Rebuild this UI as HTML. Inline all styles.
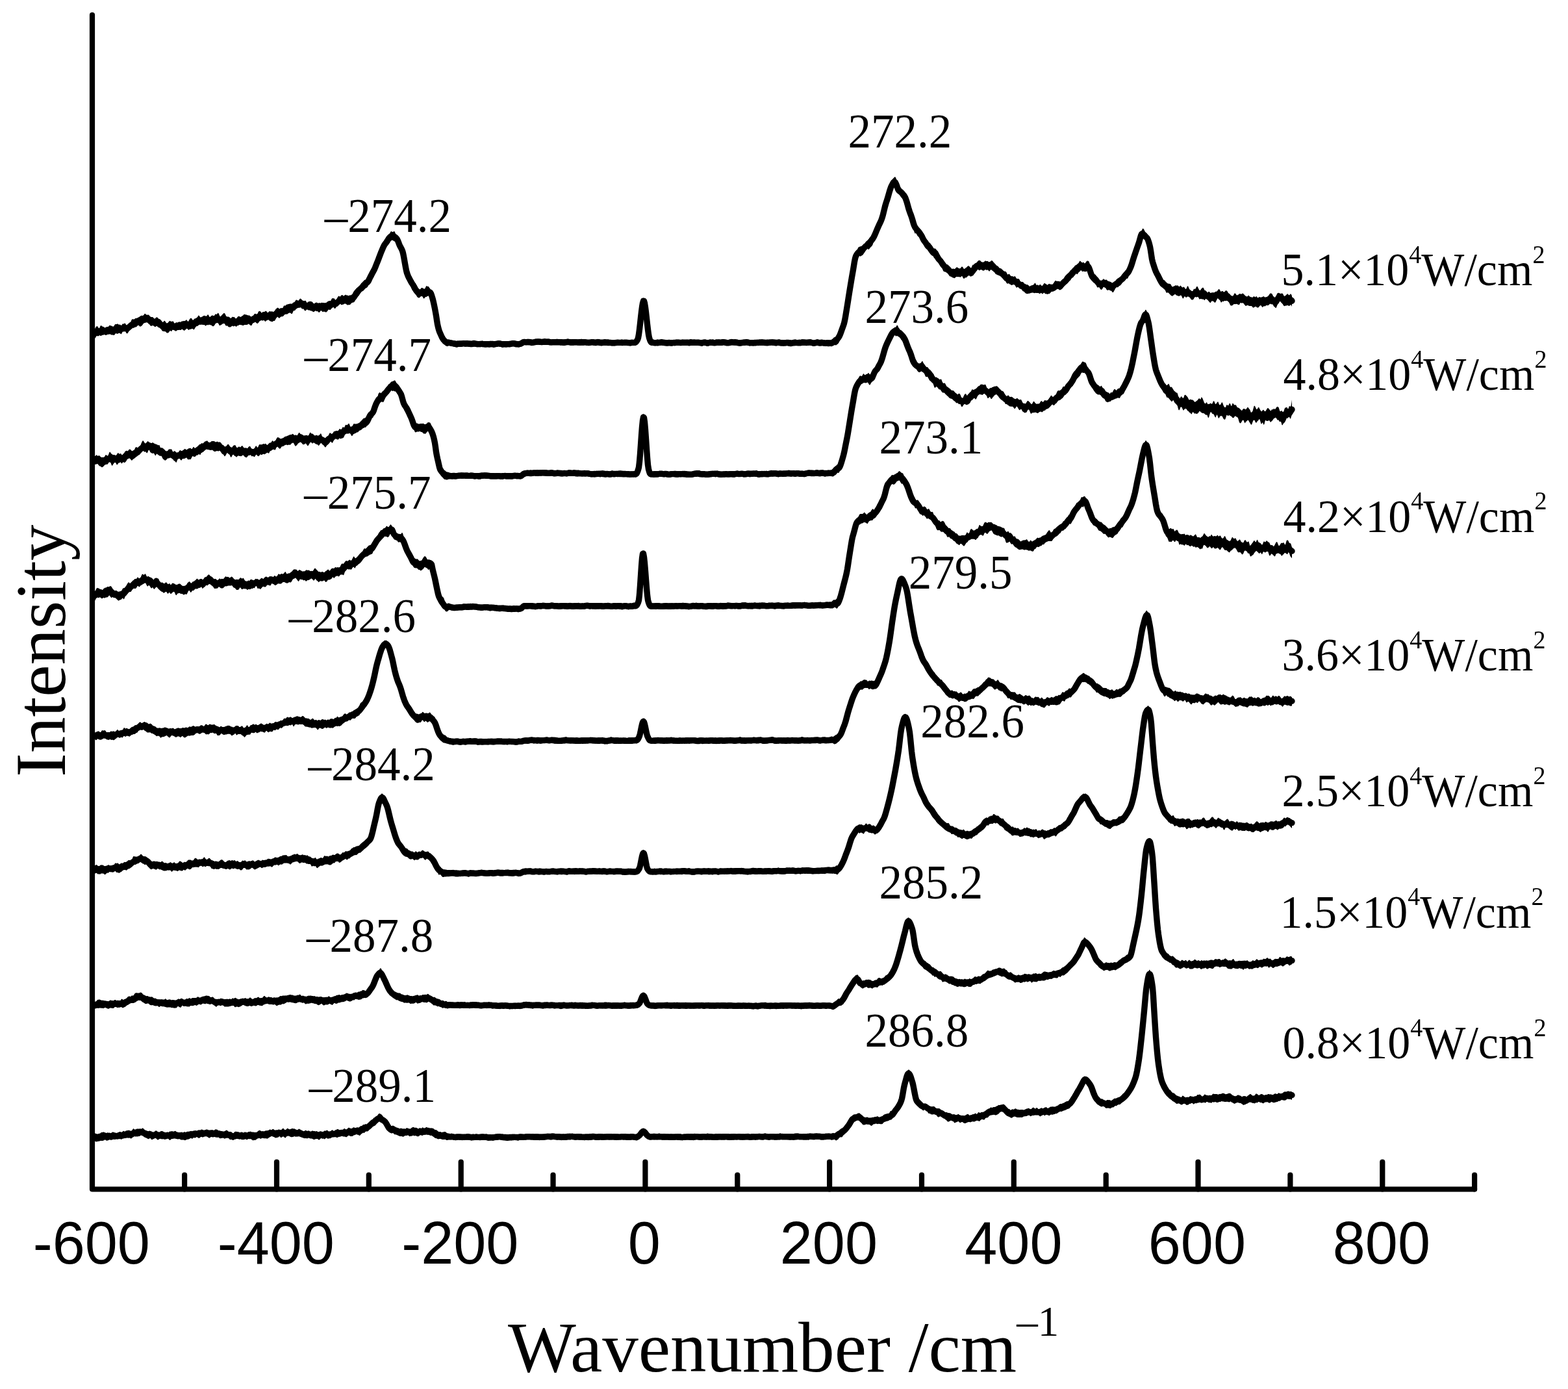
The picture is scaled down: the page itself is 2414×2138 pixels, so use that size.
<!DOCTYPE html>
<html><head><meta charset="utf-8"><title>Raman spectra</title>
<style>html,body{margin:0;padding:0;background:#fff;overflow:hidden;width:2414px;height:2138px;}svg{display:block;}</style>
</head><body>
<svg width="2414" height="2138" viewBox="0 0 2414 2138">
<rect width="2414" height="2138" fill="#fff"/>
<g fill="none" stroke="#000" stroke-linejoin="round" stroke-linecap="round">
<path stroke-width="9.4" d="M145.5,511.3l1,-0.1 1,-0.2 1,-0.2 1,-0.3 1,-0.3 1,0 1,0.1 1,0.3 1,0.3 1,0.2 1,0 1,-0.3 1,-0.5 1,-0.4 1,-0.3 1,-0.1 1,0.1 1,0.3 1,0.1 1,-0.2 1,-0.6 1,-0.8 1,-0.7 1,-0.4 1,0.1 1,0.4 1,0.8 1,0.7 1,0.2 1,-0.6 1,-1.1 1,-1.2 1,-0.8 1,-0.3 1,0.1 1,0 1,0 1,0 1,0.1 1,0.2 1,0.1 1,-0.1 1,-0.3 1,-0.4 1,-0.1 1,0 1,0.1 1,-0 1,-0.2 1,-0.2 1,-0.2 1,-0.4 1,-0.6 1,-0.8 1,-0.9 1,-0.9 1,-0.8 1,-0.5 1,-0.4 1,-0.2 1,-0.4 1,-0.5 1,-0.7 1,-0.6 1,-0.5 1,-0.4 1,-0.6 1,-0.7 1,-0.7 1,-0.6 1,-0.3 1,-0.2 1,-0.1 1,-0 1,-0.1 1,-0.3 1,-0.3 1,-0.5 1,-0.4 1,-0.3 1,-0.2 1,0.1 1,0.4 1,0.6 1,0.7 1,0.8 1,0.9 1,0.7 1,0.6 1,0.4 1,0.3 1,0.4 1,0.2 1,0.1 1,-0 1,0.1 1,0.2 1,0.4 1,0.5 1,0.6 1,0.6 1,0.6 1,0.4 1,0.3 1,0.2 1,0.4 1,0.7 1,0.8 1,0.7 1,0.6 1,0.3 1,-0 1,-0 1,-0 1,-0 1,-0.2 1,-0.4 1,-0.6 1,-0.4 1,-0.1 1,0.2 1,0.3 1,0.2 1,-0 1,-0.3 1,-0.5 1,-0.6 1,-0.7 1,-0.3 1,0.2 1,0.4 1,0.3 1,-0 1,-0.2 1,-0.2 1,0.1 1,0.2 1,0.1 1,-0.3 1,-0.6 1,-0.6 1,-0.3 1,0.1 1,0.4 1,0.1 1,-0.4 1,-0.6 1,-0.5 1,-0.3 1,0.1 1,-0 1,-0 1,-0.2 1,-0.3 1,-0.6 1,-0.9 1,-0.9 1,-0.9 1,-0.8 1,-0.5 1,-0.1 1,-0 1,-0.1 1,-0.2 1,-0.4 1,-0.3 1,-0.1 1,0.1 1,0.2 1,0.3 1,0.3 1,0.2 1,-0.1 1,-0.2 1,-0.3 1,-0.1 1,0.1 1,0.1 1,-0.1 1,-0.2 1,-0.4 1,-0.4 1,-0.2 1,-0 1,0.2 1,0.2 1,0.1 1,-0.2 1,-0.2 1,-0.2 1,-0 1,0.2 1,0.2 1,0.3 1,0.2 1,-0.2 1,-0.5 1,-0.6 1,-0.5 1,0.1 1,0.6 1,0.9 1,0.9 1,0.7 1,0.6 1,0.5 1,0.3 1,0.1 1,-0.1 1,-0.3 1,-0.4 1,-0.5 1,-0.3 1,-0 1,0.3 1,0.4 1,0.5 1,0.4 1,-0 1,-0.2 1,-0.3 1,-0.2 1,0.1 1,-0.1 1,-0.1 1,-0.3 1,-0.4 1,-0.4 1,-0.2 1,-0 1,0.2 1,0.1 1,-0.1 1,-0.6 1,-0.7 1,-0.5 1,-0.1 1,0.3 1,0.4 1,0.5 1,0.2 1,-0.1 1,-0.4 1,-0.9 1,-1 1,-0.8 1,-0.4 1,-0 1,0.1 1,-0.1 1,-0.3 1,-0.5 1,-0.6 1,-0.4 1,-0.2 1,0.1 1,0.2 1,-0.1 1,-0.3 1,-0.7 1,-0.5 1,-0.2 1,-0 1,0.1 1,-0 1,0.1 1,0.3 1,0.3 1,0.3 1,0.1 1,-0 1,-0.3 1,-0.4 1,-0.5 1,-0.4 1,-0.3 1,-0.3 1,-0.5 1,-0.9 1,-1 1,-0.6 1,-0.1 1,0.4 1,0.3 1,-0.1 1,-0.7 1,-1 1,-1 1,-0.7 1,-0.4 1,-0.3 1,-0.3 1,-0.5 1,-0.5 1,-0.5 1,-0.2 1,-0.2 1,-0.2 1,-0.2 1,-0.3 1,-0.3 1,-0.3 1,-0.5 1,-0.5 1,-0.5 1,-0.7 1,-0.7 1,-0.9 1,-1.1 1,-1.1 1,-0.7 1,-0.2 1,0.1 1,0.3 1,0.2 1,-0.1 1,-0.2 1,-0.1 1,0.2 1,0.2 1,0.3 1,0.3 1,0.2 1,0.4 1,0.6 1,0.4 1,0.3 1,0.1 1,-0 1,-0.1 1,-0 1,-0.1 1,-0 1,-0 1,0.2 1,0.5 1,0.6 1,0.5 1,0.1 1,-0 1,-0 1,0.3 1,0.3 1,0.3 1,-0.2 1,-0.5 1,-0.7 1,-0.5 1,-0.1 1,0.5 1,0.6 1,0.6 1,0.3 1,-0 1,-0.3 1,-0.5 1,-0.5 1,-0.5 1,-0.5 1,-0.3 1,-0.2 1,-0.3 1,-0.5 1,-0.7 1,-0.9 1,-0.9 1,-0.8 1,-0.4 1,0.1 1,0.3 1,0.1 1,-0.3 1,-0.6 1,-0.9 1,-0.9 1,-0.8 1,-0.8 1,-0.5 1,-0.1 1,0.1 1,0.1 1,-0.2 1,-0.5 1,-0.4 1,-0.2 1,0.2 1,0.5 1,0.5 1,0.5 1,0.1 1,-0.1 1,-0.2 1,-0.3 1,-0.3 1,-0.4 1,-0.7 1,-0.9 1,-1 1,-1.1 1,-1.3 1,-1.6 1,-1.9 1,-1.8 1,-1.4 1,-1.1 1,-0.9 1,-1.1 1,-1 1,-0.9 1,-0.7 1,-0.6 1,-1 1,-1.2 1,-1.4 1,-1.4 1,-1.3 1,-1 1,-0.7 1,-0.4 1,-0.5 1,-1 1,-1.7 1,-2.2 1,-2.2 1,-2.1 1,-1.9 1,-1.9 1,-1.8 1,-1.8 1,-1.8 1,-2 1,-2.3 1,-2.5 1,-2.6 1,-2.5 1,-2.5 1,-2.5 1,-2.6 1,-2.7 1,-2.6 1,-2.6 1,-2.4 1,-2.4 1,-2.4 1,-2.1 1,-2 1,-1.6 1,-1.3 1,-1.2 1,-1.3 1,-1.7 1,-1.8 1,-1.6 1,-1.2 1,-1 1,-0.8 1,-0.5 1,-0.3 1,0.1 1,0.2 1,0.4 1,0.5 1,0.7 1,0.8 1,1.1 1,1.4 1,2.1 1,2.5 1,2.6 1,2.4 1,1.9 1,1.9 1,1.9 1,2.3 1,3.5 1,4.9 1,5.6 1,5.7 1,5.6 1,5 1,3.8 1,2.8 1,2.4 1,2.1 1,1.9 1,1.9 1,1.8 1,1.8 1,1.6 1,1.5 1,1.6 1,1.7 1,1.9 1,1.9 1,1.7 1,1.4 1,1.1 1,0.9 1,0.8 1,0.5 1,-0.2 1,-0.5 1,-0.6 1,-0.2 1,0.2 1,0.4 1,0.1 1,-0.2 1,-0.3 1,-0.3 1,-0.1 1,-0.1 1,-0.1 1,-0.1 1,0.1 1,0.2 1,0.5 1,1.7 1,2.7 1,3.2 1,3.5 1,4.2 1,4.6 1,5 1,5.3 1,5.6 1,6.6 1,6.3 1,4.5 1,3.8 1,3.1 1,2.3 1,2.2 1,2.2 1,2.1 1,1.9 1,1.4 1,1.2 1,1.1 1,0.9 1,0.8 1,0.6 1,0.2 1,0.1 1,-0 1,0.1 1,0.2 1,0.3 1,0.2 1,0.2 1,0.1 1,0.2 1,0.2 1,0.2 1,0.1 1,0.1 1,0.1 1,-0 1,-0.1 1,0.1 1,-0 1,-0 1,-0.1 1,-0.1 1,-0.1 1,-0.1 1,-0.1 1,-0 1,-0 1,0.1 1,-0 1,-0 1,-0 1,-0 1,-0 1,0.1 1,0.1 1,0.2 1,0.1 1,0.1 1,-0.1 1,-0.1 1,-0.2 1,-0.2 1,-0.1 1,0.1 1,0.1 1,0.2 1,0.2 1,0.1 1,-0 1,-0 1,-0 1,-0.1 1,-0.1 1,-0 1,0.1 1,0.1 1,-0 1,-0 1,-0 1,-0 1,-0 1,-0 1,-0 1,0.1 1,0.1 1,-0.1 1,-0.1 1,-0.1 1,-0 1,-0 1,-0 1,0.1 1,0.1 1,-0 1,-0.1 1,-0.1 1,-0.2 1,-0.2 1,-0.2 1,-0 1,-0 1,0.2 1,0.2 1,0.2 1,0.2 1,-0 1,-0 1,-0.1 1,-0 1,-0 1,-0 1,-0 1,-0 1,-0 1,-0 1,-0 1,-0.1 1,-0.1 1,-0.2 1,-0.2 1,-0.2 1,-0.1 1,-0 1,0.2 1,0.2 1,0.3 1,0.3 1,0.1 1,-0 1,-0 1,-0.1 1,-0.2 1,-0.2 1,-0.2 1,-0.4 1,-0.6 1,-0.7 1,-0.6 1,-0.3 1,-0 1,0.1 1,0.1 1,-0 1,-0.1 1,-0 1,-0.1 1,-0 1,0.1 1,0.1 1,0.2 1,0.2 1,-0 1,-0 1,-0.1 1,-0.1 1,-0.2 1,-0.2 1,-0.2 1,-0.2 1,-0 1,-0.1 1,0.1 1,0.1 1,0.1 1,0.1 1,0.1 1,-0 1,-0.1 1,-0 1,-0.1 1,-0.1 1,-0 1,-0 1,0.1 1,-0 1,-0 1,0.1 1,0.1 1,0.2 1,0.1 1,0.1 1,-0 1,-0 1,-0.1 1,-0.1 1,-0.1 1,0.1 1,0.1 1,-0 1,-0 1,-0 1,-0 1,-0.1 1,-0 1,-0 1,-0 1,0.1 1,0.1 1,0.1 1,-0 1,-0 1,-0 1,-0.2 1,-0.1 1,-0.1 1,-0.1 1,-0 1,-0 1,0.1 1,0.1 1,0.2 1,0.1 1,0.1 1,-0 1,-0.1 1,-0.1 1,-0.1 1,-0 1,-0 1,0.1 1,-0 1,0.1 1,0.1 1,-0 1,-0 1,-0.1 1,-0 1,0.1 1,-0 1,-0 1,-0.1 1,-0.1 1,-0 1,-0 1,0.1 1,0.2 1,0.1 1,0.1 1,0.1 1,-0.1 1,-0.2 1,-0.2 1,-0.1 1,-0.1 1,0.1 1,0.2 1,0.1 1,0.1 1,-0 1,-0.1 1,-0.2 1,-0.2 1,-0.1 1,-0 1,0.1 1,0.2 1,0.2 1,0.1 1,0.1 1,-0.1 1,-0.1 1,-0.1 1,-0.1 1,0.1 1,-0 1,-0 1,0.1 1,-0 1,0.1 1,0.1 1,-0 1,0.1 1,-0 1,0.2 1,0.1 1,0.1 1,-0 1,-0.1 1,-0.1 1,-0.1 1,-0.1 1,-0.1 1,-0.1 1,-0 1,0.1 1,-0 1,-0 1,-0 1,-0 1,-0 1,-0 1,-0 1,-0 1,-0.1 1,-0.1 1,-0 1,0.1 1,0.1 1,0.1 1,0.1 1,-0 1,-0 1,-0 1,-0.1 1,-0.1 1,-0 1,-0 1,-0 1,-0 1,-0 1,-0.4 1,-1 1,-1.4 1,-1.7 1,-2.7 1,-5.5 1,-7.6 1,-8.9 1,-9.2 1,-8.8 1,-7.7 1,-5.9 1,-3.3 1,0.1 1,3.5 1,6.1 1,7.9 1,8.9 1,9.1 1,8.5 1,7.4 1,5.3 1,3 1,2.4 1,1.5 1,0.1 1,-0 1,0.2 1,0.2 1,0.3 1,-0 1,-0.1 1,-0.1 1,-0.1 1,-0 1,-0 1,-0.1 1,-0.1 1,-0.2 1,-0.1 1,-0 1,0.1 1,0.2 1,0.1 1,0.1 1,-0 1,0.1 1,0.1 1,-0 1,-0 1,-0 1,-0 1,-0 1,-0 1,0.1 1,-0.1 1,-0 1,-0.1 1,-0 1,-0.1 1,-0 1,-0 1,-0.1 1,-0.2 1,-0.1 1,-0 1,0.1 1,0.1 1,0.1 1,0.1 1,-0 1,-0.1 1,-0 1,-0.1 1,-0 1,-0 1,-0 1,-0 1,-0.1 1,-0 1,0.1 1,-0 1,0.1 1,-0 1,-0.1 1,-0 1,-0 1,0.1 1,-0 1,-0 1,-0.1 1,-0 1,-0.1 1,-0 1,-0 1,-0 1,0.1 1,0.1 1,0.1 1,0.1 1,0.1 1,0.1 1,-0.1 1,-0.1 1,-0.2 1,-0.2 1,-0.1 1,0.1 1,0.2 1,0.2 1,0.2 1,-0 1,-0.1 1,-0.2 1,-0.1 1,-0.1 1,-0 1,0.1 1,-0 1,0.1 1,0.1 1,0.1 1,-0 1,-0.1 1,-0.2 1,-0.2 1,-0.1 1,-0 1,0.1 1,0.1 1,0.1 1,-0 1,-0.1 1,-0.1 1,-0.2 1,-0.2 1,-0 1,0.2 1,0.2 1,0.3 1,0.1 1,0.1 1,0.1 1,-0.1 1,-0.1 1,-0.2 1,-0.3 1,-0.2 1,-0 1,-0 1,-0 1,-0 1,-0 1,-0.1 1,0.1 1,0.1 1,0.2 1,0.3 1,0.3 1,0.2 1,-0 1,-0 1,-0.2 1,-0.2 1,-0.1 1,-0.1 1,-0.1 1,-0 1,-0.1 1,-0.2 1,-0.1 1,-0.1 1,0.1 1,0.2 1,0.3 1,0.2 1,0.2 1,0.1 1,-0 1,-0.1 1,-0 1,-0 1,0.1 1,-0 1,-0.1 1,-0.1 1,-0.2 1,-0.1 1,-0 1,-0 1,-0.1 1,-0.1 1,-0 1,-0.1 1,-0 1,0.1 1,-0 1,0.1 1,0.1 1,0.1 1,0.1 1,-0 1,-0 1,-0 1,-0.1 1,-0.1 1,-0.1 1,-0.1 1,-0.1 1,-0 1,-0.1 1,0.1 1,0.1 1,0.2 1,0.1 1,-0 1,-0 1,-0 1,-0.1 1,-0.1 1,-0 1,0.1 1,0.2 1,0.1 1,-0 1,-0 1,0.1 1,-0 1,0.1 1,-0 1,-0.1 1,-0.1 1,-0.2 1,-0 1,-0.1 1,0.1 1,0.1 1,0.2 1,0.2 1,0.1 1,0.1 1,-0.2 1,-0.2 1,-0.2 1,-0.1 1,-0 1,-0 1,0.1 1,-0 1,-0 1,0.1 1,0.1 1,-0 1,-0 1,-0.1 1,-0.2 1,-0.1 1,-0.1 1,-0 1,-0 1,-0 1,-0 1,0.1 1,0.1 1,-0.1 1,-0.1 1,-0.2 1,-0.1 1,-0.1 1,0.1 1,0.2 1,0.3 1,0.2 1,0.2 1,0.1 1,-0 1,-0.1 1,-0.2 1,-0.3 1,-0.2 1,-0.1 1,0.1 1,0.3 1,0.2 1,0.1 1,-0 1,-0.1 1,-0.1 1,-0 1,0.1 1,0.1 1,0.1 1,-0 1,-0 1,-0 1,-0.1 1,0.1 1,-0 1,-0 1,0.1 1,-0 1,-0.1 1,-0.1 1,-0.2 1,-0.6 1,-0.9 1,-0.8 1,-0.8 1,-0.7 1,-0.5 1,-0.8 1,-1 1,-1.3 1,-1.5 1,-1.8 1,-2.3 1,-2.6 1,-2.8 1,-2.9 1,-2.7 1,-2.8 1,-3.1 1,-4.3 1,-5.3 1,-6 1,-6.1 1,-6.3 1,-6.3 1,-6.4 1,-6.3 1,-6.2 1,-6.1 1,-6 1,-5.9 1,-5.6 1,-5.7 1,-6.2 1,-6.2 1,-5 1,-3.3 1,-1.9 1,-1.6 1,-1.3 1,-1.1 1,-0.6 1,-0.6 1,-0.8 1,-0.8 1,-1 1,-0.8 1,-0.8 1,-0.8 1,-1 1,-1.1 1,-1 1,-0.6 1,-0.5 1,-0.6 1,-1 1,-1.3 1,-1.4 1,-1.4 1,-1.2 1,-1 1,-1.2 1,-1.4 1,-1.6 1,-1.9 1,-2 1,-2.3 1,-2.4 1,-2.5 1,-2.3 1,-2.3 1,-2.3 1,-2.2 1,-2 1,-2.1 1,-2.3 1,-2.6 1,-3.1 1,-3.6 1,-4 1,-4.2 1,-4.1 1,-3.5 1,-3.2 1,-3 1,-3.2 1,-3.4 1,-3.6 1,-3.5 1,-3.2 1,-2.8 1,-2.2 1,-1.9 1,-2 1,-1.6 1,-0.9 1,-0 1,1.1 1,2 1,2.5 1,2.9 1,2.7 1,1.8 1,1.1 1,0.7 1,0.5 1,0.9 1,1 1,1.2 1,1.1 1,1.2 1,1.4 1,1.8 1,2.5 1,2.8 1,3.3 1,3.6 1,3.7 1,3.4 1,3 1,2.6 1,2.6 1,2.9 1,3.2 1,3.5 1,3.4 1,2.8 1,2.2 1,1.6 1,1.3 1,1.2 1,1.1 1,1.1 1,1.1 1,1.4 1,1.4 1,1.4 1,1.6 1,1.8 1,2.1 1,2.1 1,1.7 1,1.4 1,1.2 1,1.4 1,1.7 1,1.7 1,1.3 1,1 1,0.8 1,1.1 1,1.4 1,1.5 1,1.4 1,1.4 1,1.2 1,0.9 1,0.5 1,0.5 1,0.8 1,1.3 1,1.7 1,1.8 1,1.6 1,1.3 1,1.1 1,1 1,1.3 1,1.5 1,1.6 1,1.6 1,1.3 1,1 1,0.9 1,0.9 1,0.9 1,0.6 1,0.6 1,0.8 1,1 1,1.2 1,1.2 1,1.1 1,0.9 1,0.6 1,0.5 1,0.3 1,-0 1,-0.3 1,-0.4 1,-0.3 1,-0.1 1,0.1 1,0.3 1,0.3 1,0.1 1,-0.3 1,-0.6 1,-0.8 1,-0.5 1,0.2 1,0.6 1,0.7 1,0.5 1,-0.1 1,-0.5 1,-0.7 1,-0.6 1,-0.4 1,-0 1,0.3 1,0.4 1,0.3 1,-0.2 1,-0.5 1,-0.9 1,-1 1,-0.9 1,-1.1 1,-1.3 1,-1.5 1,-1.3 1,-1.1 1,-0.5 1,-0.1 1,0.2 1,0.2 1,-0 1,-0 1,-0 1,-0.2 1,-0.3 1,-0.4 1,-0.2 1,-0 1,0.2 1,-0 1,-0.2 1,-0.1 1,-0 1,0.3 1,-0 1,-0.3 1,-0.5 1,-0.3 1,0.2 1,0.8 1,1.2 1,1.4 1,1.4 1,1.2 1,1 1,0.8 1,0.5 1,0.4 1,0.4 1,0.7 1,0.9 1,1 1,0.8 1,0.7 1,0.6 1,0.7 1,0.9 1,1.1 1,1.1 1,1 1,0.9 1,0.5 1,0.3 1,0.5 1,0.8 1,0.9 1,1 1,0.8 1,0.7 1,0.3 1,0.2 1,-0 1,0.1 1,0.1 1,0.3 1,0.5 1,0.7 1,0.9 1,0.8 1,0.5 1,0.3 1,0.4 1,0.6 1,1 1,1 1,0.6 1,0.2 1,0.1 1,0.3 1,0.8 1,1.2 1,0.9 1,0.6 1,0.3 1,0.4 1,0.5 1,0.4 1,0.2 1,-0.3 1,-0.5 1,-0.7 1,-0.6 1,-0.5 1,-0.2 1,-0.1 1,0.2 1,0.4 1,0.4 1,0.4 1,0.2 1,0 1,-0.1 1,-0.1 1,-0.1 1,0 1,-0.1 1,-0.1 1,-0.3 1,-0.2 1,-0.2 1,-0.2 1,-0.1 1,-0.2 1,0.1 1,0.1 1,0.2 1,0.1 1,-0.1 1,0 1,-0.2 1,-0.1 1,-0.1 1,0 1,-0.2 1,-0.4 1,-0.9 1,-0.9 1,-0.7 1,-0.4 1,-0.1 1,-0.1 1,-0.2 1,-0.2 1,-0.2 1,-0.1 1,-0.4 1,-0.8 1,-1 1,-1.1 1,-1 1,-0.9 1,-0.9 1,-0.9 1,-1.2 1,-1.4 1,-1.4 1,-1.3 1,-1.2 1,-0.9 1,-0.8 1,-0.9 1,-0.9 1,-1 1,-1 1,-1.2 1,-1.4 1,-1.2 1,-1 1,-0.4 1,-0.1 1,-0.2 1,-0.6 1,-1.3 1,-1.8 1,-1.6 1,-0.8 1,0.2 1,0.9 1,0.9 1,0.6 1,0.1 1,-0.1 1,-0.2 1,-0.3 1,-0.4 1,-0.3 1,-0.1 1,0.6 1,1.8 1,2.6 1,2.9 1,3.1 1,2.7 1,2.1 1,1.3 1,0.9 1,0.6 1,0.6 1,0.8 1,1.2 1,1.5 1,1.4 1,1.2 1,0.8 1,0.7 1,0.6 1,0.4 1,0.1 1,-0.4 1,-0.5 1,-0.3 1,-0 1,0.4 1,0.5 1,0.6 1,0.6 1,0.4 1,0.3 1,0.1 1,-0.1 1,-0 1,0.1 1,0.2 1,0.4 1,0.2 1,-0 1,-0.4 1,-0.7 1,-0.8 1,-0.9 1,-0.7 1,-0.4 1,-0.3 1,-0.4 1,-0.9 1,-1.3 1,-1.4 1,-1 1,-0.7 1,-0.7 1,-0.9 1,-1.2 1,-1.4 1,-1.4 1,-1.3 1,-1 1,-0.9 1,-0.8 1,-1.2 1,-1.5 1,-2 1,-2.1 1,-2.2 1,-2.6 1,-3 1,-3.2 1,-3.3 1,-3.2 1,-3.1 1,-2.8 1,-3 1,-2.9 1,-2.9 1,-2.8 1,-2.8 1,-2.8 1,-3.6 1,-3.8 1,-3.4 1,-2.3 1,-0.7 1,0.5 1,0.8 1,1.1 1,1.1 1,1.1 1,0.8 1,0.8 1,1.4 1,2.2 1,3 1,3.5 1,3.9 1,5.7 1,6.9 1,6.4 1,4.3 1,3.2 1,3.2 1,3.1 1,2.8 1,2.6 1,2.1 1,1.9 1,1.8 1,1.9 1,2.1 1,2 1,1.9 1,1.8 1,1.7 1,1.5 1,1 1,0.7 1,0.7 1,0.7 1,0.9 1,1 1,0.9 1,0.7 1,0.5 1,0.4 1,0.5 1,0.6 1,0.7 1,0.7 1,0.6 1,0.3 1,-0.1 1,-0.6 1,-0.7 1,-0.6 1,-0 1,0.6 1,0.8 1,0.7 1,0.4 1,0.1 1,-0 1,0.1 1,0.3 1,0.5 1,0.5 1,0.3 1,0.3 1,0.2 1,-0 1,-0.3 1,-0.5 1,-0.4 1,0.1 1,0.7 1,1.1 1,1.1 1,0.8 1,0.4 1,-0 1,-0.2 1,-0.4 1,-0.3 1,-0.2 1,-0.1 1,-0.1 1,-0.2 1,-0.2 1,-0.1 1,0.2 1,0.3 1,0.3 1,0.2 1,0.1 1,-0.3 1,-0.4 1,-0.4 1,-0.1 1,0.3 1,0.7 1,0.9 1,0.8 1,0.7 1,0.7 1,0.6 1,0.5 1,0.3 1,-0.2 1,-0.4 1,-0.7 1,-0.5 1,-0.3 1,-0 1,-0 1,-0 1,-0.1 1,-0.2 1,-0.3 1,-0.4 1,-0.3 1,-0 1,0.4 1,0.9 1,1.1 1,1.2 1,0.9 1,0.5 1,0.1 1,-0.2 1,-0.5 1,-0.7 1,-0.8 1,-0.8 1,-0.4 1,0.3 1,0.9 1,1.3 1,1.4 1,0.9 1,0.4 1,0.1 1,-0.1 1,-0.1 1,-0 1,-0 1,0.1 1,0.1 1,-0 1,-0.1 1,-0.4 1,-0.4 1,-0.3 1,0.1 1,0.2 1,0.4 1,0.4 1,0.5 1,0.3 1,0.2 1,0.2 1,0.2 1,0.5 1,0.6 1,0.6 1,0.5 1,0.1 1,-0.2 1,-0.5 1,-0.3 1,-0 1,0.3 1,0.4 1,0.3 1,0.1 1,-0.1 1,-0.1 1,-0 1,0.4 1,0.6 1,0.6 1,0.2 1,-0.3 1,-0.5 1,-0.6 1,-0.3 1,-0.2 1,-0.3 1,-0.4 1,-0.4 1,-0.2 1,-0.1 1,-0.2 1,-0.2 1,-0.1 1,-0.1 1,-0 1,-0.2 1,-0.2 1,-0.3 1,-0.3 1,-0.3 1,-0.3 1,-0.1 1,0.3 1,0.7 1,1.1 1,1.2 1,0.8 1,0.2 1,-0.6 1,-1.2 1,-1.6 1,-1.7 1,-1.4 1,-0.9 1,-0.3 1,0.4 1,0.8 1,1.2 1,1.4 1,1.4 1,1.1 1,0.8 1,0.2 1,-0.3 1,-0.6 1,-0.6 1,-0.5 1,-0.4 1,-0.4 1,-0.3 1,-0 1,0.6 1,0.9 0.5,0.7"/>
<path stroke="none" fill="#000" d="M145.5,507.5l1,-2.3 1,-1.7 1,-1.1 1,-0.5 1,0.8 1,1.8 1,1.1 1,-1.3 1,-2.5 1,-0.8 1,0.6 1,0.8 1,0.3 1,0.4 1,0.9 1,0.5 1,-0.4 1,-0.7 1,-0.4 1,-0.1 1,-0 1,-1 1,-1.1 1,0.1 1,0.3 1,0.4 1,0.3 1,0.6 1,0.3 1,-1.1 1,-1.6 1,-1 1,-0.1 1,-0.1 1,-0.4 1,0.1 1,0.9 1,0.3 1,-0.2 1,0.5 1,1 1,-0.9 1,-1.6 1,-0.2 1,-0 1,-0.6 1,-0.3 1,1.2 1,2.5 1,0.2 1,-1.4 1,-1.4 1,-0.6 1,-0.6 1,-0.8 1,-1.7 1,-2.3 1,-1.3 1,-0.1 1,0.3 1,-0.1 1,-0.6 1,-0.9 1,-0.3 1,0.3 1,-0.6 1,-0.5 1,-0.5 1,-0.6 1,-0.8 1,-0.6 1,-0.5 1,0 1,0.1 1,-0.3 1,-0.9 1,-1.6 1,-0.4 1,1 1,0.7 1,0.3 1,-0.1 1,-0.1 1,0.6 1,1.3 1,1.1 1,0.6 1,0 1,-0.2 1,0.4 1,1.1 1,1 1,0 1,-1 1,-0.9 1,-0.2 1,0.4 1,1.2 1,0.9 1,0.2 1,0.6 1,1 1,1 1,1.3 1,1.1 1,-0.5 1,-1.4 1,-0.4 1,1.1 1,1.8 1,0.9 1,-0.3 1,-0.3 1,-1.3 1,-1.2 1,-0.6 1,0.8 1,0.1 1,0.2 1,-0.5 1,-0.1 1,1.8 1,1.3 1,0.2 1,-0.9 1,-0.6 1,0.6 1,0.3 1,-1 1,-0.8 1,0.4 1,0.2 1,-0.3 1,-0.7 1,-0.6 1,0.3 1,-0.6 1,0 1,0.4 1,-0.9 1,-1.2 1,0.2 1,1.6 1,0.9 1,-0.8 1,-2 1,-1.6 1,-0.7 1,-0.1 1,1 1,1.7 1,0.4 1,-1.2 1,-1.2 1,-0.2 1,-0.3 1,-0.7 1,-0.6 1,-1.4 1,-1.6 1,0.1 1,1.5 1,1.4 1,0.1 1,-0.9 1,-0.5 1,-0.6 1,-0.8 1,-0.2 1,0.3 1,0.4 1,0.4 1,-0.7 1,-1.6 1,-0.3 1,1.6 1,2 1,0.3 1,-1.3 1,-0.9 1,-0.4 1,0.1 1,0.5 1,0.1 1,-1.2 1,-1.6 1,0.1 1,0.6 1,-1.2 1,-1.3 1,0.6 1,2.2 1,2.3 1,0.5 1,-1 1,-1.1 1,-1.2 1,-1 1,-0.8 1,-0.1 1,1.1 1,2.1 1,1.9 1,0.5 1,0 1,-0.1 1,0.3 1,0.8 1,0.8 1,0.5 1,-1 1,-1.3 1,0.3 1,0.2 1,-0.4 1,1.2 1,1.7 1,-0.1 1,-1 1,-1.3 1,-1.1 1,-0.4 1,0.4 1,0.5 1,0.3 1,-0.7 1,-0.8 1,-0.4 1,-0.8 1,-1.2 1,-0.2 1,0.4 1,0.1 1,0.1 1,0.5 1,0.4 1,0.2 1,-0.1 1,0.3 1,1.1 1,0.6 1,-0.1 1,-0.1 1,-0.7 1,-1.6 1,-1.4 1,-0.7 1,0.3 1,0.4 1,0 1,-0.8 1,-2.1 1,-1.7 1,-0.2 1,0.4 1,1 1,1.4 1,-0.3 1,-1.1 1,-0.1 1,0.1 1,-0.4 1,-0.7 1,-0.4 1,1 1,1.4 1,0.2 1,-0.9 1,-1.1 1,-0.2 1,0.5 1,0 1,-0.2 1,0.3 1,0.5 1,-0.4 1,-1 1,-1.3 1,-1.6 1,-0.9 1,-0.6 1,-0.7 1,0.3 1,1.2 1,0.4 1,-1 1,-0.5 1,0.5 1,0.6 1,-1.2 1,-2.3 1,-1.3 1,0.3 1,-0.2 1,-1.1 1,-0.6 1,-0.1 1,-0.3 1,-0.2 1,-0.3 1,-0.2 1,-0.1 1,0.1 1,0.1 1,-1.2 1,-1 1,0.4 1,-0.4 1,-2 1,-1.8 1,-0.3 1,0.6 1,0.6 1,0.1 1,-1.1 1,-1.6 1,-0.5 1,0.4 1,1.4 1,1 1,0.4 1,0.3 1,0.2 1,-0.5 1,0 1,1.5 1,1.8 1,-0.4 1,-1.2 1,-0.2 1,-0.2 1,-0.3 1,0.2 1,0.3 1,0.2 1,1.2 1,1.5 1,0.5 1,-0.7 1,-0.8 1,-0.3 1,-0.3 1,0.5 1,0.8 1,-0.3 1,-0.4 1,0.3 1,0 1,-0.5 1,-0.1 1,0.3 1,-0.1 1,-0.1 1,0.3 1,0.1 1,-0.2 1,-0.3 1,-0.9 1,-0.9 1,-0.4 1,-0.3 1,-0.2 1,0.2 1,-0.9 1,-2.2 1,-1.1 1,0.2 1,-0.1 1,0 1,1.5 1,1.4 1,-0.4 1,-1.7 1,-1.9 1,-1.6 1,-1 1,0.5 1,0.7 1,-1.1 1,-1.2 1,-0.3 1,0.2 1,1.1 1,0.1 1,-1 1,-0.7 1,0 1,0.6 1,0.1 1,0.2 1,0.6 1,-0.4 1,-0.6 1,0.3 1,-0.3 1,-0.8 1,-0.6 1,-0.6 1,-1.3 1,-0.9 1,-1.4 1,-2.6 1,-2 1,-0.8 1,-0.4 1,-0.5 1,-1.2 1,-1.6 1,-1.1 1,-1.6 1,-1.4 1,0.4 1,0 1,-2 1,-2.5 1,-0.7 1,0 1,-1.3 1,-1.6 1,-1.2 1,-1.2 1,-2.1 1,-2.1 1,-1.5 1,-2.2 1,-1.9 1,-0.6 1,-0.9 1,-1.4 1,-1.7 1,-2.2 1,-2.2 1,-2.2 1,-2.2 1,-2.8 1,-2.6 1,-2.5 1,-3 1,-2.8 1,-2.3 1,-2.5 1,-3.4 1,-3.2 1,-2.2 1,-2.2 1,-2.7 1,-1.9 1,-0.8 1,0.6 1,0.5 1,-2.1 1,-3.3 1,-2.4 1,-0.9 1,-1.3 1,-1.9 1,-0.5 1,0.7 1,0.4 1,-0.4 1,-0.8 1,0.3 1,2.4 1,2.5 1,1.1 1,0.9 1,1.9 1,2.9 1,2.9 1,1.9 1,1 1,1.5 1,1.3 1,1 1,3 1,5.9 1,6.2 1,5.7 1,6.1 1,5.6 1,4 1,2.6 1,2.3 1,1.8 1,1.5 1,2.3 1,1.8 1,1.7 1,2.6 1,2.2 1,1.3 1,1.9 1,3.2 1,2.5 1,1.5 1,-0.3 1,-0.2 1,0.6 1,0.9 1,0.7 1,0.5 1,-0.7 1,-1.4 1,-0.2 1,0.2 1,0.5 1,0.6 1,0.3 1,-1 1,-2.1 1,-1.5 1,0.4 1,0.5 1,-0.2 1,1.1 1,1.5 1,1.3 1,2.2 1,3.5 1,3.6 1,3.2 1,3.4 1,4.4 1,4 1,4.7 1,5.4 1,5.7 1,5.5 1,4.5 1,4.3 1,3.7 1,2.8 1,2.4 1,2.9 1,3.1 1,2.1 1,1.2 1,0.8 1,0.6 1,1 1,1.2 1,0.9 1,0.7 1,0 1,-0.1 1,0.2 1,0.4 1,0.3 1,0.1 1,0.1 1,0.3 1,0.2 1,0.1 1,0.1 1,0.3 1,0.3 1,0.3 1,-0.1 1,-0.4 1,-0.1 1,-0.1 1,-0.1 1,0.1 1,0 1,0.1 1,-0.1 1,-0.2 1,-0.2 1,0 1,0.2 1,0.1 1,-0.2 1,-0.1 1,0.1 1,0.1 1,0.2 1,0.1 1,-0.1 1,0.1 1,0.2 1,-0.1 1,-0.3 1,-0.4 1,-0.1 1,0.1 1,0.4 1,0.6 1,0.6 1,0.3 1,0 1,-0.2 1,-0.3 1,-0.1 1,0 1,-0.1 1,-0.4 1,-0.2 1,0.3 1,0.4 1,0.2 1,0 1,-0.1 1,-0.1 1,0.1 1,0.1 1,-0.1 1,0 1,-0.3 1,-0.2 1,0.1 1,0.2 1,0.2 1,0.1 1,0 1,0.1 1,0.2 1,0 1,-0.1 1,-0.3 1,-0.4 1,-0.4 1,-0.3 1,0.1 1,0.1 1,-0 1,0.1 1,0.4 1,0.4 1,0.1 1,-0.1 1,-0.1 1,-0.1 1,-0.1 1,0.1 1,-0 1,-0.1 1,-0 1,0.2 1,0.1 1,-0.1 1,-0.2 1,-0.4 1,-0.1 1,0.1 1,-0 1,-0.3 1,0.1 1,0.2 1,0.2 1,-0 1,0.1 1,0.1 1,0.1 1,-0.1 1,-0.1 1,-0.2 1,-0.6 1,-0.8 1,-0.6 1,-0.4 1,-0.3 1,0.1 1,0.1 1,-0.1 1,-0.1 1,-0.2 1,-0 1,0.1 1,0.3 1,0.2 1,-0 1,0.3 1,0.3 1,0.1 1,-0.3 1,-0.4 1,-0.5 1,-0.4 1,-0 1,-0.1 1,-0 1,0.1 1,-0 1,-0.1 1,-0 1,0.2 1,0.2 1,0.1 1,-0.1 1,-0.1 1,-0.2 1,-0.3 1,-0.2 1,0.2 1,0.3 1,0.3 1,-0.1 1,-0.2 1,0.1 1,-0 1,0.2 1,0.5 1,0.2 1,-0.1 1,-0.3 1,-0.2 1,-0 1,0.1 1,0.1 1,-0.1 1,-0.2 1,-0.1 1,0.1 1,0.1 1,0.1 1,-0.1 1,-0 1,0.3 1,0.4 1,-0 1,-0.1 1,-0.1 1,-0 1,-0.1 1,-0.1 1,-0.2 1,-0.2 1,-0.2 1,-0.1 1,0.2 1,0.4 1,0.2 1,0.2 1,-0.2 1,-0.2 1,0 1,0 1,-0.1 1,0.1 1,0.1 1,0.1 1,-0 1,-0 1,0.1 1,-0.2 1,-0.3 1,-0 1,-0 1,-0.1 1,-0.1 1,0.2 1,0.2 1,-0.1 1,-0.1 1,0.1 1,0.3 1,0.2 1,0.3 1,0.1 1,-0.1 1,-0.1 1,0.1 1,-0.1 1,-0.3 1,-0.3 1,-0.1 1,-0 1,0.1 1,0.2 1,0.3 1,0.1 1,-0.1 1,-0.3 1,-0.3 1,-0.2 1,0.1 1,0.4 1,0.6 1,0.4 1,-0.1 1,-0.2 1,-0 1,-0.2 1,-0.2 1,-0.3 1,-0.2 1,0.1 1,0.2 1,0.1 1,-0 1,0.1 1,0.2 1,0.2 1,0.2 1,0.3 1,0.1 1,0.1 1,-0 1,-0.1 1,-0.2 1,-0 1,-0 1,-0.1 1,-0.2 1,-0.2 1,-0 1,0.1 1,0.3 1,0.1 1,-0.5 1,-0.3 1,-0 1,0.2 1,0.2 1,0.2 1,-0 1,-0.2 1,-0.1 1,-0 1,0.3 1,0.1 1,-0.1 1,-0.1 1,-0.1 1,-0 1,-0.1 1,-0.1 1,-0 1,0.2 1,0.1 1,-0.1 1,-0.4 1,-0.7 1,-0.9 1,-1.3 1,-2 1,-2.7 1,-5.2 1,-7.5 1,-8.9 1,-9.1 1,-8.5 1,-7.5 1,-6 1,-3.6 1,-0 1,3.6 1,6.2 1,7.9 1,9 1,9.2 1,8.5 1,7.3 1,5.3 1,2.9 1,2.1 1,1.3 1,0 1,0.1 1,0.3 1,0.3 1,0.3 1,0.1 1,0 1,-0.2 1,-0.5 1,0 1,0.3 1,0.3 1,0.1 1,-0.3 1,-0.5 1,-0.2 1,0.2 1,0.2 1,0.2 1,0 1,0.2 1,0.1 1,0.1 1,0.1 1,-0.1 1,-0.1 1,-0.2 1,0 1,0.2 1,0.2 1,0 1,0.2 1,0.2 1,-0 1,-0.2 1,-0.2 1,-0.1 1,-0.3 1,-0.1 1,0.1 1,-0 1,-0 1,0.2 1,0.1 1,-0 1,-0 1,-0.4 1,-0.1 1,0.2 1,0.3 1,-0 1,-0.1 1,0.1 1,-0.1 1,-0.2 1,0.1 1,0.1 1,-0.1 1,-0.3 1,-0.3 1,-0.2 1,0.1 1,0.2 1,0.1 1,-0.1 1,-0 1,0.2 1,0.3 1,-0 1,-0 1,0.1 1,-0.2 1,-0.1 1,0.1 1,0.2 1,0.3 1,0.4 1,-0 1,-0.2 1,-0.4 1,-0.4 1,-0.3 1,-0 1,0.3 1,0.2 1,0.2 1,0.1 1,-0.1 1,-0.2 1,-0.3 1,-0.1 1,0.2 1,0.1 1,-0.3 1,-0.2 1,0.3 1,0.6 1,-0.1 1,-0.4 1,-0.1 1,-0 1,-0 1,-0.1 1,-0.2 1,0.1 1,0.1 1,0.2 1,-0.3 1,-0.4 1,-0.1 1,0.2 1,0.3 1,-0 1,0.1 1,0.2 1,0.1 1,0.1 1,-0 1,-0 1,-0.1 1,-0.3 1,-0.3 1,-0.3 1,-0.1 1,0.2 1,0.2 1,0.2 1,0.3 1,0.1 1,-0.1 1,-0 1,-0 1,0.1 1,0.4 1,0.2 1,-0 1,-0.1 1,-0.1 1,-0.1 1,-0.1 1,-0.1 1,-0.1 1,-0.2 1,-0.1 1,-0.1 1,-0.2 1,0.1 1,0.2 1,0.2 1,0.1 1,0.3 1,0.3 1,0.1 1,-0.1 1,-0 1,0.1 1,-0.2 1,-0.3 1,-0.2 1,-0.1 1,0.1 1,0.1 1,-0.1 1,-0 1,0.1 1,-0.1 1,-0.2 1,-0.1 1,-0 1,-0.2 1,-0 1,0.2 1,0.2 1,-0 1,-0 1,-0 1,-0 1,-0.2 1,0.1 1,0.2 1,-0 1,-0.1 1,-0.2 1,0.1 1,-0 1,-0.2 1,-0.1 1,0.1 1,0.1 1,0.1 1,0.1 1,0.1 1,0.2 1,0.1 1,-0.2 1,-0.4 1,-0.3 1,0.2 1,0.4 1,0.3 1,0.3 1,0.1 1,-0.1 1,0.1 1,-0 1,-0.2 1,-0.1 1,-0.1 1,-0.1 1,-0 1,0.2 1,0.1 1,-0 1,-0 1,0.2 1,0.2 1,-0.2 1,-0.3 1,-0.4 1,-0.1 1,-0.2 1,-0 1,0.1 1,0.3 1,-0 1,-0 1,-0.2 1,-0.1 1,0.1 1,-0 1,-0.2 1,-0.3 1,-0 1,0.1 1,0.1 1,0.2 1,0.2 1,-0.1 1,-0 1,0.1 1,-0 1,-0 1,-0.2 1,-0.2 1,-0.1 1,-0 1,0.4 1,0.8 1,0.6 1,-0 1,-0.2 1,-0.5 1,-0.2 1,-0.3 1,-0.6 1,-0.1 1,0.4 1,0.3 1,-0 1,-0.1 1,-0.1 1,-0.1 1,-0 1,0.1 1,0.2 1,0.5 1,0.5 1,-0 1,-0.1 1,0.1 1,-0.1 1,-0.4 1,-0.1 1,0.3 1,0.2 1,-0.1 1,-0.3 1,-0.5 1,-0.4 1,-0.9 1,-1.8 1,-0.8 1,0.8 1,0.1 1,-1.6 1,-1.5 1,-0.4 1,-0.4 1,-2 1,-3.7 1,-3.8 1,-2.8 1,-2.3 1,-2.3 1,-2.5 1,-1.9 1,-1.6 1,-3.7 1,-6.6 1,-7.5 1,-6.3 1,-5.6 1,-6.1 1,-6.8 1,-7.4 1,-6.6 1,-5 1,-5.5 1,-6.4 1,-6.1 1,-6.1 1,-6.9 1,-5.8 1,-4.5 1,-3 1,-1.1 1,-1.2 1,-2.3 1,-1.9 1,-0.7 1,-0.3 1,-0.4 1,-0 1,-0.3 1,-0.2 1,-0.2 1,-0.9 1,-1.6 1,-1.8 1,-1.6 1,-1.3 1,-0.7 1,-0.5 1,-0.2 1,-1.5 1,-2.3 1,-1.1 1,-0.3 1,-1 1,-1.1 1,-0.4 1,-1.5 1,-2.7 1,-3.3 1,-3.4 1,-2.6 1,-1.7 1,-2.1 1,-2.4 1,-2.3 1,-2.6 1,-2.5 1,-1.5 1,-1.4 1,-2.3 1,-2.6 1,-3.3 1,-3.8 1,-5 1,-5 1,-3.3 1,-2.9 1,-2.9 1,-3.2 1,-4.4 1,-4.8 1,-3 1,-2.8 1,-2.5 1,-1.7 1,-1.9 1,-1.7 1,-1 1,-1 1,-1 1,0.2 1,2 1,3.5 1,3.9 1,2.7 1,1.4 1,0.8 1,1.1 1,0.9 1,0.9 1,1.7 1,1.6 1,1.2 1,0.5 1,0.7 1,1.7 1,2.6 1,3.3 1,3.6 1,3.3 1,3.3 1,3.2 1,2.3 1,2.2 1,2.5 1,2.8 1,4.1 1,3.9 1,3.8 1,3.4 1,2 1,0.9 1,0.8 1,1.9 1,2.2 1,1.6 1,0.8 1,0.9 1,0.7 1,1.3 1,2.4 1,1.6 1,1.5 1,1.8 1,1.6 1,2.1 1,1.8 1,0.6 1,0.3 1,1.8 1,2.4 1,1.6 1,-0.1 1,-0.3 1,1.4 1,1.7 1,0.8 1,1.7 1,2.4 1,1.1 1,-0.2 1,-0 1,0.6 1,1.3 1,1.3 1,0.7 1,1.5 1,2.1 1,2.4 1,1.7 1,1.7 1,2.2 1,2 1,1.8 1,1.6 1,0.8 1,-0.1 1,0.5 1,1.6 1,1.3 1,-0.1 1,0.2 1,1.2 1,1.2 1,1.2 1,2.1 1,1.5 1,0.1 1,-1 1,-0.6 1,0.7 1,0.2 1,-0.5 1,-1.1 1,-1 1,-0.3 1,0.7 1,0.8 1,0.3 1,0.4 1,-0.3 1,-1.4 1,-1.1 1,-0.2 1,1.2 1,1.8 1,0.7 1,-0.6 1,-0.9 1,-0.6 1,-0.9 1,-1.1 1,-0.7 1,-0 1,0.9 1,1.1 1,1.3 1,-0.3 1,-2.9 1,-1.9 1,0.3 1,-0.2 1,-0.9 1,-1.1 1,-0.6 1,-0.6 1,-1.4 1,-1.2 1,-0.8 1,-0.3 1,0.1 1,0.8 1,1.1 1,0.6 1,0.4 1,0.4 1,-0.3 1,-1.2 1,-1 1,-0 1,0.5 1,-0.1 1,-0.2 1,0.7 1,2 1,0.8 1,-1.7 1,-2.1 1,-0.4 1,0.2 1,0.8 1,1.6 1,1.6 1,0.8 1,0.6 1,1.2 1,0.8 1,0.5 1,0.7 1,1.2 1,1.6 1,0.7 1,-0.3 1,0.4 1,0.9 1,0.9 1,1.1 1,0.9 1,0.5 1,-0 1,0.3 1,1.2 1,2.2 1,1.2 1,-0.7 1,-0.4 1,0.9 1,1.5 1,1.1 1,0.1 1,-0.3 1,0.7 1,0.4 1,-0.6 1,-0.3 1,1.1 1,1.7 1,1.2 1,-0 1,-0.1 1,0.3 1,1 1,2.1 1,1.6 1,0.1 1,-0.2 1,-0.1 1,0.7 1,1.6 1,1.5 1,1.1 1,0.2 1,-0.9 1,-0.1 1,0.7 1,0.7 1,1.1 1,0.4 1,-0.8 1,-0.6 1,-0.1 1,-0.2 1,-0.6 1,-0.6 1,-1.4 1,-1.2 1,1.5 1,1.9 1,0.1 1,-0.5 1,0.7 1,0.4 1,-1.1 1,-0.6 1,0.9 1,1.2 1,0.3 1,-1 1,-1.7 1,-1.3 1,0 1,0.6 1,0.6 1,0.8 1,0.6 1,-0.6 1,-1.1 1,-0.2 1,0.7 1,-0 1,0.1 1,0.3 1,-0.3 1,-1.1 1,-1.4 1,-1.7 1,-1.4 1,0.1 1,0.6 1,0.1 1,-0.1 1,0.1 1,0.2 1,0.2 1,0.2 1,-0.5 1,-1.6 1,-1.2 1,-0.2 1,-0.7 1,-1.5 1,-2 1,-1.4 1,-0.6 1,-0.9 1,-0.8 1,-0 1,-1.2 1,-2.4 1,-1.8 1,-0.7 1,-0.3 1,-0.4 1,-0.6 1,-1.4 1,-2.1 1,-1.8 1,-0.7 1,-0.6 1,-0.6 1,-0.8 1,-0.5 1,-1.1 1,-2.1 1,-1.3 1,0.3 1,1.2 1,1 1,0.3 1,-0.7 1,-0 1,1.5 1,0.1 1,-1.2 1,-1.5 1,-1 1,-0 1,0.2 1,0.8 1,2.6 1,3.1 1,3.6 1,3.6 1,2.4 1,1.5 1,1.1 1,1 1,0.7 1,0.6 1,1.1 1,1.7 1,1.9 1,1.4 1,0.9 1,1.4 1,0.5 1,-0.3 1,0.4 1,-0.2 1,-1.2 1,-1 1,-0.1 1,1.1 1,0.5 1,-0.5 1,0.1 1,1.1 1,0.8 1,0.3 1,0.3 1,0.5 1,0.3 1,0.5 1,0.9 1,0.8 1,0.3 1,-0.8 1,-1.6 1,-1 1,-1 1,-1.3 1,-1.2 1,-0.7 1,-0.4 1,-0.1 1,-0.5 1,-0.8 1,-1 1,-1.4 1,-1 1,-1 1,-1.7 1,-1.7 1,-1.3 1,-1.4 1,-0.8 1,0.3 1,0.8 1,-0.9 1,-1.8 1,-3.6 1,-3.9 1,-2.9 1,-2.2 1,-2.1 1,-2.7 1,-3.7 1,-3.7 1,-3.2 1,-2.9 1,-3 1,-3.1 1,-2.3 1,-1.9 1,-2.4 1,-2.7 1,-3.3 1,-3.7 1,-2.9 1,-2.3 1,-2.4 1,-1.5 1,0.6 1,1.5 1,2.4 1,1.7 1,0.6 1,0.7 1,1.5 1,1.9 1,3 1,3.5 1,3.7 1,5.7 1,7.9 1,6.9 1,3.1 1,1.8 1,3.6 1,4.6 1,3.5 1,2.2 1,1.9 1,2.7 1,2.4 1,1.2 1,0.8 1,1.8 1,1.9 1,0.9 1,0.9 1,1.8 1,2 1,0.9 1,0.1 1,0.8 1,1.4 1,0.9 1,0.8 1,1.1 1,0.3 1,0.2 1,-0 1,0.3 1,0.6 1,2 1,1.6 1,0.1 1,-0.7 1,-0.3 1,-0.4 1,-0.7 1,-0 1,0.4 1,-0.4 1,0.3 1,1 1,0.8 1,-1.1 1,-0.9 1,1 1,1.6 1,0.6 1,-0.6 1,-0.4 1,1 1,1.7 1,1 1,-1.1 1,-2.7 1,-1.5 1,1.2 1,2.5 1,2 1,0.7 1,0.7 1,1 1,0.5 1,-0.9 1,-2.1 1,-1 1,0.5 1,-0.6 1,-2.1 1,-1.6 1,0.3 1,1.9 1,1.9 1,1.7 1,0.7 1,-1.3 1,-1.4 1,-1 1,-0.9 1,-0 1,1.7 1,2.3 1,0.6 1,0.2 1,1.2 1,1.7 1,-0 1,-1.5 1,-0.1 1,1.3 1,0.8 1,0.3 1,-0.2 1,-0.5 1,0.9 1,1.1 1,-0.9 1,-2.2 1,-0.7 1,-0 1,-0.2 1,-1.2 1,-1.6 1,-0.6 1,0.4 1,1.8 1,1.6 1,-0.3 1,-0.7 1,0.2 1,1.1 1,0.4 1,-0.7 1,-1.2 1,-0.6 1,0.3 1,0.9 1,1.8 1,2.3 1,1.7 1,0.4 1,-0 1,0.4 1,0.6 1,0.4 1,-0.6 1,-1.8 1,-2 1,-0.1 1,0.8 1,1.7 1,0.5 1,-0.4 1,-0.4 1,-0.9 1,-0.8 1,0.3 1,0.5 1,-0.2 1,-0.8 1,-0.2 1,1.1 1,1 1,1 1,0.8 1,0.6 1,0.6 1,-0.4 1,-1.3 1,-0.1 1,1.1 1,0.8 1,0.6 1,-0 1,0.4 1,-0 1,-1 1,-0.8 1,0.9 1,0.8 1,-1.1 1,-0.5 1,1.5 1,1 1,-0.5 1,-0.9 1,0.1 1,0.5 1,-0.1 1,-0.2 1,-0.4 1,-0.6 1,-0.4 1,0.9 1,1.6 1,0.2 1,-1 1,-0.6 1,-0.9 1,-0.8 1,-1.2 1,-1.5 1,-1.1 1,-0.1 1,0.3 1,0.8 1,1.8 1,2.3 1,1.8 1,0.3 1,-0.8 1,-1.8 1,-2.6 1,-2.1 1,-0.6 1,-0.1 1,0.1 1,0.8 1,0.3 1,-0.3 1,-0.1 1,0.2 1,1.3 1,2.4 1,0.6 1,-0.8 1,-0.5 1,-1.1 1,-1.2 1,-0.2 1,1.3 1,0.8 1,-0.6 1,-1.3 1,-0.1 1,1.8 0.5,1.6 0,16.5 -0.5,-1.5 -1,-1.6 -1,0.3 -1,1 -1,0.4 -1,-0.3 -1,-0.5 -1,-0.1 -1,0.4 -1,0.2 -1,0.2 -1,0.4 -1,-0.4 -1,-1.3 -1,-2.3 -1,-1.5 -1,-0.8 -1,-1.1 -1,-0.8 -1,1.1 -1,2.8 -1,0.9 -1,1.8 -1,2.4 -1,2.2 -1,-0.4 -1,-1.2 -1,-0.6 -1,-1.6 -1,-1.9 -1,-0 -1,-0.2 -1,-0 -1,-0.7 -1,0.6 -1,1.1 -1,0.7 -1,0.2 -1,-0.4 -1,0.1 -1,0.8 -1,0.8 -1,-0.3 -1,-0 -1,1.4 -1,0.5 -1,-1.3 -1,-1.5 -1,-0.3 -1,0.7 -1,1.4 -1,1.2 -1,0.2 -1,-0.1 -1,-0.7 -1,-1 -1,0.2 -1,0.6 -1,0.7 -1,0.6 -1,-0.7 -1,-1.6 -1,-0.6 -1,0.1 -1,0.1 -1,-0.2 -1,-0.4 -1,-0.3 -1,-0.4 -1,0.2 -1,1 -1,-0.2 -1,-1.2 -1,-1 -1,-1.5 -1,-1.3 -1,0.7 -1,0.2 -1,-0.7 -1,0.2 -1,1.9 -1,1.4 -1,-0.4 -1,-0.5 -1,-0.3 -1,-0.6 -1,0.2 -1,0.4 -1,-0.3 -1,0.2 -1,0.7 -1,1 -1,0.6 -1,0.1 -1,-0.3 -1,-1.8 -1,-2.3 -1,-1.4 -1,-0.8 -1,-0.9 -1,-0.4 -1,0.5 -1,-0 -1,-0.5 -1,0.7 -1,0.8 -1,-0.6 -1,0.6 -1,1.4 -1,-0.3 -1,-2.5 -1,-3.4 -1,-1.8 -1,0.4 -1,1.6 -1,1.4 -1,2 -1,1.9 -1,1 -1,-0.6 -1,-1.2 -1,-0.3 -1,-0.5 -1,-0 -1,1.8 -1,1.2 -1,-0.8 -1,-1.1 -1,-1.2 -1,-1.1 -1,-1 -1,-1.4 -1,-0.1 -1,1.5 -1,1.1 -1,-0.7 -1,-1 -1,0.1 -1,0.1 -1,-0.6 -1,-0.1 -1,0.5 -1,-0 -1,-1.7 -1,-1.7 -1,-0.1 -1,0.6 -1,-0 -1,-0.5 -1,0.2 -1,1.5 -1,1.6 -1,1 -1,0.2 -1,-0.2 -1,-0.9 -1,-1.4 -1,-1.7 -1,-1.7 -1,-0.2 -1,1.1 -1,0.6 -1,0.6 -1,-0.1 -1,-1.1 -1,-0.3 -1,1.8 -1,1.6 -1,-0.9 -1,-2.3 -1,-1.8 -1,-0.2 -1,0.8 -1,0.4 -1,0.1 -1,-0.4 -1,-0.4 -1,-0.2 -1,-0.8 -1,-1 -1,0.1 -1,0.8 -1,0.6 -1,0.9 -1,0.4 -1,-0.6 -1,-0.7 -1,-0.9 -1,-1.1 -1,-1.2 -1,-0.8 -1,-0.2 -1,0.5 -1,-0.4 -1,-2.2 -1,-2.6 -1,-0.9 -1,-0.6 -1,-1.4 -1,-1.2 -1,-0.9 -1,-0.6 -1,-1.5 -1,-1.6 -1,-1 -1,-1.6 -1,-2.8 -1,-3.1 -1,-2.2 -1,-1.4 -1,-1.2 -1,-2.2 -1,-3.2 -1,-3.9 -1,-4.4 -1,-5 -1,-6.8 -1,-7.1 -1,-5.5 -1,-3.6 -1,-3.1 -1,-2.8 -1,-2.7 -1,-1.9 -1,-0.6 -1,-0.8 -1,-1.4 -1,-1.3 -1,-0.5 -1,-0.2 -1,-0 -1,1.4 -1,2.8 -1,2.5 -1,2.4 -1,2.9 -1,3.7 -1,3.3 -1,2.4 -1,3 -1,3.3 -1,4.4 -1,2.3 -1,3 -1,3.3 -1,3.8 -1,3.7 -1,2.2 -1,1.8 -1,2.1 -1,2.3 -1,2.4 -1,2.4 -1,0.9 -1,-0.4 -1,0.2 -1,1.7 -1,1.4 -1,0.5 -1,0.5 -1,1.2 -1,1.5 -1,1.2 -1,1.3 -1,1.3 -1,0.4 -1,0.9 -1,1.5 -1,0.3 -1,-0.9 -1,0.1 -1,1.5 -1,2.3 -1,1.8 -1,1.8 -1,1.3 -1,-0.6 -1,-1.5 -1,-0.7 -1,-0 -1,-0.6 -1,-0.8 -1,0.3 -1,0.3 -1,-0 -1,-1 -1,-1.9 -1,-1.5 -1,-0.7 -1,-0.3 -1,0.9 -1,1.8 -1,1.4 -1,0.5 -1,-0.5 -1,-1.2 -1,-1.6 -1,-0.5 -1,0.5 -1,-0.1 -1,-1.5 -1,-2.5 -1,-2.4 -1,-0.6 -1,0.2 -1,-0.8 -1,-1.1 -1,-0.8 -1,-1.5 -1,-2.6 -1,-3.1 -1,-3 -1,-3.5 -1,-3.2 -1,-0.5 -1,1.3 -1,1 -1,0.1 -1,0.2 -1,-0.3 -1,-0.4 -1,0.2 -1,0.2 -1,-0.5 -1,-1.3 -1,-0.5 -1,0.9 -1,1.2 -1,1.7 -1,1.7 -1,1.2 -1,-0.6 -1,-1.3 -1,0.8 -1,2 -1,1.8 -1,1.4 -1,0.8 -1,0.5 -1,1.1 -1,1.8 -1,1.3 -1,0.7 -1,1 -1,1.2 -1,1.3 -1,0.6 -1,0.7 -1,0.8 -1,0.9 -1,0.9 -1,1.4 -1,1.5 -1,1.3 -1,0.9 -1,0.7 -1,0.4 -1,0.2 -1,-0.4 -1,-1 -1,-0.6 -1,0.3 -1,0.5 -1,0.5 -1,0.9 -1,0.8 -1,0.7 -1,0.6 -1,0.1 -1,0 -1,0.4 -1,1.1 -1,1.3 -1,0.7 -1,0 -1,0.1 -1,0.6 -1,-0.4 -1,-0.4 -1,0.2 -1,-0.8 -1,-1 -1,0.5 -1,1.2 -1,0.2 -1,-1.2 -1,-0.5 -1,1 -1,0.5 -1,-0.7 -1,-0.6 -1,-0.1 -1,0.1 -1,-0.1 -1,-0.1 -1,0.3 -1,0.1 -1,-0.3 -1,-0.5 -1,0 -1,-0.1 -1,-0.5 -1,0.5 -1,1.2 -1,0.3 -1,-0.1 -1,0.5 -1,0 -1,-0.1 -1,-0.3 -1,-0.8 -1,-1.1 -1,-1.1 -1,-0.3 -1,-0.5 -1,-1.6 -1,-1.4 -1,-0.9 -1,-0.2 -1,0 -1,-0.9 -1,-1.2 -1,-0.1 -1,1 -1,-0.1 -1,-1.8 -1,-2.2 -1,-0.9 -1,0.2 -1,0.2 -1,0.6 -1,0.4 -1,-0.6 -1,-0.8 -1,-0.3 -1,-0.8 -1,-0.6 -1,0.7 -1,-0.1 -1,-1.2 -1,-1.8 -1,-1 -1,-0.4 -1,-1.2 -1,-1.7 -1,-1.9 -1,-1.2 -1,-0.6 -1,-1.4 -1,-0.5 -1,0.4 -1,-0.3 -1,-0.3 -1,-0.3 -1,-0.6 -1,-0.3 -1,-0.8 -1,-1.8 -1,-1.9 -1,-1 -1,0 -1,-0.5 -1,-0.8 -1,-0.5 -1,0.9 -1,1.6 -1,0 -1,-1.6 -1,-0.7 -1,0.5 -1,0 -1,-0.7 -1,0 -1,1 -1,0.7 -1,-0.1 -1,-0.3 -1,-0.8 -1,-0.6 -1,0.4 -1,0.8 -1,0.2 -1,-0.9 -1,-0.8 -1,0.5 -1,1.4 -1,1.6 -1,1.7 -1,1.3 -1,1.2 -1,1.5 -1,0.8 -1,0.1 -1,0.6 -1,0.4 -1,-0.4 -1,-0.9 -1,-0.4 -1,0.7 -1,0.8 -1,1 -1,0.9 -1,-0.2 -1,0.3 -1,1.4 -1,-0.1 -1,-1.3 -1,-2.3 -1,-0.3 -1,1.1 -1,0.7 -1,-0.3 -1,-0.3 -1,0.2 -1,0 -1,-0.2 -1,0 -1,0.5 -1,1 -1,0.7 -1,-0.2 -1,-0.6 -1,-0.3 -1,-0.4 -1,-0.9 -1,-0.3 -1,-0.2 -1,-1 -1,-1.3 -1,-1.7 -1,-1 -1,-0.5 -1,-0.9 -1,-0.5 -1,-0.1 -1,-0.5 -1,-0.5 -1,-1.9 -1,-2.8 -1,-1.6 -1,-1.1 -1,-1.2 -1,-1.5 -1,-1.7 -1,-1.9 -1,-2 -1,-2 -1,-1.7 -1,-0.8 -1,0.2 -1,0.2 -1,-1.3 -1,-2.7 -1,-2.3 -1,-0.9 -1,-0.5 -1,-0.4 -1,-0.4 -1,-0.8 -1,-1.8 -1,-2.4 -1,-2.1 -1,-0.9 -1,0 -1,-0.8 -1,-2.2 -1,-2.2 -1,-1.1 -1,-0.8 -1,-1.9 -1,-3.3 -1,-2.3 -1,-0.9 -1,-0.1 -1,-0.9 -1,-0.8 -1,-0.8 -1,-1.9 -1,-1.9 -1,-0.1 -1,0.5 -1,-2.8 -1,-4.8 -1,-4 -1,-3.3 -1,-3.2 -1,-3.4 -1,-3.3 -1,-2.9 -1,-2.2 -1,-2.3 -1,-3.3 -1,-4.4 -1,-3.6 -1,-2.6 -1,-2.9 -1,-2.9 -1,-1.1 -1,0 -1,-0.4 -1,-1.2 -1,-1.3 -1,-1.2 -1,-1.4 -1,-1.6 -1,-1.4 -1,-0.4 -1,-1.2 -1,-3.4 -1,-3.8 -1,-2.1 -1,-0.4 -1,0.9 -1,1.1 -1,0.6 -1,0.9 -1,1.4 -1,1.5 -1,1.8 -1,3.4 -1,4.1 -1,4 -1,3.9 -1,4.2 -1,3.8 -1,2.8 -1,2.9 -1,3.8 -1,3.9 -1,3.8 -1,4.2 -1,3.6 -1,2.9 -1,1.8 -1,1.2 -1,2 -1,2.5 -1,2.4 -1,2.7 -1,2.1 -1,2 -1,2.3 -1,2.2 -1,2.8 -1,3.4 -1,3 -1,1.8 -1,1.1 -1,0.9 -1,1.1 -1,1.4 -1,1.1 -1,-0.3 -1,-1.1 -1,0.1 -1,1.7 -1,1.8 -1,1.6 -1,1.4 -1,1.5 -1,1.5 -1,0.8 -1,0.4 -1,0.7 -1,0.5 -1,-0.7 -1,-0.9 -1,0.1 -1,2.6 -1,3.7 -1,2.2 -1,1 -1,2.1 -1,4 -1,5.8 -1,5.6 -1,5.2 -1,6.7 -1,6.1 -1,5.8 -1,6.8 -1,6.4 -1,6.1 -1,6.1 -1,6 -1,5.9 -1,7 -1,7.8 -1,5.1 -1,2.5 -1,3 -1,3 -1,2.2 -1,3.1 -1,4.2 -1,3.4 -1,2.5 -1,2.1 -1,1.6 -1,1 -1,0.5 -1,0.9 -1,0.3 -1,-0.5 -1,-0.3 -1,0.3 -1,0.6 -1,1.1 -1,0.6 -1,0 -1,-0.2 -1,0 -1,0.1 -1,0.1 -1,-0.1 -1,-0.2 -1,-0.2 -1,0.2 -1,0 -1,-0.2 -1,-0.1 -1,-0.3 -1,-0.2 -1,-0.1 -1,0.2 -1,0.2 -1,-0.1 -1,0 -1,0.1 -1,-0.3 -1,-0.2 -1,-0.3 -1,0.2 -1,0.4 -1,0.2 -1,0.2 -1,0.2 -1,-0.1 -1,-0.5 -1,-0.4 -1,-0.4 -1,-0.1 -1,0.1 -1,-0 -1,-0 -1,0.1 -1,0.2 -1,0.2 -1,-0.1 -1,-0.2 -1,-0.2 -1,0.1 -1,-0 -1,-0.1 -1,0.2 -1,0.1 -1,0.1 -1,0.1 -1,-0 -1,-0 -1,0.1 -1,-0.1 -1,-0.1 -1,-0 -1,0.2 -1,0.1 -1,-0 -1,-0 -1,0.1 -1,0.5 -1,0.4 -1,0.1 -1,-0.1 -1,-0.2 -1,-0.1 -1,-0.3 -1,-0.4 -1,-0.1 -1,0.2 -1,-0 -1,0.1 -1,0.2 -1,0.2 -1,-0.1 -1,-0.1 -1,-0 -1,-0 -1,-0.3 -1,-0.3 -1,-0.3 -1,-0.2 -1,0.1 -1,0.5 -1,0.4 -1,-0 -1,-0.3 -1,-0.3 -1,-0 -1,-0 -1,-0.1 -1,-0.2 -1,-0.4 -1,-0 -1,0.4 -1,0.4 -1,0.1 -1,0.1 -1,-0 -1,0.1 -1,-0.1 -1,-0.2 -1,-0.2 -1,-0.1 -1,-0 -1,-0 -1,-0 -1,0.1 -1,0.1 -1,-0 -1,-0 -1,0.2 -1,0.1 -1,-0.1 -1,-0.1 -1,-0 -1,0.1 -1,-0.1 -1,0.1 -1,0.2 -1,0.1 -1,-0.2 -1,-0.2 -1,-0.1 -1,0.2 -1,0.3 -1,-0.1 -1,-0.2 -1,-0.4 -1,-0.3 -1,-0 -1,0.1 -1,-0.1 -1,-0.1 -1,0.2 -1,0.3 -1,0.1 -1,0.2 -1,0.1 -1,0.2 -1,-0 -1,-0 -1,-0.1 -1,-0.2 -1,-0.2 -1,-0.2 -1,-0 -1,0.1 -1,-0 -1,-0.1 -1,-0.3 -1,-0 -1,-0.1 -1,-0.1 -1,0.1 -1,0.3 -1,0.4 -1,0.1 -1,-0.2 -1,-0 -1,0.2 -1,0.1 -1,-0.3 -1,-0.5 -1,-0.2 -1,-0 -1,0.1 -1,0.3 -1,0.3 -1,-0 -1,-0.3 -1,-0.1 -1,0.2 -1,-0 -1,-0.1 -1,-0.2 -1,-0.2 -1,0.3 -1,0.2 -1,0.1 -1,0.2 -1,-0 -1,-0.1 -1,-0 -1,-0.1 -1,-0.2 -1,0.1 -1,0.2 -1,0.4 -1,0.5 -1,0.1 -1,-0.2 -1,-0.2 -1,-0.3 -1,-0.4 -1,-0.4 -1,0.2 -1,0.5 -1,0.6 -1,0.3 -1,-0.2 -1,-0.6 -1,-0.4 -1,-0.3 -1,-0 -1,0.3 -1,0.1 -1,-0.2 -1,-0.1 -1,0.1 -1,0.1 -1,-0.1 -1,-0.1 -1,0.1 -1,0.1 -1,0.1 -1,-0 -1,0.3 -1,0.4 -1,-0 -1,-0.3 -1,-0.5 -1,-0.1 -1,0.2 -1,-0.1 -1,-0.1 -1,-0.1 -1,0.1 -1,-0.1 -1,-0.1 -1,-0 -1,0.1 -1,-0 -1,0.2 -1,0.2 -1,-0 -1,-0 -1,-0.2 -1,-0.1 -1,0.1 -1,0.4 -1,0.1 -1,-0.2 -1,-0 -1,0.3 -1,0.2 -1,0.1 -1,-0.1 -1,-0.3 -1,-0.2 -1,-0 -1,0.3 -1,-0 -1,-0 -1,0.1 -1,-0.2 -1,-0.1 -1,-0.1 -1,-0.1 -1,-0.3 -1,-0.3 -1,-0.1 -1,0.1 -1,0.1 -1,0.2 -1,0.3 -1,0.3 -1,0.2 -1,-0.2 -1,-0.2 -1,0.1 -1,-0.1 -1,-0.2 -1,-0.2 -1,-0.2 -1,0 -1,0.3 -1,0.1 -1,-1.5 -1,-2.7 -1,-3.2 -1,-5.1 -1,-6.9 -1,-8.4 -1,-9.3 -1,-9.3 -1,-7.9 -1,-5.9 -1,-3.5 -1,-0.1 -1,3.2 -1,5.9 -1,7.8 -1,8.7 -1,9.1 -1,8.8 -1,7.4 -1,5.4 -1,2.7 -1,1.9 -1,1.5 -1,0.7 -1,0.2 -1,0 -1,0.4 -1,0.2 -1,0 -1,0.1 -1,0.3 -1,0.2 -1,-0.1 -1,-0.3 -1,-0.2 -1,-0.1 -1,-0.1 -1,0 -1,0.1 -1,-0.1 -1,-0.1 -1,0.1 -1,0.3 -1,0.2 -1,0 -1,-0.3 -1,-0.2 -1,0 -1,-0.2 -1,0 -1,0.2 -1,-0.1 -1,0.1 -1,0.1 -1,0.2 -1,0.2 -1,-0 -1,-0.1 -1,0 -1,0 -1,0 -1,-0.1 -1,-0.1 -1,0 -1,0.2 -1,0.1 -1,-0.1 -1,-0.2 -1,0 -1,0 -1,-0.1 -1,-0.2 -1,0.2 -1,0.1 -1,0.2 -1,0.3 -1,0 -1,-0.2 -1,-0.1 -1,-0.2 -1,-0.3 -1,-0.3 -1,0.1 -1,0.4 -1,0.4 -1,0 -1,-0.3 -1,-0.5 -1,-0.4 -1,0 -1,0.2 -1,-0 -1,0.1 -1,0.3 -1,0.2 -1,0.1 -1,0.1 -1,-0 -1,-0.1 -1,-0.4 -1,-0.3 -1,-0.1 -1,-0 -1,0.2 -1,-0 -1,-0 -1,-0 -1,0.1 -1,0.2 -1,-0 -1,-0.1 -1,-0 -1,-0.1 -1,-0.2 -1,-0 -1,-0 -1,-0.1 -1,0.1 -1,0.1 -1,0.1 -1,-0 -1,-0.1 -1,0.1 -1,0.2 -1,-0.1 -1,-0.3 -1,-0.2 -1,-0.3 -1,-0.2 -1,0.2 -1,0.5 -1,0.3 -1,0.3 -1,0.1 -1,0.1 -1,-0.2 -1,-0.3 -1,-0.1 -1,0.2 -1,-0.1 -1,-0.5 -1,-0.2 -1,-0 -1,0.1 -1,0.1 -1,-0.1 -1,-0.2 -1,-0.2 -1,0.1 -1,-0.1 -1,0.1 -1,0.4 -1,0.3 -1,-0.1 -1,-0.1 -1,0.1 -1,-0.2 -1,-0.3 -1,-0 -1,-0 -1,-0.2 -1,0 -1,-0.1 -1,-0.1 -1,0.1 -1,0.3 -1,0.2 -1,0.1 -1,-0.1 -1,0 -1,0 -1,0 -1,-0.2 -1,-0.2 -1,0.1 -1,0 -1,0 -1,0.1 -1,0.1 -1,0.2 -1,0.3 -1,0.4 -1,0.2 -1,0.2 -1,-0.2 -1,-0.5 -1,-0.3 -1,0 -1,0 -1,0.1 -1,-0.2 -1,-0.2 -1,0.1 -1,0.1 -1,-0.2 -1,-0.2 -1,0.5 -1,0.9 -1,0.9 -1,0.5 -1,0.2 -1,0.5 -1,0.3 -1,0 -1,-0.1 -1,-0.4 -1,-0.4 -1,-0.2 -1,-0.2 -1,-0.1 -1,0 -1,0.1 -1,0.1 -1,0.1 -1,0.4 -1,0.4 -1,0.1 -1,0.1 -1,-0.2 -1,0 -1,0.1 -1,0.1 -1,0.3 -1,0 -1,-0.2 -1,-0.1 -1,0.2 -1,0.2 -1,0.1 -1,-0.3 -1,-0.5 -1,-0.3 -1,-0.4 -1,-0.2 -1,0 -1,0.4 -1,0.2 -1,0.2 -1,0.1 -1,0.1 -1,0.4 -1,0.4 -1,-0.1 -1,-0.4 -1,-0.2 -1,-0.1 -1,0.1 -1,0.2 -1,0.2 -1,-0.1 -1,-0.4 -1,0 -1,0.4 -1,0.2 -1,-0 -1,-0.1 -1,-0.1 -1,-0.3 -1,-0 -1,-0.3 -1,-0.1 -1,0.2 -1,0.1 -1,-0 -1,-0.1 -1,0.1 -1,-0 -1,-0 -1,-0 -1,-0.3 -1,-0.3 -1,-0.1 -1,-0.1 -1,-0 -1,0.1 -1,0.2 -1,0.1 -1,0.2 -1,0.1 -1,-0.1 -1,-0.2 -1,-0.4 -1,-0.2 -1,0.1 -1,0.2 -1,0.1 -1,-0.2 -1,-0.3 -1,-0 -1,0.2 -1,0.3 -1,0.2 -1,0.2 -1,0.1 -1,-0 -1,-0.1 -1,0.1 -1,0.3 -1,0.3 -1,-0 -1,-0.2 -1,-0.4 -1,-0.4 -1,-0.2 -1,-0.3 -1,-0.4 -1,-0.3 -1,-0.1 -1,-0.2 -1,-0.3 -1,-0.2 -1,0.6 -1,0.8 -1,-0.1 -1,-0.3 -1,-0.2 -1,-0.9 -1,-1.3 -1,-0.9 -1,-0.2 -1,-0.9 -1,-2.7 -1,-3.1 -1,-2.6 -1,-1.8 -1,-1.8 -1,-3.2 -1,-4 -1,-4.7 -1,-6.5 -1,-6.3 -1,-5.8 -1,-5.5 -1,-4.2 -1,-3.1 -1,-3.4 -1,-3.3 -1,-3.8 -1,-3.3 -1,-2.2 -1,-1.7 -1,-0.5 -1,0.6 -1,0.3 -1,0.5 -1,0.7 -1,0.2 -1,0.4 -1,1.4 -1,0.9 -1,-1.4 -1,-2 -1,-0.5 -1,0.1 -1,0.5 -1,1.1 -1,0.8 -1,-0 -1,-0.3 -1,-0.8 -1,-1.6 -1,-1.6 -1,-1.3 -1,-2 -1,-2.4 -1,-1.2 -1,0.3 -1,-1.3 -1,-2.4 -1,-3.4 -1,-3.1 -1,-1.4 -1,-1.1 -1,-2.5 -1,-2.2 -1,-2 -1,-3.8 -1,-5.1 -1,-5.2 -1,-5.4 -1,-6 -1,-6.6 -1,-4.8 -1,-1.8 -1,-0.6 -1,-1.1 -1,-1.4 -1,-1.8 -1,-3.2 -1,-3.1 -1,-1.9 -1,-1.5 -1,-1.6 -1,-1.4 -1,-0.3 -1,-0.3 -1,-0.8 -1,-0.6 -1,-0 -1,0.4 -1,0.7 -1,-0.2 -1,-0.6 -1,0.7 -1,2.7 -1,3.1 -1,1.8 -1,1.4 -1,2.1 -1,2.2 -1,1.1 -1,0.9 -1,2.2 -1,3.6 -1,3.8 -1,2.8 -1,2.6 -1,2.8 -1,2.7 -1,1.5 -1,1.5 -1,2.7 -1,2.9 -1,2.6 -1,2.6 -1,3.2 -1,2.5 -1,1.9 -1,1.1 -1,0.9 -1,1.1 -1,1.2 -1,1.2 -1,1.5 -1,3 -1,2.8 -1,1.3 -1,0.9 -1,0.6 -1,-0 -1,-0.5 -1,0.4 -1,1.9 -1,1.8 -1,0.6 -1,0.7 -1,1.6 -1,1.6 -1,1.8 -1,1.5 -1,1 -1,1.1 -1,0.3 -1,0.6 -1,2.1 -1,2.8 -1,1.9 -1,0.6 -1,-0.1 -1,0.2 -1,0.5 -1,1.2 -1,1.4 -1,0.7 -1,-0.1 -1,0.1 -1,0.3 -1,-0.2 -1,-0.8 -1,-0.9 -1,-0.3 -1,0.2 -1,0.5 -1,0.6 -1,0.1 -1,0.2 -1,0.5 -1,-1.2 -1,-1.6 -1,0.3 -1,1.8 -1,2.2 -1,0.7 -1,0.1 -1,1.3 -1,1.3 -1,0.7 -1,-0.6 -1,-1.4 -1,-0.8 -1,0.4 -1,1.7 -1,1.6 -1,1 -1,-0.1 -1,-0.5 -1,0.4 -1,1.4 -1,1.4 -1,0.8 -1,0.1 -1,-0.2 -1,-0.5 -1,-0.4 -1,0.5 -1,0.1 -1,-1 -1,-0.9 -1,0.3 -1,1.5 -1,1.2 -1,-0.3 -1,-1.4 -1,-0.3 -1,0.1 -1,-0.5 -1,-0.4 -1,0.6 -1,1.1 -1,0.3 -1,-0.5 -1,-1.1 -1,-0.3 -1,-0 -1,-0.5 -1,-0.5 -1,-0 -1,0.2 -1,-0.8 -1,-0.5 -1,0.9 -1,1.1 -1,0.1 -1,-1.1 -1,-1.6 -1,-0.4 -1,0.4 -1,-0.7 -1,-1.6 -1,-0.4 -1,0.5 -1,0.1 -1,0.2 -1,0.1 -1,0.7 -1,0.7 -1,0.7 -1,1.4 -1,0.8 -1,-0.3 -1,1.1 -1,2.6 -1,1.6 -1,-0.1 -1,-1.1 -1,-0.5 -1,0.1 -1,0.3 -1,0.6 -1,1 -1,0.2 -1,-0.1 -1,0.1 -1,0.4 -1,1 -1,1.1 -1,0.7 -1,0.3 -1,-0 -1,0.3 -1,0.8 -1,1.2 -1,0.3 -1,-1.1 -1,-1.2 -1,0.5 -1,1.5 -1,1.6 -1,1.8 -1,1.1 -1,-0.1 -1,0.4 -1,0.9 -1,-0 -1,-0.4 -1,-0.2 -1,-0.3 -1,-1.1 -1,-0.9 -1,0.3 -1,0.2 -1,0.4 -1,1 -1,0.8 -1,-0.7 -1,-1.3 -1,-0 -1,0.7 -1,-0.4 -1,-0.4 -1,0.6 -1,0.3 -1,0.6 -1,1.5 -1,1.4 -1,0.7 -1,-0.3 -1,-0.7 -1,-1.1 -1,-0.3 -1,0.9 -1,0.4 -1,0.2 -1,1.7 -1,1.9 -1,0.5 -1,-0.5 -1,-0.8 -1,-1 -1,-0.3 -1,0.7 -1,0.6 -1,-0 -1,0.2 -1,-0 -1,-0 -1,0.4 -1,0.5 -1,0.1 -1,-0.7 -1,-0.2 -1,0.1 -1,-0.6 -1,0.4 -1,0.7 -1,0.1 -1,0.3 -1,1 -1,0.8 -1,-0.9 -1,-0.7 -1,0.6 -1,0.6 -1,-0.5 -1,-0.5 -1,0.7 -1,1 -1,0.3 -1,-0.1 -1,-0.1 -1,-0.4 -1,-1.2 -1,-0.6 -1,0.6 -1,-0.5 -1,-1.8 -1,-1.5 -1,-0 -1,0.2 -1,0.4 -1,0.8 -1,0.5 -1,0.7 -1,0.7 -1,-0.9 -1,-1.8 -1,-1.3 -1,-0.2 -1,0.1 -1,0.2 -1,1.2 -1,1.7 -1,1.3 -1,0.7 -1,-0 -1,-0.8 -1,-0.8 -1,-0.5 -1,0.1 -1,-0.5 -1,-0.1 -1,0.8 -1,-0.2 -1,-0.2 -1,0.9 -1,0.8 -1,-1 -1,-0.8 -1,-0 -1,0.2 -1,-0.4 -1,-0.2 -1,0.3 -1,-0.1 -1,-0 -1,0.3 -1,0.7 -1,0.9 -1,0.3 -1,0.1 -1,0.8 -1,1.6 -1,1.7 -1,1.3 -1,-0.4 -1,-1.1 -1,-0 -1,0.6 -1,0.2 -1,-0 -1,0.4 -1,0.7 -1,-0.4 -1,-1.4 -1,-0.4 -1,0.8 -1,1.1 -1,1 -1,0.3 -1,-0.6 -1,-0.9 -1,-0.6 -1,0.3 -1,1 -1,-0 -1,-0.3 -1,0.1 -1,-0 -1,0.1 -1,0.6 -1,0.8 -1,0.4 -1,-0.5 -1,-0.7 -1,-0.5 -1,-0.5 -1,-0 -1,1.8 -1,0.8 -1,-1.1 -1,0.2 -1,1.5 -1,1.1 -1,0.4 -1,0.4 -1,-0.5 -1,-1.3 -1,-0.7 -1,-0 -1,-0.2 -1,-0.1 -1,-0.2 -1,-0.8 -1,-1.6 -1,-1.1 -1,-0.8 -1,-1 -1,-0.4 -1,-0.1 -1,-1.2 -1,-1.1 -1,0.6 -1,0.9 -1,-0 -1,-0.7 -1,-0.8 -1,-0.5 -1,0.1 -1,0.3 -1,0.5 -1,-0.7 -1,-1.6 -1,-0.8 -1,-0.6 -1,-1.3 -1,-0.6 -1,-0.1 -1,0.1 -1,0.2 -1,0.3 -1,0.3 -1,1.2 -1,1.5 -1,1.4 -1,0.6 -1,0.6 -1,0.2 -1,-0.9 -1,-1 -1,-0.3 -1,1 -1,1.2 -1,0.7 -1,0.2 -1,-0.1 -1,1 -1,0.6 -1,-0.9 -1,-0.4 -1,1.3 -1,2 -1,0.9 -1,0.9 -1,0.9 -1,1.8 -1,1.3 -1,0.5 -1,-0.6 -1,-1.8 -1,-0.9 -1,0.5 -1,-0 -1,-0.3 -1,0.8 -1,1.8 -1,1.5 -1,-0.6 -1,-1.1 -1,0.1 -1,0.1 -1,0.6 -1,0.5 -1,-0.6 -1,-0.3 -1,0.7 -1,1.4 -1,0.9 -1,-0.3 -1,-0.2 -1,-0.2 -1,-0 -1,-0.3 -1,-0.8 -1,0.2 -1,0.2 -1,-0.3 -1,0.4 -1,0.6 -1,0.4 -1,0.1 -1,-0.6 -1,-0.3 -1,0.6 -1,-0.1 -1,-0.1 -1,0.9 -1,0.9 -1,-0.5 -1,-0.6 -1,0.6 -1,0.6 -1,0.1 -1,-0.5 -1,0.3 -1,1.7 -1,1.5 -1,0.4z"/>
<path stroke-width="9.4" d="M145.5,707.7l1,0.1 1,0.3 1,0.5 1,0.4 1,0.2 1,-0.2 1,-0.4 1,-0.1 1,0.2 1,0.6 1,0.6 1,0.3 1,-0.1 1,-0.6 1,-0.8 1,-0.7 1,-0.3 1,0 1,0 1,-0.1 1,-0.5 1,-0.6 1,-0.3 1,0.1 1,0.5 1,0.6 1,0.3 1,-0.1 1,-0.2 1,-0.3 1,-0.1 1,0 1,-0.1 1,-0.2 1,-0.3 1,-0.4 1,-0.3 1,-0.1 1,-0.1 1,0.1 1,0.3 1,0.3 1,0.1 1,-0.3 1,-0.9 1,-1.3 1,-1.3 1,-1 1,-0.6 1,-0.4 1,-0.3 1,-0.2 1,-0.2 1,-0.1 1,-0.1 1,0 1,0 1,0 1,-0.2 1,-0.5 1,-0.7 1,-0.8 1,-0.6 1,-0.4 1,-0.3 1,-0.4 1,-0.5 1,-0.9 1,-1 1,-1.1 1,-1 1,-0.8 1,-0.8 1,-0.6 1,-0.4 1,-0.2 1,-0.1 1,-0.2 1,-0.3 1,-0.4 1,-0.4 1,-0.4 1,-0.2 1,0.2 1,0.5 1,0.8 1,0.7 1,0.5 1,0.4 1,0.2 1,-0 1,-0.1 1,0.1 1,0.5 1,0.9 1,0.9 1,0.9 1,0.9 1,0.9 1,0.9 1,0.7 1,0.3 1,0.3 1,0.2 1,0.5 1,0.5 1,0.5 1,0.4 1,0.3 1,0.1 1,0.1 1,0.1 1,0 1,0 1,-0.2 1,-0.1 1,0 1,0.2 1,0.4 1,0.6 1,0.8 1,0.8 1,0.7 1,0.3 1,-0.2 1,-0.7 1,-0.8 1,-0.4 1,0 1,0.2 1,0 1,-0.3 1,-0.7 1,-0.6 1,-0.5 1,-0.4 1,-0.1 1,0 1,-0.2 1,-0.2 1,-0.2 1,-0.3 1,-0.1 1,-0.1 1,-0.1 1,0 1,0.1 1,0.1 1,0 1,-0.2 1,-0.5 1,-0.3 1,-0.3 1,-0.2 1,-0.3 1,-0.6 1,-0.9 1,-1 1,-0.7 1,-0.2 1,0.3 1,0.2 1,-0.3 1,-0.7 1,-1 1,-0.8 1,-0.8 1,-0.7 1,-0.8 1,-0.8 1,-0.6 1,-0.2 1,0.2 1,0.4 1,0.5 1,0.2 1,-0.1 1,-0.4 1,-0.5 1,-0.5 1,-0.3 1,-0.3 1,-0.1 1,0.1 1,0.1 1,0.1 1,0 1,0.1 1,0.3 1,0.6 1,0.7 1,0.5 1,0.5 1,0.5 1,0.5 1,0.7 1,0.7 1,0.8 1,0.8 1,0.4 1,0.1 1,-0.3 1,-0.6 1,-0.5 1,-0 1,0.5 1,1 1,1.1 1,1 1,0.5 1,0.1 1,-0.3 1,-0.6 1,-0.6 1,-0.3 1,0.2 1,0.6 1,0.7 1,0.3 1,0.2 1,0.2 1,0.1 1,-0.1 1,-0.4 1,-0.4 1,-0.4 1,-0.2 1,0.2 1,0.4 1,0.3 1,0.2 1,0.1 1,0.1 1,-0.1 1,-0.1 1,-0.4 1,-0.4 1,-0.2 1,-0.1 1,0.2 1,0.3 1,0.4 1,0.4 1,0.2 1,-0.1 1,-0.4 1,-0.5 1,-0.5 1,-0.3 1,0.1 1,0.1 1,-0.1 1,-0.3 1,-0.3 1,-0.3 1,-0.1 1,-0.1 1,-0.4 1,-0.7 1,-0.8 1,-0.7 1,-0.3 1,-0 1,-0 1,-0 1,-0 1,-0 1,-0.2 1,-0.2 1,-0.6 1,-0.8 1,-0.8 1,-0.7 1,-0.4 1,-0.4 1,-0.4 1,-0.6 1,-0.9 1,-0.8 1,-0.6 1,-0.2 1,0.1 1,0.2 1,-0 1,-0.2 1,-0.3 1,-0.2 1,-0 1,-0.1 1,-0.7 1,-1.3 1,-1.3 1,-0.9 1,-0.4 1,-0.1 1,-0.3 1,-0.7 1,-0.8 1,-0.6 1,-0.3 1,0.2 1,0.4 1,0.4 1,0.3 1,-0 1,-0.1 1,0.2 1,0.6 1,0.8 1,0.5 1,0.1 1,-0.4 1,-0.6 1,-0.8 1,-0.8 1,-0.5 1,-0.2 1,0.1 1,0.1 1,-0 1,-0 1,-0 1,-0.1 1,-0.1 1,0.1 1,0.2 1,0.4 1,0.4 1,0.2 1,-0.1 1,-0.2 1,-0.4 1,-0.4 1,-0.4 1,-0.2 1,-0 1,0.3 1,0.4 1,0.3 1,-0 1,-0.2 1,0.1 1,0.5 1,0.5 1,0.4 1,-0 1,-0.1 1,-0.2 1,-0 1,0.1 1,0.5 1,0.9 1,1.3 1,1.2 1,0.6 1,-0.2 1,-0.8 1,-1.3 1,-1.3 1,-1.3 1,-0.9 1,-0.5 1,-0.2 1,-0.4 1,-0.5 1,-0.7 1,-0.8 1,-0.7 1,-0.5 1,-0.4 1,-0.5 1,-0.3 1,-0.3 1,-0.3 1,-0.5 1,-0.7 1,-0.7 1,-0.7 1,-0.5 1,-0.5 1,-0.5 1,-0.3 1,-0.2 1,-0.3 1,-0.5 1,-0.6 1,-0.5 1,-0.4 1,-0.2 1,-0.2 1,-0.2 1,0.1 1,0.2 1,0.1 1,-0.2 1,-0.3 1,-0.4 1,-0.4 1,-0.3 1,-0.5 1,-0.4 1,-0.4 1,-0.4 1,-0.2 1,-0.3 1,-0.2 1,-0.2 1,-0.4 1,-0.7 1,-1.1 1,-1.4 1,-1.4 1,-1.1 1,-0.9 1,-0.5 1,-0.1 1,-0 1,-0.2 1,-0.6 1,-1.3 1,-1.9 1,-2.3 1,-2.3 1,-2 1,-1.5 1,-1 1,-0.8 1,-0.9 1,-1.6 1,-2.4 1,-3 1,-3 1,-2.6 1,-2.2 1,-1.9 1,-1.8 1,-1.7 1,-1.3 1,-0.8 1,-0.5 1,-0.3 1,-0.6 1,-1.1 1,-1.4 1,-1.5 1,-1.3 1,-1 1,-0.9 1,-1 1,-1.2 1,-1.4 1,-1.3 1,-1.3 1,-1 1,-1 1,-0.8 1,-0.9 1,-0.8 1,-0.6 1,-0.2 1,-0 1,0.2 1,0.6 1,0.9 1,1.3 1,1.5 1,1.4 1,1.5 1,1.5 1,1.6 1,1.6 1,1.9 1,3.1 1,3.6 1,3.7 1,3.1 1,2.1 1,1.7 1,1.5 1,1.5 1,1.6 1,1.9 1,2.2 1,2.2 1,2.1 1,2.2 1,2.2 1,2.2 1,2.7 1,3 1,2.9 1,2.5 1,1.7 1,0.9 1,0.7 1,0.5 1,0.5 1,0.2 1,-0.1 1,-0.5 1,-0.6 1,-0.4 1,-0.1 1,0.4 1,0.8 1,0.7 1,0.2 1,-0.5 1,-0.7 1,-0.8 1,-0.5 1,-0.5 1,-0.3 1,0.1 1,0.9 1,1.3 1,1.6 1,1.7 1,1.9 1,2.3 1,2.9 1,3.4 1,4.1 1,4.9 1,6.6 1,7.3 1,5.5 1,4.7 1,4.2 1,4.6 1,4.3 1,3.2 1,1.8 1,1.4 1,1.2 1,1.3 1,1.3 1,1.2 1,0.8 1,0.2 1,-0.1 1,-0.2 1,0.1 1,0.3 1,0.3 1,0.3 1,0.3 1,0.1 1,0.1 1,-0 1,-0.1 1,-0.1 1,-0 1,-0 1,0.1 1,0.1 1,-0 1,-0.1 1,-0.1 1,-0.2 1,-0.1 1,-0.1 1,-0 1,-0.1 1,-0 1,-0.1 1,0.1 1,-0 1,0.1 1,-0 1,0.1 1,-0 1,-0 1,0.1 1,0.1 1,-0 1,-0 1,-0 1,-0.1 1,-0 1,-0 1,-0 1,0.1 1,0.2 1,0.1 1,-0 1,-0 1,-0.1 1,-0 1,0.1 1,0.1 1,-0.1 1,-0.1 1,-0.2 1,-0.1 1,-0.1 1,-0 1,-0.1 1,-0.1 1,-0 1,-0 1,-0 1,-0 1,-0 1,0.1 1,-0 1,0.2 1,0.2 1,0.1 1,-0 1,0.1 1,-0 1,-0 1,-0 1,0.1 1,0.1 1,-0 1,-0.1 1,-0 1,-0.1 1,-0 1,-0 1,0.1 1,0.1 1,-0 1,-0 1,-0 1,-0.1 1,-0 1,-0.2 1,-0 1,-0.1 1,0.1 1,0.1 1,-0 1,-0 1,-0 1,-0 1,-0 1,0.1 1,0.1 1,-0 1,-0.1 1,-0.2 1,-0.1 1,-0.2 1,-0 1,-0 1,0.1 1,0.1 1,-0 1,0.1 1,-0 1,-0 1,0.1 1,-0 1,-0.3 1,-0.7 1,-0.9 1,-0.9 1,-0.7 1,-0.3 1,-0.2 1,-0.2 1,-0.1 1,-0.1 1,-0 1,0.1 1,-0 1,-0.1 1,-0 1,-0 1,-0 1,-0.1 1,-0.2 1,-0.1 1,-0 1,-0 1,0.1 1,-0 1,-0 1,-0 1,-0 1,0.1 1,-0 1,-0 1,-0 1,-0.2 1,-0.1 1,-0.1 1,-0 1,-0 1,0.1 1,0.1 1,0.1 1,0.1 1,0.1 1,0.1 1,0.1 1,-0.1 1,-0.1 1,-0.2 1,-0 1,-0 1,0.2 1,0.2 1,0.2 1,0.1 1,-0 1,-0.1 1,-0.1 1,-0.1 1,-0 1,-0 1,-0 1,0.1 1,0.1 1,0.1 1,-0 1,0.1 1,-0.1 1,-0.1 1,-0.1 1,-0 1,0.1 1,-0 1,-0 1,-0.1 1,-0.1 1,-0.1 1,-0 1,-0 1,-0 1,-0 1,-0 1,-0 1,-0.1 1,-0 1,-0 1,0.2 1,0.2 1,0.1 1,-0 1,-0 1,-0.1 1,-0 1,0.1 1,0.1 1,0.1 1,-0 1,-0 1,-0.1 1,-0.1 1,-0 1,-0 1,0.1 1,-0 1,-0 1,0.1 1,-0 1,0.2 1,0.2 1,0.2 1,0.2 1,0.1 1,0.1 1,-0 1,-0.1 1,-0.1 1,-0.1 1,-0 1,-0.1 1,-0 1,-0.1 1,-0 1,-0.1 1,-0 1,-0.1 1,-0 1,-0.1 1,-0 1,-0.1 1,0.1 1,0.1 1,0.2 1,0.1 1,0.1 1,-0 1,-0 1,-0 1,0.1 1,0.2 1,0.1 1,-0 1,-0.2 1,-0.2 1,-0.2 1,-0 1,-0 1,-0 1,-0 1,-0 1,-0 1,-0 1,0.1 1,-0 1,-0.1 1,-0 1,-0.1 1,-0 1,0.1 1,-0 1,0.1 1,-0 1,-0 1,-0 1,-0 1,0.1 1,-0 1,-0 1,0.1 1,0.1 1,0.2 1,-0 1,-0 1,-0 1,-0.1 1,-0 1,-0 1,0.1 1,-0.1 1,-0 1,-0 1,-0.3 1,-1.4 1,-2.3 1,-2.8 1,-3.8 1,-8.4 1,-12 1,-14 1,-14.4 1,-13.1 1,-10 1,-5.4 1,0.9 1,7.1 1,11.4 1,14.1 1,14.9 1,14 1,11.2 1,6.6 1,3.6 1,2.8 1,1.2 1,-0 1,0.1 1,-0 1,-0 1,-0 1,0.1 1,-0 1,-0 1,-0 1,-0.1 1,-0.1 1,-0.1 1,-0.2 1,-0.2 1,-0.1 1,-0 1,0.1 1,0.2 1,0.1 1,-0 1,-0 1,-0.1 1,-0.1 1,0.1 1,0.1 1,0.3 1,0.2 1,0.1 1,-0.1 1,-0.1 1,-0.2 1,-0.1 1,-0.1 1,-0 1,-0 1,-0 1,0.1 1,0.1 1,0.1 1,0.1 1,-0 1,-0 1,-0.1 1,-0.1 1,-0 1,-0 1,-0.1 1,-0.1 1,-0 1,-0.1 1,0.1 1,0.1 1,0.1 1,0.1 1,0.1 1,0.1 1,0.1 1,-0 1,-0 1,-0 1,-0 1,-0 1,-0 1,-0.1 1,-0.2 1,-0.2 1,-0.3 1,-0.2 1,-0.1 1,-0.2 1,-0.1 1,-0 1,0.1 1,0.2 1,0.3 1,0.3 1,0.2 1,-0 1,-0.1 1,-0.1 1,-0.1 1,0.1 1,0.1 1,0.3 1,0.2 1,0.1 1,-0 1,-0.1 1,-0.2 1,-0.2 1,-0.2 1,-0.1 1,-0.1 1,-0 1,-0.1 1,-0 1,-0 1,-0 1,-0.1 1,-0 1,-0 1,-0 1,-0 1,0.2 1,0.2 1,0.3 1,0.2 1,-0 1,-0 1,-0.1 1,-0 1,-0.1 1,-0 1,-0.1 1,-0 1,-0.1 1,-0 1,0.1 1,-0 1,0.1 1,-0 1,-0.1 1,-0.1 1,-0.1 1,-0 1,0.1 1,-0 1,-0 1,-0 1,-0.1 1,-0.2 1,-0.2 1,-0 1,-0 1,0.2 1,0.1 1,-0 1,-0.1 1,-0.1 1,-0.1 1,-0 1,0.1 1,0.2 1,0.2 1,0.1 1,-0.1 1,-0.1 1,-0.3 1,-0.2 1,-0.1 1,-0 1,0.1 1,0.1 1,-0 1,-0 1,-0.1 1,-0.1 1,-0 1,-0.1 1,0.1 1,-0 1,0.1 1,0.1 1,0.1 1,0.2 1,0.1 1,-0 1,-0 1,-0 1,-0 1,-0 1,-0 1,-0.1 1,-0 1,-0.1 1,0.1 1,-0 1,0.1 1,0.1 1,0.1 1,-0.1 1,-0.2 1,-0.3 1,-0.2 1,-0.1 1,-0.1 1,0.1 1,-0.1 1,-0.1 1,-0.1 1,-0 1,0.1 1,0.1 1,0.1 1,0.2 1,0.2 1,-0 1,-0 1,-0.2 1,-0.1 1,-0 1,-0 1,-0 1,-0 1,-0.1 1,-0 1,-0 1,-0 1,-0 1,-0.1 1,-0.1 1,-0.1 1,-0 1,0.1 1,0.1 1,0.1 1,-0 1,-0.1 1,-0 1,-0 1,0.1 1,-0 1,-0 1,-0.1 1,-0.2 1,-0.1 1,0.1 1,0.1 1,0.3 1,0.1 1,0.1 1,-0.1 1,-0 1,0.1 1,0.1 1,0.1 1,-0.1 1,-0.1 1,-0.3 1,-0.3 1,-0.2 1,-0.2 1,-0.2 1,-0.1 1,-0 1,0.1 1,0.3 1,0.2 1,-0 1,-0 1,-0.1 1,-0 1,-0.1 1,-0 1,-0.1 1,-0 1,-0 1,0.1 1,0.1 1,0.1 1,-0.1 1,-0.1 1,-0.2 1,-0 1,-0 1,0.1 1,0.1 1,-0 1,-0 1,0.1 1,-0 1,0.1 1,-0.1 1,-0.1 1,-0.1 1,-0 1,-0 1,-0 1,-0.1 1,-0.3 1,-0.5 1,-0.7 1,-1 1,-1.1 1,-1.2 1,-1 1,-0.8 1,-0.3 1,-0.3 1,-0.6 1,-1.2 1,-2 1,-2.8 1,-3.1 1,-3.3 1,-3.5 1,-3.6 1,-4 1,-4.8 1,-5.2 1,-5 1,-4.9 1,-5.1 1,-5.7 1,-6.2 1,-6.3 1,-6.3 1,-6.2 1,-6.2 1,-6 1,-5.8 1,-5.6 1,-6 1,-5.8 1,-4.9 1,-3.4 1,-2.3 1,-2 1,-1.9 1,-1.6 1,-1.5 1,-1.3 1,-0.9 1,-0.6 1,-0.4 1,-0.3 1,-0.2 1,-0.2 1,-0.5 1,-0.6 1,-0.7 1,-0.6 1,-0.3 1,-0.1 1,0.1 1,0.4 1,0.5 1,0.5 1,0.2 1,-0.3 1,-1.1 1,-2 1,-2.4 1,-2.5 1,-2.1 1,-1.7 1,-1.1 1,-1 1,-1.1 1,-1.7 1,-2 1,-1.9 1,-1.8 1,-1.9 1,-2.3 1,-2.7 1,-3.1 1,-3.5 1,-3.6 1,-3.5 1,-3.3 1,-2.9 1,-2.5 1,-2.2 1,-2.2 1,-2.1 1,-2 1,-2 1,-2 1,-2 1,-1.9 1,-1.6 1,-1.3 1,-1 1,-0.8 1,-0.4 1,-0 1,0.2 1,0.4 1,0.5 1,0.4 1,0.4 1,0.5 1,0.8 1,0.9 1,1 1,1 1,1.1 1,1.3 1,1.5 1,1.6 1,1.9 1,2.4 1,2.7 1,2.8 1,2.7 1,2.6 1,2.3 1,2.1 1,2.5 1,2.7 1,3.1 1,3.2 1,2.9 1,2.2 1,1.6 1,1.3 1,1.1 1,1 1,0.9 1,0.6 1,0.4 1,0.3 1,0.2 1,-0 1,-0.2 1,-0.2 1,0.2 1,0.8 1,1.3 1,1.4 1,1.1 1,0.7 1,0.7 1,0.6 1,0.6 1,0.8 1,0.9 1,1.2 1,1.5 1,1.6 1,1.7 1,1.6 1,1.5 1,1.4 1,1 1,0.8 1,0.2 1,-0 1,0.1 1,0.5 1,1.3 1,1.6 1,1.6 1,1.3 1,0.9 1,0.6 1,0.7 1,0.7 1,0.9 1,0.9 1,0.9 1,0.9 1,0.8 1,0.7 1,0.7 1,0.7 1,0.8 1,0.9 1,1.2 1,1.4 1,1.5 1,1 1,0.6 1,0.2 1,0.3 1,0.3 1,0.6 1,0.7 1,0.9 1,0.8 1,0.8 1,0.6 1,0.4 1,0.3 1,0.4 1,0.6 1,0.7 1,0.6 1,0.4 1,-0.1 1,-0.3 1,-0.5 1,-0.4 1,-0.4 1,-0.2 1,-0.2 1,-0.5 1,-0.8 1,-1.2 1,-1.4 1,-1.3 1,-1.1 1,-0.9 1,-0.7 1,-0.7 1,-0.7 1,-0.5 1,-0.3 1,-0.3 1,-0.3 1,-0.7 1,-0.9 1,-1.2 1,-1.3 1,-1.1 1,-0.5 1,-0 1,0.4 1,0.3 1,0.3 1,0.1 1,-0 1,0.1 1,0.1 1,0.6 1,0.9 1,1.1 1,1 1,0.8 1,0.5 1,0.3 1,0.2 1,-0.2 1,-0.3 1,-0.7 1,-0.9 1,-1.1 1,-1.1 1,-0.8 1,-0.4 1,-0 1,0.5 1,0.8 1,0.8 1,0.9 1,1.1 1,1.1 1,1.3 1,1.4 1,1.4 1,1.1 1,0.8 1,0.6 1,0.8 1,1 1,0.8 1,0.5 1,0.3 1,0.2 1,0.4 1,0.6 1,0.8 1,0.5 1,0.3 1,-0.2 1,-0.3 1,-0.1 1,0.3 1,0.4 1,0.5 1,0.4 1,0.3 1,0.4 1,0.6 1,0.6 1,0.5 1,0.4 1,0.5 1,0.7 1,0.8 1,0.8 1,0.8 1,0.5 1,0.2 1,-0 1,-0 1,-0.1 1,-0.2 1,-0.4 1,-0.3 1,-0.3 1,0.2 1,0.5 1,0.7 1,0.6 1,0.2 1,-0.1 1,-0.3 1,-0.2 1,-0 1,0.2 1,0.2 1,0.4 1,0.2 1,0.2 1,-0.1 1,-0.4 1,-0.6 1,-0.5 1,-0.4 1,-0.1 1,-0 1,-0 1,-0.1 1,-0.1 1,-0.2 1,-0.3 1,-0.5 1,-0.6 1,-0.8 1,-0.9 1,-1.1 1,-1.2 1,-1 1,-0.7 1,-0.4 1,-0.1 1,-0.1 1,-0.3 1,-0.6 1,-1.1 1,-1.3 1,-1.3 1,-0.9 1,-0.5 1,-0.5 1,-0.8 1,-1.2 1,-1.4 1,-1.2 1,-1 1,-0.9 1,-0.8 1,-0.7 1,-0.7 1,-0.4 1,-0.5 1,-0.8 1,-1.3 1,-1.7 1,-1.8 1,-1.6 1,-1.3 1,-1 1,-1 1,-1.2 1,-1.4 1,-1.5 1,-1.7 1,-1.9 1,-2.2 1,-2.2 1,-1.9 1,-1.5 1,-1.2 1,-1 1,-1.1 1,-1.2 1,-1.4 1,-1.6 1,-1.4 1,-1.1 1,-0.6 1,-0.2 1,0.2 1,0.4 1,0.8 1,1 1,1.2 1,1.4 1,1.3 1,1 1,1.2 1,1.9 1,2.6 1,3.2 1,3.2 1,2.8 1,2 1,1.4 1,1.5 1,1.5 1,1.3 1,0.8 1,0.7 1,0.7 1,0.8 1,1 1,0.9 1,0.8 1,0.7 1,0.6 1,0.7 1,0.8 1,1.1 1,1.5 1,1.5 1,1.1 1,0.6 1,0.1 1,-0 1,0.2 1,0.6 1,0.7 1,0.6 1,0.3 1,-0 1,-0.2 1,-0.3 1,-0.4 1,-0.5 1,-0.7 1,-0.9 1,-0.8 1,-0.7 1,-0.5 1,-0.3 1,-0.2 1,-0.2 1,-0.4 1,-0.6 1,-0.7 1,-1 1,-1.3 1,-1.7 1,-1.8 1,-1.7 1,-1.8 1,-1.9 1,-2 1,-2 1,-2 1,-2 1,-2.2 1,-2.4 1,-2.6 1,-3.2 1,-3.5 1,-3.9 1,-4.3 1,-4.6 1,-5 1,-5 1,-5 1,-5.3 1,-5.7 1,-5.7 1,-5.3 1,-5 1,-4.7 1,-4.3 1,-3.9 1,-3.4 1,-2.6 1,-1.7 1,-1.3 1,-1.6 1,-2.4 1,-2.9 1,-2.5 1,-1.3 1,0.8 1,2.5 1,3.5 1,3.8 1,4.4 1,6.2 1,7.2 1,7.4 1,6.9 1,7.2 1,7.1 1,6.5 1,6.1 1,6 1,5.4 1,4.3 1,3.1 1,2.7 1,2.4 1,2.4 1,2.5 1,2.5 1,2.4 1,2.1 1,1.9 1,1.7 1,1.5 1,1.4 1,1.2 1,1 1,1.1 1,1 1,0.8 1,0.7 1,0.7 1,1 1,1.3 1,1.2 1,1.1 1,0.9 1,0.9 1,0.9 1,0.7 1,0.6 1,0.6 1,0.8 1,1 1,1.1 1,1.5 1,1.6 1,1.8 1,1.4 1,0.9 1,0.3 1,-0.1 1,-0 1,0.2 1,-0.1 1,-0.5 1,-0.6 1,-0.1 1,0.8 1,1.1 1,0.8 1,0.2 1,-0.3 1,-0.2 1,0.2 1,0.7 1,0.9 1,0.7 1,0.2 1,-0 1,-0 1,0.1 1,0.3 1,0.4 1,0.4 1,0.1 1,-0.1 1,-0.3 1,-0.5 1,-0.5 1,-0.4 1,-0.4 1,-0.2 1,-0.2 1,0.1 1,0.3 1,0.6 1,0.9 1,0.9 1,0.6 1,0.2 1,-0.4 1,-0.5 1,-0.5 1,-0.1 1,0.3 1,0.5 1,0.6 1,0.8 1,0.5 1,0.2 1,-0.1 1,-0 1,0.4 1,0.6 1,0.6 1,0.3 1,-0.1 1,-0.1 1,0.1 1,0.3 1,0.4 1,0.2 1,0.2 1,0.3 1,0.3 1,0.1 1,-0.1 1,-0.3 1,-0.5 1,-0.4 1,-0.1 1,0.1 1,0.3 1,-0 1,-0.1 1,-0 1,0.1 1,0.5 1,0.7 1,0.6 1,0.5 1,-0 1,-0.6 1,-0.9 1,-0.9 1,-0.3 1,0.6 1,1.4 1,1.8 1,1.8 1,1.2 1,0.5 1,-0.2 1,-0.5 1,-0.3 1,0.1 1,0.2 1,0.3 1,0.1 1,-0.1 1,-0.1 1,-0.2 1,-0 1,-0 1,0.3 1,0.5 1,0.6 1,0.5 1,0.1 1,-0.2 1,-0.6 1,-0.8 1,-1 1,-0.7 1,-0.1 1,0.3 1,0.5 1,0.4 1,0.1 1,-0.1 1,-0.1 1,0.2 1,0.4 1,0.5 1,0.4 1,0.3 1,0.2 1,0.1 1,-0 1,-0.2 1,-0.3 1,-0.3 1,-0.3 1,-0.1 1,0.1 1,0.2 1,-0 1,-0.1 1,-0.2 1,-0.3 1,-0.2 1,-0.1 1,-0.1 1,-0.2 1,-0.4 1,-0.4 1,-0.4 1,-0.3 1,0.2 1,0.7 1,1.1 1,1.2 1,0.8 1,0.2 1,-0.1 1,-0.3 1,-0.3 1,-0.5 1,-0.6 1,-0.6 1,-0.4 1,-0.2 1,-0 1,-0 1,-0 1,-0.2 1,-0.6 1,-1.1 1,-1.5 1,-1.7 1,-1.4 0.5,-0.7"/>
<path stroke="none" fill="#000" d="M145.5,702.0l1,0.1 1,-1 1,-0.9 1,0.5 1,1.3 1,-0.4 1,-0.6 1,0.7 1,1.1 1,1 1,0.1 1,-0.2 1,0.3 1,0.6 1,-0.3 1,-2.2 1,-1.8 1,-0 1,0.8 1,0.7 1,-0.9 1,-2.5 1,-2.5 1,-0.3 1,1.6 1,1.4 1,0.5 1,0.8 1,0.4 1,-0.3 1,0.2 1,0.6 1,0.2 1,-1 1,-1.6 1,-1.3 1,0.4 1,1.2 1,-0.2 1,-0.6 1,0.7 1,1.7 1,0.4 1,-0.8 1,-1.2 1,-1.9 1,-1.8 1,-0.7 1,-0.6 1,0.1 1,0.6 1,-0.9 1,-1.6 1,-0.5 1,0.3 1,0.9 1,1.1 1,0.7 1,-0.2 1,-0.4 1,-0.6 1,-2.2 1,-2.3 1,-0.5 1,0.1 1,0.8 1,0.5 1,-0.9 1,-1 1,-0.9 1,-1.9 1,-2.5 1,-2.2 1,-1.6 1,-0.4 1,1.6 1,1.8 1,0.8 1,-0.1 1,-1.1 1,-1.2 1,-0.9 1,0.6 1,1.1 1,0.3 1,0.3 1,0.6 1,-0.1 1,-0.6 1,-0 1,0.7 1,0.7 1,0.4 1,0.4 1,0.4 1,0.2 1,0.6 1,0.9 1,-0.6 1,0.2 1,2.8 1,1.6 1,-0.3 1,-0.1 1,0.5 1,0.9 1,0.8 1,0.9 1,1.3 1,1 1,0 1,-0.3 1,-0.7 1,-1.5 1,-0.9 1,0.2 1,0.2 1,-0.4 1,0.9 1,2.2 1,1.5 1,-0.9 1,-0.9 1,0.5 1,1 1,1.1 1,0.3 1,-0 1,-0.5 1,-1.7 1,-1.3 1,-0.3 1,0.3 1,0.8 1,-0.1 1,-1 1,-0.6 1,-0.8 1,-0.9 1,0.4 1,1 1,-0 1,-0.8 1,-0.6 1,-0.5 1,-0.3 1,-0.2 1,-0 1,1.1 1,0.4 1,-1.6 1,-1.8 1,0.2 1,1.4 1,0.9 1,-0.3 1,-1.3 1,-1.2 1,-0.8 1,-1 1,-1.2 1,-0.7 1,-0.1 1,-0.9 1,-0.8 1,0.5 1,-0.2 1,-1 1,-1 1,-0.9 1,-0.3 1,-0.3 1,-0.6 1,0.5 1,1.5 1,0.5 1,0.1 1,-0 1,-1 1,-0.6 1,-0.2 1,-0.1 1,0.1 1,-0 1,0.3 1,0.8 1,0.3 1,-0.6 1,-0.3 1,0.7 1,0.4 1,-0.4 1,0.2 1,0.6 1,0.9 1,1.6 1,1.2 1,0.3 1,0.6 1,1.5 1,0.5 1,-0.5 1,-0.8 1,-1.2 1,-1.3 1,-0.2 1,1 1,1.6 1,1.4 1,0.5 1,0.6 1,-0.2 1,-1.8 1,-1.1 1,-0.1 1,-0.7 1,0.6 1,2 1,1.4 1,0.2 1,-0.5 1,-1.1 1,-0.1 1,1 1,-0.3 1,-1.2 1,-0.9 1,0.5 1,1.5 1,1.3 1,0.3 1,-0 1,-0.4 1,0.3 1,0.7 1,-0.7 1,-1.4 1,-0.8 1,-0.5 1,0.8 1,1.8 1,1.9 1,0.3 1,0 1,-0.4 1,-1 1,-1.5 1,-2 1,-0.4 1,1.5 1,1.1 1,-1.2 1,-2.5 1,-1.1 1,0.2 1,-0.1 1,0.1 1,-0 1,-0.8 1,-0.4 1,0.3 1,-0 1,-0.6 1,0.4 1,1.2 1,0.5 1,-0.7 1,-1.1 1,-1 1,-0.7 1,0 1,-0.4 1,-1.7 1,-1.2 1,1.1 1,0.5 1,-0.8 1,-0.5 1,-0.9 1,-1.9 1,-1.9 1,-0.6 1,0.4 1,0.1 1,0.9 1,0.8 1,-0.1 1,-0.2 1,-0.2 1,-0.5 1,-0.4 1,-0.6 1,-1.2 1,-0.4 1,0 1,-0.3 1,-0.4 1,-0.4 1,-0.4 1,-0.7 1,-0.6 1,0.2 1,-0.1 1,-0.6 1,-0.7 1,0.6 1,1.3 1,0.4 1,-0.4 1,-0.1 1,0.5 1,0.3 1,-1.5 1,-1.9 1,-1.2 1,0.9 1,1.3 1,0.3 1,0.3 1,0.4 1,0.9 1,1 1,0.3 1,-0.2 1,-0.7 1,-0.5 1,0.4 1,0.3 1,0 1,-0.8 1,-2.4 1,-1.7 1,0.7 1,1.2 1,0.2 1,0.2 1,0.7 1,1.4 1,0.6 1,0 1,-0.5 1,-0.6 1,0.8 1,0.5 1,-0.5 1,-0.4 1,-1 1,-1.5 1,0.5 1,2.9 1,1.7 1,1.8 1,0.9 1,-0.4 1,-0.5 1,-0.5 1,-1 1,-1 1,-0.5 1,-0.6 1,-2 1,-2.2 1,-0.2 1,1.1 1,0.8 1,0 1,-1.4 1,-2 1,-0.8 1,-0.1 1,-0.2 1,-0.7 1,0 1,0.7 1,-0.1 1,-1.5 1,-1.8 1,-0.1 1,1.2 1,0.2 1,-1.9 1,-2.2 1,-0.1 1,0.9 1,-0.9 1,-2.5 1,-1.1 1,0.6 1,0 1,-1 1,-1.3 1,0.1 1,2.5 1,2.2 1,0 1,-0.4 1,-0.6 1,-1.9 1,-1.6 1,0 1,0.2 1,-0.1 1,0.1 1,-0.3 1,-0.3 1,-0.3 1,-0.7 1,-0.2 1,0.1 1,-0.7 1,-1.5 1,-2.1 1,-1.6 1,-0.8 1,-0.3 1,-0.2 1,-0.7 1,-1.1 1,-1.2 1,-0.8 1,-1 1,-1.8 1,-1.6 1,-0.6 1,-1.2 1,-1.6 1,-1.6 1,-1.3 1,-1.3 1,-1.8 1,-2.8 1,-2.7 1,-1.4 1,-1.3 1,-2.8 1,-4.5 1,-4.2 1,-1.6 1,-0.7 1,0.6 1,0.6 1,0.3 1,-0.9 1,-1.5 1,-0.6 1,-0.1 1,-2 1,-2.2 1,-1.2 1,-0.7 1,-1.7 1,-2.2 1,-1.1 1,-0.6 1,-1 1,-1.1 1,-1 1,-0.3 1,-0.2 1,-0.5 1,-0.7 1,-0.7 1,0.7 1,1.8 1,2.1 1,1.8 1,0.9 1,0.9 1,2 1,2.6 1,1.8 1,1.5 1,2.7 1,3.2 1,4.3 1,4.2 1,2.1 1,0.9 1,1.1 1,1.1 1,0.5 1,1.7 1,3.4 1,3.7 1,2.8 1,1.9 1,0.6 1,1.5 1,2.6 1,2.4 1,1.7 1,2.6 1,3.1 1,1.8 1,0.3 1,0 1,0.1 1,0.6 1,0.3 1,-0.1 1,-0.1 1,-0.3 1,-0.1 1,0.2 1,-0.2 1,-0.2 1,0.5 1,0.9 1,0 1,-0.1 1,-0.6 1,-1 1,-1.2 1,-0.3 1,0.3 1,0.1 1,0.8 1,1.9 1,2.6 1,3.9 1,4.2 1,3.9 1,4.5 1,5 1,6.4 1,6.9 1,4.6 1,4.1 1,4.1 1,4.1 1,4 1,3.2 1,2.6 1,2.4 1,1.1 1,0.4 1,0.6 1,1.6 1,1.1 1,0.3 1,0.8 1,1 1,0.7 1,0.2 1,0.3 1,0.2 1,0.1 1,0.2 1,0.4 1,-0.1 1,-0.4 1,-0.1 1,0.2 1,0.1 1,0 1,0 1,0 1,0.1 1,-0.1 1,-0.3 1,-0.2 1,0 1,0 1,0 1,-0.3 1,0.1 1,0.4 1,0.1 1,-0.2 1,-0.1 1,-0.1 1,0 1,0 1,-0.1 1,0.2 1,0.3 1,0.2 1,-0.3 1,-0.3 1,0 1,0.1 1,0.1 1,0.2 1,0 1,0 1,0 1,0 1,0 1,0.2 1,0.3 1,0.2 1,0.2 1,0 1,-0.5 1,-0.7 1,-0.3 1,0.2 1,0.2 1,-0.1 1,-0.3 1,-0.1 1,0.1 1,0.3 1,0.1 1,0 1,0.1 1,0.3 1,-0.1 1,-0.1 1,0.2 1,0.2 1,-0.2 1,0 1,0.1 1,0.1 1,-0.1 1,-0.1 1,0.4 1,0 1,-0.1 1,0 1,-0.1 1,-0.1 1,0 1,0.2 1,0.1 1,0.2 1,-0.1 1,-0.4 1,-0.2 1,0.1 1,0.2 1,0.2 1,0 1,-0.1 1,-0.1 1,-0.2 1,0.2 1,0.1 1,-0.2 1,-0.1 1,0.1 1,0.1 1,-0.1 1,-0.4 1,0 1,0.1 1,0 1,0 1,0.1 1,-0.2 1,-0.1 1,0.1 1,0 1,0 1,0.5 1,-0.1 1,-0.9 1,-1.3 1,-1 1,-0.6 1,-0.1 1,-0.1 1,-0.1 1,-0.1 1,-0.3 1,-0.1 1,0.1 1,0.3 1,-0.1 1,-0.5 1,0 1,0.6 1,0.2 1,-0.2 1,-0.3 1,-0.3 1,0.1 1,0.1 1,-0.2 1,-0.3 1,0 1,0.1 1,0.2 1,-0.2 1,-0.2 1,0.1 1,0.3 1,0 1,-0.2 1,-0.1 1,0 1,0.1 1,-0.1 1,-0.1 1,0.1 1,0.4 1,0.3 1,0.1 1,-0.2 1,-0.1 1,-0.4 1,-0.4 1,0 1,0.4 1,0.4 1,0.1 1,-0.1 1,0.1 1,0.1 1,-0.2 1,-0.3 1,-0.1 1,0.2 1,0.2 1,0.1 1,0 1,0 1,0 1,0.1 1,0.3 1,0.1 1,0 1,0.2 1,0 1,-0.2 1,-0.2 1,-0.2 1,-0.4 1,-0.3 1,0 1,0.1 1,0.2 1,0.2 1,0.5 1,0 1,-0.8 1,-0.5 1,0.3 1,0.3 1,0.1 1,0 1,0 1,0 1,-0.2 1,0.1 1,0.4 1,0.3 1,0.1 1,0.2 1,0.2 1,-0.3 1,-0.4 1,-0.3 1,0.1 1,0.4 1,0.2 1,-0.4 1,-0.1 1,0.2 1,0.4 1,0.3 1,0.3 1,0.4 1,0.1 1,-0.1 1,-0.4 1,-0.1 1,-0.2 1,0 1,0.1 1,0 1,-0.2 1,0 1,0.2 1,0 1,0 1,0 1,-0.1 1,-0.1 1,-0.1 1,-0.2 1,0.1 1,0.2 1,0.3 1,0.1 1,-0.1 1,-0.2 1,-0.1 1,0 1,0.3 1,0.4 1,0.1 1,-0.4 1,-0.3 1,-0.3 1,-0.2 1,0.2 1,0.4 1,0.3 1,0.2 1,-0.1 1,-0.3 1,-0.2 1,0.1 1,-0.1 1,-0.4 1,0 1,0.2 1,0 1,0 1,0.1 1,0.1 1,0.1 1,0.1 1,0 1,-0.1 1,0 1,0.2 1,0.4 1,0.2 1,-0.1 1,0 1,0.2 1,-0.1 1,-0.1 1,0 1,0 1,-0.2 1,-0.2 1,-0.1 1,0 1,-0.1 1,-0.3 1,-1.1 1,-1.9 1,-2.7 1,-4.1 1,-8.8 1,-12.3 1,-14.1 1,-14.2 1,-12.8 1,-10 1,-5.5 1,0.9 1,7.2 1,11.4 1,14 1,14.8 1,13.9 1,11.2 1,6.9 1,3.9 1,3 1,1.1 1,-0.1 1,0.2 1,0.1 1,-0.1 1,-0.3 1,-0.3 1,-0.1 1,0.1 1,0 1,0.3 1,0.3 1,-0.2 1,-0.1 1,0.1 1,-0.2 1,-0.1 1,-0.2 1,-0.1 1,0.2 1,0.3 1,0.1 1,-0.1 1,0.1 1,0.2 1,0.2 1,0.1 1,-0.1 1,0.1 1,0 1,0 1,0 1,-0.3 1,-0.1 1,0 1,-0.3 1,-0.4 1,-0.1 1,0.1 1,0 1,0.1 1,0.2 1,-0.1 1,-0.1 1,0.1 1,0.3 1,0.3 1,0 1,-0.1 1,-0.2 1,-0.2 1,-0.1 1,-0.2 1,0 1,0.2 1,0.1 1,0.1 1,0.3 1,0.3 1,0 1,0.1 1,0 1,0 1,0 1,0 1,-0.3 1,-0.4 1,-0.2 1,-0.2 1,0 1,-0.1 1,-0.2 1,-0.3 1,-0.2 1,0 1,-0.1 1,0.4 1,0.4 1,0.2 1,0.1 1,0.1 1,0.2 1,0.2 1,0.2 1,0.1 1,-0.1 1,-0.1 1,0 1,0.1 1,0 1,-0.1 1,-0.1 1,-0.1 1,-0.2 1,-0.2 1,-0.2 1,0 1,0 1,0.1 1,-0.1 1,0.1 1,0 1,-0.1 1,-0.1 1,0.1 1,0.3 1,0.3 1,0.2 1,0 1,0.1 1,0 1,0.1 1,-0.1 1,-0.3 1,0 1,-0.1 1,-0.1 1,0.1 1,0.3 1,0.1 1,-0.3 1,-0.3 1,0.1 1,0.3 1,0.1 1,-0.1 1,0 1,0 1,-0.1 1,0.1 1,0 1,-0.3 1,-0.2 1,-0.2 1,-0.2 1,0.1 1,0.2 1,0.1 1,-0.1 1,0 1,0.1 1,0.2 1,-0.1 1,0 1,0.1 1,0.1 1,0 1,0 1,-0.2 1,-0.4 1,-0.3 1,0.2 1,0.1 1,0.1 1,0.1 1,0 1,-0.1 1,0 1,0 1,-0.1 1,0 1,-0.2 1,-0.2 1,-0.2 1,0.2 1,0.6 1,0.3 1,0 1,0.1 1,0.2 1,-0.3 1,-0.4 1,0 1,0.1 1,0 1,0 1,0.1 1,-0.1 1,-0.3 1,0.1 1,0.5 1,0.1 1,-0.2 1,-0.3 1,-0.3 1,-0.5 1,-0.2 1,0.1 1,0.3 1,0.1 1,-0.1 1,0 1,-0.1 1,0 1,0.3 1,0.3 1,0 1,0 1,-0.2 1,-0.3 1,0.1 1,0.2 1,0.2 1,0.1 1,0 1,0 1,0 1,-0.1 1,-0.1 1,-0.1 1,-0.2 1,-0.2 1,-0.3 1,-0.2 1,0.1 1,0.4 1,0.2 1,0 1,0 1,-0.1 1,-0.2 1,0 1,0.3 1,0.4 1,0.1 1,-0.4 1,-0.2 1,0.3 1,0.3 1,0 1,0 1,0.1 1,-0.1 1,-0.1 1,0.1 1,0.1 1,0.1 1,0 1,-0.1 1,-0.2 1,-0.3 1,-0.4 1,-0.2 1,0 1,0 1,0.1 1,0.1 1,-0.2 1,-0.3 1,-0.1 1,0.2 1,0.3 1,0.1 1,-0.1 1,-0.3 1,-0.4 1,-0.1 1,0.1 1,0.3 1,0.3 1,-0.1 1,-0.2 1,0 1,-0.1 1,-0.2 1,0 1,0.4 1,0.3 1,0.2 1,0.2 1,0.1 1,-0.1 1,-0.4 1,-0.3 1,0 1,0.4 1,0.1 1,-0.4 1,-0.3 1,-0.2 1,-0.6 1,-1.2 1,-0.9 1,-0.9 1,-1.2 1,-1 1,-1 1,-1.1 1,-0.2 1,0.2 1,-0.9 1,-1.1 1,-2.6 1,-4.3 1,-3.8 1,-1.9 1,-1.1 1,-2.7 1,-4.1 1,-4.9 1,-5.8 1,-5.6 1,-5.7 1,-5.7 1,-5.9 1,-5.7 1,-5.1 1,-5.6 1,-7.1 1,-6.6 1,-6.6 1,-6.9 1,-6 1,-5.6 1,-4.3 1,-4.4 1,-4.6 1,-3.3 1,-2.3 1,-1.5 1,-1.4 1,-1.9 1,-1.6 1,-0.5 1,0.5 1,0.3 1,-0.7 1,-2.2 1,-1.2 1,1.4 1,1 1,-0.4 1,-0.8 1,-0.3 1,-0.4 1,-1.1 1,-0.2 1,1.7 1,0.8 1,-0.8 1,-0.4 1,0.4 1,-1.2 1,-3 1,-3.3 1,-2.3 1,-1.4 1,-1.3 1,-0.9 1,-1.2 1,-1.5 1,-2.2 1,-1.7 1,-1 1,-2 1,-2.2 1,-2.3 1,-4.2 1,-6 1,-5.4 1,-3 1,-1.6 1,-2.2 1,-2.1 1,-2 1,-2.5 1,-2.8 1,-1.4 1,-0.7 1,-1.5 1,-2.1 1,-2.1 1,-1.6 1,-0.7 1,-1.1 1,-0.9 1,-0.6 1,-0.1 1,-0.8 1,-1.8 1,-0.6 1,1.8 1,2.1 1,1.2 1,1.8 1,1.6 1,-0.3 1,0.3 1,2.5 1,1.9 1,1.4 1,1.8 1,1.7 1,2 1,3.1 1,2.9 1,2.6 1,2.1 1,1.7 1,2.2 1,2.3 1,1.8 1,2.8 1,3.6 1,3 1,2 1,0.9 1,0.8 1,0.8 1,1.3 1,2.4 1,2.1 1,0.4 1,0.4 1,0 1,-0.4 1,-0.3 1,-1.4 1,-1.6 1,0.5 1,2.2 1,1.5 1,1.2 1,1.9 1,1.4 1,0.5 1,0.1 1,0.5 1,1.4 1,2.4 1,2.9 1,1.2 1,-0.4 1,0.4 1,0.6 1,0.6 1,1.6 1,2.4 1,1.8 1,0.3 1,-0.2 1,0.4 1,1.3 1,1.7 1,1.1 1,0 1,-1.1 1,-0.7 1,1.3 1,2.6 1,2 1,0.9 1,-0.4 1,-0.1 1,1.4 1,2.1 1,1.7 1,0.6 1,0.6 1,1 1,0.7 1,0.6 1,1.1 1,1.2 1,0.5 1,-0.1 1,0 1,0.9 1,1.2 1,1.1 1,0.8 1,0.7 1,1 1,0.5 1,-1 1,-0.6 1,0.6 1,1.3 1,2.6 1,3.5 1,0.4 1,-1.5 1,-2.4 1,-2.1 1,-1.4 1,-0.6 1,0.8 1,1.9 1,1 1,-0.7 1,-2.2 1,-2.1 1,-1.2 1,-0.5 1,-1.7 1,-2 1,0.1 1,0.8 1,-0.4 1,-0.6 1,-0.4 1,-0.3 1,0 1,-1.1 1,-2.1 1,-1 1,-0.3 1,-0.7 1,-1.2 1,-0.6 1,0.3 1,-0.1 1,0.3 1,0.6 1,-0.4 1,-0.7 1,1 1,2.2 1,2.7 1,1.9 1,0.4 1,-0.8 1,-1.2 1,-0.6 1,0.2 1,-0.3 1,-1.1 1,-0.2 1,-0.3 1,-0.6 1,0 1,0 1,-0.5 1,-0.1 1,0.6 1,1 1,1 1,1.2 1,1.3 1,1.9 1,0.9 1,-0.4 1,0.1 1,0.7 1,1.3 1,1.9 1,1.6 1,1.7 1,1 1,-0.3 1,-1.1 1,0 1,1.2 1,0.9 1,0.3 1,-0.2 1,0 1,0.5 1,0.6 1,1 1,1 1,0.5 1,0.1 1,-0.8 1,-1 1,0.5 1,0.9 1,0.8 1,0.5 1,-0.2 1,-0.4 1,0.9 1,2.1 1,2.5 1,0.9 1,-0.5 1,0.3 1,0.5 1,-0.7 1,-1.7 1,-1.6 1,-0.7 1,0.7 1,0.9 1,0.8 1,1.6 1,1.5 1,-0.1 1,-1.5 1,-2.1 1,-0.9 1,0.7 1,1.5 1,1.2 1,0.7 1,-0.1 1,-0.2 1,0 1,0 1,-0.8 1,-1.7 1,-1.6 1,-0.4 1,1 1,0.9 1,-0.7 1,-1.5 1,-0.7 1,0.2 1,0.4 1,-0.2 1,-0.2 1,-0.6 1,-1.5 1,-1.5 1,-1.3 1,-1.9 1,-1 1,1 1,1.4 1,0.2 1,-0.4 1,-1.5 1,-1.2 1,-0.6 1,-2 1,-2.5 1,-1.2 1,-0.5 1,0.1 1,0.4 1,-0.4 1,-0.9 1,-1.1 1,-2.1 1,-1.9 1,-0.4 1,0.5 1,0.3 1,-0.7 1,-1.5 1,-2.2 1,-2.1 1,-1.7 1,-0.8 1,-0.5 1,-1.9 1,-2.4 1,-0.7 1,0.9 1,-1 1,-1.6 1,-2.7 1,-2.5 1,-3 1,-2.7 1,-1.5 1,-0.3 1,1.1 1,0.4 1,-2.2 1,-2.6 1,-2.1 1,-2 1,-1.6 1,-1.2 1,-0.1 1,0.8 1,0.2 1,0.3 1,0.7 1,2 1,2.9 1,2.8 1,1.2 1,0.7 1,1.3 1,2.6 1,4 1,3 1,0.9 1,1.8 1,2.6 1,2.1 1,2 1,1.3 1,1.4 1,1.5 1,0.4 1,-0.1 1,0.6 1,1.3 1,0.5 1,-0.8 1,-0.8 1,1.3 1,1.9 1,0.7 1,0.5 1,1.2 1,1.7 1,1.6 1,0.6 1,0.3 1,0.5 1,0.3 1,1.4 1,0.7 1,-1.4 1,-1.1 1,0.4 1,-0.2 1,-1.8 1,-2 1,-1.1 1,-0.2 1,1.2 1,0.8 1,-1 1,-1.1 1,-0.7 1,0 1,-0.3 1,-1.1 1,-2 1,-1.5 1,-0.4 1,-0.8 1,-1.1 1,-1.8 1,-2.1 1,-2.4 1,-2.1 1,-1.2 1,-1.2 1,-1.6 1,-2.7 1,-4 1,-4.2 1,-2.9 1,-3.7 1,-4.9 1,-5.3 1,-5.2 1,-4.7 1,-4.6 1,-5.1 1,-5.9 1,-5.3 1,-4.8 1,-5.2 1,-4.5 1,-3.8 1,-4.4 1,-4 1,-1.9 1,-0.7 1,-0.4 1,-1.3 1,-2.7 1,-3.7 1,-3.8 1,-2 1,0.3 1,2.5 1,3.4 1,3.5 1,4.8 1,6.1 1,7.3 1,7.9 1,7.2 1,7.5 1,7.7 1,6.3 1,5.2 1,5.2 1,4.9 1,4.5 1,3.6 1,2.4 1,1.7 1,2.5 1,3.6 1,2.9 1,2.3 1,2.1 1,1.8 1,2.1 1,2.5 1,1.2 1,0.2 1,0.1 1,1.1 1,1.5 1,0.4 1,-0.8 1,-1.4 1,-0.1 1,2.5 1,2.5 1,-0.1 1,-0.2 1,1 1,1.8 1,1.4 1,1.7 1,0.8 1,0.7 1,1.3 1,0.3 1,0.3 1,2.9 1,4.7 1,2.5 1,-1.5 1,-2.2 1,-1 1,0.2 1,1.8 1,0.9 1,-1.7 1,-3.1 1,-0.6 1,0.4 1,1.1 1,1.1 1,1.3 1,1.9 1,2 1,0 1,-0.9 1,0.5 1,0.3 1,-0.2 1,0.5 1,0.9 1,1.3 1,0.9 1,-0.4 1,-1 1,-0.5 1,-0.8 1,-1 1,-1.7 1,-0.5 1,1.8 1,-0.4 1,-2.8 1,0.3 1,1.6 1,2.6 1,2.5 1,3 1,1 1,-2 1,-1.4 1,1.2 1,2.4 1,0.7 1,-0.6 1,-1.2 1,-1 1,0.5 1,1 1,-1.1 1,-2.6 1,-1.4 1,1.1 1,2.6 1,1.5 1,-0.9 1,-1.5 1,-1.3 1,0 1,2.9 1,2 1,-0.4 1,-0.8 1,-2.2 1,-0.9 1,2 1,2.8 1,1.8 1,1.3 1,0.4 1,-1.9 1,-2.5 1,0.2 1,1.3 1,-1.1 1,-2.1 1,-0.5 1,1.8 1,2.7 1,-1.3 1,-3.2 1,0.1 1,1.7 1,0.9 1,-0.2 1,0 1,1.1 1,2.3 1,1.1 1,-0.1 1,0.5 1,0.9 1,0.8 1,1.2 1,0.9 1,-0.6 1,-1.6 1,-0.8 1,0.2 1,0.3 1,0.8 1,-0.4 1,-1.6 1,-1.4 1,0.2 1,1.5 1,1.1 1,1.2 1,3.2 1,2.3 1,-0.6 1,-3 1,-3.9 1,-3.6 1,-0.9 1,1.5 1,2.3 1,2 1,-0.5 1,-1.8 1,-1.2 1,0.9 1,2.1 1,1.9 1,1.5 1,0.1 1,-1.2 1,-1.3 1,0.3 1,1.4 1,0.9 1,-0.5 1,-1.7 1,-1.7 1,-1.4 1,0.2 1,1.1 1,1.1 1,1.4 1,0.6 1,-1.4 1,-1 1,0.4 1,-0.8 1,-0.5 1,0.9 1,-0.6 1,-1.5 1,-1.4 1,-0.4 1,0.2 1,0.6 1,3.1 1,3 1,0.2 1,-0.9 1,0 1,1.5 1,0.9 1,-1.9 1,-3.2 1,-2 1,-0.1 1,-0.5 1,0 1,2.3 1,-0.2 1,-3.3 1,-1.1 1,1.6 1,-1.9 1,-5.3 0.5,-3.9 0,22.1 -0.5,2 -1,3.4 -1,2.2 -1,-2 -1,-2.1 -1,1.8 -1,1.3 -1,-0.7 -1,1.2 -1,2.7 -1,1.8 -1,1.7 -1,0.6 -1,1.4 -1,2 -1,-0.6 -1,-3.7 -1,-1.9 -1,1.2 -1,-1.1 -1,-2.1 -1,0 -1,0 -1,-1.9 -1,-1.3 -1,-0.5 -1,0.9 -1,0.3 -1,1 -1,1.7 -1,1.2 -1,0.8 -1,1.2 -1,-0.2 -1,-2.1 -1,-0.5 -1,0.8 -1,0.1 -1,0.1 -1,-0.3 -1,-1.2 -1,2.1 -1,4.2 -1,1.1 -1,-2.3 -1,-1.3 -1,1.9 -1,0.2 -1,-3.5 -1,-3.1 -1,-0.7 -1,1.7 -1,0.9 -1,1 -1,1.7 -1,0.4 -1,-1.5 -1,-2.4 -1,-0.5 -1,0.8 -1,2.4 -1,2.8 -1,1.6 -1,-0.9 -1,-1.8 -1,-1.6 -1,-1.7 -1,-1.4 -1,0.5 -1,1.3 -1,0.2 -1,1.6 -1,1.2 -1,-2 -1,-2.4 -1,-0.6 -1,1.1 -1,1.8 -1,1.6 -1,0.7 -1,-0.5 -1,-2.4 -1,-3.6 -1,-2.7 -1,-0.2 -1,-0.6 -1,-0.8 -1,-0.6 -1,1.3 -1,1.6 -1,0.2 -1,-0.3 -1,-1.2 -1,-1.1 -1,-0.5 -1,-0.4 -1,-0.9 -1,0.6 -1,1.1 -1,-1.6 -1,-0.3 -1,3.3 -1,3.1 -1,0.9 -1,-0.5 -1,-1 -1,-2.1 -1,-1.9 -1,-0.2 -1,0 -1,0.3 -1,1.7 -1,1.7 -1,-1 -1,-3.1 -1,-1.8 -1,2.2 -1,2.4 -1,-0.9 -1,-2.2 -1,-1.8 -1,-0.8 -1,0 -1,-1.3 -1,-1.6 -1,0.6 -1,2.6 -1,3.7 -1,2.5 -1,-1.6 -1,-2.8 -1,-0.5 -1,0.2 -1,-0.8 -1,-1 -1,-0.7 -1,-0.4 -1,0.1 -1,-0.6 -1,-0.3 -1,-0.9 -1,-1.1 -1,0 -1,1.5 -1,1.5 -1,0.4 -1,0.8 -1,-0.5 -1,-0.5 -1,0.5 -1,-0.6 -1,-1.3 -1,-0.9 -1,1.6 -1,2.1 -1,-0.9 -1,-1.3 -1,-0.3 -1,-1.3 -1,-1.2 -1,-0.2 -1,-1.6 -1,-1.5 -1,-0.3 -1,0.1 -1,0.6 -1,1.6 -1,0.1 -1,-2.3 -1,-2.3 -1,-1.4 -1,1 -1,3.1 -1,1.8 -1,-0.4 -1,-3.3 -1,-4.1 -1,-1.9 -1,-0.1 -1,-0.6 -1,-0.9 -1,-1.9 -1,-2.1 -1,0.5 -1,1.5 -1,-0.1 -1,-1.2 -1,-1.1 -1,-1.2 -1,-1.2 -1,-1.1 -1,-0.4 -1,0.1 -1,-1.8 -1,-2.8 -1,-1.4 -1,-0.5 -1,-0.9 -1,-1.6 -1,-1.8 -1,-2.6 -1,-3.3 -1,-2.3 -1,-0.6 -1,-1.7 -1,-3.4 -1,-3.6 -1,-2.5 -1,-2 -1,-3.1 -1,-4.3 -1,-4.3 -1,-4.2 -1,-5.3 -1,-6.4 -1,-9.6 -1,-10 -1,-7.1 -1,-5.8 -1,-6.8 -1,-7.2 -1,-4.3 -1,-2.7 -1,-3.2 -1,-3.2 -1,-0.7 -1,2.9 -1,3.4 -1,1.9 -1,0.8 -1,0.7 -1,1.5 -1,2.2 -1,2.6 -1,4.3 -1,4.8 -1,4.1 -1,4.3 -1,4.7 -1,5.3 -1,5.5 -1,5.8 -1,4.9 -1,4.5 -1,6.3 -1,7.2 -1,4.7 -1,2.8 -1,2 -1,2.9 -1,3 -1,3.8 -1,3.3 -1,1.6 -1,1 -1,1.9 -1,2.5 -1,3.3 -1,3.5 -1,1.7 -1,-0.1 -1,-0.3 -1,0.9 -1,2.3 -1,2.4 -1,1.2 -1,-0.2 -1,-0.5 -1,0.1 -1,0.7 -1,0.5 -1,-0.1 -1,0.2 -1,0.2 -1,-0.1 -1,0.9 -1,0.5 -1,0.5 -1,1.2 -1,1.1 -1,0.3 -1,0 -1,0.4 -1,0.5 -1,-0.2 -1,-0.5 -1,-0.6 -1,-1.6 -1,-2.1 -1,-2.6 -1,-1.3 -1,-0.4 -1,-1 -1,-0.6 -1,-0.1 -1,-0.4 -1,-0.5 -1,0.2 -1,0.1 -1,-0.5 -1,-0.9 -1,-0.5 -1,-1.1 -1,-1.4 -1,-1.2 -1,-1.6 -1,-2 -1,-2.2 -1,-2.3 -1,-3 -1,-3.1 -1,-2.8 -1,-2.8 -1,-2 -1,-1.1 -1,-1.7 -1,-2.6 -1,-1.5 -1,-0.1 -1,0.4 -1,0.4 -1,-0.1 -1,-0.5 -1,0 -1,1.1 -1,2.1 -1,1.8 -1,1 -1,1.2 -1,1.1 -1,0.8 -1,1.2 -1,0.7 -1,0.8 -1,2 -1,1.9 -1,2.3 -1,2.5 -1,1.2 -1,0.7 -1,1.2 -1,0.8 -1,0.4 -1,1.7 -1,2.8 -1,1.7 -1,0.9 -1,1.5 -1,1 -1,0.3 -1,0.8 -1,1.6 -1,1.6 -1,0.9 -1,0.7 -1,0.9 -1,0.8 -1,0.6 -1,0.2 -1,0.2 -1,1 -1,1.7 -1,1.5 -1,0.5 -1,0.9 -1,1.2 -1,0.9 -1,-0.4 -1,-1.5 -1,-1 -1,0.8 -1,2.2 -1,1.7 -1,1 -1,1.1 -1,1 -1,0.3 -1,-0.3 -1,0.6 -1,1.6 -1,0.7 -1,0.1 -1,0.5 -1,0.9 -1,1 -1,-0.2 -1,-0.7 -1,0.2 -1,0.2 -1,0.6 -1,1.2 -1,0.4 -1,-0.4 -1,-0.4 -1,-0.5 -1,-0.1 -1,0.2 -1,0.4 -1,-0.1 -1,0.1 -1,0.8 -1,0.8 -1,-0.9 -1,-2.6 -1,-2.7 -1,-0.8 -1,0.7 -1,1.8 -1,2 -1,0.7 -1,0.1 -1,0.2 -1,-0.6 -1,-0.7 -1,-0.6 -1,-1.6 -1,-2.2 -1,-0.1 -1,1.4 -1,0.3 -1,-1 -1,-1.7 -1,-1.9 -1,-1.5 -1,0.7 -1,2.2 -1,1 -1,-0.1 -1,-1.4 -1,-1.7 -1,-0.1 -1,0.2 -1,-0.4 -1,0.2 -1,-0.3 -1,-0.8 -1,-0.7 -1,-0.6 -1,-0.8 -1,-0.6 -1,0.1 -1,-0.6 -1,-2.7 -1,-3.3 -1,-1.3 -1,0.4 -1,1 -1,-0.4 -1,-1.1 -1,-1.5 -1,-1.9 -1,-1.2 -1,-0.5 -1,-0.5 -1,-1.3 -1,-0.3 -1,0.8 -1,0.6 -1,0.8 -1,1.3 -1,1.2 -1,1.4 -1,1.2 -1,-0.5 -1,-2 -1,-1 -1,1 -1,1.4 -1,0 -1,-2.3 -1,-3.2 -1,-1.9 -1,-0.3 -1,0.6 -1,0.3 -1,0.7 -1,1 -1,-0.3 -1,-0.4 -1,0 -1,-0.2 -1,-0.2 -1,0.5 -1,1.4 -1,2 -1,2.3 -1,1.6 -1,-0.2 -1,-1.4 -1,0 -1,0.7 -1,1.1 -1,1 -1,0.4 -1,1.5 -1,2.1 -1,1.2 -1,0.7 -1,0.7 -1,0.3 -1,0.5 -1,0 -1,-0.7 -1,-0.5 -1,-0.1 -1,1 -1,1.7 -1,1.4 -1,0.1 -1,-1.8 -1,-2.3 -1,-0.1 -1,0.3 -1,-0.8 -1,-1.3 -1,0 -1,0.3 -1,-0.9 -1,-1.4 -1,-0.8 -1,-0.7 -1,-0.6 -1,-1.3 -1,-1.6 -1,-0.4 -1,0.5 -1,-0.3 -1,-1.3 -1,-1 -1,-0.7 -1,-0.5 -1,-0.9 -1,-1 -1,-0.9 -1,-1.4 -1,-0.9 -1,0 -1,0 -1,-0.7 -1,-1.1 -1,-1.7 -1,-1.3 -1,-0.1 -1,-0.2 -1,-1.3 -1,-1.5 -1,-1.1 -1,-0.4 -1,1 -1,0.9 -1,-0.7 -1,-3 -1,-2.8 -1,-1.5 -1,-1.5 -1,-1 -1,-0.2 -1,-0.3 -1,-1.4 -1,-2.1 -1,-2 -1,-0.7 -1,0.6 -1,0 -1,-1.5 -1,-2.5 -1,-2.1 -1,-1.1 -1,-0.4 -1,-0.6 -1,-0.6 -1,0.4 -1,0.8 -1,0.3 -1,0 -1,-0.9 -1,-1.1 -1,-1.4 -1,-2 -1,-2.1 -1,-1.1 -1,0 -1,0.3 -1,-0.5 -1,-2.7 -1,-4.9 -1,-4.4 -1,-2.3 -1,-1.5 -1,-1.7 -1,-2.2 -1,-3.5 -1,-2.8 -1,-1.7 -1,-1.1 -1,-1 -1,-1.8 -1,-2.7 -1,-2.8 -1,-2 -1,-1.1 -1,-1.1 -1,-1.6 -1,-1.2 -1,-1.2 -1,-0.7 -1,-0.3 -1,-1 -1,0.1 -1,0.7 -1,-0.9 -1,-0.8 -1,0.6 -1,1 -1,1.3 -1,2.1 -1,1.7 -1,1.1 -1,2.5 -1,2.6 -1,1.7 -1,2.5 -1,2.4 -1,1.1 -1,1 -1,1.7 -1,2.6 -1,3.2 -1,3.4 -1,4.3 -1,5.2 -1,3.7 -1,2.1 -1,2.2 -1,2.1 -1,1.1 -1,0.6 -1,1.4 -1,2 -1,1.6 -1,2 -1,2.7 -1,1.6 -1,1.5 -1,2 -1,1.6 -1,1.1 -1,1.6 -1,1.7 -1,1.9 -1,0.1 -1,-1.3 -1,-2 -1,-0.7 -1,0.3 -1,0.6 -1,0 -1,-0.3 -1,0.1 -1,-0.1 -1,0.5 -1,1.1 -1,0.3 -1,0.4 -1,1 -1,1.2 -1,1.3 -1,2 -1,1.7 -1,1.3 -1,1.6 -1,2.2 -1,3.8 -1,4.6 -1,5.3 -1,6.1 -1,6.4 -1,6.6 -1,7.3 -1,7.3 -1,6.3 -1,5.8 -1,6.7 -1,6 -1,5 -1,4.3 -1,4.6 -1,4.6 -1,4.9 -1,5.6 -1,4.3 -1,3.3 -1,2.9 -1,2.5 -1,2.8 -1,2.7 -1,2.6 -1,1.6 -1,0.2 -1,-0.3 -1,1 -1,1.5 -1,1 -1,0.4 -1,0.5 -1,1 -1,0.4 -1,0 -1,-0.2 -1,-0.3 -1,0 -1,0.1 -1,-0.2 -1,-0.3 -1,-0.2 -1,0.2 -1,0.3 -1,0.6 -1,0.4 -1,-0.1 -1,-0.3 -1,-0.4 -1,-0.3 -1,0 -1,0.4 -1,0.1 -1,0.1 -1,-0.1 -1,-0.1 -1,-0.2 -1,-0.3 -1,0 -1,-0.2 -1,0 -1,0.2 -1,0.2 -1,0.2 -1,0 -1,0 -1,0 -1,-0.1 -1,-0.3 -1,-0.1 -1,-0.2 -1,-0.2 -1,0.2 -1,0.3 -1,0.3 -1,0.8 -1,0.6 -1,0 -1,-0.2 -1,-0.2 -1,0 -1,0.1 -1,0 -1,0 -1,0 -1,-0.2 -1,-0.4 -1,-0.4 -1,0 -1,0.2 -1,0.5 -1,0.2 -1,-0.1 -1,-0.2 -1,-0.3 -1,-0.2 -1,0.2 -1,0.3 -1,-0.1 -1,-0.1 -1,-0.1 -1,-0.1 -1,-0.2 -1,-0.1 -1,0.2 -1,0.2 -1,0.4 -1,0.1 -1,-0.1 -1,0.2 -1,0.1 -1,-0.1 -1,-0.2 -1,-0.1 -1,-0.1 -1,0.2 -1,0.5 -1,0.3 -1,-0.1 -1,-0.3 -1,-0.2 -1,-0.3 -1,-0.3 -1,-0.1 -1,0.2 -1,0.2 -1,0.1 -1,-0.2 -1,-0.3 -1,0.2 -1,0.4 -1,0.2 -1,0.1 -1,0.1 -1,0.1 -1,-0.2 -1,-0.2 -1,0.1 -1,0 -1,-0.1 -1,-0.1 -1,-0.1 -1,-0.3 -1,0.1 -1,0.2 -1,0.6 -1,0.5 -1,0.1 -1,-0.2 -1,-0.2 -1,-0.2 -1,-0.5 -1,-0.4 -1,-0.1 -1,0.2 -1,0.1 -1,0.1 -1,0.2 -1,0.2 -1,0 -1,0.2 -1,0.1 -1,-0.1 -1,-0.2 -1,-0.3 -1,-0.3 -1,0.1 -1,0.5 -1,0.1 -1,0.1 -1,0.1 -1,-0.1 -1,-0.3 -1,0 -1,0.1 -1,0 -1,0 -1,-0.1 -1,-0.1 -1,-0.3 -1,-0.1 -1,0 -1,0.1 -1,0.4 -1,0.5 -1,0.2 -1,0.1 -1,-0.1 -1,-0.2 -1,-0.3 -1,-0.1 -1,0.2 -1,0 -1,-0.2 -1,0.2 -1,0.3 -1,-0.1 -1,-0.2 -1,0 -1,0.2 -1,0.2 -1,-0.1 -1,-0.1 -1,0 -1,0.4 -1,0 -1,-0.3 -1,-0.1 -1,0.2 -1,-0.1 -1,-0.2 -1,-0.2 -1,-0.1 -1,0.2 -1,0.2 -1,-0.2 -1,-0.2 -1,0 -1,0 -1,0 -1,0.1 -1,0.1 -1,0.1 -1,0.2 -1,0.1 -1,0.1 -1,-0.1 -1,-0.1 -1,-0.1 -1,0 -1,0 -1,-0.2 -1,0 -1,0.2 -1,0 -1,-0.1 -1,-0.2 -1,-0.2 -1,0 -1,-0.3 -1,-0.2 -1,0.1 -1,0.1 -1,0.3 -1,0.1 -1,-0.2 -1,0.1 -1,0 -1,0.2 -1,0.2 -1,0.2 -1,0.1 -1,0 -1,0.1 -1,-0.1 -1,0 -1,0.1 -1,0.2 -1,0.1 -1,-0.2 -1,-0.3 -1,-0.3 -1,-0.1 -1,0.1 -1,0 -1,-0.1 -1,-0.1 -1,0.1 -1,0.1 -1,-0.2 -1,0 -1,0.3 -1,0.1 -1,0.1 -1,-0.1 -1,-0.1 -1,0 -1,-0.3 -1,-0.4 -1,0.1 -1,0.2 -1,0.1 -1,0.2 -1,0.5 -1,0.2 -1,0 -1,0 -1,-0.2 -1,-0.2 -1,-0.1 -1,-0.3 -1,-0.2 -1,0.2 -1,0.2 -1,0 -1,-0.3 -1,-0.4 -1,-0.3 -1,-0.1 -1,0.2 -1,0.3 -1,0.2 -1,0.3 -1,0.3 -1,-0.1 -1,-0.3 -1,0.1 -1,0.2 -1,0.2 -1,0.1 -1,0.1 -1,-0.3 -1,-0.2 -1,0.1 -1,-0.1 -1,-1.6 -1,-3 -1,-3.6 -1,-6.6 -1,-11.1 -1,-13.8 -1,-14.7 -1,-14 -1,-11.3 -1,-6.9 -1,-1.1 -1,5.2 -1,10 -1,13 -1,14.5 -1,14.2 -1,12.2 -1,8.4 -1,3.8 -1,2.7 -1,2.3 -1,1.4 -1,0.3 -1,-0.2 -1,-0.2 -1,0 -1,0.2 -1,0.1 -1,0 -1,-0.1 -1,0.1 -1,0.2 -1,-0.2 -1,-0.2 -1,0.1 -1,0 -1,-0.2 -1,-0.1 -1,0 -1,0.1 -1,0.1 -1,-0.2 -1,0 -1,0 -1,0 -1,0 -1,0 -1,0 -1,-0.1 -1,-0.1 -1,0 -1,-0.1 -1,0.1 -1,0.3 -1,0.2 -1,0 -1,-0.1 -1,-0.2 -1,-0.1 -1,0.2 -1,0.3 -1,0 -1,-0.1 -1,-0.1 -1,-0.2 -1,-0.1 -1,0.1 -1,0.3 -1,0.2 -1,0 -1,-0.2 -1,-0.1 -1,-0.1 -1,-0.1 -1,-0.2 -1,0.1 -1,0.3 -1,0 -1,-0.3 -1,-0.1 -1,-0.1 -1,-0.1 -1,0 -1,0.3 -1,0.4 -1,0 -1,-0.3 -1,-0.2 -1,0.1 -1,0.1 -1,0 -1,-0.1 -1,-0.2 -1,-0.2 -1,-0.2 -1,-0.3 -1,0 -1,-0.1 -1,0.2 -1,0.2 -1,-0.1 -1,-0.1 -1,-0.1 -1,0.1 -1,0.2 -1,0 -1,-0.4 -1,-0.3 -1,-0.1 -1,0.2 -1,0.3 -1,0.1 -1,-0.1 -1,-0.1 -1,0.1 -1,-0.2 -1,-0.3 -1,-0.1 -1,0.1 -1,0.2 -1,0.1 -1,-0.1 -1,-0.2 -1,0 -1,0.3 -1,0.1 -1,0 -1,0.1 -1,0.2 -1,0.1 -1,-0.4 -1,-0.4 -1,0 -1,0.2 -1,0.3 -1,0 -1,0.1 -1,-0.1 -1,-0.4 -1,0 -1,0.3 -1,-0.1 -1,-0.3 -1,-0.2 -1,0 -1,0.2 -1,0.2 -1,0.2 -1,0.1 -1,-0.3 -1,-0.5 -1,-0.2 -1,0.2 -1,0.1 -1,0 -1,0.2 -1,0.2 -1,0.1 -1,-0.1 -1,-0.3 -1,0 -1,0.1 -1,-0.1 -1,-0.2 -1,-0.2 -1,0 -1,0.1 -1,0.1 -1,-0.1 -1,-0.1 -1,0.1 -1,0.3 -1,0.3 -1,0 -1,-0.2 -1,0 -1,0 -1,-0.2 -1,-0.3 -1,0.2 -1,0.4 -1,0.3 -1,0.1 -1,0.1 -1,0 -1,-0.1 -1,-0.2 -1,-0.1 -1,-0.2 -1,-0.1 -1,0.2 -1,0.5 -1,0.4 -1,0.2 -1,0.3 -1,0.6 -1,0.8 -1,0.9 -1,0.7 -1,0.3 -1,-0.1 -1,-0.1 -1,0 -1,0 -1,-0.1 -1,0 -1,0 -1,-0.1 -1,-0.3 -1,-0.1 -1,0.3 -1,0.4 -1,0.2 -1,0.1 -1,0.1 -1,-0.2 -1,0 -1,0 -1,-0.1 -1,-0.1 -1,0.1 -1,0.1 -1,-0.2 -1,-0.3 -1,-0.2 -1,0.2 -1,0.6 -1,0.3 -1,-0.2 -1,0 -1,0.1 -1,-0.3 -1,-0.3 -1,-0.2 -1,-0.1 -1,0.3 -1,0.3 -1,-0.1 -1,-0.1 -1,0 -1,0.1 -1,0.1 -1,0 -1,-0.1 -1,0 -1,0 -1,-0.1 -1,-0.3 -1,-0.2 -1,0 -1,0 -1,0.2 -1,0 -1,-0.2 -1,-0.3 -1,0 -1,0.1 -1,0 -1,0.1 -1,0.3 -1,0.3 -1,0.3 -1,0.1 -1,0 -1,-0.1 -1,-0.5 -1,-0.5 -1,0 -1,0.4 -1,0.4 -1,0 -1,-0.3 -1,-0.3 -1,-0.2 -1,0 -1,0.1 -1,-0.1 -1,-0.2 -1,0 -1,0.3 -1,0.2 -1,-0.1 -1,-0.2 -1,0 -1,-0.3 -1,-0.1 -1,0.2 -1,0.2 -1,0 -1,0 -1,0.1 -1,0 -1,-0.2 -1,-0.2 -1,0 -1,0.1 -1,0.2 -1,0.3 -1,0.4 -1,0.2 -1,0.1 -1,-0.1 -1,-0.1 -1,0.1 -1,0.2 -1,-0.2 -1,-0.3 -1,-0.1 -1,0.2 -1,0.2 -1,0.2 -1,0.3 -1,0.4 -1,0 -1,-0.3 -1,-0.2 -1,-0.1 -1,-0.6 -1,-1 -1,-1.7 -1,-2 -1,-1.5 -1,-1 -1,-0.6 -1,-2.2 -1,-4.5 -1,-5.1 -1,-4 -1,-4.1 -1,-5.2 -1,-7.1 -1,-7 -1,-4.8 -1,-3.6 -1,-4.2 -1,-4.9 -1,-3.4 -1,-2.1 -1,-2.3 -1,-2.7 -1,-1 -1,1.3 -1,1.5 -1,0.7 -1,1.2 -1,1.4 -1,0.4 -1,-0.2 -1,-0.2 -1,-0.3 -1,-1.3 -1,-0.8 -1,0.1 -1,-0.5 -1,-0.7 -1,0.1 -1,0.2 -1,-0.2 -1,0.2 -1,0.5 -1,0.5 -1,0.2 -1,-1 -1,-2.6 -1,-3.6 -1,-4 -1,-3.2 -1,-3 -1,-1.6 -1,-0.4 -1,-0.4 -1,-2 -1,-3.6 -1,-3.7 -1,-2.3 -1,-0.9 -1,0.1 -1,0.3 -1,-1.7 -1,-3.2 -1,-3.5 -1,-4.3 -1,-4.1 -1,-2.5 -1,-1.6 -1,-2.6 -1,-2.7 -1,-1.2 -1,0.2 -1,-0.4 -1,-2 -1,-1.4 -1,0 -1,-0.1 -1,-0.7 -1,-0.1 -1,0.4 -1,-0.3 -1,-1 -1,-0.2 -1,1.4 -1,2 -1,1.4 -1,1 -1,1.6 -1,1.5 -1,0.9 -1,1.5 -1,2.5 -1,2.3 -1,2 -1,0.6 -1,-0.7 -1,0 -1,0.2 -1,0.9 -1,1 -1,1.1 -1,1.7 -1,2.9 -1,2.5 -1,1.4 -1,1 -1,2 -1,3.2 -1,3.1 -1,2.8 -1,1.3 -1,-1 -1,-1 -1,2.2 -1,3.4 -1,3 -1,2.8 -1,1.6 -1,0.6 -1,0.6 -1,1.7 -1,0.6 -1,-0.3 -1,0.6 -1,0.6 -1,-0.3 -1,-0.1 -1,1.7 -1,1.6 -1,0.3 -1,0.3 -1,1.1 -1,1.5 -1,0.4 -1,-0.2 -1,1 -1,0.5 -1,0.3 -1,0.6 -1,0.3 -1,0.9 -1,1.9 -1,0.5 -1,-1.7 -1,-1.9 -1,-0.8 -1,0.2 -1,0.3 -1,0.4 -1,-0.3 -1,-0.9 -1,0.1 -1,1.6 -1,2 -1,2.1 -1,1.6 -1,0.5 -1,0 -1,0.4 -1,0.5 -1,-0.5 -1,-0.3 -1,1.2 -1,0.9 -1,-0.1 -1,-0.4 -1,-0.6 -1,-0.3 -1,0.7 -1,1.2 -1,1.4 -1,2 -1,1.3 -1,-1 -1,-1.2 -1,-0.3 -1,0.1 -1,1 -1,1.6 -1,2 -1,1 -1,1.6 -1,1.5 -1,0.3 -1,-1.2 -1,-1.7 -1,-0.8 -1,-1.2 -1,-1.6 -1,-0.2 -1,0.7 -1,1.2 -1,1.6 -1,0.8 -1,-0.8 -1,-1.4 -1,-0.2 -1,0.1 -1,-0.7 -1,-0.8 -1,-0.8 -1,0 -1,0.9 -1,0.2 -1,-1.3 -1,-0.8 -1,0.7 -1,1.5 -1,1.8 -1,1.4 -1,0.3 -1,-1.3 -1,-1.6 -1,-0.8 -1,0.5 -1,1.1 -1,0.2 -1,-0.1 -1,-0.9 -1,-1.4 -1,-0.9 -1,-0.5 -1,-0.6 -1,-0.2 -1,1.2 -1,2.2 -1,1.6 -1,0.9 -1,1.1 -1,-0.2 -1,-1.4 -1,-2.4 -1,-1.1 -1,0.1 -1,0.3 -1,1 -1,1.2 -1,0.5 -1,0 -1,-0.1 -1,0.3 -1,0.4 -1,-0.6 -1,-0.3 -1,0.6 -1,0 -1,-0.1 -1,1.1 -1,1.1 -1,0.2 -1,0.2 -1,1.8 -1,1.2 -1,0.2 -1,-0.8 -1,-1 -1,-1.7 -1,-0.8 -1,1.8 -1,3 -1,1.5 -1,-0.3 -1,-0.7 -1,0.2 -1,-0.1 -1,0.3 -1,1 -1,0.6 -1,0.8 -1,2.6 -1,0.9 -1,-1.1 -1,-0.1 -1,0.5 -1,0.5 -1,0.9 -1,0.5 -1,0 -1,-0.5 -1,0.2 -1,1.1 -1,0.3 -1,-0.9 -1,0 -1,1.5 -1,1.1 -1,0.2 -1,-0.4 -1,-1.5 -1,-0.5 -1,1 -1,1.6 -1,1 -1,-0.6 -1,-0.7 -1,0.1 -1,0.2 -1,-1.3 -1,-0.9 -1,0.5 -1,0.3 -1,0.1 -1,0.9 -1,1.6 -1,0.6 -1,-0.2 -1,-0.4 -1,-0.7 -1,-1.5 -1,-0.7 -1,0.1 -1,0.7 -1,0.8 -1,-0.1 -1,-0.1 -1,-0.2 -1,-0.4 -1,0 -1,0.7 -1,1.3 -1,0 -1,-1.2 -1,-0.5 -1,-0.6 -1,-1.4 -1,-0.4 -1,1.8 -1,2.1 -1,0.6 -1,-1.4 -1,-2.7 -1,-2.4 -1,-1.7 -1,-0.1 -1,1.6 -1,1.8 -1,1.7 -1,1.5 -1,0 -1,-1.8 -1,-1.2 -1,-0.2 -1,-0.9 -1,-1.5 -1,-1.5 -1,-1.3 -1,-0.1 -1,0.7 -1,0.1 -1,-0.4 -1,0.2 -1,0.3 -1,0.3 -1,0.2 -1,-0.4 -1,-0.8 -1,-0.8 -1,-0.6 -1,0.2 -1,0.2 -1,-0.1 -1,-0.3 -1,-0.3 -1,-0.1 -1,-0.2 -1,-0.3 -1,-0.3 -1,0.7 -1,1.2 -1,0.6 -1,1.3 -1,0.8 -1,-0.5 -1,0.2 -1,2.2 -1,2.2 -1,0 -1,-0.9 -1,0.3 -1,1.1 -1,0.2 -1,0.1 -1,0.9 -1,1.3 -1,0.3 -1,-0.4 -1,-0.5 -1,-0.3 -1,1.5 -1,2 -1,1.4 -1,0.2 -1,-0.1 -1,0.1 -1,0.2 -1,-1.1 -1,-1.6 -1,-0.2 -1,0.8 -1,0.4 -1,0.2 -1,0.3 -1,-0.1 -1,0.7 -1,1.6 -1,0.1 -1,-1.2 -1,-1.2 -1,0 -1,0.3 -1,0.6 -1,2.6 -1,2.4 -1,-0.6 -1,-1.5 -1,-0.3 -1,-0.7 -1,-1.9 -1,-1.3 -1,-0.9 -1,-0.2 -1,-0.1 -1,0.3 -1,0.5 -1,0.1 -1,0 -1,0.5 -1,1.3 -1,1.1 -1,0.4 -1,-0.2 -1,-0.9 -1,-0.7 -1,-1.1 -1,-2 -1,-2.1 -1,-0.5 -1,0.9 -1,-0.6 -1,-1.2 -1,-0.6 -1,-0.8 -1,-0.7 -1,1.3 -1,1.9 -1,-1 -1,-1.9 -1,-1.1 -1,0.4 -1,0.2 -1,-0.5 -1,-0.8 -1,-0.5 -1,-2 -1,-1.9 -1,1 -1,2.5 -1,1.6 -1,-0.5 -1,-1.3 -1,-0.3 -1,0.5 -1,-0.8 -1,-1.2 -1,0.3 -1,0.6 -1,0.6 -1,1.7 -1,2.2 -1,0.8 -1,0.4 -1,0.8 -1,0.7 -1,0.8 -1,0.8 -1,0.8 -1,0.8 -1,0.9 -1,0.5 -1,0.7 -1,1.3 -1,0.3 -1,-1.3 -1,-1.3 -1,-0.7 -1,0 -1,0.7 -1,0.2 -1,1.1 -1,1.9 -1,1.4 -1,1 -1,0.4 -1,-0.6 -1,-0.4 -1,1.1 -1,1.4 -1,-1.2 -1,-1.3 -1,0.9 -1,0.4 -1,0.1 -1,1.5 -1,1.4 -1,-0.6 -1,-1.8 -1,-1.3 -1,0.2 -1,1.1 -1,1.1 -1,1.9 -1,0.9 -1,-1.8 -1,-2.7 -1,-1.7 -1,-0.3 -1,0.9 -1,2.1 -1,1.2 -1,0 -1,0.1 -1,0.4 -1,0.3 -1,1.1 -1,1.2 -1,0.8 -1,0.6 -1,0 -1,-0.9 -1,-0.5 -1,-0.3 -1,-0.7 -1,-1.3 -1,-1.2 -1,-0.3 -1,0.6 -1,0.2 -1,0 -1,0.8z"/>
<path stroke-width="9.4" d="M145.5,916.7l1,-0.5 1,-0.5 1,-0.4 1,-0.6 1,-0.8 1,-0.9 1,-0.8 1,-0.5 1,-0 1,0.4 1,0.5 1,0.3 1,0.1 1,-0 1,-0.2 1,-0.3 1,-0.2 1,-0.2 1,-0.4 1,-0.5 1,-0.6 1,-0.6 1,-0.2 1,0.1 1,0.5 1,0.8 1,0.9 1,0.8 1,0.7 1,0.5 1,0.6 1,0.4 1,0.2 1,-0.1 1,0 1,0.1 1,0.3 1,0.4 1,0.3 1,-0.1 1,-0.4 1,-0.5 1,-0.5 1,-0.5 1,-0.7 1,-0.9 1,-1.1 1,-1.4 1,-1.3 1,-1.3 1,-1 1,-0.7 1,-0.6 1,-0.5 1,-0.8 1,-0.9 1,-0.9 1,-0.8 1,-1 1,-1 1,-1.1 1,-1 1,-0.6 1,-0.2 1,0.1 1,0 1,-0.2 1,-0.5 1,-0.4 1,-0.5 1,-0.4 1,-0.6 1,-0.6 1,-0.5 1,-0.3 1,0 1,0.1 1,0 1,0.1 1,0.1 1,0.1 1,0 1,-0.1 1,0 1,0.3 1,0.8 1,1 1,1 1,0.9 1,0.7 1,0.6 1,0.4 1,0 1,-0.2 1,-0.3 1,-0.2 1,0.2 1,0.7 1,1.1 1,1.3 1,1.3 1,1 1,0.8 1,0.4 1,0.4 1,0.3 1,0.1 1,-0.1 1,-0.4 1,-0.4 1,-0.2 1,0.1 1,0.3 1,0.5 1,0.5 1,0.6 1,0.3 1,0 1,-0.4 1,-0.5 1,-0.4 1,0.1 1,0.2 1,0.2 1,-0.2 1,-0.3 1,-0.2 1,0.2 1,0.6 1,0.9 1,0.8 1,0.4 1,0 1,-0.4 1,-0.5 1,-0.4 1,-0.2 1,-0.1 1,0.1 1,0 1,-0.4 1,-0.7 1,-0.8 1,-0.6 1,-0.2 1,0.1 1,0.3 1,0.2 1,-0.1 1,-0.6 1,-1 1,-0.9 1,-0.7 1,-0.5 1,-0.6 1,-0.8 1,-0.6 1,-0.4 1,-0.2 1,-0.3 1,-0.2 1,-0.2 1,-0.1 1,0.1 1,0.1 1,0 1,-0.2 1,-0.4 1,-0.5 1,-0.6 1,-0.8 1,-0.6 1,-0.5 1,-0.3 1,0.1 1,0.2 1,0.3 1,0.2 1,0.2 1,0.3 1,0.6 1,0.9 1,1 1,0.8 1,0.5 1,0.2 1,0 1,-0.3 1,-0.3 1,-0.2 1,-0.2 1,0 1,0.1 1,0.2 1,0 1,-0.3 1,-0.5 1,-0.7 1,-0.6 1,-0.4 1,-0.2 1,0 1,0.1 1,0.2 1,0.1 1,0 1,-0.1 1,-0.2 1,-0.2 1,-0.1 1,-0.1 1,0.1 1,0.3 1,0.5 1,0.8 1,0.9 1,0.8 1,0.5 1,0.3 1,-0.1 1,-0.2 1,-0.3 1,-0.3 1,-0.1 1,0.1 1,0 1,0.1 1,0.3 1,0.4 1,0.4 1,0.4 1,0.3 1,0.2 1,0 1,0 1,-0.1 1,-0.1 1,-0.1 1,-0.4 1,-0.4 1,-0.3 1,-0.2 1,0 1,0 1,-0.2 1,-0.5 1,-0.6 1,-0.6 1,-0.3 1,0.1 1,0.4 1,0.6 1,0.4 1,0.2 1,0.1 1,-0.1 1,-0.1 1,-0.3 1,-0.3 1,-0.2 1,-0.2 1,-0.3 1,-0.3 1,-0.4 1,-0.5 1,-0.7 1,-0.7 1,-0.5 1,-0.3 1,-0.5 1,-0.5 1,-0.4 1,-0.1 1,0.4 1,0.6 1,0.5 1,0.4 1,0.2 1,0 1,-0.4 1,-0.6 1,-0.8 1,-1 1,-0.9 1,-0.6 1,-0.2 1,0.2 1,0.2 1,0 1,-0.5 1,-0.6 1,-0.5 1,-0.2 1,0.1 1,0.3 1,0.2 1,0 1,-0.3 1,-0.4 1,-0.4 1,-0.3 1,-0.3 1,-0.2 1,-0.2 1,-0.3 1,-0.6 1,-0.7 1,-0.6 1,-0.3 1,0.2 1,0.4 1,0.3 1,0 1,-0.2 1,-0.3 1,-0.1 1,0.2 1,0.3 1,0.3 1,-0.1 1,-0.2 1,-0.1 1,0.1 1,0.3 1,0.3 1,0.1 1,0 1,-0.2 1,-0.2 1,-0.2 1,-0.1 1,-0.2 1,-0.2 1,0 1,0.1 1,0.1 1,0 1,-0.2 1,-0.2 1,-0.1 1,0.3 1,0.5 1,0.8 1,0.6 1,0.2 1,0 1,-0.2 1,0 1,0.3 1,0.3 1,0.1 1,-0.2 1,-0.2 1,-0.3 1,-0.3 1,-0.5 1,-0.5 1,-0.5 1,-0.3 1,-0.1 1,0.1 1,-0.2 1,-0.5 1,-0.9 1,-0.9 1,-0.6 1,-0.3 1,-0.2 1,-0.4 1,-0.6 1,-0.9 1,-0.6 1,-0.2 1,0 1,0 1,-0.1 1,-0.2 1,-0.2 1,-0.3 1,-0.2 1,-0.3 1,-0.4 1,-0.7 1,-1.1 1,-1.2 1,-1.3 1,-1 1,-0.6 1,-0.4 1,-0.1 1,-0.2 1,-0.1 1,0 1,-0.1 1,-0.3 1,-0.7 1,-1 1,-1.1 1,-0.8 1,-0.4 1,-0.1 1,-0.1 1,-0.4 1,-0.5 1,-0.6 1,-0.9 1,-1.2 1,-1.4 1,-1.4 1,-1.1 1,-1.2 1,-1.1 1,-1.1 1,-0.9 1,-0.5 1,-0.4 1,-0.5 1,-0.9 1,-1.1 1,-1.1 1,-1.1 1,-1 1,-0.9 1,-0.5 1,-0.2 1,-0.2 1,-0.7 1,-1.2 1,-1.6 1,-1.7 1,-1.7 1,-1.6 1,-1.7 1,-1.7 1,-1.5 1,-1.3 1,-1.1 1,-1.1 1,-1.1 1,-1.1 1,-1 1,-1 1,-1 1,-1 1,-1.1 1,-1 1,-1.1 1,-1 1,-0.8 1,-0.6 1,-0.2 1,-0.1 1,-0.1 1,-0.2 1,-0.3 1,-0.4 1,-0.1 1,0.3 1,2.1 1,2.8 1,2.1 1,1.1 1,1.1 1,1.2 1,1 1,0.6 1,0 1,-0.4 1,-0.3 1,0.1 1,0.6 1,0.7 1,1 1,1.2 1,1.7 1,2 1,2.4 1,2.7 1,2.8 1,2.7 1,2.4 1,2.1 1,1.8 1,1.8 1,1.8 1,1.8 1,1.9 1,2.1 1,2.1 1,2 1,1.4 1,0.7 1,0.2 1,0 1,0.1 1,0.3 1,0.7 1,0.8 1,0.5 1,0.1 1,-0.4 1,-0.6 1,-0.5 1,-0.2 1,-0.1 1,-0.3 1,-0.7 1,-0.7 1,-0.4 1,0.2 1,0.8 1,0.8 1,0.6 1,0.4 1,0.2 1,0.1 1,-0.3 1,-0.5 1,1.3 1,4.9 1,4.7 1,4 1,3.9 1,4.2 1,4.8 1,4.9 1,5 1,4.6 1,4.3 1,3.5 1,2.4 1,1.9 1,1.9 1,1.8 1,1.5 1,1.3 1,1.4 1,1.5 1,1.5 1,1.1 1,0.5 1,-0.1 1,-0.3 1,-0.3 1,-0.1 1,0.2 1,0.2 1,0.3 1,0.3 1,0.3 1,0.3 1,0.2 1,0.1 1,0 1,0 1,-0.1 1,-0.1 1,-0.1 1,-0.1 1,-0.1 1,-0.1 1,-0.1 1,-0.1 1,0 1,-0.1 1,0 1,-0.1 1,-0.2 1,-0.2 1,0 1,0 1,0 1,0.1 1,0 1,0 1,0 1,-0.1 1,-0.1 1,-0.1 1,-0.1 1,-0.1 1,-0.1 1,0 1,0.1 1,0.1 1,0.1 1,0.1 1,0.2 1,0.2 1,0.2 1,0.2 1,0.1 1,0.1 1,0.1 1,0.1 1,0 1,-0.1 1,-0.1 1,-0.1 1,-0.1 1,0 1,-0.1 1,-0.1 1,0 1,0.1 1,0.2 1,0.2 1,0.2 1,0 1,0 1,0 1,0 1,0 1,0.1 1,0.1 1,0.1 1,0.1 1,0.1 1,0.3 1,0.2 1,0 1,0.1 1,-0.1 1,0 1,-0.1 1,0 1,0 1,0.1 1,0.1 1,0.1 1,0.1 1,0 1,0 1,0.1 1,0.2 1,0.2 1,0.2 1,0 1,0 1,-0.1 1,0 1,0.1 1,0 1,0.1 1,-0.1 1,0 1,-0.1 1,-0.1 1,0 1,-0.1 1,0.1 1,0.1 1,0 1,0 1,-0.1 1,-0.2 1,-0.5 1,-0.9 1,-1 1,-1 1,-0.7 1,-0.2 1,0.1 1,0 1,0.1 1,0.1 1,-0.1 1,0 1,-0.1 1,0 1,0.1 1,0.1 1,0.1 1,0.1 1,0.1 1,0.1 1,0.1 1,0.1 1,0 1,-0.1 1,-0.2 1,-0.2 1,-0.1 1,0 1,0 1,-0.1 1,0 1,-0.1 1,-0.1 1,-0.1 1,-0.1 1,0 1,0.2 1,0.1 1,0.2 1,0 1,0.1 1,0 1,0 1,-0.1 1,-0.1 1,-0.2 1,-0.3 1,-0.1 1,0 1,0.2 1,0.2 1,0.1 1,0.1 1,0 1,0 1,0 1,0.2 1,0.1 1,0.1 1,-0.1 1,-0.1 1,-0.1 1,-0.1 1,-0.1 1,-0.1 1,0 1,0 1,0.1 1,0 1,0.2 1,0.1 1,0.1 1,-0.1 1,-0.1 1,-0.1 1,-0.1 1,0.1 1,0.1 1,0.1 1,0.1 1,-0.1 1,-0.2 1,-0.1 1,0 1,0.1 1,0.1 1,0 1,0.1 1,0 1,0.1 1,0.1 1,0.1 1,-0.1 1,-0.1 1,-0.1 1,0 1,0 1,-0.1 1,-0.1 1,-0.3 1,-0.1 1,-0.1 1,0 1,0.1 1,0.2 1,0 1,0.1 1,-0.1 1,0 1,0 1,0.1 1,0 1,0.1 1,0.2 1,0 1,0 1,-0.1 1,-0.1 1,-0.1 1,0 1,0 1,0 1,-0.1 1,0.1 1,0.1 1,0.1 1,0.1 1,0 1,0 1,-0.1 1,-0.1 1,-0.1 1,0 1,0 1,0 1,0.1 1,0.1 1,0.2 1,0.1 1,0 1,0 1,-0.1 1,-0.2 1,-0.1 1,0 1,0.1 1,0 1,0.1 1,-0.1 1,-0.1 1,0 1,-0.1 1,0.1 1,0.1 1,0.2 1,0.2 1,0 1,-0.1 1,-0.2 1,-0.1 1,-0.1 1,0.1 1,0.1 1,0.2 1,0 1,0 1,0 1,0 1,0 1,0.1 1,-0.1 1,-0.1 1,-0.1 1,-0.1 1,-0.1 1,-0.1 1,0 1,-0.3 1,-1.1 1,-1.7 1,-2.2 1,-3.4 1,-9 1,-13.3 1,-15.2 1,-14.8 1,-12.2 1,-7.2 1,-0.3 1,5.5 1,9.5 1,12 1,13.2 1,12.7 1,11 1,7.8 1,3.7 1,2.8 1,2 1,0.8 1,0 1,0.1 1,0 1,-0.1 1,0 1,0 1,-0.1 1,0 1,-0.1 1,0 1,0 1,0.1 1,0.1 1,0.1 1,0.1 1,0.1 1,0 1,-0.1 1,0 1,0 1,-0.1 1,-0.2 1,-0.2 1,0 1,0.1 1,0.2 1,0.2 1,0.2 1,0 1,-0.1 1,-0.1 1,-0.1 1,-0.1 1,0 1,-0.1 1,0 1,0 1,-0.1 1,0 1,0 1,0.1 1,0 1,0 1,0 1,-0.1 1,-0.1 1,0.1 1,0 1,0 1,0 1,0 1,-0.1 1,0 1,0.1 1,0.1 1,0.1 1,0.1 1,0.2 1,0.1 1,0 1,0 1,-0.2 1,-0.1 1,-0.2 1,0 1,0 1,0 1,-0.1 1,-0.1 1,-0.1 1,0.1 1,0.2 1,0.1 1,0 1,0 1,-0.1 1,-0.1 1,0 1,0 1,0.1 1,0.1 1,0.1 1,0.1 1,0 1,0 1,0 1,-0.2 1,-0.1 1,-0.1 1,-0.1 1,0.1 1,0 1,0.1 1,0.1 1,0 1,-0.1 1,-0.1 1,-0.2 1,0 1,0 1,0.1 1,0.2 1,0.2 1,0.2 1,0 1,-0.1 1,-0.2 1,-0.1 1,-0.1 1,-0.1 1,0 1,0 1,0 1,0.1 1,0 1,0 1,-0.1 1,-0.1 1,-0.2 1,0 1,0 1,0.1 1,0 1,0.1 1,0.1 1,0 1,-0.1 1,0 1,0 1,0 1,-0.1 1,0 1,0 1,0.1 1,0.2 1,0.1 1,0 1,-0.1 1,-0.1 1,-0.3 1,-0.2 1,-0.2 1,-0.1 1,0 1,0.1 1,0.1 1,0.2 1,0.1 1,0.1 1,0.1 1,0 1,-0.1 1,0 1,0 1,0 1,0 1,0 1,-0.1 1,0 1,-0.1 1,0 1,0.1 1,0 1,0.1 1,0 1,0.1 1,0 1,-0.1 1,0 1,-0.1 1,-0.1 1,-0.1 1,-0.1 1,0 1,0.2 1,0.1 1,0.2 1,0.1 1,0 1,0 1,-0.1 1,-0.1 1,-0.1 1,-0.1 1,0 1,0 1,0.1 1,0 1,0.1 1,0 1,0 1,0 1,0 1,-0.1 1,-0.1 1,-0.1 1,0 1,0 1,0.1 1,0.1 1,0.1 1,0 1,0.1 1,0 1,-0.1 1,-0.1 1,-0.1 1,-0.1 1,0 1,0.1 1,0 1,0.1 1,0 1,0 1,0 1,0 1,-0.1 1,-0.2 1,-0.1 1,-0.1 1,-0.1 1,0 1,0 1,-0.1 1,0 1,0 1,0 1,0 1,0.1 1,0.1 1,0.2 1,0 1,0 1,-0.2 1,-0.2 1,-0.2 1,0 1,0.1 1,0.2 1,0.1 1,0.1 1,0.1 1,0.1 1,0.1 1,0 1,-0.1 1,-0.2 1,-0.1 1,-0.1 1,0.1 1,0.1 1,0 1,-0.1 1,-0.1 1,0 1,-0.1 1,0 1,-0.1 1,0 1,0.1 1,0 1,0 1,0.1 1,0 1,0.1 1,0 1,-0.1 1,-0.1 1,-0.1 1,-0.1 1,-0.1 1,-0.1 1,0 1,0.1 1,0.1 1,0.1 1,0.1 1,0 1,-0.1 1,-0.4 1,-0.6 1,-0.6 1,-0.5 1,-0.3 1,0 1,0.2 1,-0.1 1,-0.4 1,-1.2 1,-2.1 1,-2.6 1,-2.9 1,-3.3 1,-3.6 1,-3.8 1,-4 1,-4 1,-3.9 1,-3.8 1,-3.8 1,-4.1 1,-4.4 1,-5.4 1,-6.3 1,-6.8 1,-6.6 1,-6.2 1,-6.3 1,-6.4 1,-5.8 1,-4.8 1,-3.5 1,-3.5 1,-3.8 1,-3.9 1,-3.6 1,-2.9 1,-1.9 1,-1.2 1,-1 1,-0.8 1,-0.8 1,-0.7 1,-0.7 1,-0.7 1,-0.7 1,-0.5 1,-0.3 1,-0.1 1,0.2 1,0.5 1,0.7 1,0.6 1,0 1,-0.7 1,-1.3 1,-1.4 1,-1.2 1,-0.8 1,-0.4 1,-0.1 1,0 1,-0.3 1,-0.6 1,-0.9 1,-1 1,-1.1 1,-1.3 1,-1.5 1,-1.5 1,-1.6 1,-1.6 1,-1.8 1,-2.1 1,-2.1 1,-2.1 1,-2 1,-1.9 1,-2.1 1,-3 1,-3.6 1,-4.1 1,-4 1,-3.5 1,-2.6 1,-1.4 1,-1.2 1,-1.3 1,-1.3 1,-1.3 1,-1.1 1,-0.8 1,-0.7 1,-0.6 1,-0.4 1,-0.4 1,-0.5 1,-0.5 1,-0.6 1,-0.4 1,0 1,0.2 1,0.4 1,0.3 1,0.2 1,0.4 1,0.7 1,0.9 1,1.2 1,1.3 1,1.5 1,1.6 1,1.6 1,1.7 1,2.2 1,2.5 1,2.8 1,2.9 1,3 1,3 1,2.7 1,2.4 1,2.1 1,1.7 1,1.5 1,1 1,0.6 1,0.6 1,0.5 1,0.7 1,0.8 1,1.2 1,1.5 1,1.7 1,1.7 1,1.5 1,1.2 1,0.7 1,0.4 1,0.2 1,0.2 1,0.4 1,0.9 1,1.2 1,1.3 1,1.1 1,0.8 1,0.4 1,0.5 1,0.5 1,0.7 1,0.6 1,0.6 1,0.6 1,0.8 1,1.2 1,1.6 1,1.7 1,1.5 1,1.3 1,1 1,1 1,1.1 1,1.2 1,1.1 1,0.9 1,0.4 1,0.2 1,-0.1 1,0.1 1,0.4 1,0.9 1,1.2 1,1.4 1,1.2 1,1.1 1,0.6 1,0.5 1,0.4 1,0.3 1,0.5 1,0.6 1,1 1,1.2 1,1.2 1,1.2 1,1 1,0.9 1,0.6 1,0.5 1,0.4 1,0.5 1,0.8 1,1 1,0.8 1,0.5 1,-0.1 1,-0.4 1,-0.4 1,-0.1 1,0.1 1,0.2 1,0.1 1,-0.3 1,-0.9 1,-1.3 1,-1.3 1,-0.8 1,-0.5 1,-0.3 1,-0.3 1,-0.7 1,-0.7 1,-0.5 1,-0.4 1,-0.1 1,-0.2 1,-0.3 1,-0.4 1,-0.4 1,-0.3 1,-0.3 1,-0.6 1,-0.9 1,-0.9 1,-0.7 1,-0.6 1,-0.5 1,-0.4 1,-0.4 1,-0.4 1,-0.4 1,-0.5 1,-0.6 1,-0.5 1,-0.4 1,-0.3 1,-0.3 1,-0.1 1,-0.1 1,-0.2 1,-0.3 1,-0.4 1,-0.5 1,-0.4 1,-0.1 1,0.3 1,0.6 1,0.7 1,0.6 1,0.4 1,0.5 1,0.6 1,0.5 1,0.3 1,0.1 1,0.2 1,0.5 1,0.8 1,1 1,0.8 1,0.8 1,0.7 1,0.8 1,1.1 1,1.2 1,1 1,0.6 1,0.2 1,0.1 1,0.2 1,0.8 1,1 1,1.1 1,0.8 1,0.4 1,0.4 1,0.6 1,0.9 1,1 1,0.9 1,0.6 1,0.4 1,0.6 1,0.7 1,0.9 1,0.8 1,0.6 1,0.5 1,0.4 1,0.5 1,0.5 1,0.2 1,0 1,-0.3 1,-0.2 1,-0.1 1,-0.1 1,-0.1 1,0 1,0 1,0 1,-0.2 1,-0.3 1,-0.3 1,-0.3 1,-0.1 1,0 1,-0.1 1,-0.5 1,-0.6 1,-0.6 1,-0.4 1,-0.2 1,-0.1 1,-0.2 1,-0.2 1,-0.3 1,-0.3 1,-0.5 1,-0.6 1,-1 1,-1 1,-1 1,-0.9 1,-0.8 1,-0.4 1,-0.1 1,0.2 1,0.1 1,-0.3 1,-0.7 1,-1 1,-0.8 1,-0.5 1,-0.4 1,-0.2 1,-0.5 1,-0.6 1,-0.6 1,-0.7 1,-0.5 1,-0.7 1,-0.8 1,-1 1,-1.2 1,-1.4 1,-1.4 1,-1.1 1,-0.9 1,-0.8 1,-0.7 1,-0.6 1,-0.5 1,-0.5 1,-0.7 1,-0.8 1,-0.9 1,-1.1 1,-1.4 1,-1.6 1,-1.4 1,-1 1,-0.7 1,-0.8 1,-0.9 1,-1.3 1,-1.6 1,-2.1 1,-2.2 1,-2.1 1,-1.9 1,-1.5 1,-1.3 1,-1.2 1,-1.1 1,-1.3 1,-1.3 1,-1.4 1,-1.2 1,-1.1 1,-0.9 1,-0.9 1,-0.9 1,-0.9 1,-0.7 1,-0.5 1,-0.4 1,0.1 1,1.2 1,2.2 1,2.7 1,2.9 1,2.7 1,2.4 1,2.2 1,2.6 1,2.8 1,2.7 1,2.3 1,1.8 1,1.4 1,0.9 1,1 1,0.9 1,1 1,0.8 1,0.6 1,0.5 1,0.6 1,0.7 1,0.8 1,0.8 1,0.8 1,0.6 1,0.5 1,0.6 1,0.9 1,1 1,1.1 1,1 1,0.7 1,0.6 1,0.7 1,0.7 1,0.6 1,0.6 1,0.4 1,0.3 1,-0 1,-0.2 1,-0.5 1,-0.7 1,-0.9 1,-1 1,-0.9 1,-1 1,-1.1 1,-1.3 1,-1.6 1,-1.6 1,-1.6 1,-1.3 1,-1.2 1,-1.2 1,-1.3 1,-1.4 1,-1.3 1,-1.3 1,-1.2 1,-1.4 1,-1.6 1,-1.9 1,-2.2 1,-2.3 1,-2.3 1,-2.2 1,-2.1 1,-2 1,-2.2 1,-2.5 1,-3 1,-3.2 1,-3.6 1,-3.7 1,-4.1 1,-4.8 1,-5.1 1,-5.1 1,-4.9 1,-4.7 1,-4.4 1,-4.7 1,-5.1 1,-5.2 1,-5.3 1,-5 1,-4.5 1,-4.1 1,-4 1,-3.5 1,-2.3 1,-0.7 1,1.4 1,3.5 1,4.7 1,5.3 1,5.8 1,8 1,9.5 1,9.1 1,7.3 1,6.5 1,6.1 1,6 1,6 1,6.3 1,6.2 1,5.4 1,4.4 1,2.8 1,2 1,1.5 1,1.2 1,1.2 1,1.2 1,1.3 1,1.7 1,1.9 1,2.6 1,3.1 1,3.4 1,3.4 1,2.9 1,2.1 1,1.4 1,0.8 1,1.1 1,1.4 1,1.6 1,1.1 1,0.5 1,-0.2 1,-0.6 1,-0.4 1,0 1,0.2 1,0.2 1,0.1 1,0.4 1,0.8 1,1 1,0.8 1,0.3 1,0 1,0 1,0.2 1,0.5 1,0.5 1,0.2 1,0.2 1,0.3 1,0.4 1,0.5 1,0.5 1,0.6 1,0.4 1,0.4 1,0.1 1,-0.3 1,-0.5 1,-0.3 1,0.1 1,0.6 1,0.6 1,0.1 1,-0.6 1,-0.9 1,-0.7 1,0 1,0.4 1,0.5 1,0.4 1,0.3 1,0 1,0 1,0 1,-0.1 1,-0.5 1,-0.8 1,-0.9 1,-0.6 1,-0.1 1,0.4 1,0.4 1,0.2 1,0.1 1,0.2 1,0.5 1,0.7 1,0.8 1,0.7 1,0.7 1,0.4 1,0.2 1,-0.3 1,-0.5 1,-0.5 1,-0.3 1,-0.1 1,-0.2 1,-0.2 1,-0.1 1,0.2 1,0.3 1,0.3 1,0 1,-0.3 1,-0.4 1,-0.2 1,0.1 1,0.3 1,0.5 1,0.7 1,0.9 1,1 1,0.9 1,0.7 1,0.5 1,0.5 1,0.3 1,-0.2 1,-0.8 1,-1.1 1,-1 1,-0.6 1,-0.3 1,0 1,0.2 1,0.3 1,0.6 1,0.7 1,0.8 1,0.9 1,0.9 1,0.7 1,0.6 1,0.8 1,0.8 1,0.6 1,0.2 1,-0.1 1,-0.4 1,-0.6 1,-0.5 1,-0.2 1,0.3 1,0.7 1,0.7 1,0.7 1,0.7 1,0.6 1,0.3 1,-0.2 1,-0.8 1,-1.3 1,-1.3 1,-1 1,-0.4 1,0.2 1,0.6 1,0.5 1,0.1 1,-0.3 1,-0.2 1,0.4 1,0.9 1,1 1,0.7 1,-0 1,-0.4 1,-0.7 1,-0.8 1,-0.5 1,-0 1,0.6 1,0.8 1,0.5 1,-0.1 1,-0.4 1,-0.3 1,0.2 1,0.3 1,0.4 1,0.5 1,0.7 1,0.7 1,0.5 1,0.5 1,0.3 1,0.3 1,-0.1 1,-0.3 1,-0.6 1,-0.5 1,-0.3 1,-0.3 1,-0.3 1,-0.3 1,-0.3 1,-0.2 1,-0.2 1,-0.1 1,-0.2 1,-0 1,0.1 1,-0.1 1,-0.3 1,-0.5 1,-0.4 1,-0 1,0.5 1,0.8 1,1 1,1 1,0.8 1,0.7 0.5,0.3"/>
<path stroke="none" fill="#000" d="M145.5,910.8l1,-1.2 1,-1.7 1,-1.9 1,-1.2 1,0.4 1,0.2 1,0.2 1,1.2 1,1.1 1,0.9 1,0.5 1,-0.4 1,-1.5 1,-1.5 1,-0.5 1,-0.6 1,-0.3 1,-0.1 1,-0.9 1,-0.5 1,0.3 1,-0.1 1,-0.5 1,-0.4 1,-0.2 1,0.9 1,1.5 1,1.7 1,1.2 1,1 1,0.8 1,-0.1 1,-0.2 1,0.2 1,0.8 1,1.5 1,0.4 1,-1 1,-0.9 1,0 1,-0.2 1,-0.9 1,-2 1,-1.6 1,0.1 1,-0.1 1,-0.7 1,-1.7 1,-1.5 1,-1.8 1,-1.8 1,-1.2 1,-0.3 1,1.2 1,1.4 1,-0.6 1,-1.4 1,-1.2 1,-0.8 1,-0.9 1,-1.7 1,-1.1 1,0 1,0.2 1,-1 1,-1.6 1,-0.2 1,1.4 1,0.6 1,-0.6 1,-1.1 1,-2.4 1,-2.2 1,-0.8 1,0.9 1,0.6 1,-0.9 1,-1.1 1,1.3 1,2.2 1,1.3 1,-0.4 1,-0.5 1,0.9 1,0.9 1,0.4 1,0.4 1,1.6 1,1.9 1,0.6 1,-1 1,-1.5 1,-0.9 1,-0.3 1,-0.2 1,0.2 1,0.5 1,0.3 1,1.1 1,2.5 1,3.3 1,0.8 1,-1.6 1,-0.5 1,0.9 1,0.5 1,0.7 1,-0.2 1,-1.2 1,-0.6 1,0.5 1,1.3 1,1.1 1,-0.3 1,-0.9 1,0.5 1,1.4 1,0.1 1,-1.5 1,-0.9 1,0.1 1,0.4 1,0.5 1,0.7 1,0.5 1,0.1 1,0.1 1,-0.5 1,-0.6 1,-0.3 1,-0.2 1,0.3 1,1.1 1,0.9 1,0.7 1,0.7 1,0.7 1,1.1 1,-0.1 1,-0.9 1,-1.8 1,-1.7 1,-1.8 1,-1 1,-0.9 1,-0.8 1,0.8 1,1.5 1,0.5 1,-1 1,-1.3 1,-0.3 1,-0.1 1,-1 1,-0.8 1,-0.6 1,-1.4 1,-0.8 1,1.2 1,1 1,-0.4 1,-0.8 1,-0.3 1,-0.1 1,-0 1,0.9 1,0.3 1,-1.1 1,-1.5 1,-1.3 1,-0 1,-0.2 1,-1.2 1,-1.1 1,-1.1 1,-0.4 1,0.6 1,1.3 1,0.9 1,0.4 1,0.4 1,1 1,1.3 1,0.7 1,0.3 1,-0.2 1,0 1,1.4 1,0.5 1,-0.2 1,-0.7 1,-1.5 1,0 1,0.9 1,-0.2 1,-0.4 1,0.3 1,0.1 1,-0.6 1,-1.3 1,-1.5 1,-0.5 1,0.5 1,0.4 1,-0.5 1,0.3 1,0.8 1,0.7 1,-0.4 1,-1 1,-0.6 1,0.5 1,1 1,1.3 1,1.2 1,0.9 1,0.2 1,-0.7 1,-0.2 1,0.2 1,0.2 1,0 1,-1.2 1,-1.3 1,-0.3 1,0.5 1,0.9 1,-0.4 1,-0.8 1,1.5 1,1.7 1,1.2 1,0.5 1,0.2 1,0.2 1,-0.7 1,-0.8 1,0.8 1,-0.5 1,-1.3 1,-0.5 1,0.2 1,0.6 1,0.4 1,0.3 1,-0.2 1,-1.4 1,-1 1,0.5 1,0.1 1,-0.2 1,0.6 1,0.7 1,0 1,-0.9 1,-1.1 1,-0.7 1,0 1,1 1,0.2 1,-1.1 1,-1.1 1,-0.6 1,-0.6 1,0.3 1,0.8 1,0.2 1,-0.3 1,-0.9 1,-0.5 1,0.2 1,0 1,0.2 1,1 1,0.2 1,-1.5 1,-1.2 1,0.3 1,1 1,0.3 1,-0.6 1,-1.8 1,-1.8 1,0.1 1,0.8 1,-0.1 1,-1 1,-0.3 1,0.6 1,0 1,-0.5 1,-1 1,-1.6 1,-0.3 1,1.6 1,1.7 1,-0.1 1,-0.7 1,-0.2 1,0 1,-0.7 1,-0.7 1,-0.7 1,-0.9 1,-1.2 1,-1.2 1,-0.6 1,-0.2 1,0.3 1,0 1,0.2 1,1.2 1,1 1,-0.7 1,-1.1 1,0.1 1,0.5 1,0.5 1,0.7 1,0.7 1,0 1,-0.4 1,0 1,0.1 1,-1.2 1,-0.9 1,0.2 1,0.4 1,0 1,-0.2 1,0.6 1,0.9 1,-0.1 1,-0.2 1,0.3 1,-0.1 1,-1.3 1,-1.7 1,-1.3 1,0 1,1.2 1,1.1 1,0.9 1,1.3 1,0.8 1,-0.1 1,0.2 1,0.7 1,-0.1 1,-0.7 1,-0.1 1,0.6 1,0.6 1,-0.2 1,-1.1 1,-0.8 1,-0.5 1,-0.8 1,-0.9 1,-0.3 1,1.4 1,1.3 1,-1.2 1,-2 1,-0.7 1,-0.6 1,-0.2 1,0.5 1,0 1,-1.4 1,-0.8 1,0.9 1,0.4 1,-0.8 1,-0.1 1,0.7 1,-0.1 1,-1.4 1,-2.1 1,-1.7 1,-1.2 1,0 1,0.5 1,-0.8 1,-1.5 1,-1.4 1,-1 1,-0.1 1,0.6 1,-0.3 1,-0.7 1,-0.8 1,-0.3 1,0.8 1,0.5 1,-0.9 1,-2 1,-2.1 1,-1.6 1,0.9 1,1.9 1,0.1 1,-0.8 1,-0.7 1,-0.7 1,0 1,-0.6 1,-2.1 1,-1.7 1,0 1,-0.6 1,-2.2 1,-2.1 1,-1.6 1,-1.6 1,-0.4 1,0.7 1,0.1 1,-1.5 1,-1.5 1,-1 1,-1.2 1,-0.3 1,-0.3 1,-0.4 1,0.1 1,-0.7 1,-2.4 1,-2.3 1,-1.6 1,-1.9 1,-1.6 1,-1.1 1,-1.1 1,-0.5 1,-1.4 1,-2.7 1,-1.8 1,-0.9 1,-1.5 1,-1.2 1,-0.1 1,-0.4 1,-1 1,-1.3 1,-0.3 1,0.1 1,-1 1,-1.9 1,-0.7 1,1.1 1,0.8 1,-0.4 1,-1.2 1,-1.7 1,-0.8 1,1 1,1.4 1,2.3 1,1.3 1,-0.1 1,0.4 1,2.9 1,3.2 1,1.4 1,0 1,-0.1 1,0.7 1,0.2 1,-0.2 1,0.7 1,-0.5 1,-1.8 1,-0.1 1,2.5 1,3.6 1,2.6 1,2 1,2.9 1,3 1,2.6 1,3.1 1,3.2 1,2.1 1,0.1 1,0.5 1,2.4 1,2 1,1.4 1,2 1,2.2 1,0.9 1,0.2 1,0.6 1,0.7 1,-0.1 1,-0.3 1,0.8 1,1.2 1,1.1 1,0.5 1,-0.3 1,-0.3 1,-1 1,-1.9 1,-1.5 1,-1.6 1,-1 1,0.1 1,0.6 1,1.6 1,2 1,0.9 1,-0.2 1,0.1 1,0.3 1,0.4 1,0 1,0.7 1,3.5 1,3.7 1,4.3 1,4.7 1,4.2 1,5.5 1,6.7 1,5.2 1,3.9 1,4.2 1,3.3 1,2.2 1,2 1,1.7 1,0.8 1,0 1,0.2 1,0.6 1,1.9 1,3.1 1,2.9 1,1.7 1,0.5 1,-0.3 1,-0.5 1,-0.3 1,0.1 1,0.7 1,0.8 1,0.4 1,0.1 1,0.1 1,0.1 1,0.1 1,0.1 1,-0.1 1,-0.1 1,-0.2 1,-0 1,-0.1 1,-0 1,0.2 1,-0 1,-0.3 1,-0.3 1,-0 1,-0.1 1,-0.3 1,-0.3 1,-0.1 1,0.1 1,0.1 1,0.1 1,-0 1,-0.2 1,-0.3 1,-0 1,0.1 1,-0.2 1,-0.1 1,0.1 1,0.1 1,-0.2 1,-0.1 1,0.3 1,0.2 1,0.2 1,0.1 1,-0 1,0.2 1,0.4 1,0.3 1,0.2 1,-0 1,-0.1 1,-0 1,-0 1,0.2 1,-0 1,-0.2 1,-0 1,0.1 1,-0 1,-0.2 1,-0.3 1,0.1 1,0.4 1,0.4 1,0.1 1,-0.2 1,-0.1 1,-0 1,0.1 1,0.2 1,-0.1 1,-0.2 1,0.1 1,0.2 1,-0 1,0.2 1,0.3 1,0.4 1,0.3 1,0.1 1,-0 1,-0.1 1,-0.2 1,-0.3 1,-0.1 1,-0.2 1,0.1 1,0.2 1,-0 1,-0 1,0.1 1,0.3 1,0.3 1,0.2 1,-0.1 1,-0.3 1,-0.1 1,0.3 1,0.3 1,-0.1 1,-0.4 1,-0.3 1,0.1 1,0.2 1,-0 1,-0 1,-0 1,-0 1,0.1 1,0.2 1,-0.4 1,-0.2 1,-0.1 1,-0.4 1,-0.6 1,-0.8 1,-0.9 1,-0.9 1,-0.2 1,0.3 1,-0 1,-0 1,-0.1 1,-0.2 1,-0.1 1,0.2 1,0.2 1,-0.1 1,-0.3 1,-0.1 1,0.2 1,0.2 1,0.1 1,0.2 1,0.2 1,0.3 1,-0 1,-0.5 1,-0.6 1,-0.1 1,0.2 1,0.1 1,-0.2 1,-0 1,0.1 1,-0.1 1,-0.2 1,-0.1 1,0.2 1,0.4 1,0.4 1,-0 1,-0.2 1,-0.2 1,-0.1 1,0.1 1,0.1 1,-0.1 1,-0.2 1,-0.3 1,-0.2 1,0.1 1,0.2 1,-0 1,-0 1,0.1 1,0.2 1,0.1 1,0.1 1,-0.1 1,0.1 1,0.1 1,-0.2 1,-0.1 1,-0 1,0.1 1,-0.1 1,-0.1 1,-0.1 1,-0.1 1,-0 1,0.2 1,0.1 1,-0 1,0.2 1,-0 1,-0.1 1,-0.4 1,-0.1 1,0.2 1,0.3 1,0.1 1,0.2 1,0.2 1,-0.1 1,-0.4 1,-0.2 1,0.1 1,0.1 1,-0 1,-0.4 1,-0.1 1,0.3 1,0.3 1,0.2 1,0.1 1,-0.1 1,-0.1 1,0.2 1,0.2 1,-0 1,-0.3 1,-0.4 1,-0.2 1,0.1 1,0.2 1,0.1 1,-0.1 1,-0 1,-0 1,-0.2 1,0.1 1,0.1 1,-0 1,-0.2 1,-0.2 1,0.1 1,0.1 1,-0 1,-0.1 1,0.1 1,0.3 1,0.1 1,-0.2 1,-0 1,0.1 1,0.2 1,0.2 1,0.1 1,-0 1,-0.1 1,-0.2 1,-0.3 1,-0.3 1,-0 1,-0 1,-0.2 1,-0.1 1,0.2 1,0.6 1,0.6 1,0.1 1,-0.1 1,-0.4 1,-0.3 1,-0.1 1,-0 1,-0 1,-0 1,-0 1,-0.1 1,-0 1,-0 1,-0 1,-0.1 1,-0.1 1,-0 1,0.3 1,0.5 1,0.2 1,-0.4 1,-0.4 1,-0.1 1,-0 1,0.1 1,0.1 1,0.2 1,0.5 1,0.1 1,-0.2 1,-0.4 1,-0.2 1,0.2 1,0.2 1,-0.4 1,-0.5 1,-0.2 1,-0 1,-0.1 1,-0 1,-0 1,-0.8 1,-1.8 1,-2.4 1,-3.4 1,-9 1,-13.3 1,-15.2 1,-14.9 1,-12 1,-7 1,-0.2 1,5.4 1,9.5 1,11.9 1,13 1,12.9 1,11.3 1,8 1,3.9 1,2.8 1,2 1,0.6 1,-0.5 1,-0.2 1,0.3 1,0.3 1,0.1 1,-0.3 1,-0.2 1,-0.1 1,0.1 1,0.2 1,-0.2 1,-0.2 1,-0 1,0.2 1,0.5 1,0.3 1,0.2 1,-0.2 1,-0.5 1,-0.3 1,0.1 1,0.4 1,0.1 1,-0.4 1,-0.3 1,0.1 1,0.1 1,-0.1 1,-0.1 1,-0 1,-0 1,0.1 1,-0 1,0.1 1,0.1 1,0.2 1,0.1 1,-0.1 1,-0.2 1,-0 1,0.1 1,-0.2 1,-0.2 1,-0 1,-0.1 1,-0.1 1,-0 1,-0.1 1,-0.1 1,-0.1 1,0.1 1,0.4 1,0.4 1,0.2 1,-0.1 1,-0 1,-0 1,0.1 1,0.2 1,-0 1,-0.1 1,-0 1,-0.3 1,-0.5 1,-0.3 1,-0 1,0.2 1,0.1 1,-0.2 1,-0.3 1,0.2 1,0.3 1,0.2 1,0.1 1,-0 1,-0 1,-0 1,-0 1,-0 1,-0.1 1,0.2 1,0.4 1,0.1 1,-0 1,-0.1 1,-0.1 1,-0.2 1,-0.1 1,-0.1 1,-0.2 1,-0.1 1,-0 1,-0 1,0.1 1,0.1 1,0.1 1,-0 1,-0 1,-0.4 1,-0 1,0.4 1,0.3 1,-0.2 1,0.1 1,-0 1,-0.3 1,-0.4 1,-0.1 1,0.1 1,0.3 1,-0.1 1,-0.2 1,0.2 1,0.2 1,-0 1,-0.2 1,-0.2 1,-0.3 1,-0.1 1,-0.1 1,0.2 1,0.5 1,0.4 1,-0 1,-0.3 1,-0.1 1,-0 1,0.2 1,0.2 1,-0 1,-0.2 1,-0.4 1,-0 1,0.1 1,-0.1 1,-0 1,0.3 1,0.2 1,-0.2 1,-0.4 1,-0.2 1,-0 1,-0 1,-0.1 1,-0.3 1,-0.1 1,0.4 1,0.6 1,0.2 1,-0 1,-0.1 1,-0 1,0.1 1,-0 1,-0.4 1,-0.1 1,0.2 1,-0.1 1,-0.2 1,-0.2 1,0.1 1,0.2 1,0.3 1,-0 1,-0.2 1,-0.1 1,-0.1 1,-0.1 1,0.1 1,0.1 1,-0.3 1,-0.1 1,0.2 1,0.2 1,-0 1,-0.1 1,0.2 1,0.5 1,0.1 1,-0.3 1,-0.3 1,-0.3 1,0.1 1,0.3 1,0.1 1,-0.3 1,-0.2 1,-0 1,0.1 1,0.2 1,0.1 1,-0.2 1,-0.1 1,-0.1 1,-0.1 1,-0.3 1,-0.1 1,0.3 1,0.5 1,0.3 1,0.1 1,-0.1 1,-0.1 1,-0 1,-0 1,-0 1,0.1 1,-0.1 1,-0.2 1,-0.2 1,-0.2 1,-0 1,0.2 1,0.2 1,-0 1,-0.1 1,-0.2 1,-0.4 1,-0.2 1,0.1 1,-0 1,-0 1,-0 1,-0.1 1,-0.1 1,0.3 1,0.4 1,-0.1 1,-0.2 1,-0.3 1,0.1 1,0.2 1,0.3 1,0.1 1,-0.2 1,-0.5 1,-0.2 1,0.1 1,0.3 1,0.3 1,0.1 1,0.1 1,0.3 1,0.1 1,-0.1 1,-0.2 1,-0 1,-0.2 1,-0.1 1,0.1 1,0.1 1,-0.1 1,-0.1 1,-0.1 1,-0 1,-0.2 1,-0.3 1,-0.2 1,-0 1,-0 1,-0.3 1,-0 1,0.5 1,0.6 1,0.3 1,-0.1 1,-0.3 1,-0.4 1,-0.3 1,-0.2 1,-0 1,0.1 1,0.1 1,0.1 1,-0.2 1,-0.3 1,-0.1 1,-0 1,-0.2 1,-0.9 1,-1.2 1,-0.6 1,-0.1 1,0.2 1,-0.5 1,-0.9 1,0.1 1,0.8 1,-0.4 1,-2.6 1,-4.2 1,-4.2 1,-3.5 1,-2.7 1,-3.7 1,-4.3 1,-3.9 1,-3 1,-2.5 1,-2.6 1,-2.8 1,-4.2 1,-5.5 1,-7.2 1,-8.3 1,-8.1 1,-7.1 1,-7.1 1,-6.2 1,-4.4 1,-3.9 1,-4 1,-4 1,-4.1 1,-3.8 1,-2.6 1,-1.7 1,-1.1 1,-1.3 1,-2.3 1,-2.4 1,-1.8 1,-0.5 1,-0 1,-0 1,0.1 1,-0.2 1,-1 1,-1.1 1,0.3 1,1.5 1,1.1 1,0.5 1,0.1 1,-0.8 1,-1 1,-0.6 1,-0.8 1,-1.8 1,-1.6 1,-1.4 1,-1 1,0.5 1,1.5 1,0.4 1,-1.1 1,-2.4 1,-3.1 1,-2.5 1,-1.5 1,-1.5 1,-1.4 1,-1.4 1,-1.1 1,-1.7 1,-2.8 1,-2.1 1,-1.7 1,-1.6 1,-1.9 1,-3.1 1,-4.4 1,-3.5 1,-2.1 1,-2 1,-1.2 1,-1.4 1,-1.3 1,-2.5 1,-3 1,-1.9 1,-0.5 1,0.4 1,0.4 1,0.1 1,-0.5 1,-0.8 1,-1.4 1,-0.9 1,-0.3 1,-0.8 1,-1.3 1,-0.8 1,0.4 1,1 1,1.1 1,0.6 1,0.2 1,0.9 1,2.5 1,3.4 1,2.4 1,1.6 1,1.8 1,1 1,1.1 1,2.7 1,3.5 1,3.2 1,3.1 1,2.9 1,1.8 1,1.4 1,1.1 1,0.7 1,1.2 1,1.7 1,2.3 1,1.7 1,-0.3 1,-0.7 1,0.7 1,1.3 1,1.7 1,2.4 1,2.6 1,1.2 1,0.5 1,1 1,-0.2 1,-1.2 1,0.4 1,0.5 1,0.8 1,2 1,1.3 1,-0.6 1,-0.8 1,0.7 1,1.9 1,1.8 1,0.8 1,-0.1 1,-0.3 1,1.3 1,3.3 1,2.3 1,1 1,1.7 1,2.1 1,1.6 1,0.7 1,-0.3 1,-0.6 1,0.7 1,1.5 1,0.2 1,-0.8 1,-0.3 1,-0.3 1,0.5 1,0.9 1,1.7 1,2.3 1,1.6 1,0.8 1,1.2 1,1 1,1.1 1,0.1 1,-0 1,1 1,2.1 1,1.9 1,-0 1,-0.3 1,0.2 1,0.8 1,1.4 1,0.8 1,-0 1,0.5 1,1.4 1,1.3 1,0.7 1,-0.4 1,0.1 1,0.2 1,-1 1,-0 1,0.6 1,-0.5 1,0.1 1,0.6 1,-0.6 1,-2.3 1,-2.2 1,0.1 1,1.5 1,0.5 1,-2 1,-3.2 1,-1.8 1,-0.4 1,0.5 1,1.2 1,0.8 1,-0.1 1,-0.3 1,-0.6 1,-0.9 1,-0.6 1,-0.2 1,-0.4 1,-2.3 1,-2.9 1,-0.3 1,1.2 1,0.8 1,0.1 1,-0.1 1,-1.1 1,-2.3 1,-1.8 1,-1.2 1,0.1 1,0.4 1,0.8 1,-0.2 1,-1 1,-0 1,0.3 1,-0.2 1,-0 1,0.2 1,0.8 1,1.2 1,1.2 1,-0 1,-0.4 1,1 1,0.5 1,-0.1 1,1.3 1,0.5 1,-0.3 1,0.5 1,0.4 1,0.2 1,0.5 1,0.6 1,0.5 1,0.1 1,0.2 1,1.1 1,2.6 1,2.8 1,0.9 1,-1.2 1,-1.3 1,0.4 1,1.7 1,0.8 1,-0.4 1,0.5 1,1.1 1,1 1,1.8 1,1.4 1,-0.5 1,-0.1 1,1.9 1,1.8 1,0.5 1,-0 1,0.2 1,0.7 1,1 1,1.3 1,0.7 1,-0.4 1,-0.9 1,-0.2 1,-0.3 1,-0.3 1,0.1 1,-0.1 1,-0.5 1,-0.7 1,0.7 1,1.6 1,1.1 1,0.4 1,-1.1 1,-1.4 1,0.5 1,1.5 1,0.8 1,-0.6 1,-1.3 1,-0.7 1,-0.5 1,-0.8 1,-1 1,-1.4 1,-0.3 1,0.6 1,-0.1 1,-0.5 1,-0.2 1,-0.5 1,-1 1,-0.3 1,-0.4 1,-0.3 1,-0.6 1,-0.7 1,-0.4 1,-1 1,-1.8 1,-1.4 1,-1.2 1,-1.3 1,-0.5 1,1.3 1,1.9 1,0.8 1,-0.4 1,-1.5 1,-2.1 1,-1.5 1,-0.6 1,-0.5 1,-0.7 1,-1 1,-0.6 1,-0.5 1,-0.2 1,-0 1,-1.5 1,-1.6 1,-0.5 1,-0.7 1,-1.4 1,-2 1,-0.8 1,0.5 1,-0.8 1,-2.1 1,-2 1,-1.2 1,-0.9 1,-1.5 1,-1.7 1,0.1 1,1 1,-0.1 1,-1.5 1,-2.9 1,-3 1,-2.4 1,-2.4 1,-1.6 1,-1.4 1,-2.1 1,-1.8 1,-0.4 1,-0.3 1,-0.5 1,-1.3 1,-1.4 1,-1.9 1,-2.6 1,-0.8 1,0.5 1,-0.5 1,-1 1,-0 1,0.4 1,1.6 1,2.5 1,2.9 1,3.3 1,2.9 1,1.7 1,1.9 1,3.6 1,4.1 1,2.9 1,0.6 1,1.1 1,1.9 1,1.6 1,1.3 1,0.1 1,-0.1 1,0.7 1,1.2 1,1.3 1,1.6 1,1.2 1,-0 1,-0.6 1,-0.1 1,0.9 1,1.3 1,1.4 1,1.2 1,1 1,0.7 1,0.5 1,0.8 1,1.2 1,2 1,1.3 1,-1.6 1,-1.7 1,0.6 1,0.1 1,-1 1,-0.6 1,-0.1 1,-0.4 1,-0.1 1,-0.8 1,-1.2 1,-0.6 1,-0.7 1,-1.8 1,-1.8 1,-0.5 1,-0.5 1,-2.4 1,-2.6 1,-1 1,-0.4 1,-1.2 1,-1.6 1,-1.1 1,-1.3 1,-1.3 1,-1.2 1,-2.4 1,-2.8 1,-2 1,-1.7 1,-2.2 1,-2.2 1,-1.7 1,-1.8 1,-3.2 1,-4.3 1,-4 1,-3.3 1,-3.8 1,-4.5 1,-3.9 1,-3.6 1,-4.3 1,-5.6 1,-5.9 1,-4.4 1,-4.4 1,-5.8 1,-5.3 1,-5 1,-5.9 1,-4.8 1,-3.2 1,-3.1 1,-3.3 1,-2.3 1,-0.4 1,2 1,4 1,3.7 1,3.4 1,5.9 1,9.8 1,10.4 1,9.2 1,7.4 1,6.3 1,6.2 1,6.5 1,6.2 1,5.7 1,4.7 1,4.3 1,3.5 1,1.8 1,1.7 1,2.5 1,2.9 1,2.3 1,0.6 1,0.6 1,1 1,1.8 1,3.4 1,4.6 1,4.3 1,3.7 1,3.6 1,1.7 1,0.1 1,-0 1,0.4 1,0.2 1,-1.1 1,-0.5 1,1.1 1,1 1,-0.7 1,-0.2 1,2.2 1,1.9 1,-0.9 1,-1.3 1,-0.1 1,-0.1 1,1.6 1,2.5 1,1.4 1,0.3 1,0.7 1,0.3 1,-0.3 1,-0.1 1,0.2 1,-0.5 1,-0.1 1,1.5 1,0.9 1,-1 1,-0 1,0.3 1,-0 1,1 1,0.3 1,-1.1 1,0.1 1,0.7 1,0.5 1,0.6 1,-0.2 1,-0.9 1,-1 1,-1.1 1,1 1,2.6 1,1.2 1,0.2 1,-0.4 1,0.3 1,1 1,-0.7 1,-0.8 1,-0.7 1,-0.8 1,-1.9 1,-2 1,-0.1 1,1.4 1,1.6 1,1 1,0.4 1,0.9 1,0.2 1,-1.3 1,-0 1,0.2 1,-2.3 1,-0.5 1,2 1,0.7 1,-0 1,-0.3 1,-0 1,0.5 1,-0.3 1,-0.9 1,-0.9 1,1.4 1,0.9 1,-1.1 1,-0.5 1,1.3 1,2.1 1,1.2 1,0.3 1,-1.2 1,-2 1,-0.8 1,0.9 1,2.4 1,2 1,0.5 1,0.5 1,1.1 1,0.2 1,0.1 1,-0.7 1,-2.4 1,-2.3 1,-0.7 1,1.2 1,1.1 1,-0.1 1,-0.5 1,0.1 1,2.2 1,2.1 1,0.2 1,-1.1 1,-1 1,-0.7 1,1 1,2.4 1,1 1,0.1 1,0.7 1,-0.6 1,-2.2 1,-1.3 1,-0 1,1.4 1,1.6 1,0.2 1,-0.9 1,-0 1,3.4 1,3.5 1,0.1 1,-1.9 1,-2.5 1,-1 1,-1.5 1,-1.6 1,0.2 1,1.6 1,0.5 1,-2.2 1,-1.7 1,1.6 1,2.3 1,0.7 1,0.4 1,0.5 1,1 1,1.5 1,-0 1,-2.4 1,-2.6 1,-0.1 1,1.1 1,-0.5 1,-1.6 1,-0.2 1,1.3 1,1 1,0.1 1,1.1 1,2.5 1,1 1,-0.2 1,-0.1 1,0.9 1,1.2 1,-0.5 1,-1.8 1,-1.9 1,-2 1,-0.8 1,0.7 1,2.8 1,2.3 1,0.3 1,-1.1 1,-1.9 1,-1.4 1,0.1 1,0.3 1,-0.8 1,-0.1 1,2.1 1,1.4 1,-2.1 1,-3.9 1,-1.4 1,0.1 1,1.1 1,2.6 1,0.8 1,0.1 1,1.6 1,3.1 0.5,2.7 0,15.8 -0.5,-0.4 -1,-1.3 -1,-1.2 -1,-2.8 -1,-3.7 -1,0.1 -1,2.7 -1,0.7 -1,-1 -1,-0.9 -1,-0.5 -1,0.4 -1,1.5 -1,0.6 -1,1.2 -1,1.1 -1,-0.8 -1,-1.6 -1,-0.8 -1,0.1 -1,-0.8 -1,-0.7 -1,-0.7 -1,-0.3 -1,2.2 -1,3.1 -1,1.1 -1,-0.6 -1,-1.1 -1,-1.1 -1,-0.8 -1,-0.7 -1,1.2 -1,1.8 -1,0.2 -1,-2.1 -1,-3.4 -1,-2.3 -1,-0 -1,1.2 -1,1.5 -1,0.3 -1,-0.9 -1,-0.6 -1,1 -1,2.5 -1,0.7 -1,-2 -1,-1.1 -1,1.4 -1,0.3 -1,-0.9 -1,-1 -1,-0.9 -1,-1 -1,0.1 -1,1.4 -1,0.8 -1,1.6 -1,1.8 -1,0.7 -1,0.6 -1,1 -1,0.6 -1,-1.1 -1,-3 -1,-1 -1,0.4 -1,-1.4 -1,-2.5 -1,-2.4 -1,-0.5 -1,1.3 -1,2.1 -1,2.7 -1,1.7 -1,0.5 -1,-0.7 -1,-1.7 -1,-0.9 -1,-0.2 -1,0.3 -1,-0 -1,-0.9 -1,-1.6 -1,-2 -1,-1.4 -1,-1.1 -1,0.1 -1,0.6 -1,0.6 -1,1.1 -1,1.2 -1,0.4 -1,0.7 -1,1.8 -1,0.8 -1,-0.9 -1,-0.8 -1,-0.9 -1,-1 -1,-0.2 -1,0.1 -1,-0.2 -1,-1.1 -1,-1.7 -1,-1.4 -1,-0.3 -1,1.1 -1,2 -1,1.1 -1,-0.5 -1,-0.9 -1,-1.2 -1,-0.8 -1,0.5 -1,0.8 -1,0.2 -1,0.1 -1,-0.6 -1,-1.5 -1,-0.2 -1,1.3 -1,0.6 -1,-0.8 -1,-1.4 -1,-0.9 -1,0.3 -1,1.4 -1,0.6 -1,-0.2 -1,-1.3 -1,-1.3 -1,-0.9 -1,-0.6 -1,-0.4 -1,1.6 -1,3.3 -1,1.4 -1,-0.7 -1,0.7 -1,0.5 -1,-1.1 -1,-1.2 -1,-0.5 -1,-0.6 -1,-0.2 -1,1 -1,-0.4 -1,-1.3 -1,0.3 -1,0.3 -1,-0.6 -1,-1.3 -1,-0.2 -1,1 -1,0.4 -1,-0.4 -1,-0.7 -1,-1.1 -1,-0.1 -1,0.6 -1,-1.2 -1,-0.9 -1,1.5 -1,1.3 -1,-0.8 -1,-0.9 -1,-0.2 -1,0.3 -1,-0.5 -1,-0.8 -1,1 -1,0.2 -1,-3.5 -1,-4.1 -1,-1.5 -1,-0 -1,2.2 -1,1.9 -1,0.8 -1,-0.7 -1,-1.5 -1,-0.3 -1,1.2 -1,1.2 -1,0.1 -1,-0.7 -1,0.5 -1,-0.2 -1,-2.5 -1,-2.8 -1,-1.8 -1,-0.8 -1,-1.7 -1,-4.2 -1,-5.3 -1,-3.8 -1,-2.8 -1,-2.8 -1,-1.9 -1,-0.2 -1,-1.1 -1,-2.1 -1,-1.8 -1,-1.7 -1,-0.9 -1,-1 -1,-3.2 -1,-5.4 -1,-8.3 -1,-7.9 -1,-5.5 -1,-5.3 -1,-5.5 -1,-5.9 -1,-7.1 -1,-9.1 -1,-10 -1,-8.8 -1,-6.5 -1,-6 -1,-4.7 -1,-3.1 -1,-1.4 -1,0.2 -1,2 -1,4.6 -1,5.4 -1,2.7 -1,2.4 -1,5.3 -1,6.6 -1,6.1 -1,6.3 -1,6 -1,4 -1,3.3 -1,3.8 -1,5.1 -1,5.1 -1,4.2 -1,3.7 -1,4.3 -1,4.6 -1,4.5 -1,3.8 -1,2.6 -1,2.5 -1,2.6 -1,1.6 -1,1.1 -1,1.4 -1,2.3 -1,2.3 -1,1.5 -1,1 -1,0.9 -1,2.1 -1,2.5 -1,1.7 -1,1.1 -1,-0.1 -1,-0.2 -1,1.1 -1,2.1 -1,1.9 -1,2.4 -1,2.1 -1,0.9 -1,0.4 -1,0.6 -1,0.8 -1,0.9 -1,1.4 -1,1.3 -1,0.5 -1,-0.5 -1,-0.5 -1,-0.4 -1,-0.4 -1,0.6 -1,0.4 -1,-0.7 -1,-1.1 -1,-1 -1,-1.6 -1,-1.2 -1,-0 -1,0.1 -1,-0.3 -1,-1 -1,-1.4 -1,-0.8 -1,-0.7 -1,-0.7 -1,-0 -1,-0.5 -1,-1.4 -1,-1.9 -1,-1.4 -1,-1.1 -1,-0.6 -1,-0.6 -1,-0.4 -1,-0.3 -1,-1.1 -1,-1.7 -1,-1.5 -1,-2.5 -1,-4.1 -1,-3.8 -1,-2.1 -1,-1.4 -1,-2.1 -1,-3.1 -1,-3.7 -1,-3 -1,-1.8 -1,0.1 -1,2.2 -1,1.7 -1,-0.9 -1,-0.7 -1,1 -1,1 -1,1.2 -1,2 -1,1.4 -1,0.3 -1,0.6 -1,1.7 -1,1.8 -1,0.9 -1,1.1 -1,1.8 -1,2.9 -1,3.6 -1,2.4 -1,1.9 -1,1.6 -1,0.3 -1,-0.7 -1,0.2 -1,0.9 -1,0.8 -1,1.7 -1,2.7 -1,1.7 -1,0.4 -1,0.6 -1,1.1 -1,0.7 -1,-0.2 -1,0.4 -1,1.7 -1,1.8 -1,0.5 -1,-0.2 -1,1 -1,1.8 -1,1.3 -1,0.3 -1,-0.2 -1,0.8 -1,1.7 -1,1.2 -1,0.9 -1,1.5 -1,1.5 -1,0.4 -1,-0 -1,-0.2 -1,-0.2 -1,0.2 -1,-0 -1,0.5 -1,0.7 -1,0.5 -1,0.6 -1,0.9 -1,1.6 -1,0.5 -1,-0.3 -1,0.7 -1,1.3 -1,0.3 -1,0.2 -1,0.7 -1,0.8 -1,0.2 -1,-0.3 -1,-0.1 -1,1.1 -1,1.7 -1,0.5 -1,0.6 -1,1.9 -1,1.3 -1,-0.1 -1,-0.2 -1,-0.6 -1,-0.6 -1,0.1 -1,0.2 -1,0.1 -1,-0.6 -1,-0.6 -1,-0 -1,-0.4 -1,0.2 -1,0.3 -1,-0.1 -1,-0.5 -1,-0.5 -1,0.1 -1,0.1 -1,0.1 -1,0.5 -1,-0 -1,-0.4 -1,-0.6 -1,-0.7 -1,-0.9 -1,-1 -1,-0.3 -1,-0.6 -1,-1 -1,-1.3 -1,-1.7 -1,-0.5 -1,0.4 -1,-0.5 -1,-1.7 -1,-1.8 -1,-0 -1,1.4 -1,0.1 -1,0.4 -1,0.1 -1,-1.5 -1,-3.1 -1,-3.4 -1,-2.3 -1,-0.5 -1,0.4 -1,1 -1,0.5 -1,-0.7 -1,-0.4 -1,-0.6 -1,-0.8 -1,-0.1 -1,0.3 -1,-0.4 -1,-0.7 -1,-0.2 -1,-0.5 -1,-0.4 -1,-0.9 -1,-1.6 -1,-2.1 -1,-1.4 -1,-0 -1,0.6 -1,0.6 -1,1.2 -1,1.6 -1,1.2 -1,0.4 -1,-1 -1,-1 -1,-0.2 -1,1.1 -1,2.4 -1,1.6 -1,-0.2 -1,-1.1 -1,-0.2 -1,-0 -1,-0.6 -1,0.8 -1,2.5 -1,1.9 -1,0.6 -1,1 -1,1.5 -1,0.1 -1,-1 -1,-0.3 -1,-0 -1,-0.1 -1,0.1 -1,-0.2 -1,0.3 -1,1.2 -1,0.4 -1,-0.2 -1,1.2 -1,1.7 -1,0.7 -1,0.8 -1,1.7 -1,1.7 -1,1.4 -1,-0 -1,-1 -1,-0.9 -1,-1.1 -1,-0.8 -1,0.3 -1,1.6 -1,0.6 -1,-1 -1,-0.6 -1,-0.3 -1,-0.7 -1,-1.4 -1,-1.5 -1,-0.7 -1,-0.3 -1,-0.9 -1,-1.5 -1,-0.9 -1,-0.2 -1,-0.1 -1,-0.9 -1,-1.6 -1,-0.4 -1,0.7 -1,-0.3 -1,-1.7 -1,-2.7 -1,-2.7 -1,-1.8 -1,-0.2 -1,1.1 -1,0.1 -1,-0.3 -1,0.4 -1,-0.3 -1,-1.4 -1,-1.1 -1,-0.1 -1,0.4 -1,-0 -1,-0.7 -1,-1.8 -1,-2.8 -1,-2.7 -1,-1.5 -1,-0.6 -1,-1.1 -1,-2 -1,-1.3 -1,-1 -1,-1.5 -1,-1.4 -1,-0.5 -1,-0.1 -1,0.5 -1,0.9 -1,-0.4 -1,-2 -1,-2.3 -1,-1.4 -1,-0.1 -1,1.1 -1,0.5 -1,-1 -1,-1.1 -1,-0.4 -1,-0.2 -1,-1.4 -1,-1.8 -1,-2.5 -1,-2.5 -1,-1.5 -1,0.4 -1,0.7 -1,-1.2 -1,-2.7 -1,-2.9 -1,-1.4 -1,0.6 -1,0.5 -1,-2.1 -1,-3.4 -1,-3.3 -1,-3.9 -1,-4.1 -1,-2.7 -1,-1 -1,-0.8 -1,-1.7 -1,-2.2 -1,-2.5 -1,-3 -1,-1.6 -1,0.9 -1,0.4 -1,-0.4 -1,-1.8 -1,-1.7 -1,-1.2 -1,0.2 -1,0.5 -1,0.3 -1,0.7 -1,1.4 -1,1.3 -1,1.1 -1,0.6 -1,0.1 -1,-0.4 -1,-0.5 -1,0.4 -1,1.6 -1,2 -1,2 -1,1.7 -1,1.4 -1,1.1 -1,1.5 -1,3 -1,4.1 -1,4.5 -1,4.1 -1,3.5 -1,1.7 -1,0.6 -1,1.3 -1,2.3 -1,2.9 -1,2.5 -1,1.5 -1,1.2 -1,1.5 -1,1.3 -1,1.6 -1,1.7 -1,1.1 -1,0.8 -1,0.5 -1,0.7 -1,1.4 -1,0.8 -1,-0.2 -1,0.2 -1,0.4 -1,0.1 -1,1 -1,2 -1,1.5 -1,-0.4 -1,-0.8 -1,-0.4 -1,-0.5 -1,-0.2 -1,0.3 -1,0.8 -1,0.4 -1,0.3 -1,0.1 -1,1.1 -1,0.6 -1,-0 -1,1.2 -1,2.3 -1,1.9 -1,1.4 -1,1.9 -1,2.6 -1,3.2 -1,3.5 -1,3.8 -1,3.9 -1,4.5 -1,5.2 -1,5.5 -1,6.1 -1,6.8 -1,7.4 -1,7.3 -1,7.2 -1,6 -1,4.2 -1,3 -1,3.4 -1,3.8 -1,4.3 -1,4.9 -1,4.3 -1,3.2 -1,3.7 -1,3.5 -1,2.7 -1,2 -1,1.8 -1,1.8 -1,0.9 -1,-0.2 -1,-0.9 -1,-0.9 -1,-0.1 -1,0.7 -1,1 -1,0.3 -1,-0.5 -1,-0.6 -1,-0.1 -1,-0.1 -1,0.3 -1,0.2 -1,0.2 -1,-0.1 -1,-0.1 -1,-0 -1,-0.2 -1,0.1 -1,0.4 -1,0.5 -1,0.1 -1,-0.1 -1,-0.3 -1,-0.4 -1,-0.2 -1,-0.1 -1,0.1 -1,0.2 -1,0.1 -1,-0 -1,0.3 -1,0.1 -1,-0.1 -1,0.1 -1,0.2 -1,-0 -1,-0.1 -1,0.1 -1,-0 -1,-0.1 -1,0.1 -1,0.3 -1,0.2 -1,-0.3 -1,-0.4 -1,-0.3 -1,-0.1 -1,-0.1 -1,-0.2 -1,-0 -1,0.1 -1,0.4 -1,0.2 -1,-0.2 -1,-0.4 -1,0.2 -1,0.2 -1,0.1 -1,0.1 -1,-0.1 -1,0.1 -1,0.2 -1,0.1 -1,-0 -1,-0.1 -1,-0.2 -1,-0.1 -1,0.3 -1,0.5 -1,-0 -1,-0.3 -1,-0.2 -1,0.2 -1,0.1 -1,0.1 -1,0.1 -1,-0 -1,-0 -1,0.2 -1,0.1 -1,-0 -1,-0 -1,-0.2 -1,-0 -1,-0.1 -1,-0.1 -1,-0.3 -1,-0.2 -1,0.1 -1,-0.1 -1,0.1 -1,0.3 -1,0.3 -1,0.4 -1,0.1 -1,-0.4 -1,-0.4 -1,-0.3 -1,-0 -1,0.1 -1,0.2 -1,0.2 -1,0.1 -1,-0 -1,-0.1 -1,-0.1 -1,-0.1 -1,-0 -1,-0.1 -1,0.1 -1,0.1 -1,-0.1 -1,-0.3 -1,-0.2 -1,0.1 -1,0.4 -1,0.5 -1,0.1 -1,-0.1 -1,-0.2 -1,-0.1 -1,0.1 -1,-0.1 -1,-0.2 -1,-0.1 -1,-0 -1,0.2 -1,0.4 -1,0.1 -1,-0 -1,-0 -1,-0.1 -1,-0.1 -1,-0 -1,0.1 -1,-0.1 -1,-0 -1,-0.1 -1,-0.2 -1,-0.1 -1,0.2 -1,-0 -1,0.1 -1,-0.1 -1,-0.1 -1,-0 -1,0.2 -1,0.3 -1,0.1 -1,-0.1 -1,-0.1 -1,-0.2 -1,-0.1 -1,-0 -1,0.2 -1,0.1 -1,-0.2 -1,-0.3 -1,-0.1 -1,-0 -1,0.3 -1,0.1 -1,-0 -1,-0.1 -1,-0.1 -1,-0.1 -1,-0 -1,0.1 -1,0.2 -1,0.4 -1,-0 -1,-0 -1,0.2 -1,-0 -1,0.1 -1,-0.4 -1,-0.1 -1,-0.1 -1,-0.2 -1,-0.1 -1,0.2 -1,0.2 -1,0.2 -1,-0.2 -1,-0.1 -1,-0 -1,-0 -1,0.1 -1,0.3 -1,0.2 -1,-0.1 -1,-0.1 -1,0.1 -1,-0.2 -1,-0.2 -1,-0.1 -1,0.3 -1,0.4 -1,0.2 -1,0.1 -1,-0 -1,-0.1 -1,-0.2 -1,-0 -1,-0.1 -1,-0.3 -1,-0.3 -1,-0.2 -1,0.2 -1,0.3 -1,-0 -1,-0.2 -1,-0 -1,0.1 -1,-0.1 -1,-0.1 -1,-0.1 -1,0.1 -1,-0 -1,-0.2 -1,-0.1 -1,0.2 -1,0.2 -1,0.2 -1,0.2 -1,0.4 -1,0.2 -1,-0.1 -1,-0.4 -1,-0.1 -1,-0 -1,-0 -1,-0.3 -1,-0.2 -1,0.1 -1,0.2 -1,-0 -1,0.1 -1,-0.2 -1,-0.3 -1,-0.2 -1,0.1 -1,0.2 -1,0.2 -1,-0 -1,-0 -1,-0.2 -1,-0 -1,0.2 -1,0.3 -1,-0.1 -1,-0.1 -1,-0 -1,0.1 -1,0.1 -1,-0.1 -1,-0.1 -1,0.2 -1,0.1 -1,-0.1 -1,-0 -1,-0 -1,-0 -1,-0 -1,-0 -1,-0 -1,-0.2 -1,0.1 -1,0.2 -1,0.1 -1,-0.1 -1,-0.1 -1,-0 -1,-0.1 -1,-0.1 -1,-0 -1,0.3 -1,0.1 -1,-0.3 -1,-0.1 -1,-0 -1,-0 -1,0.1 -1,0.1 -1,-0 -1,-0.2 -1,-0.8 -1,-1.9 -1,-2.7 -1,-3.7 -1,-7.9 -1,-11.2 -1,-12.9 -1,-13.1 -1,-11.9 -1,-9.6 -1,-5.6 -1,0.3 -1,7.5 -1,12.3 -1,14.8 -1,14.9 -1,13.1 -1,8.9 -1,3.7 -1,2.3 -1,1.7 -1,0.9 -1,0.1 -1,-0.1 -1,0.2 -1,0.2 -1,0.5 -1,0.3 -1,-0 -1,-0 -1,-0.1 -1,-0 -1,0.4 -1,0.3 -1,-0.3 -1,-0.6 -1,-0.4 -1,-0.3 -1,-0 -1,0.2 -1,0.3 -1,0.4 -1,0.6 -1,0.1 -1,-0.2 -1,-0.3 -1,-0.1 -1,-0.2 -1,-0.2 -1,-0.2 -1,-0 -1,0.4 -1,0.4 -1,-0 -1,-0.4 -1,-0.4 -1,-0.1 -1,0.1 -1,0.4 -1,0.3 -1,-0.2 -1,-0.4 -1,-0.1 -1,-0 -1,0.1 -1,-0.2 -1,-0 -1,0.1 -1,-0.1 -1,0.1 -1,0.3 -1,0.4 -1,0.1 -1,-0 -1,-0.1 -1,-0.3 -1,-0.4 -1,-0.1 -1,0.2 -1,0.1 -1,-0.1 -1,-0 -1,-0 -1,-0 -1,0.1 -1,-0 -1,-0 -1,-0.1 -1,0.1 -1,-0.1 -1,-0.2 -1,0.3 -1,0.3 -1,-0.1 -1,-0.4 -1,-0.2 -1,-0.1 -1,-0.1 -1,-0 -1,0.3 -1,0.6 -1,-0 -1,-0.3 -1,-0.1 -1,0.2 -1,0.1 -1,-0 -1,0.1 -1,-0.1 -1,-0.2 -1,-0.3 -1,-0 -1,0.3 -1,0.1 -1,-0 -1,0.1 -1,0.1 -1,0.1 -1,-0 -1,-0 -1,-0 -1,-0.1 -1,-0.3 -1,-0.2 -1,0.1 -1,0.2 -1,0.2 -1,0.1 -1,-0.1 -1,-0.1 -1,-0.1 -1,-0.1 -1,-0.1 -1,-0.1 -1,-0.1 -1,-0 -1,0.3 -1,0.2 -1,-0 -1,-0.3 -1,-0.2 -1,-0 -1,0.1 -1,0.2 -1,-0.2 -1,-0.1 -1,0.1 -1,-0 -1,-0.1 -1,-0.2 -1,-0.2 -1,-0 -1,0.1 -1,0.1 -1,0.3 -1,-0 -1,-0.1 -1,-0.1 -1,0.2 -1,0.2 -1,-0 -1,-0.2 -1,-0.3 -1,-0.2 -1,-0.3 -1,-0 -1,0.4 -1,0.5 -1,0.2 -1,-0.1 -1,-0.3 -1,-0.2 -1,-0 -1,0.2 -1,0.4 -1,0.5 -1,0.1 -1,-0.2 -1,-0.3 -1,-0.1 -1,-0 -1,-0.2 -1,-0.1 -1,-0.1 -1,-0.2 -1,-0 -1,0.1 -1,0.2 -1,0.1 -1,0.2 -1,-0 -1,-0.1 -1,-0.2 -1,-0.5 -1,-0.2 -1,0.8 -1,1 -1,1.3 -1,0.9 -1,0.5 -1,0.4 -1,0.4 -1,0.3 -1,0.2 -1,-0.3 -1,-0.6 -1,-0.3 -1,0.2 -1,0.5 -1,0.2 -1,-0.1 -1,-0 -1,0.2 -1,0.1 -1,-0 -1,-0.2 -1,-0.2 -1,-0.1 -1,-0.1 -1,-0.1 -1,-0.2 -1,-0.1 -1,-0.1 -1,-0 -1,-0.1 -1,-0.6 -1,-0.2 -1,0.3 -1,0.2 -1,0.2 -1,0.3 -1,0.1 -1,-0.1 -1,-0.1 -1,-0.2 -1,-0.2 -1,-0.3 -1,-0.2 -1,-0.1 -1,-0 -1,0.1 -1,-0.2 -1,-0.3 -1,-0 -1,0.4 -1,0.3 -1,-0 -1,-0.1 -1,-0.4 -1,-0.4 -1,-0.1 -1,-0.2 -1,-0 -1,-0 -1,-0.2 -1,-0 -1,0.1 -1,0.2 -1,0.3 -1,0.2 -1,-0.1 -1,-0.4 -1,-0.3 -1,-0 -1,0.1 -1,-0.1 -1,-0.2 -1,-0.2 -1,-0.1 -1,-0 -1,-0.1 -1,-0.2 -1,-0.1 -1,0.3 -1,0.2 -1,-0.1 -1,-0.1 -1,-0 -1,-0.1 -1,-0.2 -1,-0 -1,0.2 -1,0.3 -1,-0.2 -1,-0.3 -1,0.3 -1,0.5 -1,0.3 -1,-0 -1,0.2 -1,-0 -1,-0.3 -1,0.1 -1,-0 -1,-0.1 -1,-0 -1,0.3 -1,0.3 -1,0.2 -1,-0 -1,-0.2 -1,-0.1 -1,-0 -1,-0 -1,-0 -1,-0.1 -1,-0.3 -1,-0.4 -1,-0.3 -1,0.2 -1,0.7 -1,0.9 -1,0.8 -1,0.3 -1,-0.3 -1,-1 -1,-1.6 -1,-1.6 -1,-1.8 -1,-1.7 -1,-1.1 -1,-0.7 -1,-0.6 -1,-1 -1,-1.4 -1,-2.7 -1,-3.6 -1,-4 -1,-5.3 -1,-6.7 -1,-5.7 -1,-4 -1,-4.2 -1,-4.5 -1,-2.9 -1,-3.4 -1,-5.5 -1,-2.7 -1,0.7 -1,1.3 -1,1.2 -1,0.3 -1,-1.1 -1,-1.3 -1,-0.4 -1,-0.4 -1,-0.8 -1,-0 -1,1.5 -1,1.3 -1,0.7 -1,0.9 -1,0.7 -1,0.5 -1,-1.1 -1,-0.5 -1,-0.1 -1,-0.6 -1,-1.3 -1,-0.7 -1,0.1 -1,-0.2 -1,-0 -1,-0.5 -1,-1.3 -1,-1.7 -1,-2.2 -1,-1.8 -1,-1.5 -1,-2.1 -1,-1.8 -1,-1.2 -1,-1.6 -1,-2.2 -1,-2.4 -1,-3.5 -1,-3.2 -1,-2.3 -1,-2.6 -1,-2.8 -1,-2.1 -1,-1.5 -1,-1.1 -1,-0.2 -1,-0.1 -1,-0.2 -1,0.1 -1,0.3 -1,-0.8 -1,-1.7 -1,-0.8 -1,-1.2 -1,0.2 -1,0.1 -1,-0.5 -1,-1.9 -1,-2.9 -1,-2.5 -1,-1.3 -1,-0.2 -1,1.1 -1,1.9 -1,1.7 -1,0.9 -1,0.1 -1,-0.8 -1,-0.2 -1,-0 -1,-1 -1,0.1 -1,1.3 -1,1.3 -1,0.9 -1,0.8 -1,0.5 -1,0.6 -1,2.1 -1,1.7 -1,0.5 -1,-0 -1,1.4 -1,2.5 -1,2.1 -1,1 -1,1.3 -1,2.4 -1,3.6 -1,2.8 -1,0.9 -1,0.4 -1,0.4 -1,0.2 -1,0.7 -1,0.7 -1,0.9 -1,0.6 -1,-0.1 -1,0.1 -1,0.7 -1,0.3 -1,0.5 -1,1 -1,1.7 -1,1.9 -1,1.3 -1,0.8 -1,0.9 -1,1.1 -1,0.9 -1,0.9 -1,1.4 -1,0.7 -1,0.3 -1,1.8 -1,1.9 -1,-0.8 -1,-1.4 -1,0.3 -1,1.3 -1,1.8 -1,0.9 -1,-0.4 -1,-0.1 -1,0.2 -1,0 -1,-0.6 -1,-0.9 -1,0 -1,1.4 -1,1.9 -1,3.3 -1,2.9 -1,1 -1,-0.9 -1,-0.2 -1,0.2 -1,-0.1 -1,0.7 -1,1.5 -1,0.8 -1,-0.4 -1,-0.6 -1,0.1 -1,0.4 -1,0.5 -1,1.1 -1,1.4 -1,-0.6 -1,-1.2 -1,0.8 -1,1.8 -1,0.7 -1,0.2 -1,0.6 -1,0.4 -1,-0.4 -1,0.6 -1,1.8 -1,0.8 -1,0.6 -1,-1.2 -1,-1.5 -1,0.2 -1,0.6 -1,0.3 -1,0.2 -1,-0.2 -1,-0.2 -1,0.2 -1,1.1 -1,0.6 -1,-1.2 -1,-1 -1,-0.4 -1,-1.6 -1,-1.3 -1,1.2 -1,1.5 -1,0 -1,-1.2 -1,-1.3 -1,-0.5 -1,0.4 -1,0.9 -1,0.6 -1,0.5 -1,0.3 -1,0 -1,0.7 -1,0.9 -1,-0.3 -1,-1.4 -1,-0.1 -1,0.5 -1,-0.7 -1,-0.7 -1,0.2 -1,-0.3 -1,-0.5 -1,0.7 -1,1.9 -1,0.9 -1,-0.9 -1,-1.5 -1,-1.3 -1,-1.2 -1,-1 -1,-0.2 -1,0.8 -1,1 -1,1.6 -1,1.9 -1,1.6 -1,0.9 -1,-0.2 -1,-0.4 -1,0.5 -1,0.8 -1,0.4 -1,-0.1 -1,-0.2 -1,-0.4 -1,-0.7 -1,-0.3 -1,-0.1 -1,0.1 -1,1.2 -1,0.8 -1,0.5 -1,0.3 -1,-0.3 -1,-0.1 -1,-0.2 -1,0.2 -1,1.1 -1,0.7 -1,0.6 -1,0.1 -1,-0.7 -1,-1 -1,-0.2 -1,-0.6 -1,-0.3 -1,1.5 -1,1.7 -1,0.3 -1,-0.5 -1,-0.3 -1,-0.6 -1,-0.1 -1,1.2 -1,1.6 -1,0.7 -1,-0.2 -1,-0.2 -1,-0.4 -1,0.3 -1,1.1 -1,1.1 -1,1.2 -1,0.4 -1,-1 -1,-0.5 -1,0.6 -1,-0.2 -1,-2.2 -1,-1.9 -1,0.1 -1,2.5 -1,1.1 -1,-0.7 -1,0.7 -1,0.9 -1,-0.5 -1,0.4 -1,0.8 -1,0.3 -1,-0.4 -1,-0.2 -1,1.1 -1,0.1 -1,-1.2 -1,-0.5 -1,0.2 -1,-0.1 -1,-0.1 -1,0 -1,0.6 -1,0.4 -1,-1 -1,-1.5 -1,-0.4 -1,1.4 -1,1.7 -1,0.4 -1,0.1 -1,0.2 -1,-0.7 -1,-1.4 -1,-1 -1,-0.2 -1,-0.5 -1,-1.4 -1,-1.5 -1,-0.4 -1,0.4 -1,0.2 -1,-0.1 -1,0 -1,-0.1 -1,0.3 -1,0.6 -1,0.3 -1,-0.3 -1,0.2 -1,0.8 -1,1 -1,0.9 -1,0.3 -1,0 -1,0 -1,-0.5 -1,-0.8 -1,-0.9 -1,0.1 -1,1.3 -1,1 -1,0 -1,0.1 -1,0.3 -1,0 -1,-0.5 -1,-1.9 -1,-2 -1,-1.4 -1,-1 -1,-0.2 -1,0.2 -1,-0.2 -1,0.2 -1,1 -1,0.9 -1,-0.1 -1,-0.3 -1,1 -1,1.3 -1,0.6 -1,0.7 -1,1.1 -1,0.4 -1,-1.8 -1,-0.9 -1,1.2 -1,0.7 -1,-0.3 -1,0.4 -1,0.9 -1,0.3 -1,0 -1,-0.1 -1,0.1 -1,1.1 -1,1.2 -1,0.4 -1,-0.2 -1,0.9 -1,1.6 -1,0.6 -1,-1.5 -1,-1.8 -1,0.2 -1,1.9 -1,2.3 -1,1.7 -1,0.1 -1,-0.6 -1,0.5 -1,0.7 -1,0.1 -1,-0.9 -1,-0.8 -1,0 -1,0.3 -1,-0.7 -1,-0.7 -1,0.3 -1,0.1 -1,0.2 -1,1.5 -1,1.3 -1,-0.5 -1,-2.3 -1,-2.2 -1,-0.5 -1,0.6 -1,0.7 -1,1 -1,0.9 -1,0.1 -1,-1.4 -1,-0.9 -1,1.3 -1,1.1 -1,-1.2 -1,-1.7 -1,-0.4 -1,0.5 -1,0.8 -1,0.7 -1,-0.4 -1,-1.1 -1,-0.3 -1,-0.5 -1,-0.7 -1,-0.9 -1,-1.7 -1,-3.1 -1,-2 -1,-0.2 -1,0.6 -1,1.4 -1,0.6 -1,1.3 -1,1.3 -1,-0.8 -1,-1.9 -1,-0.1 -1,1.2 -1,-0.3 -1,-1.6 -1,-1.6 -1,-1 -1,0.3 -1,1.3 -1,-0.4 -1,-2 -1,-2.2 -1,-1.4 -1,0.8 -1,1.2 -1,0.4 -1,0.6 -1,0.7 -1,0.4 -1,0.5 -1,1.2 -1,1.1 -1,-0.5 -1,-1.2 -1,0.5 -1,1.7 -1,1.5 -1,0.6 -1,-0.2 -1,-0.1 -1,0.3 -1,0.5 -1,1.2 -1,1.8 -1,1.3 -1,0.2 -1,0 -1,0.6 -1,0.2 -1,0.5 -1,1.7 -1,2.1 -1,0.8 -1,1.6 -1,2.7 -1,1.2 -1,-1.3 -1,-0.6 -1,1.2 -1,1.1 -1,0.4 -1,0.2 -1,0.6 -1,0.7 -1,-0.8 -1,-1.1 -1,-0.8 -1,-0.9 -1,-1 -1,-0.2 -1,0.4 -1,-0.6 -1,-0.9 -1,0.6 -1,0.7 -1,-1 -1,-1.5 -1,-1.1 -1,0.5 -1,1.4 -1,0.8 -1,0.3 -1,-0.2 -1,0.4 -1,0.8 -1,-0.1 -1,-0.6 -1,0.3 -1,1 -1,0 -1,-0.9 -1,-0.6 -1,-0.4 -1,0.8 -1,0.2 -1,-0.7 -1,-0.3 -1,0.8 -1,1.8 -1,2.1 -1,1.3z"/>
<path stroke-width="9.4" d="M145.5,1132.1l1,0 1,0.2 1,0 1,-0.1 1,-0.3 1,-0.3 1,-0.1 1,0.1 1,0.2 1,0.1 1,0 1,-0.1 1,-0 1,-0.1 1,0.1 1,0.1 1,0.3 1,0.1 1,0.1 1,0 1,0 1,0 1,-0.1 1,-0.1 1,-0.1 1,-0 1,0.1 1,-0.1 1,-0.1 1,-0.4 1,-0.5 1,-0.4 1,-0.2 1,-0.1 1,-0.1 1,-0 1,-0.1 1,-0.2 1,-0.2 1,-0.2 1,-0.3 1,-0.3 1,-0.3 1,-0.4 1,-0.3 1,-0.4 1,-0.2 1,-0.2 1,0 1,0.2 1,0.2 1,0.1 1,0 1,-0.3 1,-0.4 1,-0.4 1,-0.5 1,-0.6 1,-0.6 1,-0.7 1,-0.8 1,-0.9 1,-0.7 1,-0.5 1,-0.4 1,-0.4 1,-0.4 1,-0.7 1,-0.5 1,-0.5 1,-0.2 1,-0.1 1,0 1,-0.1 1,0.1 1,0.1 1,0.4 1,0.6 1,0.7 1,0.7 1,0.5 1,0.3 1,0.1 1,0.1 1,0.1 1,0.1 1,0.2 1,0.3 1,0.5 1,0.5 1,0.5 1,0.5 1,0.7 1,1 1,0.9 1,0.6 1,0.4 1,0.1 1,-0.1 1,-0.1 1,-0.3 1,-0.2 1,-0.2 1,-0.1 1,0.1 1,0.1 1,0.1 1,-0.1 1,-0.3 1,-0.3 1,-0.1 1,0.2 1,0.2 1,0.2 1,0.1 1,-0.1 1,-0.2 1,-0.3 1,-0.1 1,0 1,0.2 1,0.3 1,0.2 1,0.1 1,0 1,-0.1 1,-0.1 1,-0.1 1,-0.1 1,0.1 1,0.2 1,0.3 1,0.2 1,0 1,-0.1 1,-0.1 1,-0.1 1,-0.1 1,-0.2 1,-0.1 1,-0 1,-0 1,-0.3 1,-0.4 1,-0.3 1,-0.2 1,-0.1 1,-0 1,-0.1 1,-0.2 1,-0.2 1,-0.2 1,-0.2 1,-0.3 1,-0.5 1,-0.5 1,-0.4 1,-0.3 1,-0 1,0.1 1,0.1 1,-0 1,-0 1,-0.1 1,-0.1 1,-0.2 1,-0.1 1,0.1 1,0.3 1,0.2 1,-0.1 1,-0.2 1,-0.2 1,-0 1,-0 1,0.1 1,-0 1,-0.1 1,-0.1 1,-0 1,-0.1 1,-0.2 1,-0.3 1,-0.3 1,0.1 1,0.5 1,0.7 1,0.7 1,0.5 1,0.3 1,0.1 1,-0 1,-0.1 1,-0.3 1,-0.3 1,-0.2 1,-0 1,-0 1,0.2 1,0.2 1,0.1 1,-0 1,-0 1,0.1 1,-0 1,0.1 1,0.2 1,0.2 1,0.3 1,0.3 1,0.2 1,-0.1 1,-0.3 1,-0.5 1,-0.4 1,-0.2 1,-0 1,0.2 1,0.2 1,0.1 1,-0.2 1,-0.2 1,-0.2 1,-0.1 1,-0 1,0.1 1,0.4 1,0.5 1,0.4 1,0.2 1,-0.2 1,-0.5 1,-0.4 1,-0.4 1,-0.1 1,0.1 1,-0 1,-0.1 1,-0.2 1,-0.4 1,-0.4 1,-0.2 1,-0.2 1,-0.1 1,-0.3 1,-0.3 1,-0.3 1,-0.1 1,-0.2 1,-0 1,-0.1 1,-0.1 1,-0.2 1,-0.2 1,-0.1 1,-0 1,0.1 1,0.2 1,0.1 1,-0 1,-0 1,-0.2 1,-0.3 1,-0.4 1,-0.3 1,-0 1,-0 1,-0 1,-0.1 1,-0.1 1,-0.2 1,-0.3 1,-0.4 1,-0.4 1,-0.2 1,-0 1,-0 1,-0 1,-0.2 1,-0.3 1,-0.2 1,-0.3 1,-0.3 1,-0.5 1,-0.6 1,-0.4 1,-0.4 1,-0.4 1,-0.3 1,-0.4 1,-0.5 1,-0.6 1,-0.8 1,-0.6 1,-0.4 1,-0.1 1,0.1 1,0.1 1,-0 1,-0 1,-0.3 1,-0.4 1,-0.4 1,-0.1 1,0.1 1,0.2 1,0 1,-0.2 1,-0.2 1,-0.2 1,-0.1 1,0.1 1,0.1 1,0.1 1,0.1 1,0 1,0 1,-0.1 1,-0.1 1,0.2 1,0.2 1,0.5 1,0.6 1,0.6 1,0.5 1,0.4 1,0.2 1,0.3 1,0.4 1,0.5 1,0.4 1,0.2 1,-0.1 1,-0.2 1,-0.2 1,-0.1 1,-0 1,0.1 1,0.2 1,0.2 1,0.3 1,0.3 1,0.3 1,0.2 1,0 1,-0.2 1,-0.2 1,-0.2 1,-0.3 1,-0.1 1,-0.1 1,-0 1,0.1 1,0 1,0.1 1,0.1 1,0.2 1,0.1 1,0 1,-0.1 1,-0.1 1,-0.3 1,-0.4 1,-0.4 1,-0.3 1,-0.1 1,0 1,-0.1 1,-0.3 1,-0.3 1,-0.3 1,-0.4 1,-0.5 1,-0.6 1,-0.5 1,-0.4 1,-0.3 1,-0.4 1,-0.5 1,-0.6 1,-0.4 1,-0.3 1,-0.3 1,-0.3 1,-0.3 1,-0.3 1,-0.4 1,-0.5 1,-0.6 1,-0.7 1,-0.6 1,-0.6 1,-0.5 1,-0.5 1,-0.5 1,-0.4 1,-0.4 1,-0.4 1,-0.5 1,-0.5 1,-0.7 1,-0.8 1,-0.8 1,-0.7 1,-0.5 1,-0.5 1,-0.6 1,-0.9 1,-1.2 1,-1.3 1,-1.4 1,-1.3 1,-1.3 1,-1.3 1,-1.3 1,-1.4 1,-1.5 1,-1.7 1,-1.7 1,-2 1,-2.2 1,-2.4 1,-2.6 1,-2.9 1,-2.9 1,-3.3 1,-3.4 1,-3.8 1,-4 1,-4.2 1,-4.5 1,-4.8 1,-4.8 1,-4.5 1,-4.1 1,-3.6 1,-3.5 1,-3.5 1,-3.4 1,-3.3 1,-3 1,-2.7 1,-2.2 1,-1.7 1,-1.5 1,-1.2 1,-0.7 1,-0.3 1,0.2 1,0.4 1,1 1,1.3 1,1.9 1,2.5 1,3.3 1,3.6 1,3.8 1,3.6 1,4.2 1,4.8 1,4.9 1,4.7 1,4.2 1,3.7 1,3.5 1,3.1 1,2.9 1,2.5 1,2.3 1,2.4 1,2.7 1,3.1 1,3.5 1,3.5 1,3.4 1,3.1 1,2.7 1,2.5 1,2.2 1,2 1,1.7 1,1.5 1,1.3 1,1.5 1,1.5 1,1.7 1,1.7 1,1.6 1,1.5 1,1.3 1,1.2 1,1 1,0.9 1,0.8 1,0.6 1,0.5 1,0.4 1,0.2 1,-0.1 1,-0.5 1,-0.6 1,-0.7 1,-0.4 1,-0.2 1,0 1,0 1,0.1 1,0 1,-0.2 1,-0.3 1,-0.2 1,0.1 1,0.3 1,0.4 1,0.2 1,0.2 1,0.4 1,0.8 1,1.1 1,1.2 1,1.3 1,1.2 1,1.2 1,1.5 1,2.3 1,2.8 1,3 1,3 1,2.7 1,2.4 1,1.9 1,1.4 1,1.3 1,1.2 1,1.2 1,0.9 1,0.7 1,0.7 1,0.5 1,0.5 1,0.5 1,0.3 1,0.3 1,0.2 1,0.3 1,0.2 1,0.3 1,0.2 1,0.2 1,0.2 1,0.1 1,-0 1,-0.1 1,-0 1,-0 1,-0 1,-0.1 1,-0 1,-0 1,0.2 1,0.2 1,0.1 1,0.1 1,-0 1,-0.1 1,-0.2 1,-0.1 1,-0.1 1,-0 1,-0 1,-0 1,-0 1,-0.1 1,-0.1 1,-0.1 1,-0.1 1,-0.1 1,-0 1,-0 1,0.2 1,-0 1,-0 1,-0 1,-0.1 1,-0.1 1,-0 1,0.1 1,0.2 1,0.3 1,0.2 1,-0 1,-0.1 1,-0.2 1,-0.1 1,-0 1,0.1 1,0.1 1,0.2 1,0.1 1,-0 1,-0.1 1,-0.1 1,-0 1,-0.1 1,-0 1,-0.1 1,-0 1,-0.1 1,0.1 1,-0 1,-0 1,-0 1,-0 1,-0 1,0.1 1,-0 1,-0.1 1,-0.1 1,-0.1 1,-0 1,-0.1 1,-0 1,-0.1 1,-0 1,0.1 1,0.1 1,0.1 1,0.1 1,-0 1,-0 1,-0 1,-0 1,0.1 1,-0.1 1,-0 1,-0.1 1,-0 1,-0.1 1,-0 1,0.1 1,-0 1,0.1 1,-0 1,0.1 1,0.1 1,0.1 1,0.1 1,0.1 1,-0 1,-0.1 1,-0.2 1,-0.2 1,-0.1 1,-0.1 1,0.1 1,-0 1,-0.1 1,-0.2 1,-0.3 1,-0.4 1,-0.2 1,-0.2 1,-0 1,-0 1,0.1 1,-0.1 1,-0.1 1,-0.1 1,-0.2 1,-0.1 1,-0.1 1,-0 1,-0 1,-0 1,-0 1,0.1 1,-0 1,0.1 1,-0 1,-0 1,-0 1,-0 1,-0.1 1,-0 1,0.1 1,0.1 1,-0 1,-0 1,-0 1,-0.1 1,-0 1,-0 1,-0.1 1,-0.1 1,-0.1 1,-0 1,0.1 1,0.1 1,0.1 1,-0 1,-0 1,-0.1 1,-0.1 1,-0.1 1,-0 1,-0 1,0.1 1,0.1 1,0.2 1,0.1 1,0.1 1,0.1 1,0.2 1,0.1 1,0.1 1,-0.1 1,-0.1 1,-0.1 1,-0.1 1,-0.1 1,-0 1,-0 1,-0.1 1,-0.1 1,-0.1 1,-0.1 1,-0 1,0.1 1,0.1 1,0.1 1,0.1 1,-0 1,-0.1 1,-0 1,-0 1,0.1 1,0.1 1,0.1 1,-0 1,-0.1 1,-0.1 1,-0.1 1,0.1 1,0.1 1,0.2 1,-0 1,-0.1 1,-0.1 1,-0.1 1,-0.1 1,-0 1,-0.1 1,-0 1,-0 1,-0 1,0.1 1,-0 1,-0 1,-0.1 1,-0.1 1,-0 1,-0 1,-0.1 1,-0 1,-0.1 1,-0 1,0.1 1,0.1 1,0.1 1,0.2 1,0.1 1,0.1 1,-0 1,-0 1,-0.1 1,-0 1,-0 1,-0.1 1,-0 1,-0.1 1,0.1 1,0.1 1,0.1 1,0.2 1,0.1 1,0.1 1,-0 1,-0 1,-0.1 1,-0.1 1,-0.2 1,-0.1 1,-0.2 1,-0.2 1,-0.2 1,-0 1,0.1 1,0.2 1,0.1 1,0.1 1,-0 1,-0 1,-0.1 1,-0 1,-0 1,0.1 1,0.2 1,0.1 1,-0 1,-0 1,-0.1 1,-0 1,-0 1,-0 1,-0 1,0.1 1,0.1 1,-0 1,0.1 1,-0 1,-0 1,-0.1 1,-0.1 1,-0.1 1,-0.2 1,-0 1,-0.1 1,-0 1,0.1 1,-0 1,-0.1 1,-0.1 1,-0.1 1,-0.1 1,-0.1 1,-0.8 1,-1.5 1,-1.9 1,-2.3 1,-3.8 1,-4.7 1,-5 1,-4.5 1,-3.2 1,-1.4 1,1.2 1,3.2 1,4.4 1,5 1,4.7 1,3.8 1,2.3 1,2 1,1.7 1,1 1,0.3 1,0.1 1,0.1 1,-0 1,-0 1,-0.1 1,-0.1 1,-0 1,-0.1 1,-0 1,-0 1,0.1 1,-0 1,-0 1,-0 1,-0 1,-0.1 1,-0 1,0.1 1,-0 1,-0 1,-0 1,-0 1,-0 1,0.1 1,-0 1,-0 1,-0.1 1,-0.1 1,-0.1 1,-0 1,-0 1,-0 1,0.1 1,0.1 1,0.1 1,-0 1,0.1 1,-0 1,-0 1,-0 1,0.1 1,0.1 1,-0 1,-0.1 1,-0 1,-0.1 1,-0 1,-0 1,-0 1,-0 1,-0 1,-0 1,-0.1 1,-0.1 1,-0.2 1,-0 1,-0 1,0.1 1,0.1 1,0.1 1,-0 1,-0.2 1,-0.1 1,-0.1 1,-0 1,0.1 1,0.1 1,0.1 1,0.2 1,0.1 1,0.2 1,-0 1,-0 1,-0.2 1,-0.1 1,-0.2 1,-0.2 1,-0 1,0.1 1,0.1 1,0.1 1,0.1 1,-0 1,-0 1,-0 1,-0.1 1,0.1 1,-0 1,0.1 1,-0 1,-0.1 1,-0.1 1,-0.1 1,-0.1 1,-0 1,0.1 1,0.1 1,0.1 1,0.2 1,0.1 1,-0 1,-0 1,-0.1 1,-0.2 1,-0.2 1,-0.1 1,-0.2 1,-0 1,-0 1,0.2 1,0.2 1,0.1 1,0.1 1,-0.1 1,-0.1 1,-0.1 1,-0.1 1,-0 1,-0.1 1,-0 1,-0 1,-0 1,-0 1,-0 1,-0 1,0.1 1,0.1 1,0.1 1,0.1 1,0.1 1,-0.1 1,-0.1 1,-0.1 1,-0.1 1,-0.1 1,-0.2 1,-0 1,-0 1,-0 1,0.1 1,0.2 1,0.1 1,0.1 1,0.1 1,0.1 1,-0 1,-0.1 1,-0.1 1,-0.1 1,-0 1,-0.1 1,-0 1,-0 1,-0 1,-0 1,-0.1 1,-0.1 1,-0.1 1,-0 1,-0 1,-0 1,0.1 1,-0 1,-0.1 1,-0.1 1,-0.1 1,-0 1,-0 1,-0 1,-0 1,0.2 1,0.2 1,0.2 1,0.2 1,0.1 1,-0 1,-0.1 1,-0 1,-0.2 1,-0.2 1,-0.1 1,-0.1 1,-0.1 1,-0.1 1,-0.2 1,-0.1 1,-0 1,0.1 1,0.3 1,0.2 1,0.3 1,0.1 1,0.1 1,0.1 1,-0.1 1,-0.1 1,-0.1 1,-0.2 1,-0.1 1,-0 1,0.1 1,0.1 1,0.1 1,-0 1,0.1 1,-0 1,-0 1,-0 1,-0 1,-0 1,-0.1 1,-0 1,0.1 1,-0 1,-0 1,-0.1 1,-0.1 1,-0.1 1,-0 1,-0 1,-0 1,-0 1,-0 1,-0 1,0.1 1,0.1 1,0.1 1,-0.1 1,-0.1 1,-0.2 1,-0.1 1,-0 1,-0 1,0.1 1,-0 1,-0 1,0.1 1,-0 1,0.1 1,-0 1,-0.1 1,0.1 1,-0 1,-0 1,-0 1,-0.1 1,-0.1 1,-0 1,-0 1,-0.1 1,-0 1,-0 1,-0 1,-0 1,-0.1 1,-0.1 1,-0 1,-0 1,0.1 1,0.2 1,-0 1,0.1 1,-0.1 1,-0.1 1,-0.1 1,-0.1 1,-0 1,-0 1,-0 1,0.1 1,-0 1,-0 1,0.1 1,-0 1,-0 1,-0.2 1,-0.1 1,-0.2 1,-0.1 1,-0 1,-0.1 1,-0 1,-0 1,-0 1,-0 1,-0.4 1,-0.7 1,-1.2 1,-1.3 1,-1.3 1,-1.1 1,-1.3 1,-1.6 1,-2.2 1,-2.6 1,-2.8 1,-2.6 1,-2.4 1,-2.7 1,-3 1,-3.5 1,-3.8 1,-3.8 1,-3.7 1,-3.4 1,-3.2 1,-3.2 1,-3.2 1,-3.1 1,-3 1,-2.8 1,-2.4 1,-2.3 1,-2.3 1,-2.1 1,-1.9 1,-1.9 1,-1.7 1,-1.7 1,-1.5 1,-1 1,-0.9 1,-0.5 1,-0.4 1,-0.3 1,-0.4 1,-0.3 1,-0.1 1,0.1 1,0.3 1,0.2 1,0.1 1,-0.1 1,-0.1 1,-0 1,0.2 1,0.3 1,0.3 1,0.1 1,-0 1,-0 1,0.1 1,0.4 1,0.4 1,0.2 1,-0.4 1,-1.1 1,-1.8 1,-2 1,-2.2 1,-2.2 1,-2.2 1,-2.3 1,-2.2 1,-2.3 1,-2.5 1,-2.7 1,-2.9 1,-2.9 1,-3 1,-3 1,-3.4 1,-4 1,-4.5 1,-5 1,-5.3 1,-5.6 1,-5.8 1,-6.6 1,-7.2 1,-7.3 1,-7.1 1,-6.7 1,-6.6 1,-6.4 1,-6 1,-5.4 1,-5 1,-4.6 1,-4.4 1,-4.8 1,-4.9 1,-4.6 1,-3.8 1,-2.7 1,-1.4 1,0.1 1,1.1 1,1.8 1,2.1 1,2.4 1,2.6 1,2.6 1,3.1 1,4.4 1,5.7 1,6.5 1,6.6 1,6.4 1,6.1 1,5.5 1,5.6 1,5.8 1,5.7 1,5.5 1,5.2 1,4.7 1,4 1,3.6 1,3.2 1,2.8 1,2.5 1,2.4 1,2.5 1,2.7 1,2.8 1,2.9 1,2.7 1,2.3 1,2 1,1.7 1,1.4 1,1.4 1,1.5 1,1.8 1,1.9 1,1.9 1,1.8 1,1.6 1,1.5 1,1.5 1,1.5 1,1.4 1,1.4 1,1.2 1,1.1 1,1.1 1,1.1 1,1.2 1,1.2 1,1.2 1,1 1,0.8 1,0.9 1,0.9 1,1 1,0.9 1,0.9 1,1 1,1 1,1.3 1,1.4 1,1.4 1,1.3 1,1.1 1,1.2 1,1.3 1,1.4 1,1.1 1,0.7 1,0.5 1,0.3 1,0.4 1,0.3 1,0.1 1,-0 1,-0 1,0.2 1,0.4 1,0.8 1,0.7 1,0.5 1,0.4 1,0.4 1,0.4 1,0.2 1,0.1 1,-0 1,-0.2 1,-0 1,0.2 1,0.3 1,0.3 1,-0.1 1,-0.5 1,-0.6 1,-0.7 1,-0.5 1,-0.4 1,-0.1 1,-0.1 1,-0 1,-0.2 1,-0.3 1,-0.6 1,-0.7 1,-0.7 1,-0.8 1,-0.6 1,-0.6 1,-0.4 1,-0.5 1,-0.6 1,-0.8 1,-0.7 1,-0.5 1,-0.6 1,-0.8 1,-1.1 1,-1.1 1,-0.9 1,-0.8 1,-0.8 1,-1 1,-1.1 1,-0.9 1,-0.8 1,-0.7 1,-0.4 1,-0.3 1,-0.1 1,-0 1,0.1 1,0.1 1,0.1 1,0.1 1,0.3 1,0.3 1,0.3 1,0.3 1,0.3 1,0.3 1,0.3 1,0.4 1,0.4 1,0.5 1,0.3 1,0.3 1,0.4 1,0.3 1,0.5 1,0.5 1,0.6 1,1 1,1.3 1,1.4 1,1.3 1,1.3 1,1.1 1,1 1,0.9 1,0.8 1,0.8 1,0.6 1,0.6 1,0.4 1,0.5 1,0.6 1,0.7 1,0.7 1,0.5 1,0.5 1,0.6 1,0.4 1,0.4 1,0.2 1,-0 1,-0.1 1,-0 1,0.1 1,0.4 1,0.6 1,0.5 1,0.2 1,-0 1,-0.3 1,-0.3 1,-0.2 1,-0 1,0.3 1,0.5 1,0.5 1,0.6 1,0.5 1,0.4 1,0.3 1,0.3 1,0.2 1,-0 1,-0.2 1,-0.3 1,-0.2 1,-0 1,0.2 1,0.2 1,0.2 1,0.2 1,0.1 1,0.1 1,0.3 1,0.2 1,0.3 1,0.1 1,0.1 1,-0.2 1,-0.2 1,-0.4 1,-0.2 1,-0.3 1,-0.1 1,-0.2 1,-0.2 1,-0.3 1,-0.3 1,-0.2 1,-0.2 1,-0.2 1,-0.1 1,-0.1 1,-0.1 1,-0.2 1,-0.2 1,-0.1 1,-0.1 1,-0.2 1,-0.3 1,-0.5 1,-0.5 1,-0.4 1,-0.4 1,-0.6 1,-0.7 1,-0.7 1,-0.5 1,-0.4 1,-0.2 1,-0.3 1,-0.3 1,-0.6 1,-0.7 1,-0.8 1,-0.9 1,-0.7 1,-0.5 1,-0.5 1,-0.5 1,-0.6 1,-0.8 1,-1 1,-1 1,-1.1 1,-1 1,-1.3 1,-1.7 1,-1.9 1,-1.8 1,-1.7 1,-1.6 1,-1.7 1,-1.7 1,-1.5 1,-1.2 1,-1 1,-0.9 1,-0.6 1,-0.4 1,-0.1 1,0.2 1,0.3 1,0.5 1,0.7 1,0.8 1,0.8 1,0.7 1,0.5 1,0.6 1,0.6 1,0.8 1,1 1,1.3 1,1.5 1,1.3 1,1.2 1,1 1,1 1,0.9 1,0.9 1,0.7 1,0.8 1,0.8 1,0.8 1,0.9 1,0.9 1,0.8 1,0.7 1,0.7 1,0.5 1,0.4 1,0.3 1,0.2 1,0.1 1,0.2 1,0.5 1,0.6 1,0.5 1,0.3 1,-0.1 1,-0.4 1,-0.4 1,-0.4 1,-0 1,0.1 1,0.1 1,-0.1 1,-0.2 1,-0.2 1,-0.1 1,-0 1,-0 1,-0.3 1,-0.5 1,-0.7 1,-0.7 1,-0.6 1,-0.6 1,-0.5 1,-0.5 1,-0.6 1,-0.8 1,-0.7 1,-0.7 1,-0.8 1,-0.9 1,-1.3 1,-1.8 1,-2.1 1,-2.1 1,-2 1,-2.1 1,-2.5 1,-2.9 1,-3.3 1,-3.4 1,-3.4 1,-3.2 1,-3.4 1,-3.9 1,-4.2 1,-4.6 1,-4.7 1,-5 1,-5.1 1,-5.9 1,-6.2 1,-6.1 1,-5.6 1,-5.1 1,-4.4 1,-3.8 1,-3.9 1,-3.6 1,-3.2 1,-2.3 1,-1.2 1,0.6 1,2.8 1,4.4 1,5.2 1,5.2 1,6.3 1,7.6 1,8 1,7.6 1,8.3 1,8.7 1,8.3 1,6.3 1,4.9 1,4.2 1,3.6 1,3.1 1,2.9 1,2.7 1,2.6 1,2.6 1,2.6 1,2.4 1,2.2 1,1.8 1,1.3 1,0.6 1,0.2 1,-0 1,0.2 1,0.5 1,0.8 1,0.7 1,0.5 1,0.4 1,0.6 1,0.7 1,0.7 1,0.6 1,0.4 1,0.4 1,0.5 1,0.6 1,0.5 1,0.4 1,0.2 1,-0 1,-0.2 1,-0.2 1,-0.1 1,-0 1,0.2 1,0.3 1,0.4 1,0.3 1,0.1 1,-0.1 1,-0 1,-0.1 1,-0 1,0.3 1,0.5 1,0.7 1,0.6 1,0.6 1,0.3 1,-0 1,-0 1,0.1 1,0.3 1,0.5 1,0.3 1,0.1 1,-0.4 1,-0.7 1,-0.9 1,-0.7 1,-0.4 1,-0 1,0.1 1,0.2 1,0.4 1,0.5 1,0.7 1,0.7 1,0.4 1,-0.1 1,-0.5 1,-0.8 1,-0.6 1,-0.2 1,0.2 1,0.4 1,0.6 1,0.5 1,0.4 1,0.2 1,0.3 1,0.4 1,0.3 1,0.1 1,-0.1 1,-0.2 1,-0.3 1,-0.3 1,-0.4 1,-0.5 1,-0.4 1,-0.3 1,-0.2 1,-0 1,0.3 1,0.4 1,0.4 1,0.1 1,0.1 1,0.2 1,0.3 1,0.5 1,0.4 1,0.2 1,-0.1 1,-0.1 1,0.2 1,0.4 1,0.4 1,0.3 1,-0 1,-0 1,-0 1,0.2 1,0.2 1,0.3 1,0.2 1,0.1 1,0.1 1,0.2 1,-0 1,-0.1 1,-0.4 1,-0.4 1,-0.2 1,-0.1 1,0.1 1,0.2 1,0.4 1,0.4 1,0.5 1,0.3 1,-0 1,-0.3 1,-0.3 1,-0.2 1,-0.1 1,0.2 1,0.4 1,0.2 1,0.2 1,-0.2 1,-0.3 1,-0.4 1,-0.4 1,-0.1 1,-0 1,0.1 1,0.1 1,-0 1,-0 1,-0 1,0.2 1,0.3 1,0.5 1,0.4 1,0.3 1,-0 1,-0.3 1,-0.4 1,-0.5 1,-0.7 1,-0.6 1,-0.5 1,-0.3 1,-0 1,0.2 1,0.3 1,0.2 1,0.2 1,0.2 1,0.1 1,-0.2 1,-0.4 1,-0.6 1,-0.5 1,-0.3 1,-0.2 1,0.1 1,0.2 1,0.2 1,0.3 1,0.2 1,0.1 1,-0 1,0.1 1,0.1 1,0.3 1,0.3 1,0.3 1,0.1 1,-0.3 1,-0.5 1,-0.4 1,-0.2 1,-0 1,-0 1,-0.1 1,-0.1 1,-0.1 1,0.1 1,0.2 1,0.2 1,0.1 1,0.1 1,0.1 0.5,-0"/>
<path stroke="none" fill="#000" d="M145.5,1127.5l1,0.3 1,-0.5 1,-0.8 1,-0.4 1,-0.3 1,-0.4 1,0.2 1,1.3 1,0.6 1,-1.1 1,-1.6 1,-0.8 1,0.4 1,0.2 1,-0.3 1,-0.4 1,1 1,1.6 1,0.7 1,-0.1 1,-0.1 1,0.1 1,0.2 1,-0.7 1,-1 1,-0 1,0.5 1,-0.3 1,-0.6 1,0.6 1,0.8 1,-0 1,-1 1,-1.4 1,-1.3 1,0.4 1,1.4 1,0.1 1,-0.4 1,-0.1 1,-0.5 1,-0.1 1,0.1 1,-1.3 1,-2.1 1,-0.3 1,1.2 1,0.2 1,-0.7 1,0.2 1,0.6 1,0.3 1,0.3 1,-0.1 1,-1.2 1,-1 1,-0.6 1,-0.5 1,-0 1,-0.2 1,-1 1,-1.2 1,-0.5 1,0.5 1,-0.4 1,-1.1 1,-0.9 1,-0.9 1,-1.2 1,-0.7 1,0.5 1,1 1,0.3 1,-0.5 1,-0.5 1,-0.8 1,-0.2 1,0.5 1,0.4 1,0.4 1,0.3 1,0.6 1,1.1 1,0.3 1,-0.7 1,-0.3 1,0.6 1,0.6 1,1.1 1,1.1 1,0.4 1,0.2 1,0.6 1,0.4 1,1 1,0.8 1,0.2 1,0.2 1,-0.3 1,-0.2 1,0.2 1,0.3 1,0.1 1,-0.2 1,-0.1 1,-0.1 1,-0.4 1,-0.6 1,0 1,0.5 1,0.2 1,0.3 1,0.4 1,0.6 1,0 1,-0.5 1,-0.1 1,0.4 1,-0.1 1,-0.5 1,-0.2 1,0.7 1,1.2 1,0.2 1,-0.9 1,-0.5 1,-0.1 1,-0.7 1,-0.1 1,0.4 1,0.3 1,0.1 1,0.1 1,-0.4 1,-0.5 1,-0.2 1,0.2 1,0.1 1,-0.1 1,-0.5 1,-0.3 1,0.3 1,0.5 1,-0.3 1,-1 1,-0.7 1,0.2 1,0.3 1,0 1,-0.7 1,-0.7 1,-0.1 1,-0.1 1,0.7 1,0.8 1,0 1,-0.5 1,0.4 1,0.3 1,-0.1 1,-0.4 1,-0.8 1,-0.8 1,-0.5 1,-0.1 1,0.3 1,1 1,0.5 1,-0.6 1,-1.4 1,-1.2 1,-0.2 1,0.6 1,0.9 1,0.1 1,-0.6 1,-0.9 1,-0.2 1,0.7 1,0.3 1,0 1,-0.1 1,-0.1 1,-0.2 1,0.2 1,1 1,0.8 1,0.5 1,0.2 1,0.1 1,0.7 1,0.8 1,-0.3 1,-1.1 1,-0.3 1,0.8 1,0.6 1,0.1 1,-0.2 1,-0.2 1,-0.3 1,-0.8 1,-0.3 1,0 1,-0.6 1,-0.1 1,0.4 1,-0 1,0.5 1,0.8 1,0.1 1,0.3 1,0.6 1,0.3 1,-0.4 1,-0.9 1,-0.9 1,-0.6 1,0.2 1,0.2 1,-0.3 1,1 1,1.2 1,0 1,-0.8 1,-0.7 1,-0.5 1,0.8 1,1.8 1,1.4 1,-0.3 1,-1 1,-1.2 1,-1.6 1,-0.8 1,0.8 1,2 1,0.4 1,-1.6 1,-1.4 1,-0.4 1,-0.1 1,-0.8 1,-0.8 1,0.1 1,0.9 1,0.2 1,-0.7 1,-0.2 1,1 1,0.8 1,-0.2 1,-0.9 1,-0.7 1,-0.5 1,-0.7 1,0.1 1,0.6 1,0.6 1,0.6 1,0.5 1,0.2 1,-0.7 1,-1.2 1,-0.5 1,0.5 1,0.4 1,-0.4 1,-1.1 1,-0.6 1,0.5 1,0.8 1,0.5 1,-0.1 1,-0.6 1,-0.5 1,-1.1 1,-0.9 1,-0.2 1,0.3 1,0.3 1,-0.3 1,-0.6 1,-0.2 1,-0.3 1,-0.8 1,-0.5 1,0.5 1,0.4 1,-1.1 1,-1.8 1,-1.1 1,-0 1,0.3 1,-0.6 1,-1.4 1,-0.4 1,0.3 1,0.6 1,-0.2 1,-0.8 1,-0.1 1,0.7 1,1 1,-0 1,-0.6 1,-0.6 1,-0.3 1,-0.1 1,-0.4 1,-0.6 1,-0.2 1,0.3 1,0.3 1,0.2 1,0.3 1,0.3 1,-0.1 1,-0.6 1,-0.9 1,-0.1 1,0.8 1,1 1,1 1,0.7 1,-0.1 1,0.2 1,0.5 1,-0.1 1,0.1 1,1 1,0.7 1,-0.1 1,-0.7 1,-1.1 1,-0.1 1,0.8 1,1.1 1,0.7 1,-0.2 1,-0.4 1,0.6 1,0.5 1,-0.1 1,-0.7 1,-0 1,0.6 1,-0 1,-0.8 1,-0.7 1,-0.2 1,0.2 1,0.5 1,0.2 1,-0.3 1,0.3 1,0.8 1,-0.4 1,-0.9 1,0.1 1,0.4 1,-0.3 1,-1 1,-0.4 1,-0 1,0.1 1,0.4 1,0.3 1,-0.8 1,-1.3 1,-0.1 1,0.1 1,-1.3 1,-0.9 1,0.7 1,1 1,-0.1 1,-0.5 1,-0.1 1,-0.3 1,-0.4 1,-1 1,-1.6 1,-1.2 1,-0.8 1,-0.2 1,0.5 1,1.5 1,0.7 1,-1 1,-2.3 1,-1.1 1,-0 1,-0 1,-0.7 1,-0.6 1,-0.2 1,-0.5 1,-0.9 1,-0.5 1,-0.4 1,-0.5 1,-1 1,-0.5 1,-0.1 1,-1 1,-1.7 1,-2.2 1,-2.6 1,-1.3 1,-0.9 1,-0.3 1,-0.8 1,-2.1 1,-1.5 1,-1.4 1,-1.5 1,-0.7 1,-1 1,-2 1,-2.8 1,-2.3 1,-2.3 1,-2.9 1,-2.8 1,-2.4 1,-2.7 1,-3.3 1,-3.6 1,-4 1,-5.4 1,-6.5 1,-6 1,-4.8 1,-3.6 1,-3.1 1,-3.1 1,-3.3 1,-3.2 1,-3.1 1,-2.6 1,-2.2 1,-2.6 1,-2.1 1,-1.7 1,-1.2 1,-0.2 1,-0.1 1,0.1 1,0.3 1,0.8 1,1.6 1,1.7 1,2.2 1,3.3 1,3.8 1,3.8 1,3.6 1,4.3 1,4.9 1,5.2 1,4.4 1,3.3 1,3 1,3.7 1,3.9 1,2.7 1,2.2 1,2.8 1,2.5 1,1.7 1,2.1 1,4 1,5 1,4.2 1,2.6 1,2 1,2.2 1,2 1,2 1,2.3 1,2.1 1,1.9 1,1.2 1,1.1 1,1.2 1,1.2 1,2 1,2.1 1,1 1,0.3 1,1.2 1,2 1,1.3 1,0.2 1,-0.1 1,0.1 1,0.2 1,0.6 1,-0.1 1,-0.9 1,-0.1 1,-0.4 1,-1.1 1,-1.1 1,0.3 1,1.1 1,0.6 1,0.1 1,-0.3 1,0.1 1,0.5 1,0.2 1,-0.4 1,-1.1 1,-0.5 1,0.6 1,1.6 1,1.5 1,1.1 1,0.9 1,0.6 1,0 1,1.5 1,2.6 1,4 1,3.5 1,2.6 1,2.5 1,2.9 1,2.2 1,0.7 1,1.2 1,2.2 1,1.5 1,0.4 1,0 1,0.5 1,0.5 1,0.2 1,0.9 1,1.1 1,1 1,0.5 1,0.3 1,0.5 1,0.1 1,0 1,0.4 1,0.2 1,-0.1 1,0.2 1,0.3 1,0.1 1,-0.3 1,-0.3 1,-0.2 1,0 1,0.1 1,0.1 1,0.2 1,0.5 1,0.4 1,0 1,-0.3 1,-0.4 1,-0.5 1,0.2 1,0.6 1,0.1 1,-0.4 1,-0.2 1,0 1,-0.1 1,0 1,0.1 1,-0.4 1,-0.5 1,0.1 1,0.5 1,0.4 1,-0.2 1,-0.2 1,-0.1 1,0 1,0 1,0.1 1,0.1 1,0.1 1,0.2 1,0.2 1,0.1 1,0.1 1,0.1 1,0 1,0.1 1,-0.4 1,-0.1 1,0.3 1,0.2 1,0 1,-0.2 1,-0.1 1,0.2 1,0 1,-0.3 1,-0.2 1,0 1,0 1,-0.1 1,-0.1 1,0 1,0.2 1,0.1 1,-0.1 1,-0.1 1,0.2 1,0.1 1,-0.2 1,-0.3 1,0 1,0 1,-0.1 1,0 1,0.2 1,-0.1 1,0 1,0.5 1,0.2 1,-0.1 1,0 1,0.1 1,-0.1 1,-0.2 1,0 1,0.1 1,0 1,0 1,0 1,0 1,-0.1 1,0 1,0.1 1,0 1,-0.3 1,0.1 1,0.2 1,0.3 1,0.3 1,-0.2 1,-0.5 1,-0.4 1,-0.1 1,0.2 1,0.5 1,0.3 1,-0.1 1,-0.4 1,-0.4 1,-0.4 1,-0.4 1,-0.3 1,-0.2 1,-0.2 1,0 1,0.2 1,0.2 1,-0.1 1,-0.3 1,-0.3 1,-0.1 1,-0.1 1,-0.3 1,0.1 1,0.3 1,0.3 1,0 1,0 1,0.1 1,-0.1 1,-0.2 1,0 1,0.1 1,0 1,0.1 1,0 1,0 1,0.2 1,0.1 1,-0.1 1,-0.3 1,0 1,0.1 1,-0.1 1,-0.2 1,-0.3 1,0.1 1,0.3 1,0.3 1,0.2 1,0 1,-0.3 1,-0.3 1,0 1,0.3 1,0.1 1,-0.1 1,-0.2 1,-0.1 1,0.1 1,0.1 1,0.2 1,0.4 1,0.4 1,0.1 1,0 1,0.2 1,-0.1 1,-0.4 1,-0.2 1,-0.4 1,-0.3 1,-0.1 1,-0.1 1,-0.3 1,-0.1 1,0.3 1,0.4 1,0.3 1,0.1 1,0.1 1,-0.1 1,-0.1 1,0 1,0.1 1,0.1 1,-0.2 1,0 1,0.3 1,0.2 1,-0.1 1,-0.2 1,0 1,0.2 1,0.2 1,0.2 1,0.1 1,-0.2 1,-0.4 1,-0.2 1,0.1 1,0.2 1,0.1 1,0 1,-0.2 1,0 1,0.3 1,-0.1 1,-0.4 1,-0.1 1,-0.1 1,0 1,-0.1 1,-0.2 1,0.1 1,0.2 1,0 1,0 1,0.1 1,0.1 1,0.1 1,0.1 1,0 1,-0.1 1,-0.2 1,-0.2 1,0.1 1,0.1 1,0 1,-0.1 1,-0.2 1,-0.1 1,0.2 1,0.4 1,0.2 1,0.1 1,0.2 1,0.3 1,0.1 1,-0.2 1,-0.4 1,-0.4 1,-0.2 1,-0.4 1,-0.4 1,0.1 1,0.6 1,0.5 1,0.4 1,0 1,-0.3 1,-0.4 1,-0.3 1,0.1 1,0.2 1,0.2 1,0.2 1,0.1 1,-0.1 1,-0.1 1,0 1,0.2 1,-0.1 1,-0.3 1,-0.1 1,0.2 1,0.1 1,0.3 1,0.2 1,-0.1 1,-0.2 1,-0.4 1,-0.3 1,0.1 1,0.2 1,0 1,-0.3 1,0 1,0.1 1,0 1,-0.1 1,-0.2 1,-0.1 1,0.2 1,0 1,-0.8 1,-1.8 1,-2.1 1,-2.2 1,-3.4 1,-4.5 1,-5.1 1,-4.8 1,-3.2 1,-1.1 1,1.1 1,3 1,4.3 1,4.8 1,4.7 1,3.8 1,2.4 1,1.9 1,1.6 1,1.3 1,0.6 1,0.4 1,0.3 1,0.1 1,-0.2 1,-0.5 1,0 1,0.1 1,-0.1 1,-0.3 1,-0.3 1,-0.2 1,0.1 1,0.1 1,0.1 1,0.1 1,-0.1 1,0 1,0.1 1,0.4 1,0.2 1,0 1,-0.1 1,-0.2 1,-0.3 1,-0.3 1,0.3 1,0.2 1,0.1 1,0 1,-0.4 1,-0.5 1,-0.1 1,0.3 1,0.3 1,0.1 1,0.2 1,0.3 1,0.2 1,0.1 1,-0.1 1,0.1 1,0 1,-0.2 1,-0.4 1,-0.2 1,0.1 1,0.3 1,0.3 1,-0.2 1,-0.1 1,0 1,0.3 1,0 1,0 1,-0.1 1,-0.2 1,0 1,0.1 1,0 1,-0.4 1,-0.2 1,0 1,0 1,-0.1 1,0 1,0.2 1,0.2 1,-0.1 1,-0.1 1,0.4 1,0.3 1,0.1 1,0 1,-0.2 1,-0.3 1,0.1 1,0.4 1,0.1 1,-0.2 1,-0.3 1,0 1,0.1 1,0.1 1,0 1,0 1,0 1,0 1,-0.1 1,-0.1 1,-0.2 1,-0.1 1,-0.1 1,-0.1 1,-0.1 1,0.1 1,0.2 1,0.2 1,0.1 1,-0.2 1,-0.2 1,0.2 1,0.2 1,0.1 1,0.1 1,-0.3 1,-0.4 1,-0.1 1,0.1 1,0 1,0.2 1,0.4 1,0.1 1,-0.2 1,0 1,0.1 1,-0.2 1,-0.2 1,0 1,0.2 1,-0.1 1,-0.3 1,-0.3 1,0 1,0.1 1,0.1 1,0.3 1,0.2 1,0 1,0.1 1,0 1,0.1 1,0 1,-0.2 1,-0.1 1,-0.2 1,-0.4 1,-0.3 1,-0.1 1,0.2 1,0.4 1,0.3 1,0.1 1,-0.1 1,-0.1 1,0 1,0.1 1,0 1,0 1,0 1,0.1 1,0.1 1,-0.1 1,-0.3 1,-0.1 1,0.1 1,0.1 1,-0.1 1,-0.3 1,-0.1 1,0.1 1,0.2 1,0.1 1,0.2 1,-0.1 1,0.1 1,0.1 1,0 1,-0.5 1,-0.2 1,0 1,0.2 1,0.3 1,0.3 1,0.3 1,-0.2 1,-0.3 1,0 1,0.2 1,0 1,0 1,-0.2 1,-0.1 1,0.1 1,0.1 1,-0.3 1,-0.5 1,-0.5 1,0.1 1,0.5 1,0.5 1,0.4 1,0.1 1,-0.1 1,0 1,0 1,-0.2 1,-0.2 1,-0.2 1,0.1 1,0.3 1,0.2 1,0.1 1,-0.1 1,-0.3 1,-0.3 1,0.2 1,0.3 1,-0.2 1,-0.2 1,-0.1 1,-0.2 1,0.1 1,0.4 1,0.3 1,0 1,-0.3 1,-0.4 1,-0.1 1,0.1 1,0.1 1,0 1,0.1 1,0.1 1,0.1 1,0 1,0.4 1,0.4 1,0 1,-0.3 1,-0.3 1,-0.4 1,-0.6 1,-0.3 1,0.1 1,0.4 1,0.2 1,0.1 1,0.1 1,0.1 1,-0.1 1,-0.2 1,0 1,0.1 1,0.4 1,0.2 1,-0.3 1,-0.5 1,0 1,0.2 1,0.1 1,0 1,-0.2 1,-0.4 1,0 1,0.1 1,0 1,0 1,0.3 1,0.1 1,0.1 1,0.1 1,0 1,-0.2 1,-0.2 1,-0.1 1,0.1 1,-0.1 1,0 1,0.1 1,0.2 1,0.2 1,-0.1 1,-0.1 1,0 1,0 1,-0.1 1,-0.6 1,-0.6 1,-0.1 1,0.3 1,0.2 1,-0.5 1,-0.8 1,-0.8 1,-0.6 1,-0.3 1,-0.5 1,-1 1,-1.1 1,-0.4 1,-0.8 1,-1.5 1,-1.6 1,-2.7 1,-3.8 1,-2.7 1,-1.7 1,-2.7 1,-3.3 1,-3.2 1,-2.8 1,-2.7 1,-3.5 1,-4.4 1,-4.2 1,-3.3 1,-2.5 1,-2.8 1,-3.3 1,-3.6 1,-2.6 1,-1.7 1,-2.1 1,-2.5 1,-2.4 1,-1.6 1,-0.8 1,-1.6 1,-1.9 1,-1.2 1,-1.1 1,-1.6 1,-1.4 1,0 1,0.1 1,-0.5 1,-0.9 1,-0.7 1,-0.3 1,0.1 1,0.2 1,0.1 1,0.6 1,1.3 1,0.3 1,-0.7 1,-0.4 1,0.1 1,0.2 1,-0.3 1,-0.2 1,0.5 1,0.3 1,-0.3 1,-0.1 1,0 1,-0.9 1,-1.7 1,-2.1 1,-2.6 1,-1.9 1,-1 1,-1.4 1,-2.2 1,-2.3 1,-1.8 1,-1.9 1,-3.5 1,-5.1 1,-3.7 1,-2 1,-2.8 1,-4 1,-4.3 1,-4.7 1,-5.5 1,-6.3 1,-6.2 1,-6.1 1,-6.9 1,-8.2 1,-8.3 1,-6.6 1,-5.4 1,-5.9 1,-5.9 1,-5.1 1,-5.4 1,-4.8 1,-3.9 1,-4.3 1,-4.2 1,-4.2 1,-4.4 1,-3.2 1,-0.9 1,0.8 1,0.5 1,1.6 1,2 1,1.6 1,1.1 1,1.9 1,3.5 1,4.9 1,5.8 1,6.8 1,6.8 1,6.1 1,6.4 1,6.4 1,5.5 1,5.2 1,5.3 1,5.7 1,6.2 1,5.7 1,4 1,3 1,2.3 1,2 1,2.4 1,2.9 1,1.9 1,2 1,3.4 1,3.7 1,3 1,1.9 1,1.3 1,1.3 1,2.1 1,2.5 1,2.1 1,1.7 1,1.6 1,1.5 1,1.2 1,1.4 1,1.8 1,2.1 1,1.7 1,1.3 1,1.6 1,0.7 1,-0.5 1,0.8 1,1.9 1,1.7 1,2.5 1,1.4 1,-0.1 1,0.3 1,0.9 1,1.3 1,1.5 1,0.4 1,-0.4 1,1.2 1,2.1 1,1.3 1,1.4 1,2 1,1.7 1,1.3 1,1.4 1,1.2 1,0.8 1,0.8 1,0.8 1,0.4 1,0.4 1,-0.1 1,-0.5 1,0.5 1,1.2 1,0 1,-0.2 1,0.4 1,0.2 1,-0.2 1,0.8 1,1.4 1,0.8 1,-0.1 1,-0.6 1,-0.9 1,-0.2 1,0.9 1,1.5 1,0.9 1,-0.5 1,-0.7 1,0.1 1,0.3 1,-0.4 1,-0.3 1,-0.9 1,-1.9 1,-1.1 1,0.5 1,0.5 1,0.2 1,-0.5 1,-1.4 1,-1.3 1,-0.9 1,-0.4 1,0.1 1,0 1,-0.6 1,-0.6 1,-0.7 1,-0.5 1,0.1 1,-0.1 1,-0.8 1,-1.2 1,-0.7 1,-1.1 1,-1.6 1,-1.6 1,-1 1,-0.4 1,-1.1 1,-1.7 1,-0.9 1,-0.6 1,-1.4 1,-1 1,0.2 1,0.2 1,0.2 1,1 1,0.9 1,0.1 1,0 1,0.3 1,0.8 1,1.2 1,0.9 1,0.4 1,-1 1,-1.3 1,-0.2 1,1.5 1,1.8 1,1 1,0.5 1,0.2 1,-0.1 1,0.7 1,0.9 1,0.3 1,0.8 1,1.3 1,2 1,1.5 1,0.6 1,0.6 1,0.8 1,1 1,1.2 1,1.5 1,0.8 1,-0.3 1,0.1 1,0.4 1,-0.2 1,0.1 1,0.2 1,0.8 1,1.6 1,0.8 1,0.2 1,0.1 1,-0.4 1,-0.5 1,0.2 1,0.7 1,0.7 1,0.6 1,0.8 1,0.8 1,-0.1 1,-0.8 1,-0.9 1,-0.2 1,0.7 1,0.7 1,0 1,-0.6 1,-0.3 1,0.4 1,1.2 1,1.4 1,0.5 1,0.2 1,0.8 1,-0.2 1,-1 1,-1.1 1,-0.2 1,0.3 1,0.3 1,-0.2 1,-0.1 1,0.8 1,1.4 1,0.6 1,-1 1,-0.9 1,0.3 1,1.4 1,1.2 1,0 1,-0.2 1,-0.3 1,-1.2 1,-1.2 1,-0.5 1,0.3 1,0.7 1,0.8 1,-0.2 1,-1.2 1,-0.7 1,0.3 1,0.5 1,0.3 1,-0.4 1,-0.9 1,-0.9 1,-0.6 1,0.1 1,0.3 1,-0.6 1,-1.1 1,0 1,0.3 1,-0.2 1,-1.1 1,-2.1 1,-1.5 1,0 1,0.5 1,0.1 1,-1.1 1,-1.2 1,-0.5 1,-0.3 1,-0.5 1,-1 1,-1.4 1,-0.6 1,0.8 1,1.2 1,0 1,-1.7 1,-2.5 1,-1.7 1,-0.4 1,-0.7 1,-2.1 1,-2.4 1,-1.5 1,-1.8 1,-2.4 1,-1.2 1,-0.3 1,-1 1,-1.4 1,-1.3 1,-1.3 1,-0.8 1,-0.6 1,-0.4 1,0.9 1,1.6 1,0.7 1,1 1,1.1 1,0.3 1,-0.9 1,-0.5 1,1.4 1,1.5 1,1.5 1,1.7 1,1.4 1,0.3 1,1.2 1,1.7 1,0.8 1,0.9 1,0.5 1,-0.5 1,-0.5 1,0.6 1,0.9 1,0.4 1,0.6 1,0.9 1,1 1,0.9 1,1.2 1,0.6 1,-0.2 1,0.2 1,0.1 1,-0.1 1,0.4 1,1 1,0.6 1,0.1 1,0.5 1,0.8 1,0 1,-0.5 1,-0.5 1,-0.1 1,1.2 1,1.4 1,0 1,-0.9 1,-1.1 1,-0.8 1,-0.2 1,0.7 1,0 1,-1 1,-0.7 1,-0.1 1,0.5 1,0.3 1,-0.6 1,-1.5 1,-1 1,-0.5 1,-1 1,-1.1 1,-0.4 1,-0.3 1,-1.3 1,-2.1 1,-2 1,-2.3 1,-2.6 1,-2.2 1,-1.9 1,-2.9 1,-3.9 1,-4.3 1,-4.2 1,-3.8 1,-3.2 1,-3.6 1,-4.3 1,-4.9 1,-4.5 1,-2.9 1,-3.7 1,-6.5 1,-7 1,-6.5 1,-5.6 1,-5.3 1,-4.8 1,-3.7 1,-3.6 1,-4.5 1,-4.1 1,-1.9 1,-0.2 1,1.1 1,3.1 1,4.2 1,5.5 1,6.1 1,7 1,7.9 1,7.4 1,6 1,7.5 1,9 1,9.2 1,7 1,4.8 1,4.1 1,3.8 1,2.9 1,2.1 1,2.3 1,2.8 1,3 1,2.9 1,2.2 1,1.7 1,2 1,2.8 1,1 1,-1.3 1,-0.9 1,0.5 1,0.4 1,0.3 1,0.3 1,0.2 1,0.1 1,0.7 1,0.9 1,0.7 1,1.1 1,1.3 1,0.8 1,0.1 1,-0.9 1,-0.7 1,0.9 1,1 1,-0.2 1,0 1,0.6 1,0 1,-0.5 1,0.2 1,0.6 1,0 1,0 1,0.7 1,0.7 1,0.3 1,-0.3 1,-0.4 1,0.3 1,0.8 1,0.5 1,-0.4 1,-0.1 1,0.6 1,0.7 1,0.4 1,-0.1 1,0.2 1,0.2 1,-0.2 1,0.1 1,-0.1 1,-0.9 1,-0.9 1,0.1 1,-0.1 1,0.2 1,0.7 1,0.4 1,0.6 1,0.6 1,0.1 1,0 1,0.3 1,0 1,-0.6 1,-1.3 1,-0.9 1,-0.1 1,0.6 1,0.7 1,-0.5 1,0.1 1,1.4 1,0.8 1,-0.1 1,0.2 1,0.5 1,0.8 1,0.4 1,-0.3 1,-0.7 1,-0.8 1,0 1,0.3 1,-0.1 1,-0.7 1,-0.8 1,-0.4 1,0 1,-0.2 1,0.5 1,0.8 1,0 1,-1.1 1,-0.4 1,0.8 1,0.7 1,0.2 1,0.3 1,0.8 1,0.6 1,0.4 1,0.5 1,0.5 1,0.1 1,0.1 1,-0.8 1,-1.5 1,-0.7 1,0.5 1,1.1 1,1.8 1,2.3 1,0.2 1,-0.8 1,-1.2 1,-0.4 1,-0.6 1,0.1 1,-0.1 1,-0.3 1,0.4 1,1 1,0.7 1,-0.5 1,-0.7 1,-0.3 1,0.4 1,0.8 1,0.1 1,0.2 1,0.1 1,-0.9 1,-1.2 1,-0.9 1,0.1 1,0 1,-0.5 1,0.5 1,1.2 1,0.7 1,-0.1 1,-0.6 1,0.4 1,1 1,-0.5 1,-0.9 1,-0.6 1,0.2 1,0.6 1,0.8 1,1.2 1,0.4 1,-0.9 1,-0.9 1,-0.2 1,-0.3 1,-0.3 1,-0.2 1,-1.1 1,-1.5 1,-0.1 1,0.4 1,-0.4 1,0.2 1,1.2 1,1.2 1,0.7 1,-0.5 1,-1.7 1,-1.4 1,0.4 1,1.4 1,0.1 1,-0.9 1,-0.2 1,0.7 1,0.7 1,-0.9 1,-0.9 1,0.2 1,0.9 1,1.3 1,1.5 1,0.6 1,-0.6 1,-1.1 1,-1.4 1,-0.9 1,0.5 1,0.3 1,-0.6 1,-0.5 1,0 1,0.7 1,0.6 1,-0.4 1,-0.4 1,0.5 1,0.9 0.5,0.3 0,13.4 -0.5,-0.1 -1,0.2 -1,0.1 -1,-0.5 -1,-0.6 -1,-0.1 -1,0.3 -1,-0.2 -1,-0.2 -1,-0.6 -1,-0.2 -1,0 -1,0.8 -1,1.5 -1,0.9 -1,-0.9 -1,-1.3 -1,-0.5 -1,0.1 -1,-0.3 -1,-1 -1,-0.2 -1,0.5 -1,0.3 -1,-0.2 -1,-0.3 -1,-0.3 -1,0.2 -1,0.9 -1,0.7 -1,-0.3 -1,0.3 -1,1 -1,-0.7 -1,-1.6 -1,0.4 -1,1.4 -1,0 -1,-0.9 -1,-0.2 -1,1 -1,0.4 -1,0 -1,0.1 -1,-0.4 -1,0 -1,0.6 -1,0.5 -1,0.1 -1,0.1 -1,0.2 -1,0.2 -1,-0.4 -1,-0.7 -1,-0.3 -1,0.2 -1,-0.3 -1,-0.4 -1,0.2 -1,0.6 -1,0.1 -1,-0.4 -1,-0.7 -1,-0.4 -1,0.2 -1,0.3 -1,1.1 -1,1.3 -1,0.7 -1,-0.2 -1,-0.4 -1,-0.3 -1,-0.4 -1,-0.1 -1,0.1 -1,-0.3 -1,-0.5 -1,-0.3 -1,-0.4 -1,-0.7 -1,-0.1 -1,0.8 -1,1 -1,0.3 -1,-0.2 -1,0.6 -1,0.4 -1,-0.7 -1,-0.8 -1,-1 -1,-1.3 -1,-0.4 -1,0.1 -1,-0.1 -1,0.1 -1,1 -1,0.7 -1,-0.5 -1,-0.6 -1,-0.1 -1,-0.4 -1,-0.1 -1,0.6 -1,0.2 -1,-0.7 -1,-0.3 -1,-0.1 -1,0.2 -1,0.5 -1,0 -1,-0.5 -1,-1 -1,-1.4 -1,-0.7 -1,0.6 -1,1.2 -1,0.9 -1,1 -1,1 -1,0.2 -1,-0.8 -1,-0.7 -1,0.2 -1,1 -1,0.2 -1,-1 -1,-1.3 -1,-1.3 -1,-1.7 -1,-0.5 -1,0.5 -1,0.1 -1,0.3 -1,0.9 -1,0.9 -1,0.9 -1,1 -1,-0.4 -1,-0.6 -1,-0.3 -1,-1.4 -1,-1.7 -1,-0.9 -1,0.5 -1,1.6 -1,0.9 -1,-0.6 -1,-0.5 -1,0 -1,1 -1,0.4 -1,-0.5 -1,-0.3 -1,1.1 -1,1.5 -1,0 -1,-1.1 -1,-1.3 -1,-1.3 -1,-0.8 -1,0.3 -1,1.1 -1,0.1 -1,-1.9 -1,-1.8 -1,0.1 -1,1.3 -1,0.8 -1,-0.2 -1,-0.9 -1,-0.6 -1,0 -1,-0.1 -1,0.3 -1,1.3 -1,0.6 -1,-0.8 -1,-1.4 -1,-0.4 -1,1 -1,0.6 -1,-0.7 -1,-1.2 -1,-0.7 -1,-0.3 -1,-0.8 -1,-0.7 -1,-0.1 -1,-0.5 -1,-1.2 -1,-0.5 -1,-0.1 -1,-1.4 -1,-1.1 -1,1 -1,1.4 -1,-0.2 -1,-1.5 -1,-2.2 -1,-2.4 -1,-2 -1,-2.4 -1,-3 -1,-3.5 -1,-3 -1,-2.7 -1,-3 -1,-3.3 -1,-3.7 -1,-3.8 -1,-3.9 -1,-5.4 -1,-7.4 -1,-8 -1,-8.3 -1,-8.6 -1,-8.5 -1,-7.7 -1,-6.6 -1,-5.8 -1,-5.4 -1,-3.9 -1,-2.4 -1,-0.5 -1,1.1 -1,1.4 -1,2 -1,4 -1,4.7 -1,4.5 -1,4.3 -1,4.6 -1,5.4 -1,6.7 -1,7.1 -1,5.5 -1,3.9 -1,4 -1,4.7 -1,5.2 -1,4.5 -1,3.8 -1,3.4 -1,3.4 -1,3.2 -1,3.6 -1,4.3 -1,3.9 -1,2.8 -1,2 -1,2.2 -1,2 -1,1.6 -1,1 -1,0.8 -1,0.8 -1,0.8 -1,1.4 -1,0.7 -1,0.3 -1,0.6 -1,1 -1,1.3 -1,0.9 -1,0.3 -1,-0.1 -1,-0.1 -1,0 -1,0.4 -1,0.3 -1,0.1 -1,0.6 -1,0.5 -1,0.1 -1,0.1 -1,0.7 -1,0.2 -1,-0.7 -1,-0.3 -1,0.8 -1,0.8 -1,-0.8 -1,-1.3 -1,-0.9 -1,-0.7 -1,-0.2 -1,-0.3 -1,-0.1 -1,0.1 -1,-0.1 -1,-1.1 -1,-1.1 -1,-0.4 -1,-0.1 -1,-0.1 -1,-0.6 -1,-1.2 -1,-1.3 -1,-0.6 -1,0.2 -1,0.5 -1,-0.7 -1,-1.9 -1,-1.4 -1,-0.7 -1,-0.8 -1,-1.3 -1,-1.4 -1,-1.4 -1,-1.3 -1,-0.3 -1,-0.4 -1,-1.2 -1,-0.7 -1,0 -1,-1 -1,-1 -1,-0.4 -1,-0.4 -1,-0.1 -1,0.2 -1,-0.1 -1,-0.2 -1,0.5 -1,0.9 -1,0.7 -1,0.4 -1,1 -1,2.5 -1,2.4 -1,1.2 -1,0.7 -1,2.1 -1,2.7 -1,1.6 -1,0.3 -1,0.3 -1,1.6 -1,2.1 -1,1.8 -1,1 -1,0 -1,-0.2 -1,0.4 -1,1.2 -1,0.1 -1,-0.6 -1,0.4 -1,1.8 -1,2.6 -1,0.5 -1,-0.5 -1,-0.7 -1,0.2 -1,1 -1,1.7 -1,1.6 -1,1.1 -1,0.4 -1,0.1 -1,0.7 -1,0 -1,0.3 -1,-0.1 -1,-0.4 -1,-0.4 -1,0.3 -1,0.1 -1,-0.3 -1,0.3 -1,-0.1 -1,-0.3 -1,0.9 -1,1.1 -1,0 -1,-0.8 -1,-0.7 -1,0.4 -1,0.9 -1,1.2 -1,1.2 -1,0.5 -1,-0.1 -1,-0.6 -1,-0.5 -1,0.1 -1,-0.3 -1,-1.2 -1,-0.7 -1,0.4 -1,-0.2 -1,-0.8 -1,-0.3 -1,-0.2 -1,-0.6 -1,0.3 -1,1.1 -1,0.6 -1,-0.3 -1,-0.6 -1,0.1 -1,0.6 -1,-0.3 -1,-0.8 -1,-0.1 -1,0.9 -1,0.2 -1,-1 -1,-1.2 -1,-0.6 -1,0 -1,0.6 -1,0.6 -1,-0.2 -1,-0.5 -1,-1 -1,-0.6 -1,0.3 -1,-0.1 -1,-0.4 -1,0 -1,0 -1,-0.3 -1,-0.4 -1,-0.7 -1,-1.1 -1,-0.8 -1,-0.5 -1,-0.8 -1,-0.4 -1,-0.6 -1,0.2 -1,0.6 -1,-0.8 -1,-1.4 -1,-0.6 -1,0.5 -1,-0.1 -1,-1.3 -1,-2.3 -1,-2.3 -1,-1.2 -1,-1.3 -1,-1.6 -1,-1.2 -1,-0.3 -1,0.7 -1,0.4 -1,-0.7 -1,-0.6 -1,-0.4 -1,-0.3 -1,-1.1 -1,-1.2 -1,0 -1,0.5 -1,0.6 -1,0.4 -1,-0.6 -1,-1.3 -1,-1.3 -1,-0.9 -1,-1 -1,-0.9 -1,-0.2 -1,0.2 -1,-0.3 -1,0 -1,1.2 -1,1.4 -1,0.7 -1,0.7 -1,1.6 -1,1.5 -1,0.2 -1,0.4 -1,1.2 -1,0.9 -1,1.4 -1,1.8 -1,0.7 -1,0.6 -1,1.5 -1,0.7 -1,-0.2 -1,-0.1 -1,0 -1,0.8 -1,1.7 -1,1.5 -1,0.4 -1,-0.1 -1,-0.2 -1,0.2 -1,0.6 -1,0.4 -1,0.2 -1,0.2 -1,0.2 -1,1.1 -1,1 -1,0.2 -1,0.4 -1,0.4 -1,-0.4 -1,-0.7 -1,-0.3 -1,-0.1 -1,-0.3 -1,-0.2 -1,0.6 -1,0.9 -1,0.5 -1,-0.4 -1,-1.7 -1,-1.1 -1,-0.4 -1,-0.7 -1,-1.3 -1,-0.9 -1,0.5 -1,0.8 -1,0.1 -1,-0.4 -1,-0.5 -1,-0.6 -1,0 -1,0.1 -1,-0.6 -1,-1.2 -1,-1.2 -1,-0.9 -1,-0.5 -1,-1.4 -1,-2.6 -1,-2.2 -1,-0.6 -1,-0.4 -1,-1.2 -1,-1.1 -1,-1 -1,-1.6 -1,-1.2 -1,-0.5 -1,-0.2 -1,0 -1,-0.9 -1,-2.4 -1,-2.3 -1,-1 -1,-0.3 -1,-0.6 -1,-0.7 -1,-1.3 -1,-1.7 -1,-1.9 -1,-2.3 -1,-1.8 -1,-0.9 -1,-0.4 -1,-1.4 -1,-2.4 -1,-2.4 -1,-1.6 -1,-1.6 -1,-2.4 -1,-1.4 -1,-0.7 -1,-2.4 -1,-3.4 -1,-2.5 -1,-1.9 -1,-3.1 -1,-4 -1,-2.6 -1,-1.4 -1,-2.1 -1,-2.2 -1,-2.9 -1,-3.7 -1,-4.8 -1,-5.7 -1,-5.3 -1,-4.5 -1,-4.8 -1,-5.8 -1,-5.5 -1,-5.1 -1,-6 -1,-7.1 -1,-7.3 -1,-6.5 -1,-5.5 -1,-4.8 -1,-3.4 -1,-1.9 -1,-2.2 -1,-3.3 -1,-2.5 -1,-1 -1,-0.6 -1,0.1 -1,1.9 -1,3 -1,3.4 -1,4.2 -1,5.3 -1,4.9 -1,4 -1,3.7 -1,4.1 -1,5.4 -1,6.9 -1,7.6 -1,7 -1,6.4 -1,6.5 -1,6.5 -1,6.8 -1,7 -1,6.9 -1,6.3 -1,5 -1,4.5 -1,3.9 -1,3.3 -1,3.2 -1,3.1 -1,3.1 -1,2.8 -1,3.3 -1,3.7 -1,3.4 -1,2.8 -1,1.9 -1,1.2 -1,1.5 -1,2.5 -1,3 -1,2.1 -1,1 -1,-0.3 -1,0 -1,0.3 -1,0.6 -1,0.1 -1,-0.3 -1,-0.4 -1,-0.7 -1,-0.1 -1,1.2 -1,0 -1,-1.8 -1,-0.3 -1,0.1 -1,0.1 -1,-0.3 -1,0.3 -1,0.2 -1,0.6 -1,1.2 -1,0.6 -1,-0.1 -1,-0.2 -1,0.4 -1,0.8 -1,0.4 -1,1.3 -1,2.5 -1,2 -1,0.7 -1,0.5 -1,1.4 -1,1.9 -1,2.6 -1,2.7 -1,2.3 -1,3 -1,3.8 -1,3.1 -1,2.3 -1,2.1 -1,2.3 -1,3.5 -1,5.1 -1,5.3 -1,3.9 -1,2.8 -1,2.3 -1,1.9 -1,2 -1,2.7 -1,3.3 -1,2.9 -1,2.4 -1,1.9 -1,1.3 -1,1.5 -1,1.4 -1,0.8 -1,1.2 -1,0.9 -1,0.3 -1,0.4 -1,0.2 -1,-0.6 -1,-0.8 -1,-0.5 -1,-0.3 -1,0.1 -1,0.5 -1,0.1 -1,-0.1 -1,-0.1 -1,0.1 -1,0.3 -1,0.2 -1,0.1 -1,-0.1 -1,-0.1 -1,-0.1 -1,-0.2 -1,-0.3 -1,-0.1 -1,0.2 -1,0.6 -1,0.4 -1,-0.2 -1,-0.2 -1,-0.2 -1,-0.2 -1,0 -1,0.1 -1,-0.2 -1,-0.3 -1,0.1 -1,0.1 -1,0.2 -1,0.1 -1,0.2 -1,0 -1,0.2 -1,0.1 -1,-0.3 -1,-0.4 -1,0 -1,0.2 -1,0.1 -1,-0.1 -1,0.2 -1,0 -1,-0.1 -1,0 -1,-0.2 -1,0 -1,0.3 -1,0.2 -1,0 -1,0 -1,0.3 -1,-0.1 -1,-0.1 -1,0 -1,0 -1,-0.1 -1,0 -1,-0.1 -1,-0.4 -1,-0.4 -1,-0.1 -1,0.4 -1,0.4 -1,0 -1,0 -1,-0.1 -1,0 -1,0.3 -1,0.3 -1,0.1 -1,0.1 -1,-0.2 -1,-0.4 -1,-0.2 -1,0.2 -1,0.3 -1,-0.1 -1,-0.2 -1,-0.1 -1,0 -1,0.2 -1,0.2 -1,-0.1 -1,-0.2 -1,0.1 -1,0.2 -1,0.2 -1,-0.2 -1,-0.3 -1,-0.4 -1,-0.4 -1,0 -1,0.2 -1,0.3 -1,0 -1,-0.2 -1,0 -1,0.4 -1,0.2 -1,0 -1,0 -1,0.1 -1,0.1 -1,0.3 -1,0.1 -1,-0.2 -1,-0.4 -1,-0.3 -1,-0.2 -1,-0.1 -1,0.2 -1,0.3 -1,0 -1,0 -1,0.1 -1,-0.1 -1,-0.2 -1,-0.2 -1,-0.1 -1,0 -1,0.1 -1,0.1 -1,0.2 -1,0.3 -1,-0.1 -1,-0.2 -1,0 -1,0 -1,-0.1 -1,-0.1 -1,0.1 -1,0.2 -1,0.1 -1,0.1 -1,0 -1,0 -1,0 -1,0.2 -1,-0.1 -1,-0.1 -1,-0.3 -1,-0.2 -1,-0.1 -1,-0.1 -1,0.1 -1,0.3 -1,0.1 -1,0.2 -1,0.2 -1,0.1 -1,-0.2 -1,-0.2 -1,-0.2 -1,-0.3 -1,0 -1,0 -1,-0.2 -1,-0.1 -1,0.3 -1,0.3 -1,0.1 -1,0 -1,0.2 -1,0.2 -1,0.1 -1,-0.1 -1,0 -1,0.1 -1,-0.1 -1,-0.3 -1,0.1 -1,0.3 -1,0.2 -1,0 -1,-0.2 -1,-0.1 -1,0.3 -1,0.1 -1,-0.1 -1,-0.3 -1,-0.1 -1,0.1 -1,0.1 -1,-0.3 -1,-0.4 -1,-0.2 -1,0 -1,0.2 -1,0.2 -1,-0.1 -1,-0.1 -1,0.1 -1,0.1 -1,-0.1 -1,0.1 -1,0.1 -1,0.2 -1,0.4 -1,0.1 -1,-0.3 -1,-0.4 -1,0.1 -1,0.4 -1,0.2 -1,0.1 -1,0 -1,0 -1,-0.1 -1,-0.4 -1,-0.5 -1,-0.1 -1,-0.1 -1,-0.2 -1,0.1 -1,0.2 -1,0 -1,-0.1 -1,0.1 -1,0.4 -1,0.1 -1,-0.1 -1,0 -1,0.1 -1,0 -1,-0.1 -1,0.1 -1,0 -1,-0.4 -1,0 -1,0.4 -1,0 -1,-0.3 -1,-0.1 -1,0.1 -1,0.4 -1,0.3 -1,-0.2 -1,-0.2 -1,-0.1 -1,0.2 -1,-0.1 -1,-0.1 -1,-0.1 -1,-0.1 -1,-0.2 -1,-0.3 -1,-0.1 -1,0.3 -1,0.2 -1,0.1 -1,0 -1,0 -1,0 -1,0 -1,0.1 -1,0.1 -1,0.3 -1,0.1 -1,-0.1 -1,-0.1 -1,-0.1 -1,-0.1 -1,-0.1 -1,0 -1,-0.2 -1,-0.3 -1,0 -1,0.1 -1,0.1 -1,0.3 -1,0.4 -1,0.1 -1,0.1 -1,-0.4 -1,-0.2 -1,0.2 -1,0.1 -1,-0.1 -1,-0.3 -1,-0.4 -1,-1.3 -1,-1.5 -1,-1.8 -1,-2.2 -1,-3.8 -1,-4.7 -1,-5.1 -1,-4.6 -1,-3 -1,-1 -1,1.3 -1,3.1 -1,4.5 -1,5.1 -1,4.8 -1,3.8 -1,2.2 -1,2 -1,1.6 -1,1 -1,0 -1,-0.4 -1,-0.3 -1,0.2 -1,0.4 -1,0.3 -1,0.3 -1,0.1 -1,0 -1,0.1 -1,-0.1 -1,-0.2 -1,-0.1 -1,-0.1 -1,0.1 -1,0.2 -1,0.1 -1,0 -1,-0.1 -1,-0.1 -1,-0.2 -1,-0.2 -1,0.2 -1,0.2 -1,0.1 -1,0 -1,0 -1,0.1 -1,-0.1 -1,-0.1 -1,0.1 -1,0.1 -1,0 -1,0 -1,-0.1 -1,-0.4 -1,-0.4 -1,-0.1 -1,0.1 -1,0.1 -1,0.1 -1,0.1 -1,0.1 -1,0.4 -1,0.5 -1,0.1 -1,-0.2 -1,-0.1 -1,0.2 -1,0 -1,-0.2 -1,-0.4 -1,-0.3 -1,0 -1,-0.1 -1,0.2 -1,0.4 -1,0 -1,-0.1 -1,0 -1,-0.2 -1,-0.2 -1,-0.1 -1,0.1 -1,0 -1,-0.1 -1,0 -1,0 -1,0 -1,-0.1 -1,-0.3 -1,-0.2 -1,0.1 -1,0.3 -1,0.3 -1,0.1 -1,-0.2 -1,0.1 -1,0.3 -1,0 -1,-0.1 -1,0 -1,0.2 -1,0 -1,-0.1 -1,0 -1,0.1 -1,0.2 -1,0 -1,-0.2 -1,0.1 -1,0.1 -1,-0.1 -1,-0.1 -1,0 -1,-0.3 -1,-0.3 -1,-0.2 -1,0.1 -1,0.1 -1,0.2 -1,0.1 -1,-0.2 -1,-0.2 -1,-0.1 -1,-0.2 -1,-0.2 -1,0 -1,0.1 -1,0.2 -1,0.2 -1,0.1 -1,0 -1,0.1 -1,0.4 -1,0.1 -1,-0.2 -1,0.1 -1,0.3 -1,0 -1,-0.3 -1,-0.1 -1,0 -1,0 -1,0 -1,0.1 -1,-0.1 -1,-0.2 -1,-0.2 -1,-0.1 -1,-0.1 -1,-0.1 -1,0 -1,0.3 -1,0.2 -1,-0.2 -1,-0.3 -1,-0.2 -1,-0.1 -1,0.1 -1,0.2 -1,0.1 -1,0 -1,0 -1,-0.2 -1,0.2 -1,0.4 -1,0.3 -1,-0.1 -1,-0.2 -1,-0.2 -1,0.1 -1,0.3 -1,0 -1,-0.3 -1,-0.2 -1,0.1 -1,0.2 -1,0 -1,-0.3 -1,-0.2 -1,-0.3 -1,-0.2 -1,0.3 -1,0.5 -1,0.3 -1,0.2 -1,0.1 -1,-0.1 -1,-0.2 -1,0 -1,0 -1,0 -1,0.3 -1,0.3 -1,0.3 -1,0.3 -1,0.2 -1,-0.1 -1,-0.1 -1,0.2 -1,0.1 -1,0.1 -1,0.3 -1,0.1 -1,0 -1,-0.2 -1,-0.2 -1,-0.3 -1,-0.1 -1,0.1 -1,0 -1,0 -1,-0.1 -1,0 -1,0 -1,0 -1,0.4 -1,0.3 -1,0 -1,-0.5 -1,-0.2 -1,0.2 -1,0.2 -1,0 -1,-0.2 -1,-0.2 -1,0 -1,0 -1,0 -1,-0.1 -1,0 -1,0.2 -1,0.1 -1,-0.1 -1,-0.3 -1,0 -1,0.3 -1,0.4 -1,0.1 -1,0.1 -1,-0.1 -1,-0.1 -1,-0.1 -1,-0.1 -1,-0.1 -1,0.1 -1,0.3 -1,0.2 -1,0 -1,-0.2 -1,-0.3 -1,0 -1,0 -1,0 -1,0.2 -1,0.2 -1,0.1 -1,0.1 -1,-0.1 -1,0 -1,-0.1 -1,0 -1,0.3 -1,0 -1,-0.4 -1,-0.3 -1,0 -1,-0.1 -1,-0.1 -1,0.1 -1,-0.1 -1,-0.2 -1,-0.1 -1,0 -1,0.2 -1,-0.1 -1,-0.2 -1,0 -1,0.3 -1,0.3 -1,0.1 -1,0.3 -1,0.2 -1,-0.1 -1,-0.4 -1,-0.3 -1,-0.2 -1,0.3 -1,0.3 -1,0.3 -1,0.1 -1,-0.1 -1,-0.3 -1,-0.2 -1,-0.3 -1,-0.1 -1,0.3 -1,0.1 -1,-0.1 -1,0.2 -1,0.5 -1,0.1 -1,-0.3 -1,-0.2 -1,-0.3 -1,-0.3 -1,-0.2 -1,-0.2 -1,-0.4 -1,-0.6 -1,-0.5 -1,-0.1 -1,-0.4 -1,-0.5 -1,0.2 -1,0.6 -1,-0.3 -1,-0.9 -1,-1.1 -1,-1.1 -1,-1.4 -1,-1.7 -1,-1.2 -1,-1.4 -1,-1.9 -1,-2.7 -1,-2.5 -1,-2.5 -1,-3.1 -1,-2.7 -1,-1.8 -1,-0.9 -1,-1.1 -1,-1.7 -1,-1.5 -1,-1.2 -1,-0.8 -1,0.1 -1,0.4 -1,0.7 -1,0.6 -1,-0.3 -1,-1.2 -1,-0.9 -1,0.7 -1,1 -1,-0.4 -1,-1.5 -1,-1 -1,0.7 -1,2 -1,1.1 -1,-0.1 -1,0 -1,0.5 -1,0.2 -1,0.1 -1,-0.2 -1,-0.7 -1,-1 -1,-1 -1,-1.3 -1,-1.2 -1,-1.6 -1,-2.2 -1,-1.5 -1,-1.2 -1,-2.2 -1,-2.3 -1,-0.9 -1,-0.2 -1,-0.2 -1,-0.8 -1,-1.9 -1,-2.9 -1,-2.8 -1,-2.1 -1,-2.3 -1,-2.9 -1,-4 -1,-4.2 -1,-3.2 -1,-3.1 -1,-2.7 -1,-1.8 -1,-2.3 -1,-3.1 -1,-2.4 -1,-1.7 -1,-3.1 -1,-4 -1,-5.5 -1,-4.9 -1,-4.1 -1,-5.1 -1,-5.2 -1,-3.6 -1,-3.6 -1,-4.1 -1,-3.1 -1,-1.6 -1,-2.1 -1,-2.6 -1,-1.4 -1,0 -1,0.4 -1,0.3 -1,0.8 -1,1.7 -1,1.7 -1,1.7 -1,2.4 -1,3 -1,2.9 -1,3 -1,3.4 -1,2.7 -1,3.1 -1,3.6 -1,4.1 -1,5.1 -1,5.6 -1,4.8 -1,4.5 -1,4.6 -1,3.5 -1,3.1 -1,4 -1,3.6 -1,2.4 -1,1.4 -1,1.2 -1,2.2 -1,3.4 -1,3.4 -1,1.8 -1,0.5 -1,0.5 -1,1.3 -1,1.5 -1,2.3 -1,1.5 -1,0.7 -1,1.6 -1,2.2 -1,2.2 -1,0.9 -1,0.2 -1,0.7 -1,0.6 -1,0.6 -1,1.3 -1,1 -1,0.2 -1,-0.2 -1,-0.1 -1,0.2 -1,0.5 -1,1.2 -1,1.1 -1,0 -1,-0.9 -1,0.3 -1,1.6 -1,0.7 -1,-0.3 -1,0.2 -1,0.5 -1,1.1 -1,0.8 -1,0.6 -1,0.9 -1,1.3 -1,0.9 -1,0.4 -1,0.9 -1,0.2 -1,-0.5 -1,0.2 -1,0.3 -1,-0.3 -1,-0.3 -1,0.6 -1,0.6 -1,0.5 -1,0.8 -1,0.8 -1,-0.1 -1,-0.3 -1,0.1 -1,0.2 -1,-0.2 -1,-0.2 -1,-0.6 -1,-0.1 -1,0.9 -1,0.5 -1,-0.8 -1,-0.7 -1,0.7 -1,1 -1,0.4 -1,0.4 -1,0 -1,-0.6 -1,-0.6 -1,-0.2 -1,0.3 -1,1.3 -1,1.4 -1,-0.5 -1,-1.6 -1,-0.9 -1,-0.5 -1,-0.1 -1,0 -1,0.3 -1,0.3 -1,0.1 -1,0.1 -1,-0.6 -1,-0.5 -1,0.1 -1,-0.2 -1,-0.5 -1,-0.3 -1,0.1 -1,-0.2 -1,-0.2 -1,-0.2 -1,-1.3 -1,-1.2 -1,-0.6 -1,-0.4 -1,0.2 -1,0.2 -1,0 -1,-0.4 -1,0.1 -1,0.8 -1,-0.1 -1,-0.6 -1,-0.1 -1,0.2 -1,0.1 -1,1.1 -1,2.1 -1,-0.2 -1,-2.3 -1,-0.8 -1,0.9 -1,0.6 -1,-0.2 -1,-0.3 -1,0.5 -1,0.7 -1,0.1 -1,-0.3 -1,-0.1 -1,0.3 -1,-0.1 -1,-0.2 -1,0.5 -1,1.3 -1,1.6 -1,0.8 -1,-0.7 -1,-0.4 -1,0.7 -1,1.4 -1,1.2 -1,-0.1 -1,-0.7 -1,0.1 -1,1 -1,0.7 -1,-0.3 -1,-0.4 -1,0.9 -1,1.5 -1,0.6 -1,-0.3 -1,-0.4 -1,0 -1,0.7 -1,0.6 -1,-0.3 -1,-1 -1,-1 -1,0.2 -1,1.7 -1,1 -1,-0.2 -1,-0.6 -1,-0.5 -1,-0.3 -1,0 -1,-0.1 -1,0 -1,0.9 -1,0.6 -1,-0.2 -1,0.8 -1,0.4 -1,-1.1 -1,-1 -1,0.9 -1,0.9 -1,0 -1,-0.1 -1,-0.3 -1,-0.4 -1,0.8 -1,2 -1,0.5 -1,-0.1 -1,0.1 -1,0.2 -1,0.1 -1,0.3 -1,1.4 -1,1.2 -1,0.9 -1,-0.8 -1,-1.3 -1,-0.5 -1,-0.6 -1,-1 -1,-0.7 -1,-0.1 -1,0.2 -1,0 -1,-0.1 -1,0.8 -1,0.9 -1,-1 -1,-1.6 -1,0.2 -1,1.1 -1,0.5 -1,0.5 -1,0.8 -1,0 -1,-1 -1,-1.3 -1,-0.4 -1,0.2 -1,0 -1,0.1 -1,0.4 -1,0.2 -1,0 -1,0.4 -1,0.1 -1,0.2 -1,-0.3 -1,-0.8 -1,-0.8 -1,-0.1 -1,1.1 -1,1.3 -1,0.6 -1,0 -1,0.1 -1,-0.5 -1,-1.6 -1,-1.3 -1,0.1 -1,0.3 -1,-0.3 -1,-0.7 -1,-0.6 -1,0.3 -1,0.4 -1,-0.2 -1,0.1 -1,1.3 -1,0.7 -1,0.2 -1,-0.3 -1,0.2 -1,0.1 -1,-0.3 -1,-1 -1,-1 -1,-0.4 -1,-0.3 -1,0.2 -1,0.5 -1,0.8 -1,0.7 -1,0.2 -1,-0.1 -1,-0.7 -1,-0.6 -1,-0.1 -1,-0.1 -1,0.6 -1,1.3 -1,0.8 -1,0.6 -1,0.5 -1,-0.1 -1,0 -1,0.2 -1,0.2 -1,0.3 -1,0.2 -1,-0.4 -1,0 -1,0.6 -1,0.8 -1,0.7 -1,0.5 -1,0.4 -1,-0.1 -1,-0.7 -1,-1.4 -1,-0.3 -1,0.9 -1,0.9 -1,0.2 -1,-0.7 -1,-0.7 -1,-0.1 -1,0.1 -1,0.5 -1,0.8 -1,0 -1,-0.6 -1,-0.6 -1,-0.5 -1,-0.5 -1,-0.3 -1,-0.3 -1,0.4 -1,1.5 -1,1.3 -1,0.2 -1,-0.8 -1,-0.9 -1,-1 -1,-0.7 -1,0.4 -1,0.6 -1,0.4 -1,0.7 -1,0.2 -1,-0.1 -1,0.1 -1,0.6 -1,0.8 -1,-0.6 -1,-1.5 -1,-1.2 -1,-0.5 -1,0.3 -1,1.1 -1,-0.2 -1,-1.5 -1,-1.6 -1,-0.1 -1,0 -1,-0.6 -1,-0.3 -1,0.1 -1,-0.8 -1,-0.9 -1,-0.1 -1,0.2 -1,0.1 -1,-0.1 -1,-0.1 -1,-1 -1,-0.9 -1,-0.4 -1,-0.9 -1,-1.2 -1,0 -1,0.8 -1,0.2 -1,-0.2 -1,-0.3 -1,-0.2 -1,0.2 -1,0.9 -1,1.6 -1,1.5 -1,0.5 -1,0.2 -1,1 -1,0.8 -1,0 -1,0.1 -1,0.3 -1,0.2 -1,0.1 -1,0.7 -1,1.5 -1,0.9 -1,-0.2 -1,-0.5 -1,-0.4 -1,-0.1 -1,0.5 -1,0.8 -1,-0.1 -1,-0.8 -1,-0.1 -1,1.4 -1,1.3 -1,-0.3 -1,-0.7 -1,0.6 -1,0.8 -1,-0.4 -1,-0.8 -1,-0.2 -1,0.3 -1,1 -1,1 -1,0.7 -1,0.9 -1,0.8 -1,-0.1 -1,-0.4 -1,0 -1,0.1 -1,-0.5 -1,-0.4 -1,0.2 -1,0.7 -1,-0.1 -1,-0.3 -1,0 -1,-0.8 -1,-1.1 -1,-0.4 -1,-0.2 -1,0.3 -1,1 -1,0.5 -1,0.4 -1,0.5 -1,0 -1,-0.2 -1,-0.1 -1,-0.7 -1,-0.5 -1,0.7 -1,1.1 -1,0.3 -1,-1.1 -1,-0.2z"/>
<path stroke-width="9.4" d="M145.5,1338.9l1,-0.1 1,-0.2 1,-0.2 1,0 1,0 1,-0.1 1,-0 1,-0.1 1,-0 1,0.1 1,0.2 1,0.2 1,0.1 1,-0 1,-0.2 1,-0.3 1,-0.3 1,-0.4 1,-0.3 1,-0.2 1,-0.1 1,-0 1,-0 1,-0.1 1,-0 1,-0 1,0.1 1,0.1 1,-0.2 1,-0.3 1,-0.3 1,-0.5 1,-0.4 1,-0.3 1,-0.1 1,0.2 1,0.4 1,0.3 1,0.2 1,-0.1 1,-0.3 1,-0.5 1,-0.4 1,-0.4 1,-0.3 1,-0.3 1,-0.1 1,-0.2 1,-0.2 1,-0.3 1,-0.5 1,-0.6 1,-0.5 1,-0.5 1,-0.7 1,-0.8 1,-0.9 1,-0.8 1,-0.7 1,-0.6 1,-0.5 1,-0.4 1,-0.3 1,-0.1 1,-0.3 1,-0.4 1,-0.8 1,-0.8 1,-0.7 1,-0.4 1,-0.1 1,0.1 1,0.3 1,0.4 1,0.6 1,0.7 1,0.6 1,0.4 1,0.1 1,0.1 1,0.4 1,0.8 1,1.1 1,1.1 1,1 1,0.9 1,0.6 1,0.3 1,-0 1,-0.1 1,0.1 1,0.2 1,0.2 1,0.2 1,0.1 1,0.2 1,0.2 1,0.2 1,0.1 1,0.1 1,-0.1 1,-0.2 1,-0.1 1,-0 1,0.2 1,0.5 1,0.5 1,0.5 1,0.3 1,0.2 1,-0.1 1,-0.2 1,-0.4 1,-0.4 1,-0.2 1,0.2 1,0.4 1,0.4 1,0.2 1,0.1 1,0.1 1,-0 1,-0.1 1,-0.1 1,-0.2 1,-0.2 1,-0.2 1,-0.3 1,-0.2 1,-0.3 1,-0.1 1,-0 1,-0 1,-0 1,-0 1,-0 1,0.1 1,0.1 1,-0 1,-0.3 1,-0.5 1,-0.5 1,-0.3 1,-0.2 1,-0.2 1,-0.1 1,-0.3 1,-0.2 1,-0.2 1,-0.1 1,-0 1,0.1 1,-0.1 1,-0.1 1,-0.4 1,-0.3 1,-0.4 1,-0.2 1,-0.2 1,-0.3 1,-0.3 1,-0.3 1,-0 1,0.1 1,0.2 1,0.2 1,-0.1 1,-0.3 1,-0.3 1,-0.1 1,0.2 1,0.3 1,0.3 1,0.1 1,-0 1,-0.2 1,-0 1,0.2 1,0.3 1,0.4 1,0.4 1,0.5 1,0.5 1,0.5 1,0.4 1,0.5 1,0.3 1,0.1 1,-0 1,-0.2 1,-0.2 1,-0.2 1,-0.2 1,-0.1 1,-0 1,0.1 1,0.1 1,0.2 1,0.2 1,0.3 1,0.1 1,-0 1,-0.3 1,-0.4 1,-0.3 1,0.1 1,0.2 1,0.3 1,0.2 1,-0.1 1,-0.2 1,-0.2 1,-0.3 1,-0.2 1,-0.2 1,-0 1,0.1 1,0.3 1,0.2 1,0.2 1,0.1 1,0 1,0 1,0 1,0 1,0.1 1,-0.1 1,-0.2 1,-0.3 1,-0.2 1,0.1 1,0.3 1,0.2 1,0 1,-0.4 1,-0.4 1,-0.2 1,-0.1 1,0 1,0.1 1,0.1 1,0 1,0 1,0.1 1,0.2 1,0.1 1,0.2 1,0 1,-0.3 1,-0.4 1,-0.5 1,-0.5 1,-0.1 1,0 1,0.1 1,0 1,0 1,0 1,0 1,0.1 1,0.1 1,-0.1 1,-0.1 1,-0.2 1,-0.3 1,-0.2 1,-0.3 1,-0.3 1,-0.1 1,-0.1 1,-0.1 1,0 1,-0.2 1,-0.3 1,-0.4 1,-0.5 1,-0.3 1,-0.2 1,-0.1 1,-0.2 1,-0.2 1,-0.4 1,-0.5 1,-0.4 1,-0.4 1,-0.3 1,-0.3 1,-0.3 1,-0.3 1,-0.2 1,0 1,0.1 1,0.2 1,0.2 1,0 1,0 1,-0.1 1,0 1,0 1,0 1,0 1,-0.1 1,-0.3 1,-0.4 1,-0.3 1,-0.3 1,-0.2 1,-0.1 1,-0.3 1,-0.2 1,-0.1 1,-0.1 1,0.1 1,0.1 1,0.3 1,0.2 1,0.1 1,0.1 1,0 1,0 1,0.2 1,0.4 1,0.5 1,0.5 1,0.3 1,0.1 1,0 1,0.1 1,0.4 1,0.5 1,0.5 1,0.4 1,0.2 1,0 1,0.2 1,0.2 1,0.4 1,0.2 1,0.2 1,0.2 1,0.2 1,0.1 1,0 1,0 1,-0.2 1,-0.3 1,-0.3 1,-0.1 1,-0 1,-0.1 1,-0.3 1,-0.5 1,-0.3 1,-0.3 1,-0.2 1,-0.1 1,-0 1,0.1 1,0.2 1,0.1 1,-0 1,-0.2 1,-0.2 1,-0.4 1,-0.3 1,-0.5 1,-0.5 1,-0.6 1,-0.4 1,-0.3 1,-0.1 1,-0.1 1,-0 1,-0.2 1,-0.2 1,-0.1 1,-0 1,-0 1,-0.1 1,-0.5 1,-0.6 1,-0.7 1,-0.6 1,-0.6 1,-0.6 1,-0.4 1,-0.4 1,-0.4 1,-0.5 1,-0.4 1,-0.2 1,-0.1 1,-0.1 1,-0.3 1,-0.5 1,-0.7 1,-0.6 1,-0.4 1,-0.4 1,-0.2 1,-0.4 1,-0.5 1,-0.6 1,-0.7 1,-0.6 1,-0.5 1,-0.5 1,-0.6 1,-0.7 1,-0.8 1,-1 1,-1.1 1,-1.1 1,-0.9 1,-0.7 1,-0.6 1,-0.7 1,-0.9 1,-1.1 1,-1.2 1,-1 1,-0.9 1,-0.9 1,-1.1 1,-1.6 1,-2.6 1,-3.4 1,-3.9 1,-4.3 1,-4.3 1,-4.3 1,-4.2 1,-4.2 1,-4.6 1,-5.4 1,-5.5 1,-4.8 1,-3.6 1,-2.5 1,-2.3 1,-2 1,-1.3 1,-0.1 1,0.7 1,1.5 1,2 1,2.2 1,2.1 1,2.1 1,2.1 1,2.9 1,3.6 1,4.1 1,4.3 1,4.2 1,4 1,3.7 1,3.3 1,3.3 1,3.3 1,3.4 1,3.3 1,3.2 1,2.9 1,2.7 1,2.3 1,2.1 1,1.7 1,1.3 1,1.2 1,1.2 1,1.3 1,1.5 1,1.6 1,1.7 1,1.6 1,1.4 1,1.2 1,0.8 1,0.5 1,0.3 1,0.3 1,0.2 1,0.4 1,0.4 1,0.4 1,0.5 1,0.3 1,0.2 1,0.1 1,-0 1,-0 1,0.1 1,-0 1,-0 1,-0.1 1,-0.1 1,-0.1 1,-0 1,-0.1 1,-0.2 1,-0.3 1,-0.3 1,-0.3 1,-0.2 1,-0 1,0.2 1,0.3 1,0.4 1,0.3 1,0.3 1,0.2 1,0.1 1,0.4 1,0.5 1,0.6 1,0.8 1,0.9 1,1.1 1,1.1 1,1.2 1,1.4 1,1.8 1,1.9 1,2 1,2 1,1.9 1,1.7 1,1.4 1,1.2 1,0.8 1,0.6 1,0.6 1,0.7 1,0.7 1,0.5 1,0.4 1,0.3 1,0.1 1,0.2 1,0.2 1,0.1 1,-0 1,-0.1 1,-0 1,-0.1 1,-0 1,-0 1,-0.1 1,-0 1,-0 1,-0 1,-0 1,-0 1,-0 1,0.1 1,-0 1,0.1 1,0.1 1,0.1 1,0.1 1,-0 1,0.1 1,-0.1 1,-0 1,-0.1 1,-0.1 1,-0.1 1,-0.1 1,-0.1 1,0.1 1,0.1 1,0.2 1,0.1 1,-0 1,-0 1,-0.1 1,-0.2 1,-0.1 1,-0.1 1,0.1 1,-0 1,0.2 1,0.1 1,0.1 1,0.1 1,-0 1,-0 1,-0.1 1,-0.2 1,-0.2 1,-0.1 1,-0.2 1,-0.1 1,-0 1,-0.1 1,-0 1,0.1 1,0.1 1,0.2 1,0.1 1,-0 1,0.1 1,-0 1,-0 1,-0 1,-0.1 1,-0.1 1,-0.2 1,-0.1 1,-0 1,0.2 1,0.1 1,0.1 1,-0 1,-0.1 1,-0.1 1,-0.1 1,-0.2 1,-0.1 1,-0 1,-0 1,0.2 1,0.1 1,0.1 1,-0 1,-0.1 1,-0 1,-0.1 1,-0 1,-0 1,-0 1,-0.1 1,-0 1,-0 1,-0 1,-0 1,-0 1,0.1 1,-0 1,0.1 1,0.1 1,0.1 1,0.1 1,-0.1 1,-0.2 1,-0.1 1,-0.1 1,-0 1,-0 1,0.2 1,0.1 1,0.2 1,0.1 1,-0 1,-0.2 1,-0.4 1,-0.6 1,-0.6 1,-0.5 1,-0.3 1,-0.1 1,0.1 1,-0 1,-0 1,-0.1 1,-0.1 1,-0.2 1,-0.1 1,-0.1 1,0.1 1,0.3 1,0.2 1,0.2 1,0.1 1,-0 1,-0.2 1,-0.1 1,-0.1 1,-0 1,-0 1,-0 1,-0 1,0.1 1,-0 1,-0 1,-0 1,-0 1,0.1 1,0.1 1,0.2 1,-0 1,-0.1 1,-0.2 1,-0.1 1,-0 1,0.1 1,0.2 1,0.1 1,-0.1 1,-0.1 1,-0.2 1,-0.2 1,-0.2 1,-0 1,0.1 1,0.1 1,0.1 1,0.1 1,0.1 1,-0 1,-0 1,-0.1 1,-0.1 1,-0.1 1,-0.1 1,-0.1 1,0.1 1,0.1 1,0.1 1,-0 1,-0.1 1,0.1 1,0.1 1,0.1 1,-0 1,-0 1,-0.1 1,-0.1 1,-0.2 1,-0.1 1,-0 1,0.1 1,0.1 1,-0 1,-0 1,-0.1 1,-0.1 1,-0 1,0.1 1,-0 1,0.1 1,-0 1,-0 1,-0 1,-0.1 1,-0.1 1,-0 1,-0 1,-0 1,0.1 1,-0 1,0.1 1,0.2 1,0.1 1,0.1 1,-0 1,-0.2 1,-0.2 1,-0.1 1,-0 1,-0 1,-0 1,-0 1,-0.1 1,-0.2 1,-0.1 1,-0 1,0.1 1,0.1 1,0.1 1,-0 1,0.1 1,-0 1,-0.1 1,-0 1,0.1 1,0.1 1,-0 1,0.1 1,-0.1 1,-0.1 1,-0 1,-0 1,0.1 1,0.1 1,0.1 1,0.1 1,-0 1,-0 1,-0.1 1,-0.2 1,-0 1,-0 1,-0 1,0.1 1,-0 1,-0 1,0.1 1,-0 1,-0.1 1,-0.1 1,-0.1 1,-0 1,0.1 1,-0 1,-0 1,-0 1,0.1 1,-0 1,0.1 1,-0 1,0.2 1,0.1 1,0.1 1,0.1 1,0 1,-0.1 1,-0.2 1,-0.1 1,-0.1 1,-0 1,-0 1,-0 1,-0 1,-0 1,0.1 1,0.1 1,0 1,0.1 1,0.1 1,0 1,0 1,-0.1 1,-0.3 1,-0.7 1,-1.3 1,-1.4 1,-1.8 1,-3.5 1,-4.8 1,-5.2 1,-4.8 1,-3.6 1,-1.5 1,1.1 1,3.5 1,5 1,5.4 1,5.1 1,3.7 1,1.8 1,1.3 1,1.1 1,0.6 1,0.1 1,0.1 1,0.1 1,0 1,0 1,0 1,0 1,-0.1 1,0 1,-0.1 1,-0.1 1,0 1,-0.1 1,0 1,-0.1 1,-0.1 1,0 1,0.1 1,0.2 1,0.1 1,0.1 1,-0.1 1,0 1,-0.1 1,0 1,0 1,0 1,-0.1 1,0 1,0 1,0.1 1,0 1,0.1 1,0 1,0 1,-0.1 1,-0.1 1,0 1,0 1,0 1,-0.1 1,-0.1 1,-0 1,-0 1,0.1 1,-0 1,-0 1,-0.1 1,-0.1 1,-0.1 1,-0.1 1,-0.1 1,-0 1,0.1 1,0.2 1,0.1 1,0.1 1,-0.1 1,-0 1,0.1 1,0.1 1,0.1 1,0.1 1,0.1 1,0 1,0.1 1,0 1,0 1,-0.1 1,-0.2 1,-0.1 1,-0.2 1,-0.1 1,-0 1,-0 1,-0 1,-0 1,-0 1,0.1 1,0.1 1,0 1,0 1,0 1,0 1,0 1,0.1 1,-0.1 1,-0.1 1,-0.1 1,-0.1 1,-0 1,0.1 1,0.1 1,0.2 1,0.1 1,0 1,-0.1 1,-0.2 1,-0.1 1,-0.1 1,-0 1,0.1 1,0.2 1,0.2 1,0.2 1,-0 1,-0.2 1,-0.1 1,-0.2 1,-0.1 1,-0 1,-0 1,-0 1,-0 1,-0 1,-0 1,-0 1,-0 1,-0.1 1,-0 1,-0.1 1,-0 1,-0 1,-0 1,-0 1,-0 1,0.1 1,0.1 1,-0 1,-0.1 1,-0.1 1,-0.2 1,-0.1 1,-0 1,-0 1,0.1 1,0.2 1,-0 1,-0 1,-0.2 1,-0.1 1,-0 1,0.2 1,0.2 1,0.3 1,0.1 1,0.1 1,-0 1,-0 1,-0 1,-0 1,-0 1,-0.1 1,-0 1,-0.2 1,-0.1 1,-0.2 1,-0.1 1,-0 1,-0 1,-0 1,-0 1,0.1 1,0.1 1,-0 1,-0 1,-0.1 1,-0.2 1,-0.1 1,0.1 1,0.1 1,0.2 1,0.2 1,0.1 1,-0 1,-0.1 1,-0.2 1,-0 1,-0.1 1,-0 1,-0 1,-0 1,-0.1 1,-0 1,0.1 1,0.2 1,0.1 1,-0 1,-0.1 1,-0.2 1,-0.2 1,-0 1,-0 1,-0 1,-0 1,-0.1 1,-0 1,-0 1,-0 1,-0 1,-0 1,0.1 1,0.1 1,-0 1,-0 1,-0 1,-0 1,-0.1 1,-0.1 1,-0.2 1,-0.1 1,-0.1 1,-0 1,-0 1,-0 1,0.1 1,0.1 1,-0 1,-0 1,-0.1 1,-0 1,0.1 1,0.1 1,0.1 1,-0 1,-0 1,-0.1 1,-0.1 1,-0 1,-0 1,0.1 1,-0 1,-0.1 1,-0.1 1,-0.2 1,-0.2 1,-0 1,-0 1,0.1 1,-0 1,-0 1,0.1 1,-0 1,-0 1,-0 1,0.1 1,-0 1,0.2 1,0.1 1,0.2 1,-0 1,-0 1,-0.1 1,-0 1,-0 1,-0.1 1,-0.1 1,-0.1 1,-0 1,-0.1 1,-0 1,-0.1 1,-0 1,-0 1,-0 1,-0 1,-0 1,-0.1 1,-0.2 1,-0.2 1,-0.1 1,-0.1 1,-0 1,-0 1,0.1 1,-0 1,-0 1,-0 1,-0.1 1,-0 1,-0 1,-0 1,-0 1,-0.1 1,-0.1 1,-0 1,-0.2 1,-0.2 1,-0.3 1,-0.5 1,-0.8 1,-1.2 1,-1.4 1,-1.6 1,-1.8 1,-1.9 1,-2 1,-2.1 1,-2.3 1,-2.6 1,-2.8 1,-2.8 1,-2.5 1,-2.6 1,-2.6 1,-2.8 1,-3.3 1,-3.4 1,-3.2 1,-2.9 1,-2.4 1,-1.9 1,-1.5 1,-1.7 1,-1.6 1,-1.6 1,-1.6 1,-1.3 1,-1.3 1,-0.9 1,-0.6 1,-0.2 1,0.2 1,0.3 1,0.3 1,0.3 1,0.2 1,-0.1 1,-0.3 1,-0.3 1,-0.4 1,-0.3 1,-0.1 1,-0 1,0.1 1,0.2 1,0.1 1,0.2 1,0.1 1,0.2 1,0.2 1,0.2 1,0.3 1,0.6 1,0.8 1,0.6 1,0.4 1,-0.2 1,-0.6 1,-0.9 1,-1.2 1,-1.3 1,-1.5 1,-1.7 1,-1.7 1,-1.9 1,-2 1,-1.8 1,-1.8 1,-1.8 1,-2.3 1,-2.8 1,-3.3 1,-3.5 1,-3.5 1,-3.7 1,-3.8 1,-4 1,-4 1,-4.1 1,-4.4 1,-4.5 1,-4.8 1,-5.1 1,-5.2 1,-5.3 1,-5.2 1,-5.4 1,-5.6 1,-5.8 1,-6.1 1,-6.4 1,-6.7 1,-8.1 1,-8.8 1,-8.3 1,-6.8 1,-4.6 1,-4.2 1,-3.8 1,-3.2 1,-2.2 1,-0.9 1,0.4 1,1.7 1,2.8 1,3.7 1,4.3 1,4.8 1,5.9 1,8.8 1,10.2 1,10.1 1,8.2 1,6.6 1,6.2 1,5.7 1,5.3 1,4.7 1,4.3 1,3.7 1,3.2 1,3 1,2.9 1,2.8 1,2.7 1,2.6 1,2.3 1,2 1,1.8 1,2 1,2.1 1,2.3 1,2.2 1,2 1,1.7 1,1.5 1,1.5 1,1.4 1,1.2 1,1.2 1,1 1,1.1 1,1.2 1,1.5 1,1.7 1,1.8 1,1.7 1,1.4 1,1.2 1,1.1 1,1.1 1,1.3 1,1.3 1,1.4 1,1.2 1,1 1,0.9 1,0.9 1,0.9 1,0.8 1,0.8 1,0.9 1,0.9 1,0.9 1,0.9 1,0.9 1,0.7 1,0.7 1,0.6 1,0.4 1,0.5 1,0.4 1,0.5 1,0.4 1,0.3 1,0.2 1,0.2 1,0.2 1,0.3 1,0.4 1,0.5 1,0.8 1,0.8 1,0.8 1,0.6 1,0.3 1,0.2 1,0.2 1,0.1 1,0.2 1,0.2 1,0.4 1,0.5 1,0.5 1,0.4 1,0.1 1,-0.2 1,-0.2 1,-0.3 1,-0.3 1,-0.3 1,-0.1 1,-0.1 1,-0.1 1,-0.3 1,-0.5 1,-0.9 1,-1 1,-0.9 1,-0.7 1,-0.5 1,-0.6 1,-0.7 1,-0.7 1,-0.7 1,-0.7 1,-0.8 1,-0.8 1,-0.7 1,-0.9 1,-1.1 1,-1.4 1,-1.5 1,-1.7 1,-1.5 1,-1.1 1,-0.6 1,-0.1 1,-0 1,-0 1,-0.4 1,-0.6 1,-0.7 1,-0.6 1,-0.4 1,-0.2 1,-0.2 1,-0.2 1,-0.1 1,-0.1 1,0.2 1,0.2 1,0.4 1,0.5 1,0.6 1,0.6 1,0.6 1,0.6 1,0.6 1,0.7 1,0.7 1,0.8 1,0.9 1,1 1,1 1,0.9 1,0.7 1,0.7 1,0.7 1,0.9 1,0.9 1,1 1,1 1,0.8 1,0.6 1,0.3 1,0.2 1,0.2 1,0.3 1,0.5 1,0.3 1,0.3 1,0.1 1,0.2 1,0.3 1,0.5 1,0.5 1,0.3 1,0.2 1,-0 1,-0.2 1,-0.3 1,-0.4 1,-0.3 1,-0.2 1,-0.1 1,0.1 1,0.3 1,0.3 1,0.3 1,0.3 1,0.2 1,0.2 1,0.1 1,0.2 1,0.2 1,0.1 1,-0 1,-0.1 1,-0.1 1,-0 1,0.1 1,0.1 1,0.3 1,0.3 1,0.2 1,0.1 1,-0 1,-0.1 1,-0.1 1,-0.1 1,-0 1,-0 1,0.2 1,0.3 1,0.3 1,0.2 1,0.1 1,-0.1 1,-0.2 1,-0.4 1,-0.5 1,-0.6 1,-0.5 1,-0.3 1,-0.1 1,0.1 1,-0.1 1,-0.1 1,-0.4 1,-0.4 1,-0.5 1,-0.4 1,-0.4 1,-0.5 1,-0.8 1,-0.9 1,-0.9 1,-0.7 1,-0.5 1,-0.4 1,-0.5 1,-0.7 1,-0.7 1,-0.7 1,-0.7 1,-0.8 1,-0.8 1,-0.9 1,-0.8 1,-0.8 1,-0.9 1,-1.2 1,-1.5 1,-1.8 1,-1.7 1,-1.8 1,-1.8 1,-1.7 1,-1.6 1,-1.6 1,-1.9 1,-2.1 1,-2.3 1,-2.3 1,-2.3 1,-2 1,-1.7 1,-1.3 1,-1.1 1,-1.1 1,-1.1 1,-1.2 1,-1.4 1,-1.3 1,-1.1 1,-0.7 1,-0.4 1,-0 1,0.5 1,0.9 1,1.5 1,1.9 1,2.2 1,2.1 1,2 1,1.7 1,1.3 1,1.4 1,1.4 1,1.5 1,1.7 1,1.7 1,1.7 1,1.6 1,1.6 1,1.8 1,1.8 1,1.8 1,1.3 1,0.8 1,0.4 1,0.4 1,0.5 1,0.9 1,1 1,0.9 1,0.8 1,0.6 1,0.4 1,0.5 1,0.6 1,0.6 1,0.6 1,0.3 1,0.1 1,-0.1 1,-0.3 1,-0.6 1,-0.6 1,-0.7 1,-0.5 1,-0.4 1,-0.2 1,-0.1 1,-0.1 1,-0.1 1,-0.2 1,-0.4 1,-0.5 1,-0.5 1,-0.4 1,-0.5 1,-0.6 1,-0.8 1,-0.9 1,-0.9 1,-0.7 1,-0.8 1,-1.1 1,-1.3 1,-1.6 1,-1.6 1,-1.6 1,-1.6 1,-1.7 1,-1.8 1,-2 1,-2 1,-2.7 1,-3.1 1,-3.5 1,-3.9 1,-4.2 1,-4.7 1,-5.2 1,-5.8 1,-6.4 1,-6.8 1,-7.1 1,-7.6 1,-8.4 1,-8.7 1,-8.6 1,-8.2 1,-8.6 1,-8.6 1,-7.8 1,-6.9 1,-6.7 1,-6 1,-4.3 1,-2.4 1,-1.9 1,-1.3 1,-0.7 1,0.8 1,2.7 1,4.4 1,5.4 1,8.9 1,14.2 1,13.8 1,12.8 1,12.2 1,10.3 1,9.2 1,8.2 1,7.1 1,6.2 1,5.7 1,5.5 1,5.2 1,4.6 1,3.8 1,3.3 1,3 1,2.9 1,2.7 1,2.6 1,2.2 1,1.8 1,1.3 1,1.1 1,1.1 1,1.2 1,1.1 1,1.1 1,1 1,0.8 1,0.8 1,0.7 1,0.7 1,0.6 1,0.5 1,0.5 1,0.4 1,0.4 1,0.3 1,0.5 1,0.5 1,0.4 1,0.2 1,-0.1 1,-0.1 1,0.1 1,0.1 1,-0 1,-0.1 1,-0.2 1,-0.1 1,-0.1 1,0.1 1,0.2 1,0.2 1,0.3 1,0.2 1,0.2 1,-0.1 1,-0 1,-0.1 1,0.1 1,0.3 1,0.3 1,0.2 1,-0 1,-0.1 1,-0.2 1,-0.2 1,-0.1 1,-0.1 1,-0.1 1,0.1 1,0.1 1,-0 1,-0 1,-0.2 1,-0.3 1,-0.4 1,-0.4 1,-0.2 1,0.1 1,0.5 1,0.7 1,0.6 1,0.1 1,-0.2 1,-0.4 1,-0.4 1,-0.2 1,-0.2 1,-0.2 1,-0.2 1,-0.3 1,-0.2 1,-0.1 1,0.1 1,0.5 1,0.7 1,0.5 1,0.3 1,-0.2 1,-0.3 1,-0.3 1,-0.3 1,-0.2 1,-0.1 1,0.1 1,0.3 1,0.7 1,0.7 1,0.7 1,0.4 1,-0 1,-0.1 1,-0.1 1,-0.2 1,-0.1 1,-0.1 1,-0 1,0.4 1,0.5 1,0.6 1,0.3 1,0.1 1,-0 1,0.2 1,0.2 1,0.2 1,-0 1,-0.1 1,-0 1,0.1 1,0.2 1,0.2 1,0.2 1,0.2 1,0.4 1,0.4 1,0.5 1,0.4 1,0.3 1,-0 1,-0.4 1,-0.6 1,-0.7 1,-0.5 1,-0.1 1,0.4 1,0.6 1,0.7 1,0.4 1,0.2 1,-0 1,0.1 1,0.1 1,-0 1,-0.2 1,-0.4 1,-0.6 1,-0.6 1,-0.4 1,-0.1 1,0.2 1,0.2 1,0.3 1,0.2 1,0.1 1,0.1 1,-0 1,-0 1,-0.1 1,-0 1,-0 1,-0 1,-0 1,0.1 1,0.1 1,0.1 1,-0.2 1,-0.3 1,-0.4 1,-0.6 1,-0.4 1,-0.3 1,-0.2 1,-0.1 1,0.1 1,0.1 1,0.1 1,-0 1,-0 1,-0 1,0.2 1,0.2 1,-0.1 1,-0.4 1,-0.7 1,-0.7 1,-0.6 1,-0.7 1,-0.7 1,-0.7 1,-0.5 1,-0.4 1,-0.2 1,-0.2 1,-0.3 1,-0.4 1,-0.2 1,-0 1,0.1 1,0.3 1,0.4 1,0.5 1,0.3 1,0.3 0.5,-0"/>
<path stroke="none" fill="#000" d="M145.5,1332.2l1,-0.3 1,-0.4 1,-0.4 1,0.5 1,1.1 1,0.4 1,-0.1 1,-0.3 1,-1 1,-0.5 1,0.2 1,0.1 1,0 1,0.7 1,0.9 1,0.1 1,-0.1 1,-0.1 1,-0.3 1,-0.7 1,-0.8 1,-0 1,1 1,0.5 1,-0 1,-0.1 1,-0.9 1,-0.3 1,-0.1 1,-0.2 1,-1.4 1,-1.4 1,0.4 1,0.4 1,-0.7 1,0.1 1,1.1 1,0.8 1,-0.3 1,-0.8 1,-0.8 1,-0 1,0.2 1,-0.3 1,-1 1,-0.7 1,0.2 1,0.1 1,-0.4 1,-0.7 1,-0.8 1,-0.9 1,-0.4 1,0.3 1,0.9 1,0.5 1,-0.9 1,-2.3 1,-2.7 1,-1.7 1,0.1 1,0.5 1,0.1 1,0 1,0.1 1,-0.1 1,-0.3 1,-0.4 1,-1 1,-1.1 1,-0.9 1,-0.2 1,1 1,1.4 1,0.9 1,0.3 1,0 1,-0.2 1,0.3 1,0.6 1,0.8 1,1.1 1,0.8 1,0.9 1,0.9 1,1 1,0.9 1,0.8 1,0 1,-0.5 1,-0.2 1,0 1,0.3 1,0.1 1,0 1,-0.2 1,0.3 1,0.5 1,0 1,0 1,0.4 1,0 1,-0.8 1,-0.3 1,0.3 1,1 1,1.2 1,0.3 1,-0.5 1,-0.2 1,0.6 1,1.1 1,0.3 1,-0.6 1,-0.8 1,-1 1,-0.5 1,0.7 1,0.9 1,0.2 1,-0.5 1,-0.9 1,-0.2 1,1.1 1,1 1,0 1,0.2 1,-0.3 1,-1.3 1,-1.3 1,-1.1 1,0 1,0.6 1,0.6 1,0.9 1,0.6 1,-0.6 1,-0.8 1,0 1,0.2 1,-0.3 1,-0.6 1,-1.2 1,-1.1 1,-0.2 1,-0.1 1,-0.1 1,0.2 1,0.6 1,0.2 1,0 1,-0.2 1,-1.1 1,-1.5 1,-0.8 1,-0.1 1,0.8 1,1.1 1,0.5 1,-0.2 1,-0.4 1,0.1 1,0.1 1,-0.3 1,-0.2 1,0 1,-0.6 1,-1.5 1,-0.8 1,1 1,1.6 1,0.9 1,0.1 1,-0.4 1,-0.9 1,-0.7 1,-0.1 1,1 1,1.3 1,0.9 1,0.2 1,0.5 1,0.7 1,0.5 1,0.1 1,-0.4 1,-0.1 1,0.2 1,0.2 1,0.4 1,-0.1 1,-0.6 1,-0.8 1,-1 1,-0.6 1,0 1,0.3 1,0.9 1,1.2 1,0.8 1,0.5 1,0 1,-0.6 1,-0.9 1,-0.6 1,-0.3 1,-0.3 1,-0.1 1,0.6 1,0.3 1,-0.8 1,-0.2 1,0.5 1,0.2 1,-0.5 1,-0.1 1,1.2 1,0.6 1,-0.4 1,-0.4 1,0.3 1,1 1,0.8 1,0.3 1,-0.2 1,-0.9 1,-1.3 1,-0.6 1,0.5 1,0.1 1,-0.7 1,-0.1 1,1.1 1,1.1 1,-0.1 1,-0.5 1,-0.4 1,-0.2 1,0.2 1,0.2 1,-0.5 1,-0.3 1,-0.3 1,-0.4 1,0.7 1,1.3 1,0.4 1,-0.9 1,-0.7 1,-0.3 1,-0.7 1,-0.5 1,0.5 1,0.5 1,0.3 1,0.4 1,-0.4 1,-0.9 1,-0.3 1,0.3 1,0.1 1,-0.2 1,-0.3 1,0 1,-0.3 1,-0.8 1,-0.6 1,-0.1 1,0.2 1,0.2 1,0.4 1,0.1 1,-0.5 1,-0.6 1,-0.2 1,-0.4 1,-0.8 1,-0.5 1,0 1,0.5 1,0.1 1,-0.2 1,0.3 1,-0.4 1,-1.3 1,-0.7 1,0.1 1,-0.3 1,-0.8 1,-0.3 1,0 1,-0.4 1,0 1,0 1,-0.1 1,0.5 1,1.1 1,1.1 1,0 1,-0.9 1,-0.4 1,0.1 1,-0.5 1,-0.8 1,-0.6 1,-0.3 1,-0.4 1,-0.5 1,0.4 1,0.3 1,-0.7 1,-0.6 1,0.6 1,0.9 1,0.6 1,0.4 1,0.2 1,-0.4 1,-0.5 1,-0.5 1,0.2 1,0.8 1,0.1 1,-0.2 1,0.5 1,0.3 1,-0.3 1,0 1,0.8 1,0.8 1,0.3 1,0.1 1,0.7 1,1 1,0.8 1,0.1 1,0.4 1,0 1,-1.2 1,-0.6 1,1.4 1,1.7 1,0.1 1,-0.8 1,-0.6 1,-0.4 1,-0.4 1,-0.6 1,-0.2 1,0.6 1,0.6 1,-0.8 1,-2.1 1,-1.1 1,0.1 1,0.6 1,-0.2 1,-0.1 1,0.5 1,0.5 1,-0.6 1,-0.8 1,-0.2 1,0 1,-0.2 1,-0.9 1,-0.4 1,0.2 1,0.4 1,-0.2 1,-1 1,-0.7 1,-0.4 1,-0.4 1,0.1 1,0.7 1,0.8 1,0.6 1,0.2 1,-1.1 1,-1.7 1,-0.9 1,0.2 1,0.1 1,-0.8 1,-1.2 1,-0.4 1,0.4 1,0.5 1,-0.3 1,-0.9 1,-0.3 1,-0.2 1,-0.9 1,-1.4 1,-1.1 1,-0.4 1,-0.6 1,-0.8 1,0.1 1,0 1,-1.1 1,-0.5 1,0.1 1,-0.3 1,-0.5 1,0.3 1,-0.4 1,-1.4 1,-1.3 1,-0.8 1,-1 1,-1 1,-0.8 1,-0.6 1,-0.6 1,-0.5 1,-0.7 1,-1.6 1,-1.5 1,-0.8 1,-0.5 1,-0.7 1,-2 1,-2.2 1,-2.6 1,-3.2 1,-3.6 1,-4.9 1,-5.2 1,-4.4 1,-3.4 1,-3 1,-4.5 1,-6.3 1,-5.9 1,-4.1 1,-3.1 1,-2.9 1,-2.5 1,-1.4 1,-1.1 1,-0.1 1,1 1,1.6 1,1.7 1,1.3 1,1.5 1,2.1 1,2.9 1,3.7 1,3.5 1,3.3 1,3.9 1,4.5 1,4.1 1,4.1 1,3.3 1,2 1,2.6 1,3.7 1,3.5 1,3.5 1,3.4 1,3.3 1,2.6 1,2.3 1,2.1 1,1.7 1,1.5 1,0.9 1,0.5 1,1.2 1,1.9 1,1.2 1,0.7 1,1.1 1,1.2 1,0.5 1,0.4 1,0.3 1,0.6 1,1.2 1,0.9 1,0.3 1,0.4 1,0.7 1,0.3 1,-0.1 1,0.1 1,0.9 1,0.7 1,-0.4 1,-1.2 1,-0.3 1,1.1 1,0.6 1,-0.5 1,-0.7 1,-0.2 1,0.3 1,0.1 1,-0.6 1,-1.2 1,-0.5 1,0.3 1,0.9 1,0.7 1,0.6 1,0.3 1,-0.3 1,-0.4 1,-0.3 1,0.3 1,1.2 1,1.3 1,0.1 1,0.8 1,2 1,1 1,0.4 1,1.1 1,2 1,2.4 1,2 1,2.3 1,2.3 1,0.9 1,1 1,1.7 1,0.6 1,0 1,0.6 1,1.5 1,2 1,1.2 1,-0.2 1,-0.6 1,-0.1 1,0.4 1,0 1,0.1 1,0.3 1,0.2 1,-0.1 1,0 1,0.2 1,0 1,-0.1 1,-0.1 1,-0.2 1,-0.1 1,0.2 1,0.5 1,0.5 1,-0.1 1,-0.1 1,0 1,0.2 1,0.4 1,0.1 1,-0.3 1,-0.3 1,-0.1 1,0 1,-0.2 1,-0.3 1,-0.1 1,-0.2 1,-0.1 1,0.1 1,0.2 1,0.5 1,0.4 1,0.3 1,-0.1 1,-0.6 1,-0.6 1,-0.2 1,0.5 1,0.3 1,0 1,-0.1 1,0 1,0.1 1,0 1,0 1,0 1,0 1,0 1,-0.2 1,-0.2 1,-0.1 1,-0.3 1,-0.3 1,0.1 1,0.2 1,0.1 1,0.2 1,0.2 1,0.3 1,0.2 1,0 1,-0.2 1,0 1,-0.1 1,-0.1 1,-0.3 1,-0.1 1,-0.2 1,0 1,0.3 1,0.3 1,0.2 1,-0.2 1,-0.4 1,-0.3 1,0.1 1,-0.2 1,-0.3 1,0 1,0 1,0.2 1,0.2 1,-0.1 1,0 1,0.1 1,0 1,0 1,0.2 1,0.1 1,-0.2 1,-0.2 1,0 1,0 1,-0.3 1,0.1 1,0.4 1,0.4 1,-0.1 1,-0.2 1,0.3 1,0 1,-0.5 1,-0.1 1,0 1,0.1 1,-0.1 1,0.1 1,0.2 1,0.3 1,0.3 1,0.2 1,0 1,-0.3 1,-0.3 1,-0.5 1,-0.5 1,-0.6 1,-0.4 1,-0.2 1,-0.2 1,-0.3 1,-0.2 1,0.3 1,0.2 1,0 1,0 1,-0.1 1,0 1,-0.1 1,0 1,0.1 1,0.2 1,0.2 1,0.1 1,-0.3 1,-0.5 1,0.1 1,0.2 1,0.1 1,0.1 1,0 1,-0.1 1,-0.2 1,0 1,0.1 1,0.2 1,0.3 1,0.2 1,-0.1 1,-0.1 1,0 1,0 1,-0.1 1,0.1 1,0.2 1,0.1 1,-0.2 1,-0.2 1,0 1,0 1,-0.2 1,-0.2 1,-0.2 1,-0.1 1,0.2 1,0.4 1,0.3 1,-0.1 1,-0.2 1,0 1,0 1,-0.1 1,0.1 1,-0.1 1,-0.4 1,-0.1 1,0.2 1,-0.1 1,-0.1 1,0.4 1,0.3 1,0.1 1,0 1,-0.1 1,-0.2 1,-0.2 1,-0.2 1,-0.4 1,-0.2 1,0.3 1,0.5 1,0.4 1,-0.1 1,-0.3 1,-0.2 1,-0.1 1,-0.1 1,0 1,-0.2 1,0.2 1,0.2 1,0.2 1,0 1,-0.3 1,-0.3 1,0.1 1,0.3 1,-0.2 1,0 1,0.2 1,0.2 1,0.1 1,0 1,0.4 1,0.4 1,-0.1 1,-0.2 1,-0.2 1,-0.3 1,-0.4 1,0 1,0 1,0.3 1,0.2 1,-0.2 1,-0.1 1,0 1,-0.3 1,-0.1 1,0.2 1,0.3 1,0.3 1,-0.1 1,-0.3 1,-0.4 1,0.1 1,0.6 1,0.3 1,-0.3 1,-0.5 1,-0.1 1,0 1,0 1,0.1 1,0.2 1,0.4 1,0.2 1,0 1,0 1,-0.4 1,-0.3 1,0 1,0.3 1,0.1 1,0.2 1,0.2 1,-0.1 1,-0.2 1,-0.1 1,-0.1 1,-0.3 1,-0.1 1,0.1 1,0.1 1,0.1 1,0 1,-0.1 1,-0.1 1,0.1 1,0.2 1,0.1 1,0.1 1,0.1 1,0.3 1,0.3 1,-0.2 1,-0.3 1,-0.1 1,-0.2 1,-0.1 1,0.1 1,0.3 1,0.3 1,-0.1 1,-0.2 1,0 1,0 1,0.1 1,0.1 1,-0.3 1,-0.2 1,0.1 1,-0.1 1,-0.8 1,-1.5 1,-1.5 1,-1.5 1,-3.3 1,-4.7 1,-5.5 1,-5 1,-3.6 1,-1.5 1,1.2 1,3.8 1,5.2 1,5.5 1,4.8 1,3.3 1,1.7 1,1.6 1,1.3 1,0.8 1,0.3 1,0.1 1,0.1 1,-0.1 1,-0.3 1,-0.4 1,-0.4 1,0.2 1,0.6 1,0.2 1,-0.2 1,-0.2 1,-0.2 1,-0.3 1,-0.2 1,0 1,0 1,0.2 1,0.3 1,0.1 1,-0.1 1,-0.3 1,-0.2 1,0 1,0.1 1,0.1 1,0.2 1,0.1 1,-0.1 1,-0.1 1,0.2 1,0.1 1,0.1 1,0.1 1,0 1,0 1,-0.1 1,-0.1 1,-0.1 1,-0.2 1,0 1,0.1 1,0 1,0.1 1,0.3 1,-0.1 1,-0.3 1,-0.3 1,-0.2 1,0 1,-0.1 1,-0.3 1,0.1 1,0.3 1,0.2 1,0.3 1,0.3 1,0 1,-0.6 1,-0.4 1,0.1 1,0.5 1,0.2 1,0.3 1,0.2 1,-0.1 1,-0.1 1,-0.1 1,-0.2 1,-0.2 1,0 1,0 1,-0.1 1,-0.2 1,0.1 1,0.2 1,0.1 1,0.1 1,0.1 1,0 1,-0.2 1,-0.3 1,-0.2 1,-0.1 1,0.3 1,0.2 1,0 1,0 1,-0.3 1,-0.2 1,0.3 1,0.3 1,0 1,-0.1 1,0 1,-0.3 1,0.1 1,0 1,0.2 1,0 1,0 1,0 1,0.2 1,0.1 1,0 1,-0.1 1,-0.2 1,-0.3 1,-0.1 1,0.2 1,0.2 1,0 1,0 1,0 1,-0.2 1,0.1 1,0 1,-0.2 1,-0.2 1,0 1,0.2 1,0.3 1,-0.3 1,-0.5 1,-0.1 1,0.3 1,0.3 1,0 1,-0.1 1,0 1,0.2 1,0.1 1,-0.2 1,-0.2 1,0 1,-0.1 1,-0.1 1,0.1 1,0 1,-0.2 1,-0.1 1,0.1 1,0.2 1,0.2 1,0.4 1,0.3 1,0 1,-0.1 1,0.2 1,0.3 1,0 1,0 1,-0.2 1,-0.2 1,-0.1 1,-0.3 1,-0.5 1,-0.3 1,-0.1 1,0.1 1,0.3 1,0.4 1,0.1 1,0.1 1,0.2 1,-0.2 1,-0.4 1,-0.3 1,-0.1 1,0.1 1,0.1 1,0.3 1,0.4 1,0.2 1,-0.1 1,-0.3 1,-0.2 1,0.1 1,0.1 1,-0.1 1,-0.3 1,0 1,0.3 1,0.1 1,0.1 1,0.1 1,0.1 1,-0.2 1,-0.3 1,-0.2 1,0.1 1,0.3 1,0.2 1,-0.1 1,-0.3 1,-0.5 1,-0.4 1,-0.2 1,0.4 1,0.6 1,0.2 1,-0.1 1,0 1,0.1 1,0.2 1,0 1,-0.2 1,-0.2 1,-0.4 1,-0.4 1,0 1,0.1 1,0.1 1,-0.2 1,0 1,0.3 1,-0.1 1,-0.2 1,-0.3 1,0 1,0.2 1,0.2 1,0.4 1,0.2 1,0 1,-0.1 1,-0.1 1,-0.2 1,0 1,0.1 1,0.3 1,0.1 1,-0.4 1,-0.6 1,-0.1 1,0.4 1,0.1 1,-0.3 1,0 1,-0.1 1,-0.2 1,-0.1 1,0 1,0 1,0.1 1,0.3 1,0.4 1,0.2 1,-0.1 1,-0.2 1,0.2 1,0.4 1,0.1 1,-0.1 1,-0.2 1,0.1 1,0.1 1,-0.2 1,-0.1 1,-0.1 1,0 1,0 1,-0.2 1,-0.4 1,0 1,0 1,0.1 1,-0.1 1,-0.2 1,-0.1 1,-0.1 1,0 1,-0.1 1,-0.2 1,-0.1 1,0.1 1,0.2 1,0.2 1,0 1,0 1,-0.2 1,-0.3 1,-0.2 1,0.2 1,-0.3 1,-1.2 1,-0.8 1,0.1 1,0.6 1,0.3 1,-0.5 1,-1.4 1,-2.1 1,-2.1 1,-1.2 1,-1.5 1,-2.5 1,-2.8 1,-2.3 1,-2.1 1,-2.2 1,-2.7 1,-3.2 1,-2.9 1,-2.7 1,-2.9 1,-3.3 1,-3.4 1,-3.3 1,-2.8 1,-2.2 1,-1.8 1,-1.2 1,-2 1,-2.8 1,-1.9 1,-0.7 1,-0.2 1,-0.9 1,-1.2 1,-0.7 1,-0.6 1,0 1,0.2 1,-0.2 1,0 1,0.4 1,0.7 1,0.3 1,-0.1 1,-0.8 1,-1.7 1,-0.7 1,1.1 1,1.2 1,-0.4 1,-0.8 1,-0.1 1,0.3 1,0.6 1,1.2 1,0.8 1,-0.4 1,-0.5 1,0.5 1,0.9 1,0.6 1,0.8 1,0.2 1,-1.1 1,-1.8 1,-1.7 1,-1.9 1,-1.8 1,-1.3 1,-1.2 1,-1.5 1,-2.1 1,-2.4 1,-2.8 1,-2.8 1,-2.2 1,-2.4 1,-3.2 1,-4 1,-4.4 1,-4.1 1,-3.8 1,-3 1,-3.2 1,-3.9 1,-4.6 1,-5.3 1,-5.6 1,-5.1 1,-5.4 1,-5.6 1,-5.5 1,-6.4 1,-6.7 1,-5.4 1,-4.6 1,-6.1 1,-8.8 1,-10.7 1,-9.1 1,-5.7 1,-3.4 1,-4.7 1,-4.5 1,-2.6 1,-1.4 1,-0.7 1,0.4 1,1.4 1,2.6 1,3.2 1,4.4 1,5.4 1,5.5 1,8.2 1,10.6 1,10.4 1,7.9 1,5.5 1,5.8 1,6.1 1,5.9 1,5.7 1,5.2 1,4.2 1,2.9 1,2.6 1,3 1,2.8 1,2 1,1.8 1,2.1 1,1.9 1,1.7 1,2.3 1,3.2 1,2.5 1,1.5 1,1.6 1,1.7 1,1.6 1,1.6 1,1.4 1,0.7 1,1 1,1.8 1,1.9 1,0.8 1,1 1,2.3 1,1.7 1,0.6 1,0.3 1,1.2 1,1.1 1,0.9 1,1.8 1,1.9 1,1.6 1,1.6 1,1.4 1,0.6 1,0.4 1,1 1,1.3 1,0.8 1,1 1,1.2 1,0.9 1,0.7 1,0.4 1,-0.1 1,-0.3 1,0.1 1,1.4 1,2.1 1,0.9 1,0.3 1,0 1,0 1,0.4 1,1 1,0.9 1,-0.1 1,0 1,0.5 1,0.7 1,1.4 1,0.6 1,-0.3 1,0 1,0.2 1,0.2 1,0.3 1,0.3 1,-0.5 1,-0.7 1,0.9 1,1.4 1,0.7 1,-0.3 1,-0.5 1,0 1,0.4 1,0.4 1,0 1,-0.5 1,-0.3 1,-0.2 1,-0.5 1,-0.8 1,-1 1,-0.8 1,-0.4 1,-0.2 1,-0.9 1,-1.3 1,-0.6 1,-0.4 1,-1.1 1,-1.2 1,-0.3 1,-0.1 1,-0.8 1,-1.3 1,-1.1 1,-0.9 1,-1.8 1,-1.9 1,-1.1 1,-0.9 1,-0.9 1,0.3 1,0.7 1,-0.9 1,-1.6 1,-0.1 1,-0.1 1,-0.9 1,0.2 1,-0.1 1,-1.4 1,-1.2 1,0 1,0.6 1,0.8 1,0.7 1,0.4 1,0 1,-0.2 1,0.5 1,1.3 1,1.7 1,1.5 1,0.3 1,-0.5 1,-0.4 1,0.2 1,1.5 1,2.3 1,1.8 1,0.3 1,-0.1 1,1.2 1,2 1,1.2 1,0.6 1,0.6 1,0.8 1,0.9 1,0 1,-0.8 1,-0.1 1,1.2 1,0.8 1,-0.2 1,0.1 1,0.6 1,0.2 1,-0.4 1,-0.1 1,1 1,1.2 1,1.1 1,0.4 1,-0.5 1,-0.6 1,-0.3 1,-1.1 1,-1.3 1,0 1,0.8 1,-0.4 1,-1.3 1,0.1 1,0.9 1,0.4 1,-0.2 1,0.8 1,0.6 1,-0.1 1,0.5 1,0.6 1,-0.2 1,-0.3 1,0.4 1,0 1,-0.9 1,0.3 1,1.5 1,1.2 1,-0.4 1,-0.8 1,0.5 1,0.5 1,-0.7 1,-1.1 1,-0.6 1,0.2 1,0.8 1,0.7 1,0.2 1,-0.1 1,0.5 1,0.2 1,-0.7 1,-0.2 1,0.6 1,-0.6 1,-1.5 1,-0.4 1,0.2 1,-0.1 1,-0.2 1,-0.7 1,-1.1 1,-0.3 1,0.8 1,0.5 1,-1 1,-1.4 1,-1.1 1,-1.2 1,-0.8 1,0.1 1,0.4 1,-0.8 1,-0.8 1,-0.8 1,-1.3 1,-1.2 1,-0.6 1,-0.5 1,-0.1 1,-0.2 1,-1.1 1,-1.7 1,-2.2 1,-2.2 1,-1.2 1,-1.3 1,-2 1,-0.8 1,-0.3 1,-1.4 1,-2 1,-3.2 1,-2.9 1,-2.3 1,-1.5 1,-1.6 1,-2.3 1,-2.7 1,-1.9 1,-1 1,-0.6 1,-0.4 1,-1 1,-1.6 1,-1.8 1,-1.3 1,0.2 1,0.3 1,-0.6 1,-0 1,0.7 1,1.2 1,2.1 1,2.4 1,2 1,1.8 1,1.6 1,1.4 1,1.7 1,2.3 1,1.5 1,0.7 1,1.1 1,1.3 1,1.9 1,1.8 1,1 1,1.3 1,2.3 1,2 1,1.1 1,1 1,0.7 1,0.1 1,0.6 1,1.6 1,1.4 1,1 1,1 1,0.5 1,-0.2 1,-0.4 1,0.1 1,0.1 1,0.5 1,0.2 1,0.2 1,0.3 1,-0.1 1,-0.9 1,-1 1,-0.3 1,-0.1 1,0 1,0.3 1,0 1,-0.5 1,-0.6 1,-1.1 1,-1.4 1,-0.9 1,-0.4 1,0.2 1,-0.2 1,-0.5 1,-0.5 1,-0.5 1,-0.3 1,-0.8 1,-1.6 1,-1.9 1,-1.8 1,-1.1 1,-0.9 1,-1.3 1,-2 1,-1.9 1,-2.7 1,-3.1 1,-3 1,-3.3 1,-3.3 1,-4.1 1,-3.4 1,-4.1 1,-5.5 1,-6.9 1,-6.7 1,-6.7 1,-6.5 1,-6.9 1,-8.5 1,-9 1,-8.5 1,-7.9 1,-7.7 1,-7.8 1,-8.2 1,-7.3 1,-7 1,-6.3 1,-4.5 1,-2.3 1,-1.7 1,-1.5 1,-0.9 1,1.1 1,3.1 1,4.3 1,5.1 1,9.1 1,14.9 1,13.9 1,12.7 1,11.7 1,9.5 1,9.2 1,8.5 1,6.9 1,6.2 1,6.1 1,5.3 1,4.4 1,4.2 1,3.8 1,3.7 1,3.4 1,3.3 1,2.6 1,2.5 1,2.3 1,1.6 1,2.2 1,2.1 1,1.1 1,0.5 1,0.8 1,1.4 1,1 1,1.1 1,0.9 1,0.3 1,-0.7 1,-1.1 1,0 1,1.8 1,1.6 1,0.5 1,0.7 1,0.3 1,-0.2 1,0.1 1,0.3 1,0.4 1,0.1 1,-0.3 1,-0.1 1,-0.4 1,-0.3 1,0.2 1,0.4 1,0.4 1,0.9 1,0.1 1,-0.9 1,-0.3 1,-0.5 1,0.1 1,-0.2 1,0.6 1,1.4 1,1.1 1,0.7 1,-0.1 1,-1.3 1,-0.4 1,0.2 1,-0.7 1,0.1 1,0.5 1,-0.5 1,-0.5 1,0.5 1,0.5 1,-0.2 1,-0.4 1,0.3 1,0.1 1,-1.3 1,-1.4 1,-0.4 1,0 1,1 1,1.9 1,1.9 1,0.7 1,-0.2 1,-0.4 1,-0.2 1,-0.7 1,-1.3 1,-1.2 1,-1.1 1,-1.4 1,-0.1 1,0.1 1,1.8 1,1.3 1,0.3 1,0.5 1,0.4 1,-0.6 1,-1.8 1,-0.8 1,0.6 1,0.7 1,0.4 1,0.7 1,0.7 1,0.7 1,1.4 1,1.3 1,-0.7 1,-1 1,-0.3 1,-1 1,-1.1 1,-0.4 1,0.2 1,1.4 1,2.3 1,0.4 1,-1.1 1,-0.2 1,0.2 1,0 1,0.1 1,0.5 1,0.7 1,0.7 1,0 1,-1.3 1,-0.5 1,1.3 1,0.9 1,-0.2 1,-0.5 1,0.2 1,0.4 1,-0.1 1,0.3 1,0.4 1,-0.2 1,0.1 1,0.5 1,-0.5 1,-0.7 1,-0.2 1,0.4 1,0.8 1,0.6 1,0.5 1,0.2 1,-0.5 1,-0.1 1,0.7 1,0.8 1,0.1 1,-0.5 1,-1.1 1,-1.4 1,-1.1 1,-0.8 1,-0.1 1,0.7 1,1.1 1,0.9 1,0.3 1,-1 1,-0.5 1,0.5 1,-0.3 1,-0.4 1,0.7 1,0 1,-0.6 1,-0.8 1,0.2 1,1 1,0.3 1,-0.2 1,-0.1 1,-0.7 1,-0.8 1,-0.3 1,0 1,0.1 1,0.3 1,0.2 1,-0.3 1,-0.5 1,-0.6 1,-0.8 1,0.9 1,0.8 1,0.1 1,-0.6 1,0.4 1,0.7 1,-0.2 1,-1.2 1,-1 1,-1 1,-1.3 1,-1.4 1,-0.4 1,1.1 1,0.1 1,-1 1,-0.6 1,-0.2 1,0.7 1,0.5 1,0 1,0.7 1,1.2 1,0.3 0.5,-0.7 0,14.2 -0.5,-0.2 -1,-1.1 -1,-1.1 -1,-1 -1,-1.3 -1,-1 -1,-0.2 -1,0.4 -1,1.4 -1,1.4 -1,-0.1 -1,-0.1 -1,1.3 -1,1.2 -1,0.4 -1,0.2 -1,0.6 -1,0.3 -1,-0.4 -1,-0.2 -1,0.8 -1,1.4 -1,0.2 -1,-0.9 -1,-0.9 -1,-0.3 -1,0.8 -1,1.2 -1,0.3 -1,-0.3 -1,0.4 -1,-0.3 -1,-1.1 -1,-0.6 -1,0.7 -1,2.1 -1,1.8 -1,-0 -1,-1.2 -1,-1 -1,-0 -1,-0.3 -1,-0.2 -1,0.6 -1,0.5 -1,0.3 -1,0.4 -1,0.9 -1,0.5 -1,-0.4 -1,-1.2 -1,-0.5 -1,0.4 -1,-0.5 -1,-0.6 -1,0.2 -1,0.3 -1,1 -1,1 -1,0.2 -1,0.1 -1,-0 -1,-0.4 -1,-0.8 -1,-0.7 -1,0.2 -1,0.1 -1,-0.1 -1,-0.2 -1,-0.5 -1,-0.6 -1,0.2 -1,0.8 -1,-0.2 -1,-0.4 -1,0.1 -1,0.1 -1,-0.2 -1,-0.4 -1,-0.1 -1,0.4 -1,0.4 -1,-0.1 -1,-1.2 -1,-1.4 -1,-0.2 -1,1.2 -1,0.3 -1,-1.2 -1,-0.2 -1,1.5 -1,1 -1,0.1 -1,-0.3 -1,-0.8 -1,-0.7 -1,-0.8 -1,-0.9 -1,-0.5 -1,-0.4 -1,-0.7 -1,-0.4 -1,1.4 -1,2.3 -1,1.1 -1,-1.3 -1,-2.1 -1,-0.6 -1,0.2 -1,-0.6 -1,-0.6 -1,-0.5 -1,-0.8 -1,-0.1 -1,0.7 -1,1.3 -1,1.4 -1,-0 -1,-1.2 -1,-1 -1,-0.6 -1,-0.2 -1,0.7 -1,0.9 -1,-0.3 -1,-0 -1,0.6 -1,0.4 -1,0.4 -1,0.2 -1,0.4 -1,-0.1 -1,-0.9 -1,-0.7 -1,-0.3 -1,-1 -1,-0.6 -1,-0 -1,0.2 -1,0.6 -1,0.6 -1,0.9 -1,0.9 -1,0.5 -1,-0.3 -1,-0.4 -1,-0.6 -1,-0.7 -1,-1.3 -1,-0.2 -1,0.5 -1,1.1 -1,0.8 -1,-0.2 -1,-0.1 -1,0.8 -1,0.3 -1,-0.4 -1,-0.4 -1,0.4 -1,0.9 -1,0.8 -1,-0 -1,-1.6 -1,-1.7 -1,-0.1 -1,0.5 -1,0.1 -1,-0.2 -1,-0.1 -1,0.2 -1,0.2 -1,0.1 -1,-0.1 -1,-0.4 -1,-0.7 -1,-1.3 -1,-1 -1,0.3 -1,1.1 -1,0.5 -1,-1.1 -1,-2 -1,-1.5 -1,-0.2 -1,0.3 -1,0.4 -1,-0.6 -1,-1 -1,-0.6 -1,-0.8 -1,-1.8 -1,-2.1 -1,-0.9 -1,-1 -1,-1.9 -1,-2.2 -1,-2.3 -1,-2.2 -1,-2.4 -1,-2.6 -1,-2.4 -1,-3 -1,-4 -1,-5.4 -1,-6 -1,-5 -1,-4.3 -1,-5.7 -1,-7.4 -1,-8.5 -1,-9.5 -1,-10.4 -1,-12.5 -1,-12.5 -1,-13.2 -1,-14.2 -1,-9.4 -1,-5.8 -1,-4.3 -1,-2.7 -1,-1.2 -1,0.1 -1,1.2 -1,2.1 -1,3 -1,4.8 -1,5.8 -1,6.4 -1,7.1 -1,7.7 -1,7.7 -1,7.9 -1,8.6 -1,9.3 -1,9.3 -1,8.3 -1,7.6 -1,7.2 -1,6.4 -1,6 -1,6.2 -1,5.7 -1,5.1 -1,4.7 -1,3.8 -1,3 -1,2.9 -1,2.2 -1,1.7 -1,1.8 -1,2.2 -1,2.7 -1,2.6 -1,1.7 -1,1.3 -1,1.5 -1,1.2 -1,0.9 -1,0.9 -1,0.5 -1,-0.1 -1,0.1 -1,0.8 -1,0.8 -1,0.6 -1,0.4 -1,0.5 -1,0.5 -1,0.5 -1,0.1 -1,-0.2 -1,0.1 -1,0.2 -1,0.3 -1,0.5 -1,0.8 -1,0.9 -1,1.1 -1,1 -1,-0.1 -1,-0.5 -1,-0 -1,-0.4 -1,-1.1 -1,-0.9 -1,-0.4 -1,-0.2 -1,-0.1 -1,-0.8 -1,-0.9 -1,-0.9 -1,-0.7 -1,-0.2 -1,0.2 -1,-0.5 -1,-1.8 -1,-2.5 -1,-1.6 -1,-1.9 -1,-1.2 -1,-1.2 -1,-1.5 -1,-1.6 -1,-1.8 -1,-1.7 -1,-1.1 -1,-0.6 -1,-1.1 -1,-2.1 -1,-2.3 -1,-1.8 -1,-1.1 -1,-1.2 -1,-2.6 -1,-3.1 -1,-1.6 -1,-0.5 -1,-0.3 -1,0.3 -1,0.3 -1,0.6 -1,1.5 -1,1.4 -1,0.9 -1,1 -1,1 -1,1 -1,0.8 -1,1.3 -1,2.3 -1,2.1 -1,2.2 -1,2.4 -1,2.3 -1,2.6 -1,2.9 -1,2.2 -1,0.9 -1,0.6 -1,1.3 -1,1.6 -1,1.8 -1,1.6 -1,1.2 -1,1.2 -1,1.8 -1,1.6 -1,0.8 -1,0.4 -1,0.4 -1,0.6 -1,1.1 -1,1.1 -1,-0 -1,-0 -1,1 -1,0.8 -1,0.2 -1,0.6 -1,1.3 -1,1.4 -1,1.8 -1,1 -1,-0.4 -1,-1.3 -1,-0.8 -1,0.3 -1,0.9 -1,0.8 -1,0.5 -1,0.5 -1,0.5 -1,0.4 -1,0.2 -1,-0 -1,0.1 -1,0.2 -1,0.6 -1,0.7 -1,0.8 -1,0.5 -1,-1 -1,-2.1 -1,-1 -1,0.2 -1,0.7 -1,0.3 -1,0.3 -1,0.4 -1,0.3 -1,-0.6 -1,-1.4 -1,-1.1 -1,0.1 -1,0.6 -1,0.7 -1,0.6 -1,0.1 -1,-0.7 -1,-0.3 -1,0.4 -1,-0 -1,-0.9 -1,-0.7 -1,-0.1 -1,-0.2 -1,-0.4 -1,-0.1 -1,0.2 -1,-0.1 -1,-0.3 -1,0.3 -1,0.8 -1,0.3 -1,0.1 -1,0.3 -1,0.3 -1,0.2 -1,-0.4 -1,-1.2 -1,-1.1 -1,0.1 -1,0.2 -1,-0.1 -1,-0.1 -1,-0.2 -1,0 -1,0.4 -1,0.4 -1,0.2 -1,-0.7 -1,-1.4 -1,-1 -1,-0.4 -1,-0.7 -1,-1.1 -1,-1 -1,-0.4 -1,-0.6 -1,-0.7 -1,-0.4 -1,-0.9 -1,-2 -1,-1.7 -1,-0.7 -1,-0.5 -1,-0.6 -1,-0.2 -1,-0.4 -1,-1.2 -1,-1.2 -1,-1 -1,-1.3 -1,-0.1 -1,1.1 -1,0.2 -1,-0.6 -1,-0.5 -1,0.5 -1,0.9 -1,0 -1,-0.1 -1,0.4 -1,-0.1 -1,0.1 -1,1.4 -1,1.2 -1,-0.2 -1,-0.3 -1,0.3 -1,0.6 -1,0.8 -1,1.1 -1,1 -1,0.9 -1,0.8 -1,1.6 -1,1.9 -1,0.7 -1,0 -1,0.7 -1,1.3 -1,1.5 -1,1.5 -1,0.4 -1,0.1 -1,0.7 -1,-0.1 -1,0.1 -1,1.3 -1,1.6 -1,1.4 -1,0.4 -1,-0.4 -1,0 -1,0.3 -1,0.4 -1,0.6 -1,0.2 -1,-0.1 -1,-0.2 -1,-0.5 -1,-0.8 -1,-0.4 -1,-0.2 -1,0.5 -1,0.9 -1,-0.2 -1,-0.8 -1,-0.4 -1,-0.7 -1,-0.6 -1,0.3 -1,0.1 -1,-1.3 -1,-1.2 -1,-0.1 -1,-0.3 -1,-0.9 -1,-0.9 -1,-0.5 -1,0 -1,0.3 -1,-0.3 -1,-1.7 -1,-1.5 -1,-0.2 -1,-0.1 -1,-0.3 -1,-0.9 -1,-1.4 -1,-0.8 -1,-0.5 -1,-0.3 -1,-0.4 -1,-0.8 -1,-0.9 -1,-0.9 -1,-0.9 -1,-1.5 -1,-1.6 -1,-0.5 -1,-0.4 -1,-0.3 -1,-1.1 -1,-1 -1,-1.8 -1,-1.6 -1,-1.3 -1,-1.5 -1,-1.9 -1,-1.7 -1,-1.3 -1,-1.3 -1,-1.5 -1,-0.8 -1,-0.4 -1,-1.2 -1,-2 -1,-2 -1,-1.9 -1,-1.1 -1,-1.2 -1,-2.1 -1,-2.5 -1,-2.2 -1,-2 -1,-2.4 -1,-2 -1,-1.1 -1,-1.1 -1,-2.3 -1,-3 -1,-3.5 -1,-3.6 -1,-2.7 -1,-2.6 -1,-3.8 -1,-4.9 -1,-5.2 -1,-5.1 -1,-5.7 -1,-5.9 -1,-6.5 -1,-8.4 -1,-9.9 -1,-9.4 -1,-8 -1,-6 -1,-5.8 -1,-5.2 -1,-4.1 -1,-2.3 -1,-0.8 -1,-0.7 -1,-0.1 -1,2 -1,4.3 -1,4.6 -1,3.7 -1,4.2 -1,7.1 -1,8.7 -1,8.8 -1,7.3 -1,6.2 -1,6.8 -1,6.5 -1,5.8 -1,5.2 -1,5.1 -1,5.4 -1,4.7 -1,4.8 -1,5.5 -1,5.6 -1,4.8 -1,3.6 -1,3.5 -1,4.5 -1,4.5 -1,3.7 -1,3.5 -1,3.7 -1,3.3 -1,2.4 -1,2.3 -1,2.1 -1,2.2 -1,2.4 -1,2.4 -1,2.7 -1,2.4 -1,1.9 -1,1.5 -1,1 -1,1 -1,0.8 -1,0.3 -1,0.4 -1,1 -1,0.1 -1,-1.3 -1,-1 -1,-0.1 -1,0.3 -1,0 -1,-0.5 -1,-0.3 -1,0 -1,-0.1 -1,-0.7 -1,-0.8 -1,-0.6 -1,-0.3 -1,0.2 -1,1.1 -1,2.1 -1,1.1 -1,-0.6 -1,-0.9 -1,-0.5 -1,-0.2 -1,0.3 -1,1 -1,-0.5 -1,-1.2 -1,-0.1 -1,0.5 -1,0.6 -1,1.4 -1,2.4 -1,2.2 -1,1.9 -1,1.6 -1,0.8 -1,1.5 -1,2.8 -1,3.4 -1,3.7 -1,3.8 -1,3.3 -1,2.2 -1,2.2 -1,2.7 -1,3.3 -1,3.4 -1,2.8 -1,1.9 -1,1.4 -1,2.1 -1,2.9 -1,2.2 -1,1.3 -1,1.2 -1,1.5 -1,1.5 -1,1.4 -1,1.2 -1,0.1 -1,-0.8 -1,-0.3 -1,0.2 -1,-0.3 -1,-0.4 -1,0.1 -1,-0 -1,-0 -1,-0.1 -1,-0 -1,-0.2 -1,-0.2 -1,-0 -1,-0 -1,-0 -1,0.1 -1,0.3 -1,0.4 -1,0.2 -1,-0.1 -1,-0.1 -1,-0.1 -1,-0 -1,-0.1 -1,-0 -1,0.3 -1,0.2 -1,-0 -1,-0 -1,-0.1 -1,-0.2 -1,-0.1 -1,-0.1 -1,0.2 -1,-0 -1,-0.1 -1,0.2 -1,0.2 -1,-0.3 -1,-0.5 -1,-0.1 -1,0.1 -1,0.3 -1,0.2 -1,-0 -1,-0.3 -1,-0.2 -1,0.2 -1,0.3 -1,-0.1 -1,-0.3 -1,-0.2 -1,0.1 -1,0.2 -1,0.5 -1,0.2 -1,-0.2 -1,-0.3 -1,-0.1 -1,0.1 -1,0.2 -1,0.1 -1,0.2 -1,0.2 -1,-0.3 -1,-0.4 -1,-0.3 -1,0.2 -1,0.2 -1,-0.1 -1,-0.1 -1,-0.2 -1,-0 -1,0.1 -1,-0 -1,0.1 -1,0.2 -1,0.1 -1,0.2 -1,0.3 -1,0.2 -1,-0.1 -1,-0 -1,0.1 -1,-0 -1,-0.2 -1,-0.1 -1,-0 -1,-0.2 -1,-0.4 -1,-0.2 -1,0.3 -1,0.2 -1,-0.1 -1,-0.1 -1,0.1 -1,0.2 -1,0.2 -1,0.6 -1,0.1 -1,-0.4 -1,-0.3 -1,0.1 -1,-0 -1,-0.2 -1,-0.2 -1,0.1 -1,0.4 -1,0.2 -1,-0.2 -1,-0.2 -1,0.2 -1,0.3 -1,-0 -1,-0.2 -1,-0.2 -1,-0.1 -1,0.1 -1,0.1 -1,-0.1 -1,-0 -1,0.2 -1,-0 -1,0.1 -1,0.2 -1,-0.2 -1,-0.2 -1,-0.2 -1,-0.2 -1,-0.1 -1,0.3 -1,0.5 -1,0.3 -1,-0.1 -1,-0.2 -1,0.2 -1,0.3 -1,-0 -1,-0.2 -1,-0.3 -1,-0.2 -1,-0 -1,-0 -1,-0 -1,-0.4 -1,-0.2 -1,0.1 -1,0.1 -1,-0.2 -1,-0.2 -1,-0.2 -1,0.3 -1,0.4 -1,0.1 -1,0.1 -1,0.2 -1,0 -1,0.1 -1,0 -1,-0.1 -1,-0.1 -1,-0.3 -1,-0.4 -1,-0.1 -1,0.3 -1,0.2 -1,-0.1 -1,0.1 -1,0.2 -1,-0 -1,-0.2 -1,0.1 -1,0.4 -1,-0.2 -1,-0.3 -1,0.1 -1,0.1 -1,-0.1 -1,-0.1 -1,0.3 -1,0.3 -1,0.5 -1,-0 -1,-0.2 -1,-0.5 -1,-0.4 -1,0 -1,0 -1,0.3 -1,0.3 -1,0.3 -1,-0.1 -1,-0.2 -1,-0.1 -1,0.2 -1,0.1 -1,0.2 -1,-0.2 -1,-0.2 -1,-0.2 -1,0 -1,0.2 -1,-0.2 -1,-0.3 -1,0 -1,0.3 -1,0.3 -1,0.2 -1,0 -1,-0.1 -1,-0.4 -1,-0.4 -1,-0.1 -1,0.1 -1,0.2 -1,0.1 -1,0.2 -1,0.3 -1,0.3 -1,0.2 -1,0 -1,0 -1,-0.1 -1,-0.2 -1,-0.2 -1,-0.6 -1,-0.3 -1,0.1 -1,0.2 -1,-0.1 -1,-0.1 -1,0.1 -1,0 -1,-0.1 -1,-0.3 -1,-0.1 -1,0.3 -1,0.6 -1,0.3 -1,-0.2 -1,-0.2 -1,0.1 -1,0 -1,-0.1 -1,0.2 -1,0.2 -1,0 -1,-0.2 -1,-0.2 -1,-0.2 -1,0 -1,0.2 -1,0 -1,0.2 -1,0.3 -1,0 -1,-0.2 -1,-0.3 -1,-0.2 -1,0.1 -1,0 -1,-0.2 -1,0.1 -1,0.3 -1,0.2 -1,0 -1,0 -1,-0.3 -1,-0.1 -1,0.3 -1,0.2 -1,-0.1 -1,-0.4 -1,-0.1 -1,0.1 -1,0.3 -1,0.2 -1,0.2 -1,-0.1 -1,-0.1 -1,0 -1,0 -1,0.2 -1,-0.1 -1,-0.2 -1,-0.1 -1,0.2 -1,-0 -1,-1 -1,-1.2 -1,-1.3 -1,-1.5 -1,-3.5 -1,-5 -1,-5.3 -1,-5 -1,-3.7 -1,-1.3 -1,1.4 -1,3.5 -1,4.7 -1,5.3 -1,4.7 -1,3.3 -1,1.8 -1,1.6 -1,1.2 -1,0.8 -1,0.4 -1,0.2 -1,0.3 -1,0.1 -1,-0 -1,-0.2 -1,-0.1 -1,-0 -1,-0 -1,-0.1 -1,-0.2 -1,-0 -1,0.2 -1,0.2 -1,0.1 -1,-0 -1,-0 -1,0.2 -1,0.1 -1,-0.3 -1,-0 -1,-0 -1,-0.3 -1,-0.4 -1,-0.1 -1,-0.1 -1,-0 -1,-0.1 -1,-0.1 -1,-0.2 -1,0.1 -1,0.4 -1,0.4 -1,-0 -1,-0 -1,-0.1 -1,-0.1 -1,-0 -1,-0.1 -1,-0.2 -1,-0.3 -1,-0.1 -1,0.2 -1,0.3 -1,0.4 -1,0.3 -1,-0.2 -1,-0.6 -1,-0.4 -1,-0 -1,0.3 -1,0.3 -1,0.3 -1,-0 -1,-0.2 -1,-0.4 -1,-0.5 -1,-0.2 -1,0.3 -1,0.4 -1,-0 -1,-0.2 -1,0.1 -1,0.1 -1,-0.1 -1,-0 -1,-0 -1,0.1 -1,0.1 -1,-0.1 -1,0.2 -1,-0 -1,-0 -1,-0 -1,0.2 -1,0.1 -1,0.3 -1,0.1 -1,-0.1 -1,-0.3 -1,-0.4 -1,-0.2 -1,-0 -1,0.2 -1,-0 -1,-0.2 -1,-0.3 -1,-0.1 -1,0.2 -1,0.2 -1,-0.2 -1,-0 -1,0.3 -1,0.2 -1,0.2 -1,0.1 -1,-0.1 -1,-0.3 -1,-0.1 -1,0.1 -1,0.1 -1,-0.2 -1,-0.2 -1,-0 -1,0.2 -1,0.5 -1,0.5 -1,-0 -1,-0.2 -1,-0.3 -1,-0.4 -1,-0.2 -1,0.1 -1,0.2 -1,0.3 -1,0.1 -1,-0.1 -1,-0.3 -1,-0.3 -1,0.3 -1,0.4 -1,0.2 -1,-0 -1,-0.3 -1,-0.1 -1,-0.1 -1,0.1 -1,-0.1 -1,-0.2 -1,-0.1 -1,-0.1 -1,-0 -1,0.2 -1,0.2 -1,0.1 -1,-0.1 -1,-0 -1,-0 -1,-0.1 -1,-0 -1,0.2 -1,0.4 -1,0.3 -1,-0.2 -1,-0.5 -1,-0.2 -1,0.1 -1,0.2 -1,0.1 -1,0.3 -1,-0 -1,-0.1 -1,-0.3 -1,-0.2 -1,-0.3 -1,-0.1 -1,0.4 -1,0.3 -1,-0.2 -1,-0.1 -1,0.1 -1,0.2 -1,-0.1 -1,-0.3 -1,-0.3 -1,-0.1 -1,0.1 -1,-0.1 -1,0.1 -1,0.4 -1,0.4 -1,0.1 -1,-0.1 -1,-0.1 -1,-0 -1,0.3 -1,0.7 -1,0.8 -1,0.5 -1,0.2 -1,0.2 -1,0.2 -1,-0.3 -1,-0.4 -1,-0.3 -1,-0.5 -1,-0.1 -1,0.4 -1,0.4 -1,0.1 -1,0.2 -1,0.1 -1,-0.1 -1,-0.2 -1,-0 -1,0.1 -1,-0 -1,-0.3 -1,-0.3 -1,-0.3 -1,-0 -1,0.1 -1,-0 -1,0.2 -1,0.2 -1,0.2 -1,0.1 -1,-0 -1,-0 -1,-0.1 -1,-0.1 -1,-0.3 -1,-0.5 -1,-0.3 -1,0.2 -1,0.5 -1,0.3 -1,0.1 -1,0.3 -1,0.4 -1,0.1 -1,-0.1 -1,-0.3 -1,-0.5 -1,-0.2 -1,0.2 -1,0.3 -1,-0 -1,-0 -1,0.2 -1,0.1 -1,-0 -1,-0.2 -1,-0.1 -1,-0.2 -1,-0 -1,-0.1 -1,-0.2 -1,-0.1 -1,-0 -1,-0.1 -1,0.2 -1,0.3 -1,0.2 -1,0.3 -1,0.1 -1,-0.1 -1,-0.1 -1,-0.2 -1,-0.2 -1,0.1 -1,0.1 -1,0.2 -1,-0 -1,-0.1 -1,-0 -1,0.3 -1,0.5 -1,0.3 -1,-0 -1,-0.5 -1,-0.6 -1,-0.3 -1,-0 -1,-0.2 -1,-0.1 -1,0.2 -1,0.3 -1,-0 -1,0.1 -1,0.1 -1,0.1 -1,0.2 -1,0.2 -1,0.2 -1,0.1 -1,-0 -1,-0 -1,-0 -1,-0.2 -1,-0.3 -1,-0.3 -1,-0.1 -1,-0.1 -1,0.1 -1,-0 -1,0.1 -1,0.3 -1,0.3 -1,-0 -1,-0 -1,-0.1 -1,-0 -1,0.3 -1,0.1 -1,-0.1 -1,0.3 -1,0.3 -1,-0.1 -1,-0.7 -1,-1.3 -1,-1.7 -1,-0.6 -1,0.9 -1,0.1 -1,-1.9 -1,-3 -1,-2.4 -1,-1.8 -1,-1.9 -1,-1.7 -1,-1.8 -1,-1.9 -1,-0.8 -1,0.3 -1,-0.5 -1,-1.9 -1,-2.1 -1,-1.1 -1,-0.8 -1,-0.4 -1,-0.7 -1,-0.6 -1,0.6 -1,1.3 -1,0.2 -1,-0.9 -1,-1.5 -1,-1 -1,-0.1 -1,0.2 -1,0.5 -1,0.1 -1,-0 -1,0.6 -1,1.2 -1,0.6 -1,-0 -1,-0.1 -1,-0.2 -1,-0 -1,0.8 -1,0.2 -1,-1.1 -1,-0.9 -1,-0.1 -1,0.5 -1,0.1 -1,-0.2 -1,-0.3 -1,-0.8 -1,-0.9 -1,-0.9 -1,-0.8 -1,-0.3 -1,0.1 -1,-0.4 -1,-1.4 -1,-1.4 -1,-0.7 -1,-0.4 -1,-1.5 -1,-1.9 -1,-1.4 -1,-1.9 -1,-2.4 -1,-1.7 -1,-1.3 -1,-1.7 -1,-2.4 -1,-3 -1,-3 -1,-3 -1,-3.1 -1,-2.7 -1,-2.9 -1,-3.3 -1,-4.8 -1,-4.6 -1,-4.2 -1,-4.5 -1,-4.7 -1,-3.6 -1,-2.6 -1,-1.5 -1,-1.6 -1,-2.3 -1,-2.4 -1,-2.9 -1,-1.9 -1,-0.6 -1,-1.3 -1,-1.2 -1,0.6 -1,2.2 -1,2.9 -1,3 -1,4.1 -1,5.3 -1,5.5 -1,4.7 -1,3.9 -1,3.1 -1,3.6 -1,4.9 -1,5.6 -1,4.9 -1,3.4 -1,2.8 -1,2.7 -1,2.1 -1,1.6 -1,1.4 -1,1.3 -1,1 -1,0.9 -1,1 -1,0.9 -1,0.6 -1,0.6 -1,0.8 -1,1 -1,1.3 -1,1 -1,1 -1,0.6 -1,-0.4 -1,-0.5 -1,0.9 -1,1.8 -1,1.3 -1,0.2 -1,0.2 -1,-0.1 -1,0.1 -1,0.4 -1,0.2 -1,0.3 -1,1.1 -1,0.8 -1,1 -1,1.3 -1,0.1 -1,-0 -1,1.1 -1,1 -1,-0.3 -1,-1 -1,-0.3 -1,0.8 -1,0.6 -1,0.3 -1,0.4 -1,1 -1,1.2 -1,0.9 -1,0.5 -1,0.3 -1,-0.7 -1,-1.4 -1,-0.9 -1,-0.3 -1,0.6 -1,1.4 -1,1.4 -1,0.5 -1,-0.3 -1,0.5 -1,1.1 -1,0.7 -1,0.7 -1,0.4 -1,-0 -1,-0.4 -1,-0.4 -1,-0.3 -1,-0.2 -1,0.1 -1,0.2 -1,-0 -1,0.3 -1,0.7 -1,0.4 -1,0.4 -1,0.3 -1,-0.1 -1,-0.2 -1,0.5 -1,0.9 -1,0.8 -1,0.8 -1,0.9 -1,-0.5 -1,-1.8 -1,-0.9 -1,0.2 -1,0.1 -1,-0.6 -1,0.2 -1,0.7 -1,-0.5 -1,-1.9 -1,-1.5 -1,-0.2 -1,0.4 -1,-0.1 -1,-0.4 -1,0.1 -1,-0.1 -1,-1.1 -1,-0.8 -1,0.1 -1,0.4 -1,-0.1 -1,-0.5 -1,-0.1 -1,0.4 -1,0.6 -1,0.5 -1,-0.5 -1,-1 -1,-0.8 -1,-0.5 -1,-0.2 -1,0.1 -1,0.4 -1,0.2 -1,0.4 -1,0.3 -1,0.3 -1,0.7 -1,1.2 -1,0.9 -1,-0 -1,-0.9 -1,-0.4 -1,-0.1 -1,-0.4 -1,-0 -1,-0 -1,-0.2 -1,-0 -1,0.2 -1,0.4 -1,0.6 -1,0.8 -1,0.3 -1,-0.2 -1,0.1 -1,0.5 -1,0.8 -1,0.3 -1,-0.7 -1,-0.7 -1,0.3 -1,0.7 -1,-0.3 -1,-0.2 -1,0.7 -1,1.1 -1,1.1 -1,0.6 -1,-0.5 -1,-0.8 -1,-0.3 -1,0.5 -1,0.1 -1,-0.5 -1,-0.1 -1,0.5 -1,0.9 -1,0.2 -1,-0 -1,0.1 -1,0.1 -1,0.4 -1,0.8 -1,-0.1 -1,-1 -1,-0.6 -1,0.3 -1,0.6 -1,0.7 -1,0.5 -1,0.4 -1,0.6 -1,0.5 -1,0.3 -1,-0.2 -1,-0.8 -1,-0.9 -1,-0.8 -1,-0.2 -1,1.1 -1,0.8 -1,0.3 -1,0.7 -1,0.1 -1,-0.3 -1,0.4 -1,-0 -1,-1 -1,-1.5 -1,-0.5 -1,0.2 -1,0.8 -1,1.3 -1,1 -1,0.6 -1,0.1 -1,-0.7 -1,-1.2 -1,-0.2 -1,0.6 -1,-0.1 -1,-0.3 -1,-0.4 -1,-0.6 -1,-0.3 -1,0.4 -1,0.6 -1,-0.1 -1,-0.7 -1,-0.1 -1,1 -1,0.7 -1,0.2 -1,-0.4 -1,-0.7 -1,-0.3 -1,0.6 -1,0.5 -1,-0.1 -1,-0.4 -1,-0.4 -1,-0.2 -1,-0.3 -1,-0.3 -1,-0.3 -1,-0.4 -1,0.2 -1,0.8 -1,0.9 -1,0.4 -1,-0.3 -1,0 -1,0.2 -1,-0.3 -1,-0.3 -1,0.3 -1,0.4 -1,-0.3 -1,-0.4 -1,-0 -1,-0.5 -1,-1.7 -1,-1.4 -1,-0.5 -1,0.1 -1,-0.1 -1,-0.7 -1,0.1 -1,0.8 -1,0.8 -1,-0.3 -1,-0.7 -1,0.2 -1,0.8 -1,-0.1 -1,-1.1 -1,-0.6 -1,0.3 -1,0.6 -1,1 -1,1 -1,-0.2 -1,-0.6 -1,0.2 -1,0.1 -1,-0.7 -1,0 -1,0.8 -1,0.4 -1,-0.2 -1,0.6 -1,1.3 -1,0.9 -1,0.2 -1,0.3 -1,-0.6 -1,-0.7 -1,-0.2 -1,0.5 -1,1 -1,1 -1,0.3 -1,-0.7 -1,-0.2 -1,1.1 -1,0.7 -1,0 -1,-0.3 -1,-0.4 -1,-0.5 -1,0.1 -1,0.9 -1,0.6 -1,-0.3 -1,-0.4 -1,-0.3 -1,-0.1 -1,-0.1 -1,-0.3 -1,0.2 -1,1.4 -1,0.8 -1,-0.8 -1,-1.3 -1,-0.4 -1,0.1 -1,0.3 -1,-0.4 -1,0 -1,0.6 -1,0.4 -1,-0.2 -1,0.2 -1,0 -1,-0.1 -1,-0.5 -1,-0.5 -1,-0.4 -1,-0.7 -1,0 -1,0.4 -1,-0.8 -1,-0.7 -1,-0.2 -1,1.1 -1,0.7 -1,-0.2 -1,-0.6 -1,-0.3 -1,-0.4 -1,-0.2 -1,0.5 -1,0.6 -1,0.2 -1,-0.7 -1,-0.9 -1,-1.1 -1,-0.9 -1,-1.2 -1,-0.9 -1,-1.6 -1,-0.6 -1,0.6 -1,-0.1 -1,-0.9 -1,-0.5 -1,-0.2 -1,-0.8 -1,-0.8 -1,-0.7 -1,-0.6 -1,0.7 -1,1.3 -1,0.5 -1,0.1 -1,0.5 -1,1 -1,0.5 -1,-0.1 -1,-0.2 -1,0.7 -1,1.4 -1,1.1 -1,0.9 -1,0.7 -1,0.8 -1,0.8 -1,0.1 -1,0 -1,0.9 -1,1.2 -1,0.4 -1,-0.4 -1,-0.2 -1,-0.2 -1,-0.2 -1,0.5 -1,1 -1,1.2 -1,0.7 -1,0.4 -1,0.6 -1,0.8 -1,-0.3 -1,-0.7 -1,0.2 -1,-0.1 -1,-1 -1,-1.2 -1,0.1 -1,1 -1,0.5 -1,0.4 -1,-0.3 -1,-0.2 -1,0.1 -1,-0.3 -1,-0.2 -1,1 -1,0.9 -1,-0.3 -1,0.2 -1,1.1 -1,1 -1,0.5 -1,-0.6 -1,-0.9 -1,-0.4 -1,0.2 -1,0 -1,0 -1,1 -1,0.1 -1,-0.5 -1,0.3 -1,0 -1,-0.9 -1,-0.8 -1,-0.1 -1,0.7 -1,0.1z"/>
<path stroke-width="9.4" d="M145.5,1546.5l1,0 1,-0.1 1,-0.2 1,-0.2 1,-0.3 1,-0.2 1,-0.1 1,-0.1 1,-0 1,0.2 1,0.2 1,0.2 1,0.1 1,0.1 1,-0 1,0.1 1,0 1,-0.1 1,-0 1,-0.1 1,-0.1 1,-0 1,-0 1,-0 1,-0.1 1,-0.1 1,-0.2 1,-0 1,-0.1 1,-0 1,-0.1 1,-0.1 1,-0.1 1,-0 1,-0 1,-0.1 1,-0.1 1,-0.1 1,-0.1 1,-0 1,-0 1,0.1 1,-0.2 1,-0.2 1,-0.4 1,-0.4 1,-0.3 1,-0.3 1,-0.3 1,-0.6 1,-0.7 1,-0.7 1,-0.6 1,-0.5 1,-0.3 1,-0.1 1,0.1 1,0.1 1,-0 1,-0.4 1,-0.6 1,-0.8 1,-0.8 1,-0.7 1,-0.5 1,-0.4 1,-0.3 1,-0.4 1,-0.2 1,-0.1 1,0.1 1,0.3 1,0.5 1,0.6 1,0.5 1,0.5 1,0.5 1,0.4 1,0.4 1,0.3 1,0.3 1,0.3 1,0.3 1,0.3 1,0.2 1,0.3 1,0.3 1,0.2 1,0.1 1,0.2 1,0.2 1,0.4 1,0.4 1,0.4 1,0.3 1,0.2 1,0.3 1,0.2 1,0.2 1,-0 1,-0 1,-0.1 1,0.1 1,0.1 1,0.3 1,0.3 1,0.3 1,0.2 1,-0 1,0.1 1,0.1 1,-0 1,-0 1,-0.1 1,-0 1,-0 1,-0 1,0.1 1,0.1 1,-0.1 1,-0.1 1,-0.1 1,0.1 1,0.1 1,-0 1,-0.1 1,-0.3 1,-0.4 1,-0.3 1,-0.3 1,-0 1,-0.1 1,-0 1,-0.1 1,-0 1,-0 1,-0 1,0.1 1,0.1 1,-0 1,0.1 1,-0 1,-0.1 1,-0 1,-0 1,-0 1,-0.1 1,-0.2 1,-0.3 1,-0.4 1,-0.4 1,-0.3 1,-0.3 1,-0.2 1,-0.1 1,-0.1 1,-0.2 1,-0.1 1,-0.1 1,0.1 1,-0 1,-0.1 1,-0.1 1,-0.3 1,-0.2 1,-0.3 1,-0.2 1,-0 1,-0 1,-0 1,-0 1,-0.1 1,-0.2 1,-0 1,-0.1 1,0.1 1,0.1 1,0.2 1,0.2 1,0.4 1,0.3 1,0.5 1,0.5 1,0.5 1,0.4 1,0.2 1,0.1 1,0.2 1,0.1 1,-0 1,-0.1 1,-0.1 1,-0 1,-0 1,-0 1,-0.1 1,-0.1 1,-0 1,0.1 1,-0 1,0.1 1,-0.1 1,-0.1 1,-0 1,-0 1,0.1 1,0.2 1,0.2 1,0.2 1,0.1 1,0.1 1,-0 1,-0 1,-0.1 1,-0.1 1,-0.1 1,-0 1,0.2 1,0.1 1,0.1 1,-0.2 1,-0.2 1,-0.2 1,-0.2 1,-0.2 1,-0.2 1,-0.2 1,-0.2 1,-0 1,-0 1,0.2 1,0.1 1,0.1 1,-0.1 1,-0.1 1,-0 1,0.2 1,0.2 1,0.2 1,-0 1,-0 1,-0 1,-0.1 1,-0.1 1,-0.2 1,-0.2 1,-0.2 1,-0.2 1,-0.1 1,-0.1 1,-0.1 1,-0.1 1,-0.1 1,-0.1 1,-0.1 1,-0.1 1,-0.1 1,-0.1 1,-0 1,-0.2 1,-0.2 1,-0.2 1,-0 1,0.1 1,0.1 1,0.1 1,-0 1,-0.1 1,0.1 1,-0 1,-0 1,0.1 1,-0 1,0.1 1,0.2 1,0.1 1,-0 1,-0.2 1,-0.2 1,-0.2 1,-0 1,0.1 1,0.1 1,-0.1 1,-0.1 1,-0.2 1,-0.2 1,-0.1 1,-0.3 1,-0.3 1,-0.3 1,-0.3 1,-0.3 1,-0.3 1,-0.3 1,-0.1 1,-0 1,0.1 1,0.1 1,-0.1 1,-0.1 1,-0.2 1,-0.1 1,-0 1,0.1 1,0.1 1,0.1 1,0.1 1,0.1 1,0.2 1,0.1 1,0.1 1,-0.2 1,-0.3 1,-0.2 1,-0.1 1,0.1 1,0.3 1,0.2 1,0.1 1,-0 1,-0 1,-0 1,0.1 1,0.3 1,0.4 1,0.3 1,0.2 1,-0 1,-0.3 1,-0.2 1,-0.2 1,0.1 1,0.2 1,0.2 1,0.2 1,0.2 1,-0 1,-0.1 1,-0.2 1,-0 1,0.1 1,0.2 1,0.3 1,0.3 1,0.2 1,0.1 1,-0.1 1,-0.1 1,-0.1 1,-0.1 1,-0.1 1,-0 1,0.1 1,0.1 1,0.1 1,0.1 1,-0 1,-0 1,-0.2 1,-0.1 1,-0.1 1,-0.1 1,-0.2 1,-0.2 1,-0.2 1,-0.2 1,-0.1 1,-0.1 1,-0.1 1,-0 1,-0.1 1,-0.2 1,-0.2 1,-0.2 1,-0.2 1,-0.2 1,-0.3 1,-0.4 1,-0.5 1,-0.4 1,-0.3 1,-0.1 1,-0 1,-0 1,-0.2 1,-0.2 1,-0.3 1,-0 1,0.2 1,0.3 1,0.2 1,-0 1,-0.3 1,-0.3 1,-0.3 1,-0.4 1,-0.3 1,-0.3 1,-0.3 1,-0.3 1,-0.2 1,-0.1 1,-0.1 1,-0.1 1,-0.1 1,-0.1 1,-0.1 1,-0.2 1,-0.3 1,-0.4 1,-0.5 1,-0.4 1,-0.1 1,-0 1,-0 1,-0.1 1,-0.1 1,-0.4 1,-0.6 1,-1 1,-1.3 1,-1.4 1,-1.5 1,-1.4 1,-1.4 1,-1.4 1,-1.6 1,-1.9 1,-2.3 1,-2.6 1,-2.6 1,-2.5 1,-2.4 1,-1.8 1,-1.3 1,-1.3 1,-1.1 1,-0.8 1,-0.2 1,0.5 1,1.3 1,1.7 1,2 1,2.1 1,2.1 1,1.9 1,2.2 1,2.3 1,2.3 1,2.2 1,2.1 1,2 1,1.7 1,1.5 1,1.2 1,1.1 1,1 1,0.9 1,0.8 1,0.8 1,0.7 1,0.5 1,0.4 1,0.4 1,0.5 1,0.5 1,0.5 1,0.5 1,0.5 1,0.5 1,0.5 1,0.4 1,0.3 1,0.1 1,-0 1,-0 1,0.2 1,0.3 1,0.3 1,0.3 1,0.1 1,-0 1,-0.1 1,-0.1 1,-0.1 1,0.2 1,0.1 1,0.2 1,-0 1,-0.1 1,-0.1 1,-0.1 1,-0.2 1,-0.1 1,-0.1 1,-0.1 1,-0.1 1,-0.1 1,-0.1 1,-0.3 1,-0.2 1,-0.2 1,-0 1,0.1 1,0.2 1,0.1 1,-0.2 1,-0.4 1,-0.5 1,-0.4 1,-0.3 1,-0 1,0.4 1,0.5 1,0.5 1,0.5 1,0.6 1,0.7 1,0.8 1,0.8 1,0.7 1,0.6 1,0.5 1,0.3 1,0.3 1,0.2 1,0.2 1,0.3 1,0.3 1,0.3 1,0.5 1,0.5 1,0.4 1,0.3 1,0.2 1,0.1 1,0.1 1,0.1 1,0.2 1,0.2 1,0.1 1,0.1 1,-0 1,-0 1,-0 1,-0.1 1,0.1 1,-0 1,-0 1,-0 1,-0 1,0.1 1,0.1 1,-0 1,0.1 1,-0 1,-0.1 1,-0 1,-0 1,-0 1,-0.1 1,-0 1,-0.1 1,-0 1,-0 1,0.1 1,0.1 1,0.1 1,0.1 1,-0 1,-0 1,-0 1,-0 1,-0 1,-0 1,-0 1,-0 1,-0 1,-0.2 1,-0.1 1,-0.2 1,-0 1,-0 1,0.1 1,0.1 1,0.1 1,-0 1,-0 1,-0 1,0.1 1,0.1 1,0.2 1,0.1 1,-0 1,-0 1,-0.1 1,-0.1 1,-0.1 1,-0.1 1,-0 1,-0 1,-0 1,0.1 1,-0.1 1,-0 1,-0.1 1,-0.1 1,-0 1,0.1 1,0.2 1,0.2 1,0.1 1,-0 1,-0 1,-0 1,-0 1,0.1 1,0.1 1,0.2 1,0.1 1,0.1 1,-0 1,-0.1 1,-0.2 1,-0.1 1,-0 1,-0 1,-0 1,-0 1,-0 1,-0 1,-0 1,0.1 1,0.2 1,0.1 1,0.1 1,-0 1,0.1 1,-0 1,0.1 1,-0 1,-0 1,-0.1 1,-0.2 1,-0.1 1,-0 1,-0 1,0.1 1,-0 1,-0.1 1,-0 1,-0.1 1,-0 1,-0 1,-0 1,-0.1 1,-0.1 1,-0.3 1,-0.3 1,-0.4 1,-0.2 1,-0.1 1,-0 1,0.1 1,-0 1,0.1 1,0.2 1,0.1 1,0.2 1,0.1 1,0.1 1,0.1 1,-0.1 1,-0 1,-0.2 1,-0.1 1,-0 1,-0 1,-0 1,-0 1,-0 1,-0 1,-0 1,0.1 1,0.1 1,0.1 1,0.1 1,0.1 1,-0 1,-0 1,-0.1 1,-0.1 1,-0 1,-0.1 1,-0.1 1,-0 1,-0 1,0.1 1,0.1 1,0.1 1,-0.1 1,-0.1 1,-0.1 1,-0 1,-0 1,0.1 1,0.1 1,0.1 1,-0 1,-0 1,-0 1,-0 1,-0 1,-0.1 1,-0 1,-0 1,-0 1,-0 1,-0 1,-0.1 1,-0 1,-0 1,0.1 1,0.1 1,0.2 1,0.1 1,-0 1,-0.1 1,-0.1 1,-0.1 1,-0.1 1,-0.1 1,0.1 1,-0 1,0.1 1,-0 1,-0 1,-0 1,-0.1 1,-0 1,0.1 1,0.1 1,0.1 1,0.1 1,-0 1,-0 1,-0.1 1,-0.2 1,-0 1,-0.1 1,0.1 1,0.1 1,0.1 1,0.1 1,-0 1,0.1 1,0.1 1,0.1 1,-0 1,-0.1 1,-0.2 1,-0.1 1,-0.2 1,-0.1 1,-0 1,-0.1 1,-0 1,-0 1,0.1 1,0.1 1,0.2 1,0.2 1,0.1 1,-0 1,-0.2 1,-0.1 1,-0.1 1,0.1 1,-0 1,-0 1,-0.1 1,-0 1,-0 1,-0 1,-0 1,-0 1,-0 1,-0.1 1,-0 1,-0.1 1,-0 1,0.1 1,0.1 1,0.2 1,-0 1,-0 1,-0.1 1,-0 1,-0 1,-0 1,-0 1,-0 1,-0.1 1,-0 1,0.1 1,0.1 1,0.1 1,-0 1,-0 1,-0 1,-0.1 1,-0.1 1,-0.1 1,-0.1 1,-0 1,-0 1,0.1 1,0.1 1,0.1 1,0.1 1,0.1 1,-0 1,-0.1 1,-0.2 1,-0.1 1,-0.1 1,-0.1 1,-0 1,-0 1,0.1 1,-0 1,-0.1 1,-0.2 1,-0.1 1,-0.4 1,-0.7 1,-0.8 1,-1 1,-1.9 1,-2.6 1,-2.7 1,-2.4 1,-1.6 1,-0.7 1,0.7 1,1.8 1,2.5 1,2.8 1,2.7 1,1.9 1,1.1 1,0.8 1,0.6 1,0.3 1,0.1 1,0.1 1,0.1 1,-0 1,0.1 1,-0 1,0.1 1,0.1 1,0 1,-0.1 1,-0.1 1,-0.1 1,-0.2 1,-0.1 1,-0 1,-0 1,0.1 1,-0 1,-0 1,-0.1 1,-0 1,-0 1,-0 1,0.1 1,0.1 1,-0 1,-0 1,-0 1,-0 1,-0 1,-0.1 1,-0 1,-0 1,-0 1,0.1 1,0.1 1,0 1,0.1 1,-0.1 1,0 1,0 1,0 1,0 1,0.1 1,0 1,0 1,-0.1 1,0 1,-0.1 1,-0.1 1,-0.1 1,0.1 1,0.1 1,0.2 1,0.1 1,0.1 1,-0.1 1,-0.1 1,-0.1 1,-0 1,0.1 1,-0 1,-0 1,0.1 1,-0 1,-0 1,-0.1 1,-0 1,-0.1 1,-0.1 1,-0.1 1,-0 1,-0 1,-0 1,-0 1,0.1 1,-0.1 1,-0 1,-0.1 1,-0 1,0.1 1,0.1 1,0.2 1,-0 1,-0.1 1,-0.1 1,-0.1 1,-0 1,-0 1,0.1 1,0.1 1,0.1 1,-0 1,-0 1,-0 1,-0 1,0.1 1,-0 1,0.1 1,-0.1 1,-0.1 1,-0.1 1,-0.1 1,-0 1,-0 1,0.1 1,-0 1,0.1 1,-0.1 1,-0.1 1,-0 1,-0.1 1,-0 1,0.1 1,0.1 1,0.2 1,-0 1,-0 1,-0.1 1,-0.1 1,-0.1 1,-0 1,-0.1 1,-0 1,0.1 1,0.1 1,0.1 1,0.2 1,0.1 1,0.1 1,-0.1 1,-0 1,-0.1 1,-0.1 1,-0 1,-0 1,-0 1,-0 1,0.1 1,0.1 1,-0 1,-0.1 1,-0.1 1,-0.1 1,-0 1,0.1 1,-0 1,0.1 1,-0 1,-0 1,-0.1 1,-0 1,-0 1,-0 1,0.1 1,0.1 1,0.1 1,0.1 1,-0 1,-0.1 1,-0 1,-0.1 1,-0 1,0.1 1,-0 1,0.1 1,-0.1 1,-0.1 1,-0.1 1,-0.1 1,-0.2 1,-0.1 1,-0.1 1,-0 1,0.1 1,0.1 1,0.2 1,-0 1,-0 1,0.1 1,-0 1,0.1 1,0.1 1,-0 1,-0 1,-0.1 1,-0 1,-0.1 1,-0 1,-0.1 1,-0 1,-0.1 1,-0 1,0.1 1,-0 1,0.1 1,-0 1,-0.1 1,-0 1,-0 1,-0.1 1,-0 1,0.1 1,-0 1,-0 1,-0.1 1,-0.1 1,-0.1 1,-0.1 1,-0 1,-0 1,-0 1,-0.1 1,0.1 1,-0 1,0.1 1,-0 1,0.1 1,0.1 1,-0 1,-0 1,-0 1,0.1 1,-0.1 1,-0 1,-0.1 1,0.1 1,-0 1,0.2 1,-0 1,-0 1,-0 1,-0 1,0.1 1,-0 1,-0 1,-0.2 1,-0.1 1,-0 1,-0 1,-0.1 1,-0 1,-0.1 1,-0.1 1,-0 1,-0 1,-0 1,0.1 1,0.1 1,0.2 1,0.1 1,0.1 1,-0 1,-0 1,-0.1 1,-0.1 1,-0.1 1,-0 1,-0 1,0.1 1,0.1 1,0.1 1,-0 1,-0.2 1,-0.2 1,-0.1 1,-0.1 1,0.1 1,0.1 1,0.1 1,-0 1,-0 1,-0.1 1,-0 1,-0 1,0.1 1,-0 1,0.2 1,0.2 1,0.2 1,0.1 1,-0.1 1,-0.3 1,-0.6 1,-0.7 1,-0.6 1,-0.7 1,-0.7 1,-0.6 1,-0.5 1,-0.3 1,-0.2 1,-0.3 1,-0.6 1,-1 1,-1.3 1,-1.3 1,-1.4 1,-1.6 1,-1.8 1,-1.9 1,-1.9 1,-1.8 1,-1.5 1,-1.5 1,-1.5 1,-1.6 1,-1.7 1,-1.6 1,-1.7 1,-1.6 1,-1.5 1,-1.5 1,-1.5 1,-1.5 1,-1.2 1,-0.9 1,-0.6 1,-0.2 1,0.4 1,1.4 1,2 1,1.9 1,1 1,0.3 1,0.3 1,0.3 1,0.2 1,0.1 1,-0.1 1,-0.3 1,-0.2 1,-0.3 1,-0.2 1,-0.2 1,-0 1,0.2 1,0.4 1,0.3 1,0.2 1,0.1 1,0.1 1,0.1 1,-0 1,-0.2 1,-0.3 1,-0.4 1,-0.4 1,-0.3 1,-0.2 1,-0.2 1,-0.2 1,-0.4 1,-0.4 1,-0.4 1,-0.2 1,-0.1 1,-0 1,-0.2 1,-0.5 1,-0.7 1,-0.8 1,-0.7 1,-0.7 1,-0.8 1,-0.8 1,-1 1,-0.9 1,-0.8 1,-1.1 1,-1.2 1,-1.4 1,-1.6 1,-1.8 1,-1.9 1,-2 1,-2.2 1,-2.5 1,-2.7 1,-3.1 1,-3.3 1,-3.3 1,-3.5 1,-3.6 1,-3.7 1,-3.7 1,-3.8 1,-4 1,-4.1 1,-4.1 1,-4 1,-3.8 1,-3.8 1,-4.2 1,-4.2 1,-3.5 1,-2.5 1,-0.9 1,0.6 1,1.4 1,2 1,2.5 1,2.8 1,3 1,4.5 1,6.5 1,7.3 1,6.5 1,4.4 1,3.5 1,3.2 1,2.7 1,2.5 1,2.2 1,2.1 1,1.8 1,1.7 1,1.4 1,1.2 1,0.9 1,0.9 1,0.8 1,0.9 1,0.7 1,0.7 1,0.8 1,0.8 1,1 1,0.9 1,0.9 1,0.7 1,0.9 1,0.8 1,0.8 1,0.6 1,0.5 1,0.4 1,0.5 1,0.6 1,0.7 1,0.7 1,0.7 1,0.7 1,0.6 1,0.6 1,0.5 1,0.4 1,0.6 1,0.6 1,0.7 1,0.7 1,0.7 1,0.6 1,0.4 1,0.3 1,0.1 1,0.1 1,0.2 1,0.2 1,0.4 1,0.5 1,0.5 1,0.4 1,0.4 1,0.2 1,0.2 1,0.3 1,0.4 1,0.5 1,0.6 1,0.6 1,0.4 1,0.3 1,0.2 1,0.3 1,0.2 1,0.3 1,0.2 1,-0 1,-0.2 1,-0.3 1,-0.3 1,-0.2 1,-0.1 1,-0.1 1,-0 1,-0 1,-0 1,-0 1,-0.2 1,-0.2 1,-0.2 1,-0 1,-0 1,-0.1 1,-0.3 1,-0.4 1,-0.5 1,-0.4 1,-0.3 1,-0.2 1,-0.1 1,-0.2 1,-0 1,-0.2 1,-0.2 1,-0.3 1,-0.4 1,-0.4 1,-0.4 1,-0.5 1,-0.5 1,-0.5 1,-0.7 1,-0.7 1,-0.7 1,-0.7 1,-0.7 1,-0.7 1,-0.6 1,-0.5 1,-0.5 1,-0.3 1,-0.3 1,-0.1 1,-0.2 1,-0.3 1,-0.4 1,-0.5 1,-0.4 1,-0.4 1,-0.5 1,-0.4 1,-0.5 1,-0.3 1,-0.2 1,-0 1,0.2 1,0.3 1,0.5 1,0.5 1,0.5 1,0.4 1,0.3 1,0.2 1,0.2 1,0.3 1,0.5 1,0.7 1,0.7 1,0.7 1,0.6 1,0.5 1,0.5 1,0.3 1,0.2 1,0.2 1,0.4 1,0.6 1,0.7 1,0.5 1,0.4 1,0.3 1,0.1 1,-0 1,-0 1,-0.2 1,-0.1 1,-0.2 1,-0.1 1,-0.1 1,-0.2 1,-0.1 1,-0.2 1,-0.2 1,-0.1 1,-0.1 1,-0.1 1,0.1 1,0.2 1,0.2 1,0.2 1,-0 1,-0.1 1,-0.1 1,-0 1,0.1 1,-0 1,-0.1 1,-0.1 1,-0.3 1,-0.4 1,-0.3 1,-0.2 1,-0 1,0.2 1,0.3 1,0.1 1,-0 1,-0.2 1,-0.3 1,-0.2 1,-0.1 1,-0.1 1,-0.2 1,-0.3 1,-0.5 1,-0.3 1,-0.2 1,0.1 1,0.2 1,0.1 1,-0.1 1,-0.2 1,-0.4 1,-0.3 1,-0.3 1,-0.2 1,-0.2 1,-0.3 1,-0.3 1,-0.3 1,-0.2 1,-0.2 1,-0.3 1,-0.5 1,-0.4 1,-0.4 1,-0.3 1,-0.3 1,-0.2 1,-0.3 1,-0.4 1,-0.5 1,-0.5 1,-0.4 1,-0.5 1,-0.6 1,-0.6 1,-0.8 1,-0.9 1,-1 1,-1 1,-1 1,-0.9 1,-1 1,-1.1 1,-1 1,-1 1,-0.9 1,-0.9 1,-1.2 1,-1.3 1,-1.5 1,-1.6 1,-1.6 1,-1.4 1,-1.4 1,-1.6 1,-1.8 1,-2.1 1,-2.1 1,-2.2 1,-2.1 1,-2 1,-2.3 1,-2.5 1,-2.1 1,-1.2 1,-0.1 1,0.4 1,0.7 1,0.9 1,1.1 1,1.1 1,1.3 1,1.2 1,1.4 1,1.5 1,1.7 1,2.1 1,2.3 1,2.3 1,2.4 1,2.4 1,2.3 1,1.9 1,1.4 1,1.1 1,1 1,1 1,0.9 1,1.1 1,1.1 1,1.1 1,1 1,0.8 1,0.4 1,0.3 1,0.2 1,0.1 1,-0.1 1,-0.2 1,-0.2 1,-0.1 1,-0 1,0.2 1,0.1 1,-0 1,-0.1 1,-0.1 1,-0 1,0.1 1,-0 1,-0.1 1,-0.3 1,-0.3 1,-0.4 1,-0.4 1,-0.5 1,-0.6 1,-0.7 1,-0.9 1,-1 1,-0.9 1,-0.8 1,-0.7 1,-0.8 1,-0.8 1,-0.7 1,-0.5 1,-0.4 1,-0.4 1,-0.4 1,-0.6 1,-0.6 1,-0.7 1,-0.8 1,-1.1 1,-1.7 1,-3 1,-4.1 1,-4.6 1,-4.7 1,-4.7 1,-4.5 1,-4.4 1,-4.5 1,-4.6 1,-4.8 1,-5.1 1,-5.6 1,-6.3 1,-7.4 1,-8.4 1,-8.8 1,-9.2 1,-10.2 1,-10.7 1,-10.6 1,-9.6 1,-9.8 1,-9.2 1,-7.4 1,-4.6 1,-3.7 1,-3 1,-2 1,-0.8 1,1.2 1,3.9 1,5.6 1,6.5 1,9.2 1,14.3 1,16.2 1,15.3 1,16.2 1,14.6 1,12 1,11.1 1,9.7 1,7.9 1,6.5 1,6 1,5.2 1,4.1 1,2.9 1,1.8 1,1.6 1,1.5 1,1.5 1,1.4 1,1.2 1,0.9 1,0.8 1,0.6 1,0.5 1,0.6 1,0.5 1,0.5 1,0.5 1,0.5 1,0.5 1,0.5 1,0.6 1,0.7 1,0.9 1,0.8 1,0.8 1,0.6 1,0.5 1,0.4 1,0.4 1,0.4 1,0.2 1,-0 1,-0 1,-0.2 1,-0.2 1,-0.1 1,-0 1,0.1 1,0.1 1,0.2 1,-0 1,-0 1,-0.2 1,-0.2 1,-0 1,0.1 1,0.2 1,0.2 1,0.1 1,-0.2 1,-0.2 1,-0.1 1,0.1 1,0.1 1,-0 1,-0 1,-0 1,-0 1,0.1 1,0.2 1,0.1 1,0.1 1,-0.1 1,-0.2 1,-0.1 1,-0.2 1,-0.2 1,-0.1 1,-0 1,0.2 1,0.1 1,0.2 1,-0 1,-0.1 1,-0.1 1,-0.1 1,-0.1 1,-0.1 1,-0.1 1,-0.1 1,-0.2 1,-0.2 1,-0.2 1,-0.2 1,-0.1 1,-0.2 1,-0.2 1,-0.2 1,-0.1 1,0.1 1,0.1 1,0.2 1,0.1 1,-0.1 1,-0.1 1,-0.1 1,-0 1,-0 1,0.1 1,-0.1 1,0.1 1,0.1 1,0.4 1,0.5 1,0.5 1,0.4 1,0.1 1,0.1 1,-0.1 1,-0.1 1,-0.1 1,-0.2 1,-0.1 1,0.1 1,0.1 1,0.2 1,0.3 1,0.1 1,0.1 1,-0 1,-0 1,-0 1,0.1 1,0.2 1,0.1 1,-0 1,-0.1 1,-0.2 1,-0.1 1,-0 1,-0.1 1,-0.1 1,-0.1 1,-0 1,-0 1,0.1 1,0.1 1,0.1 1,0.1 1,-0.1 1,-0.2 1,-0.1 1,-0.2 1,-0.1 1,-0.3 1,-0.3 1,-0.4 1,-0.2 1,-0.1 1,0.1 1,-0 1,-0 1,-0.2 1,-0.3 1,-0.2 1,-0.2 1,-0 1,0.2 1,0.1 1,-0 1,-0.3 1,-0.5 1,-0.4 1,-0.3 1,0.1 1,0.3 1,0.5 1,0.5 1,0.4 1,0.1 1,-0.1 1,-0 1,-0.1 1,-0 1,-0 1,-0.1 1,0.1 1,-0 1,-0.1 1,-0.1 1,-0.3 1,-0.3 1,-0.5 1,-0.4 1,-0.4 1,-0.2 1,-0.1 1,-0 1,-0.2 1,-0.3 1,-0.3 1,-0.2 1,-0.1 1,-0 1,-0.2 1,-0.1 1,-0.1 1,-0 1,-0.1 1,-0 1,-0 1,-0 1,-0.2 0.5,-0.1"/>
<path stroke="none" fill="#000" d="M145.5,1541.4l1,0.8 1,-0.4 1,-0.7 1,-1.6 1,-0.7 1,0 1,-0.3 1,0 1,0.6 1,0.4 1,0.2 1,0.1 1,-0.1 1,0.2 1,0.3 1,0.1 1,0.1 1,0.2 1,0.3 1,0.1 1,0.2 1,0 1,-0.9 1,-0.7 1,-0.1 1,0.4 1,0.2 1,0.1 1,0 1,-0.5 1,-0.6 1,-0.2 1,0.7 1,0.6 1,-0.4 1,0 1,0.2 1,0.6 1,0.3 1,-1 1,-1.6 1,-0.7 1,0.5 1,0.8 1,-0.2 1,-0.6 1,-0.4 1,-0.3 1,-0.6 1,-1.1 1,-1.2 1,-0.6 1,-0.4 1,0 1,0.5 1,-0.3 1,-1.1 1,-0.2 1,0.2 1,-0.4 1,-1.4 1,-1.5 1,-0.8 1,-0.2 1,0 1,0.1 1,0 1,0.2 1,-0.1 1,-0.7 1,-0.2 1,0.3 1,0.4 1,1.5 1,1.4 1,0.4 1,0.1 1,0.8 1,1 1,0 1,-0.5 1,0.1 1,0.6 1,0.6 1,0 1,0.1 1,0.1 1,-0.2 1,0.1 1,0.8 1,1.6 1,0.7 1,-0.7 1,-0.4 1,0.8 1,1.1 1,0.1 1,0 1,-0.1 1,0 1,0.2 1,0 1,-0.3 1,0.1 1,0.2 1,-0.1 1,0 1,-0.2 1,-0.9 1,0.2 1,1.2 1,0.6 1,-0.3 1,-0.4 1,-0.2 1,-0.1 1,0.4 1,0.5 1,0 1,-0.2 1,0.1 1,0.1 1,0 1,0.3 1,0 1,-0.3 1,-0.4 1,-0.7 1,-0.7 1,0 1,0.6 1,-0.3 1,-0.9 1,-0.1 1,0.4 1,0.6 1,0.9 1,0.7 1,-0.3 1,-0.8 1,-1 1,-0.2 1,0.4 1,-0.1 1,-0.6 1,-0.6 1,0.3 1,0.8 1,-0.3 1,-0.6 1,-0.2 1,0 1,0 1,-0.1 1,-0.1 1,0.2 1,-0.3 1,-1 1,-0.6 1,0.4 1,0.7 1,0.4 1,-0.1 1,-0.7 1,-0.6 1,-0.3 1,-0.3 1,-0.2 1,-0.1 1,-0.3 1,-0.3 1,-0.3 1,0 1,0.3 1,0.1 1,-0.1 1,0.7 1,1.3 1,0.5 1,-0.4 1,-0.3 1,-0.1 1,0.4 1,1.5 1,1.4 1,0.3 1,-0.2 1,-0.1 1,0.1 1,-0.1 1,-0.2 1,0.2 1,-0.3 1,-0.7 1,-0 1,0.1 1,0.3 1,0.4 1,0.3 1,0.2 1,-0 1,0.4 1,0.4 1,-0.2 1,-0.4 1,-0 1,-0.3 1,-0.7 1,0.2 1,0.7 1,-0.5 1,-1.3 1,-0 1,0.7 1,-0.4 1,-0.7 1,-0.2 1,0.6 1,0.6 1,0.6 1,0.7 1,0.2 1,-0.4 1,-0.4 1,-0.5 1,0 1,-0.2 1,-0.4 1,0.1 1,0.2 1,-0.4 1,-0.4 1,0.3 1,0.8 1,0.3 1,0 1,-0.2 1,-0.9 1,-1 1,0 1,0.9 1,1 1,0.7 1,-0.1 1,-0.5 1,-0.9 1,-0.5 1,0.3 1,0 1,-0.5 1,-0.7 1,-0.5 1,0.5 1,1 1,0.8 1,-0.3 1,-0.5 1,-0.2 1,-0.7 1,-1.1 1,-1 1,-0.1 1,1 1,1.2 1,0.4 1,-0.1 1,-0.7 1,-0.5 1,0.1 1,0.5 1,0 1,-0.1 1,0.7 1,0.5 1,-0.3 1,-0.4 1,-0.1 1,0.3 1,0.3 1,0 1,0 1,-0.3 1,-0.4 1,-0.6 1,-0.8 1,-0.6 1,0 1,0.2 1,-0.5 1,-0.4 1,0.1 1,0.1 1,-0.2 1,-0.1 1,0.2 1,-0.2 1,-0.4 1,-0.2 1,-0.2 1,-0.3 1,-0.3 1,0.2 1,0.5 1,0 1,0 1,0.3 1,0.5 1,0.2 1,-0.2 1,0 1,-0.1 1,-0.6 1,-0.1 1,0.2 1,-0.6 1,-0.8 1,0.7 1,1.3 1,0.6 1,-0.3 1,-0.1 1,0.5 1,0.6 1,0.6 1,0.1 1,-0.3 1,-0.6 1,-0.5 1,-0.3 1,-0.2 1,0.2 1,-0.1 1,-0.1 1,0.3 1,0.2 1,0 1,0.3 1,-0.1 1,-0.1 1,0.7 1,0.5 1,-0.3 1,-0 1,0.3 1,0.2 1,-0.1 1,-0.3 1,-0.1 1,0.1 1,0.3 1,0.4 1,0.4 1,-0 1,-0.1 1,-0 1,-0.3 1,-0.2 1,0.3 1,-0.3 1,-1 1,-0.2 1,0.7 1,1 1,0.6 1,-0 1,-0.4 1,-0.6 1,-1 1,-0.5 1,0.1 1,-0.4 1,-0.6 1,-0.5 1,-0 1,-0.2 1,-0.3 1,-0.2 1,0.5 1,0.7 1,-0.2 1,-0.6 1,-0.4 1,-0.2 1,-0.3 1,-0.4 1,-0.4 1,-0.7 1,-0.6 1,0.2 1,0.4 1,0.4 1,0.3 1,-0 1,0.1 1,-0.1 1,-0.1 1,-0 1,-0.7 1,-0.9 1,-0.2 1,-0.1 1,-0.2 1,-0 1,0.3 1,-0.6 1,-0.7 1,-0 1,-0.1 1,-0.7 1,-0.2 1,-0.1 1,-1 1,-0.8 1,0.3 1,0.3 1,0.2 1,0.8 1,-0 1,-1.4 1,-1.4 1,-0.3 1,-0.2 1,-0.9 1,-1.4 1,-1.6 1,-1.7 1,-1.2 1,-1.2 1,-2.1 1,-3.1 1,-3.2 1,-2.5 1,-2.3 1,-2.5 1,-2.1 1,-0.9 1,-0.5 1,-1.4 1,-1.8 1,-1.4 1,0.2 1,1.9 1,3.2 1,2.7 1,1.8 1,1.7 1,1.8 1,2.3 1,3.1 1,2.9 1,1.4 1,0.7 1,1.6 1,2.2 1,1.9 1,1.2 1,0.8 1,0.6 1,0.7 1,1.3 1,1.5 1,0.9 1,0.1 1,0.1 1,0.7 1,0.6 1,0.2 1,0.3 1,-0.1 1,-0 1,0.5 1,1 1,0.5 1,0.1 1,0.4 1,0.5 1,0.3 1,0.3 1,-0 1,-0.3 1,-0.4 1,-0.1 1,0.4 1,0.5 1,0.4 1,0.3 1,0.1 1,0.1 1,0.2 1,-0 1,-0.4 1,-0.2 1,-0.3 1,-0.3 1,-0.2 1,-0.4 1,-0.3 1,0.4 1,0.8 1,0.2 1,-0.4 1,-0.1 1,0.3 1,-0.7 1,-0.8 1,0.2 1,0.2 1,-0.3 1,-0.2 1,0.3 1,-0 1,-0.6 1,-0.8 1,0.3 1,1.2 1,0.8 1,0.6 1,0.2 1,0.5 1,0.9 1,0.7 1,-0 1,-0.3 1,0.4 1,0.8 1,0.7 1,0.4 1,0.3 1,0.3 1,0.3 1,0.2 1,0.5 1,0.9 1,0.6 1,-0.1 1,-0.1 1,0.3 1,1 1,0.4 1,-0.4 1,-0.3 1,0.3 1,0.8 1,0.6 1,-0.1 1,-0.3 1,-0 1,0.1 1,0.3 1,0.2 1,0.1 1,0.1 1,-0 1,-0 1,0.1 1,0.1 1,-0.4 1,-0.5 1,-0.2 1,0.1 1,0.3 1,0.2 1,-0.1 1,-0.2 1,0 1,0.1 1,0.2 1,0 1,-0.4 1,-0.1 1,0.5 1,0.4 1,0 1,-0.2 1,-0.1 1,0.2 1,0 1,-0.3 1,-0.3 1,0.1 1,-0.1 1,-0.3 1,-0 1,0.1 1,0.1 1,0 1,-0.1 1,0.1 1,0.2 1,0.3 1,0.1 1,0 1,0.1 1,0.5 1,0.2 1,0 1,-0.1 1,-0.4 1,-0.3 1,0 1,0.1 1,0 1,-0.1 1,0.1 1,0.1 1,-0.4 1,-0.3 1,0.1 1,0.4 1,0.2 1,-0.1 1,-0.1 1,0.2 1,0 1,-0.1 1,0 1,0.1 1,0.2 1,0.5 1,0.3 1,0.1 1,-0.1 1,-0.2 1,-0.2 1,-0.2 1,-0.2 1,-0.2 1,0.1 1,0.3 1,0.1 1,-0.2 1,-0.4 1,0 1,0.3 1,0.2 1,0.1 1,0.2 1,0.2 1,0 1,0 1,-0.1 1,-0.1 1,0.1 1,0.2 1,0.1 1,-0.2 1,-0.2 1,0.1 1,0.2 1,0.1 1,-0.3 1,-0.2 1,0 1,0.1 1,0.1 1,0 1,0 1,0 1,-0.4 1,-0.4 1,-0.6 1,-0.4 1,-0.1 1,-0.1 1,0 1,0.3 1,0.3 1,-0.1 1,-0.3 1,0.3 1,0.3 1,-0.1 1,0.1 1,0.2 1,0.3 1,0 1,-0.1 1,-0.1 1,-0.3 1,-0.2 1,0.1 1,0.1 1,-0.2 1,0 1,0.2 1,0.1 1,0.1 1,0.1 1,0.1 1,-0.2 1,-0.1 1,-0.2 1,-0.1 1,0 1,0 1,0 1,0.1 1,0.3 1,0.3 1,-0.1 1,-0.2 1,-0.2 1,-0.2 1,0 1,0.4 1,0.2 1,-0.1 1,-0.1 1,0.1 1,0.3 1,0.2 1,-0.1 1,-0.3 1,-0.1 1,-0.1 1,0.2 1,0.2 1,0.1 1,-0.1 1,-0.1 1,-0.3 1,-0.2 1,0 1,0.1 1,0.3 1,0.3 1,-0.1 1,0 1,-0.1 1,-0.2 1,-0.1 1,0.2 1,0 1,-0.2 1,-0.2 1,0.2 1,0.1 1,-0.1 1,-0.1 1,0.1 1,0 1,0.1 1,0 1,0.3 1,0.1 1,-0.4 1,-0.2 1,0.1 1,-0.1 1,0.2 1,0.4 1,0.3 1,0.1 1,0.1 1,0 1,0 1,0 1,0.1 1,-0.2 1,-0.1 1,0 1,0.1 1,-0.1 1,-0.3 1,-0.5 1,-0.2 1,0.2 1,0.2 1,-0.1 1,0 1,0.3 1,0.3 1,0.2 1,0.2 1,0 1,-0.4 1,-0.4 1,-0.1 1,0.1 1,0.3 1,0.2 1,-0.1 1,-0.2 1,-0.3 1,-0.5 1,-0.1 1,0.1 1,0 1,0.2 1,0.3 1,0 1,0 1,0 1,0.2 1,0.3 1,0.4 1,0.1 1,-0.1 1,0 1,0.1 1,0.1 1,-0.3 1,-0.5 1,-0.2 1,0 1,0.4 1,0.2 1,0 1,0.1 1,0 1,-0.2 1,-0.2 1,-0.2 1,-0.3 1,-0.4 1,-0.1 1,0.2 1,0.5 1,0.4 1,-0.1 1,-0.2 1,0 1,0 1,-0.1 1,-0.3 1,0 1,0.2 1,0.3 1,0 1,-0.1 1,-0.2 1,-0.1 1,-0.1 1,-0.2 1,-0.3 1,-0.6 1,-0.8 1,-0.8 1,-0.9 1,-1.7 1,-2.2 1,-2.2 1,-2.1 1,-1.9 1,-1.1 1,0.3 1,1.7 1,2.5 1,2.8 1,2.6 1,1.9 1,1.2 1,1.1 1,0.9 1,0.4 1,-0.1 1,-0.1 1,0 1,0 1,0 1,0.1 1,0.1 1,0.3 1,0.1 1,-0.4 1,-0.2 1,-0.2 1,-0.1 1,0.1 1,0.2 1,0.2 1,-0.1 1,-0.1 1,0.1 1,0 1,-0.1 1,-0.3 1,-0.1 1,0 1,0 1,-0.2 1,0 1,0.2 1,0.4 1,0.3 1,0.2 1,0 1,-0.2 1,-0.2 1,-0.1 1,-0.3 1,-0.2 1,0.1 1,0.2 1,0 1,-0.2 1,-0.1 1,0 1,0.2 1,0.1 1,0.1 1,0.1 1,0 1,0 1,0 1,0.2 1,0.1 1,-0.3 1,-0.3 1,-0.1 1,0.1 1,0 1,0.3 1,0 1,0 1,0 1,0.2 1,0 1,0 1,0.2 1,0 1,-0.2 1,-0.1 1,0 1,-0.1 1,-0.1 1,0 1,-0.1 1,0.1 1,0.3 1,0.1 1,-0.1 1,-0.2 1,-0.3 1,-0.2 1,0.2 1,0.4 1,0.4 1,0.3 1,0 1,-0.3 1,-0.1 1,0 1,-0.5 1,-0.3 1,0.1 1,0.3 1,0 1,0.2 1,0.2 1,0 1,-0.3 1,0 1,0 1,0.1 1,0.1 1,0 1,-0.3 1,-0.2 1,0.2 1,0.1 1,0.1 1,0 1,-0.1 1,0 1,0 1,-0.1 1,-0.1 1,0.2 1,-0.1 1,-0.1 1,0.2 1,0.3 1,0.1 1,-0.4 1,-0.3 1,-0.1 1,0.2 1,0.4 1,0.1 1,0.1 1,0.1 1,0 1,-0.1 1,0 1,0.3 1,0.1 1,-0.1 1,-0.3 1,-0.2 1,-0.2 1,0.1 1,0 1,0 1,0.3 1,0.1 1,-0.1 1,-0.2 1,0.1 1,0.2 1,0 1,-0.2 1,0.2 1,0.2 1,-0.1 1,-0.2 1,-0.2 1,0 1,0.5 1,0.2 1,0.1 1,0 1,-0.1 1,-0.1 1,-0.1 1,-0.1 1,-0.1 1,-0.3 1,-0 1,0.2 1,0.5 1,0.2 1,-0.2 1,-0.2 1,-0.2 1,-0.2 1,-0.2 1,-0.1 1,-0 1,0.1 1,-0.3 1,-0.4 1,0 1,0.3 1,0.7 1,0.4 1,-0 1,-0.3 1,-0.3 1,-0 1,0.1 1,-0 1,0.2 1,0.2 1,-0 1,-0 1,-0.1 1,-0.3 1,-0.1 1,0.1 1,0.1 1,0.2 1,0.2 1,-0.2 1,-0.4 1,-0.3 1,-0.2 1,-0 1,0.1 1,-0.2 1,0 1,0.3 1,0.3 1,0 1,-0.1 1,-0.4 1,-0.1 1,0.2 1,0.1 1,0.1 1,0.1 1,-0.1 1,0 1,0 1,0.1 1,0 1,-0.2 1,0 1,0.2 1,0.3 1,0 1,-0.3 1,-0.2 1,0.1 1,0.3 1,0.2 1,-0.1 1,-0.1 1,0 1,-0.1 1,0 1,-0.2 1,-0.1 1,-0.1 1,-0 1,-0 1,0.2 1,-0.1 1,-0.2 1,-0.2 1,-0 1,0.2 1,0.3 1,0.1 1,0 1,0.1 1,0.3 1,0.2 1,-0.2 1,-0.3 1,-0.2 1,-0.1 1,-0.1 1,0.1 1,0.2 1,0.2 1,0.1 1,0.1 1,0 1,-0.1 1,-0.4 1,-0.2 1,0.1 1,0 1,0 1,0.3 1,0.2 1,0 1,-0.1 1,-0.2 1,-0.1 1,0.2 1,0.2 1,0.3 1,0.1 1,0 1,-0.2 1,-0.7 1,-0.4 1,-0.3 1,-1.1 1,-1.2 1,-0.9 1,-1.2 1,-0.8 1,-0.2 1,0.6 1,0 1,-1 1,-1.1 1,-0.8 1,-0.4 1,-1 1,-2.3 1,-2.5 1,-2 1,-1.7 1,-2 1,-1.9 1,-1.4 1,-1.3 1,-1.6 1,-1.5 1,-1.7 1,-1.6 1,-1.5 1,-1.6 1,-2.1 1,-2.2 1,-1.6 1,-0.9 1,-0.9 1,-0.3 1,-0.2 1,-0.3 1,1.5 1,2.5 1,2.4 1,1.2 1,0.4 1,0.8 1,0.7 1,-0.2 1,-0.5 1,0.1 1,-0.2 1,-0.8 1,-0.4 1,0.1 1,0 1,-0.2 1,0 1,0.2 1,0.2 1,0.5 1,0.6 1,0.5 1,0.2 1,0.1 1,-0.5 1,-0.8 1,-0.3 1,0.2 1,0 1,-1.4 1,-1.5 1,-0.5 1,-0.1 1,0.2 1,0.4 1,0.6 1,-0.1 1,-0.6 1,-0.4 1,0 1,-0.8 1,-1.8 1,-1.1 1,-0.3 1,-0.1 1,-0.6 1,-1.2 1,-1.2 1,-1.1 1,-1.2 1,-1.1 1,-1 1,-1.3 1,-1.6 1,-2.1 1,-2.4 1,-2.4 1,-2.5 1,-2.9 1,-3.1 1,-2.8 1,-3.5 1,-3.5 1,-3.4 1,-3.5 1,-3.2 1,-3.6 1,-3.8 1,-3.8 1,-4.4 1,-4.1 1,-3.8 1,-3.6 1,-4 1,-4.6 1,-4.4 1,-2.6 1,-0.6 1,0.6 1,0.9 1,1.6 1,2.6 1,3.2 1,3.4 1,4.7 1,6.4 1,6.9 1,6.2 1,4.5 1,3.3 1,3.1 1,3.1 1,2.6 1,2.4 1,2.5 1,1.4 1,0.9 1,1.3 1,2 1,2 1,0.8 1,-0.1 1,0.2 1,0.6 1,0.9 1,1.2 1,0.5 1,0.6 1,0.8 1,0.6 1,0.4 1,1.1 1,1.4 1,1.4 1,0.8 1,-0 1,0.3 1,0.9 1,0.7 1,0.5 1,0.6 1,0.8 1,1.4 1,1.2 1,0.3 1,-0.6 1,-0.4 1,0.3 1,0.9 1,1 1,1.7 1,1.4 1,0.2 1,-0.5 1,-0.4 1,0.5 1,0.5 1,0.3 1,1 1,1.7 1,0.7 1,-0.7 1,-0.8 1,0.1 1,0.3 1,0.1 1,0.2 1,0.9 1,1.1 1,0.6 1,0.2 1,0.2 1,0.4 1,0.3 1,0.3 1,-0.2 1,-0.2 1,0.5 1,0.1 1,-0.5 1,0.3 1,0.5 1,-0.3 1,-0.4 1,-0.4 1,0.3 1,0.7 1,-0.1 1,-0.2 1,0.2 1,-0.6 1,-0.8 1,0.2 1,1.1 1,0.5 1,-0.3 1,-1.2 1,-1.2 1,-0.9 1,-1 1,-0.4 1,0.5 1,0.4 1,-0.4 1,-0.6 1,-0.4 1,0.2 1,0.4 1,0.1 1,-0.7 1,-1.6 1,-0.8 1,-0.4 1,-0.5 1,-0.2 1,-0.8 1,-1.2 1,-1.1 1,-1.3 1,-0.8 1,0.1 1,0.6 1,0.1 1,-0.1 1,-0 1,-0.5 1,-0.8 1,-0.7 1,-0.2 1,-0 1,-0.7 1,-0.1 1,0.1 1,-0.2 1,-0.5 1,-0.8 1,-0.5 1,-0 1,0.1 1,0.4 1,0.5 1,0.5 1,-0 1,-0.2 1,-0.2 1,0.2 1,1.1 1,0.9 1,0.3 1,1 1,1.9 1,1.1 1,0.1 1,-0.5 1,-0.5 1,0.4 1,0.8 1,0.8 1,1 1,1 1,0.5 1,0.1 1,0.3 1,0.5 1,-0 1,-0.7 1,-0.5 1,-0.1 1,0.7 1,0.8 1,0.1 1,-0.7 1,-0.7 1,0 1,-0.3 1,-1 1,-0.5 1,0.2 1,0.2 1,0.4 1,0.3 1,-0.2 1,-0.4 1,0 1,0.6 1,0.2 1,0.1 1,-0.1 1,-0.6 1,-0.8 1,-0.1 1,0.2 1,-0.4 1,-0.4 1,0.3 1,0.8 1,0.4 1,-0.5 1,-0.4 1,0.2 1,0.2 1,0.1 1,-0.4 1,-0.8 1,-1 1,-0.8 1,-0.4 1,-0.1 1,0 1,0.5 1,0.1 1,0.2 1,0.4 1,-0.3 1,-0.2 1,0 1,-0.1 1,-0.2 1,-0.6 1,-0.6 1,-0.6 1,-0.2 1,0.4 1,0.4 1,-0 1,-0.5 1,-0.5 1,-0 1,-0.1 1,-0.3 1,0.1 1,-0.7 1,-1.5 1,-1.2 1,-0.7 1,-0.3 1,-0.4 1,-0.9 1,-0.5 1,-0 1,-0.6 1,-1 1,-1.2 1,-1.3 1,-1 1,-0.6 1,-1.3 1,-1.6 1,-1.4 1,-1.1 1,-1 1,-0.9 1,-0.9 1,-1.1 1,-1 1,-1.2 1,-1.6 1,-1.8 1,-1.8 1,-1.9 1,-2.1 1,-2.7 1,-2.9 1,-1.9 1,-1.6 1,-2.5 1,-2.6 1,-2.6 1,-1.3 1,0.9 1,1 1,1 1,1.1 1,1.1 1,1.7 1,1.6 1,0.5 1,0.3 1,1 1,1.6 1,1.9 1,2.5 1,2.3 1,2.5 1,3.5 1,3 1,1.7 1,1.3 1,1.1 1,0.8 1,0.6 1,1 1,1.1 1,0.7 1,0.7 1,1.3 1,1.3 1,1 1,-0 1,-0.3 1,-0.4 1,-0.8 1,-0.1 1,0.6 1,0.2 1,-0 1,0.2 1,-0 1,-0.4 1,-0.4 1,0.3 1,0.4 1,-0.2 1,-0.6 1,-0.3 1,0.1 1,0.1 1,0.2 1,0 1,-0.9 1,-1.1 1,-0.8 1,-0.7 1,-0.6 1,-0.4 1,-1.2 1,-1.3 1,-0.3 1,-0.2 1,-0.5 1,-0.8 1,-0.9 1,-1.1 1,-0.9 1,-0.3 1,-0.1 1,-0.7 1,-0.5 1,-0.3 1,-1.2 1,-2.9 1,-4.6 1,-5.3 1,-4.6 1,-4 1,-4.4 1,-4.6 1,-5 1,-5.3 1,-4.9 1,-4.6 1,-5.7 1,-6.8 1,-7.3 1,-7.5 1,-8.6 1,-9.9 1,-11.2 1,-11.1 1,-10.2 1,-9.1 1,-9.9 1,-9.7 1,-7.2 1,-3.8 1,-2.8 1,-2.4 1,-2.1 1,-1.3 1,0.9 1,3.7 1,5.8 1,6.8 1,9.3 1,14.4 1,15.8 1,15.1 1,16.5 1,14.7 1,11.7 1,10.7 1,9.6 1,7.8 1,6.4 1,6.1 1,5.4 1,4.2 1,3.1 1,2.1 1,1.2 1,0.9 1,1.6 1,1.6 1,1 1,0.5 1,0.6 1,0.3 1,0.5 1,1 1,1.4 1,0.9 1,0.7 1,-0 1,-0.7 1,0.1 1,0.8 1,0.9 1,1 1,1.1 1,1.3 1,0.5 1,0.2 1,0.5 1,0.3 1,0.7 1,0.9 1,-0.2 1,-1.1 1,-0.9 1,0.2 1,0.8 1,0.4 1,-0 1,-0.6 1,-0.5 1,0.8 1,1.5 1,0.2 1,-1.7 1,-1.1 1,0.3 1,0.9 1,0.8 1,-0.1 1,-0.3 1,-0.2 1,-0.6 1,-1.1 1,-0.5 1,0.6 1,0.9 1,0.6 1,-0 1,-0.5 1,-0.3 1,0.8 1,0.7 1,-0.5 1,-0.9 1,0.1 1,0.8 1,-0.2 1,-0.5 1,0.2 1,0.3 1,-0.3 1,-0.2 1,0.1 1,0.3 1,-0.1 1,-0.3 1,-0.4 1,-0.3 1,-0.1 1,-0.1 1,0.2 1,0.6 1,-0.3 1,-0.9 1,-0.6 1,-0.5 1,0.3 1,0.6 1,-0.3 1,-0.3 1,-0.1 1,-0.2 1,0.7 1,1.3 1,-0 1,-0.6 1,-0.1 1,-0 1,-0.6 1,-0.8 1,-0.5 1,0.5 1,0.9 1,0.9 1,0.6 1,0.2 1,-0.2 1,-0.3 1,0.3 1,0.4 1,-0.8 1,-1.1 1,-0.7 1,0.6 1,1.8 1,1.4 1,-0 1,-0.3 1,0.1 1,-0.2 1,-0.5 1,-0.2 1,0.1 1,0.2 1,-0 1,-0 1,-0 1,-0.2 1,-0 1,-0.1 1,-0.3 1,0.4 1,0.2 1,-0.7 1,-0 1,0.9 1,1.1 1,1.1 1,0.1 1,-0.7 1,-0.9 1,-0.9 1,-0.7 1,-0 1,0.6 1,0.4 1,-0.6 1,-1.5 1,-1 1,0.3 1,1 1,0.8 1,-0.4 1,-0.5 1,0.2 1,-0.2 1,-0.2 1,0.1 1,-0.8 1,-0.9 1,0.4 1,0.3 1,-0.4 1,-0.7 1,-0.9 1,-0.1 1,1 1,0.8 1,-0.2 1,-0.3 1,0.8 1,1.3 1,0.7 1,-0 1,-0.7 1,-0.8 1,-0.8 1,-0.2 1,0.2 1,-0.1 1,0.1 1,0.1 1,-0.7 1,-1.6 1,-1 1,0.5 1,1.1 1,0.2 1,-0.3 1,-0.1 1,0.1 1,0.4 1,0.1 1,-1.1 1,-1.1 1,-0.4 1,0.3 1,0.5 1,0.1 1,-0.6 1,-0.7 1,0.1 1,0.4 0.5,0.3 0,11.3 -0.5,0.6 -1,0.6 -1,0.5 -1,0.6 -1,-0.1 -1,-1.3 -1,-1.3 -1,0 -1,0.5 -1,0.4 -1,0.8 -1,0.8 -1,0.8 -1,0.8 -1,0 -1,-0.8 -1,-0.7 -1,-0.1 -1,0.2 -1,0.6 -1,0.3 -1,0.4 -1,0.3 -1,0 -1,-0.1 -1,0.1 -1,0.6 -1,0.8 -1,0.7 -1,0 -1,-0.7 -1,-0.9 -1,-1 -1,0.2 -1,1.5 -1,0.9 -1,-1.3 -1,-1.3 -1,0.1 -1,0.3 -1,-0.2 -1,-0.3 -1,0 -1,0.6 -1,0.8 -1,0.7 -1,0.3 -1,-0.3 -1,-1.1 -1,0 -1,0.4 -1,1.2 -1,0.4 -1,-0.1 -1,-0.5 -1,-0.2 -1,0.4 -1,0.3 -1,0.2 -1,0.5 -1,0.6 -1,0.4 -1,-0.2 -1,-0.3 -1,0.3 -1,0.2 -1,-0.4 -1,-0.9 -1,-0.5 -1,0.3 -1,0.6 -1,0.1 -1,-0.2 -1,0.5 -1,1.4 -1,-0.1 -1,-1.3 -1,-0.2 -1,0.1 -1,-0.6 -1,-0.3 -1,0 -1,0.6 -1,0.4 -1,0 -1,-0.2 -1,-0.2 -1,-0.2 -1,-0.2 -1,-0.5 -1,-0.3 -1,0.8 -1,0.9 -1,0 -1,0 -1,0.1 -1,-0.2 -1,-0.1 -1,-0.3 -1,-0.7 -1,-1.1 -1,-1.2 -1,0 -1,0.1 -1,0.1 -1,-0.1 -1,-0.4 -1,0.2 -1,0.2 -1,0.3 -1,0.6 -1,0.1 -1,-0.8 -1,-0.5 -1,0 -1,-0.3 -1,-0.4 -1,0.3 -1,0.5 -1,0.9 -1,1.2 -1,1.1 -1,0.2 -1,-0.2 -1,-0.4 -1,-0.3 -1,-0.3 -1,0 -1,0.7 -1,0.6 -1,0.4 -1,-0.6 -1,-1.2 -1,-0.3 -1,0.6 -1,0.5 -1,-0.1 -1,0.2 -1,0.6 -1,0.4 -1,-0.1 -1,-1.2 -1,-1 -1,0.3 -1,0.7 -1,0 -1,-0.1 -1,-0.2 -1,-0.4 -1,-0.2 -1,0.2 -1,0.6 -1,0.8 -1,0.3 -1,0.1 -1,-0.2 -1,0.2 -1,0 -1,-1.3 -1,-0.9 -1,0.5 -1,0.7 -1,0.2 -1,-0.3 -1,-1 -1,-1 -1,-0.2 -1,0.7 -1,1 -1,0.4 -1,0.4 -1,0.6 -1,0 -1,-0.7 -1,-0.5 -1,-0.6 -1,-0.3 -1,0.4 -1,-0.1 -1,-0.6 -1,-1.1 -1,-1.6 -1,-0.8 -1,-0.1 -1,-0.7 -1,-1.4 -1,-1.2 -1,-0.2 -1,-0.2 -1,-1 -1,-1.6 -1,-0.9 -1,-0.2 -1,-0.3 -1,-0.4 -1,-0.9 -1,-1.7 -1,-2.1 -1,-1.7 -1,-1.6 -1,-1.6 -1,-2.3 -1,-3.6 -1,-4.6 -1,-5.9 -1,-6.7 -1,-7.8 -1,-9.6 -1,-11.1 -1,-12.7 -1,-15.1 -1,-16.2 -1,-14.8 -1,-15.7 -1,-14.9 -1,-9.9 -1,-6.6 -1,-5.3 -1,-3.2 -1,-0.8 -1,1.5 -1,1.9 -1,2.4 -1,3.5 -1,4.1 -1,7 -1,9.2 -1,10.1 -1,9.6 -1,10.1 -1,10.6 -1,11.1 -1,10 -1,8.8 -1,7.9 -1,6.6 -1,5.9 -1,6.1 -1,5.7 -1,5 -1,4.5 -1,4.1 -1,4 -1,4.7 -1,5.6 -1,5.2 -1,4.2 -1,3.9 -1,3 -1,1.3 -1,0.4 -1,0.5 -1,1.1 -1,0.9 -1,0.4 -1,0.5 -1,0.3 -1,0.4 -1,1.1 -1,1.2 -1,0.7 -1,0.6 -1,0.6 -1,0.4 -1,0.3 -1,0.9 -1,0.7 -1,0.6 -1,1.1 -1,0.8 -1,0.7 -1,0.8 -1,-0.2 -1,-0.7 -1,0 -1,0.4 -1,0.4 -1,0.2 -1,0.2 -1,0.6 -1,0.2 -1,-0.2 -1,-0.6 -1,-0.5 -1,-0.7 -1,-0.5 -1,0.1 -1,0.8 -1,1 -1,0.3 -1,-0.5 -1,-0.9 -1,-1.8 -1,-1.9 -1,-0.4 -1,0.4 -1,0.3 -1,-1 -1,-1.9 -1,-1.6 -1,-0.6 -1,0 -1,-1.6 -1,-2.5 -1,-3.5 -1,-3.3 -1,-2.6 -1,-2.1 -1,-2 -1,-1.5 -1,-1.3 -1,-1.5 -1,-1 -1,-0.8 -1,-1.1 -1,-1.2 -1,-1.2 -1,-1.5 -1,-0.8 -1,0.2 -1,1.5 -1,2.4 -1,2.1 -1,1.5 -1,1.8 -1,2.6 -1,3 -1,3.1 -1,2 -1,1.5 -1,1.4 -1,1 -1,1.3 -1,1.5 -1,1.4 -1,1.5 -1,2 -1,1.6 -1,0.1 -1,-0.1 -1,1.6 -1,2.2 -1,1.4 -1,1.1 -1,1.3 -1,1.2 -1,1 -1,0.5 -1,0.7 -1,0.9 -1,0.8 -1,0.6 -1,-0.1 -1,-0.3 -1,0.5 -1,1 -1,1.2 -1,-0.1 -1,-0.8 -1,0.5 -1,1.4 -1,0.7 -1,-0.2 -1,-0.1 -1,-0 -1,-0.4 -1,-0.1 -1,0.4 -1,0.7 -1,0.9 -1,0.3 -1,-0.3 -1,-0.3 -1,0.1 -1,0.6 -1,0.8 -1,-0 -1,-0.4 -1,0.4 -1,0.8 -1,0.5 -1,0.2 -1,-0 -1,-0.1 -1,-0.1 -1,0.1 -1,0.1 -1,0.4 -1,-0.1 -1,-0.6 -1,0.5 -1,0.9 -1,0.7 -1,0.2 -1,-0.2 -1,-0 -1,-0 -1,-0.5 -1,0.1 -1,0.9 -1,0.9 -1,-0.6 -1,-1.7 -1,-1 -1,0.5 -1,1.1 -1,0.6 -1,-0.2 -1,-0.6 -1,-0.1 -1,0.5 -1,0.6 -1,-0.2 -1,-0.3 -1,0.6 -1,0.6 -1,0.2 -1,0.3 -1,-0 -1,-0.9 -1,-0.6 -1,0.2 -1,-0.2 -1,-0.3 -1,0.5 -1,0.7 -1,-0 -1,-0.6 -1,-1.2 -1,-1.2 -1,-0.7 -1,-0.3 -1,-0.1 -1,-0.3 -1,-0.4 -1,-0.2 -1,-0 -1,-0.1 -1,-0.7 -1,-1.2 -1,-1.4 -1,-0.9 -1,-0.3 -1,-0.2 -1,-0.2 -1,0.7 -1,0.4 -1,-0.4 -1,-0.6 -1,-0.4 -1,-0.4 -1,-0.5 -1,-0.7 -1,-0.4 -1,0.2 -1,0.8 -1,0.7 -1,0.4 -1,-0.1 -1,0.2 -1,1 -1,0.8 -1,0.3 -1,0.2 -1,0.5 -1,0.2 -1,-0 -1,-0.1 -1,-0 -1,0.9 -1,1.5 -1,1.4 -1,0.6 -1,-0.5 -1,0.5 -1,1.3 -1,1.4 -1,0.3 -1,0.6 -1,1 -1,0.2 -1,-0.3 -1,-0.2 -1,0.2 -1,0.5 -1,0.4 -1,-0.2 -1,-0 -1,0.6 -1,0.5 -1,0.2 -1,0.4 -1,0.9 -1,1.1 -1,0.5 -1,-0.1 -1,0.1 -1,-0 -1,-0.6 -1,-0.5 -1,0.1 -1,0.6 -1,0.5 -1,0.1 -1,0.1 -1,-0 -1,-0.3 -1,-0.5 -1,-0.1 -1,-0.1 -1,-0.4 -1,-0.2 -1,0.5 -1,0.5 -1,0.2 -1,-0 -1,-0.4 -1,-0.7 -1,-0.2 -1,-0.1 -1,-0.6 -1,-0.8 -1,-0 -1,-0.1 -1,-1 -1,-0.8 -1,0.3 -1,0.1 -1,-0.5 -1,-0.9 -1,-0.8 -1,-0.5 -1,-0.7 -1,-0.9 -1,-0.4 -1,0.5 -1,0.9 -1,0.4 -1,-0.8 -1,-1.8 -1,-1.1 -1,-0.1 -1,-0.2 -1,-0.5 -1,-0.4 -1,-0.7 -1,-1.7 -1,-1.6 -1,0.1 -1,1 -1,-0.5 -1,-1.5 -1,-0.3 -1,0.1 -1,-1.1 -1,-1.8 -1,-1.7 -1,-1.2 -1,-0.5 -1,-0.7 -1,-0.7 -1,-0.3 -1,-0.2 -1,-0.4 -1,-0.6 -1,-0.5 -1,-0.6 -1,-1.2 -1,-1.6 -1,-1.9 -1,-1.9 -1,-1.1 -1,-0.9 -1,-1.8 -1,-2 -1,-2.1 -1,-2.2 -1,-2.7 -1,-4.1 -1,-4.3 -1,-4 -1,-5.8 -1,-7 -1,-6.9 -1,-4.4 -1,-2.6 -1,-2.7 -1,-2.8 -1,-2.4 -1,-1.4 -1,-0.2 -1,1.3 -1,2.7 -1,3.7 -1,4.5 -1,4.1 -1,3.4 -1,3.6 -1,3.9 -1,4.1 -1,4.1 -1,3.7 -1,3.9 -1,4.1 -1,3.7 -1,3 -1,3.2 -1,3.5 -1,3.1 -1,3.2 -1,2.8 -1,2.2 -1,2.2 -1,2 -1,1.5 -1,1.9 -1,2.1 -1,2 -1,1.8 -1,0.9 -1,0.1 -1,-0.2 -1,0.7 -1,1.7 -1,1 -1,0.5 -1,1.2 -1,0.8 -1,0.1 -1,0.7 -1,0.7 -1,-0.2 -1,-0.3 -1,0.1 -1,0.2 -1,0.2 -1,1.1 -1,1.5 -1,0.4 -1,-0.2 -1,-0.2 -1,0.1 -1,-0 -1,0.1 -1,0.9 -1,0.8 -1,0.1 -1,-0.4 -1,-0.6 -1,-0.3 -1,0.5 -1,0.1 -1,-0 -1,-0.5 -1,-1 -1,-0.3 -1,0.4 -1,0.5 -1,0.4 -1,0.7 -1,0.5 -1,-0.1 -1,-0.6 -1,-0.7 -1,-0.9 -1,-1.6 -1,-2 -1,-2.4 -1,-1.6 -1,0.1 -1,0.8 -1,0.3 -1,0.4 -1,1.5 -1,2.2 -1,2.1 -1,1.6 -1,1.2 -1,1.2 -1,1.4 -1,1.8 -1,1.6 -1,1.6 -1,2.1 -1,2.1 -1,1.6 -1,1.5 -1,1.2 -1,1.4 -1,2.7 -1,3.2 -1,0.9 -1,0.2 -1,1.2 -1,0.6 -1,-0.3 -1,-0.1 -1,0.3 -1,0.4 -1,1 -1,1 -1,1 -1,0.8 -1,0.7 -1,0.6 -1,0.5 -1,0.2 -1,-0.2 -1,-0.5 -1,-0.5 -1,-0.2 -1,-0.2 -1,-0.1 -1,-0.2 -1,-0 -1,0.2 -1,0.4 -1,0.2 -1,-0.4 -1,-0.4 -1,-0.1 -1,0.1 -1,-0 -1,-0 -1,0.2 -1,0.2 -1,-0.1 -1,-0.1 -1,-0.1 -1,-0 -1,-0.1 -1,-0.1 -1,-0 -1,0.5 -1,0.3 -1,-0.2 -1,-0.2 -1,-0 -1,0.1 -1,-0 -1,-0.2 -1,-0.2 -1,-0 -1,-0 -1,0.1 -1,0.2 -1,0.2 -1,-0 -1,-0.3 -1,-0.2 -1,0.1 -1,0.2 -1,0.2 -1,0.3 -1,0.2 -1,0.1 -1,-0.2 -1,-0.2 -1,-0.3 -1,-0.3 -1,-0.1 -1,0.1 -1,0.3 -1,0.3 -1,-0 -1,-0.3 -1,-0.4 -1,-0 -1,-0 -1,0.1 -1,-0 -1,-0.1 -1,-0.2 -1,-0.2 -1,0.1 -1,0.3 -1,0.2 -1,0.1 -1,0.1 -1,-0.1 -1,-0.3 -1,0.2 -1,0.5 -1,-0 -1,-0.4 -1,-0.3 -1,0.2 -1,0.2 -1,-0 -1,0.1 -1,0.2 -1,0.1 -1,-0 -1,0.1 -1,0.1 -1,-0.2 -1,-0.3 -1,-0.1 -1,-0.2 -1,-0.1 -1,0.3 -1,0.3 -1,0.2 -1,0.1 -1,-0.1 -1,-0.2 -1,-0.1 -1,-0.1 -1,-0.3 -1,-0.2 -1,-0.1 -1,0.2 -1,-0.1 -1,-0.2 -1,-0.1 -1,0.1 -1,-0 -1,-0.1 -1,0.4 -1,0.6 -1,0.3 -1,0.2 -1,-0 -1,-0 -1,-0.2 -1,-0.1 -1,-0.1 -1,0.2 -1,0.3 -1,-0.1 -1,-0.3 -1,-0 -1,-0 -1,-0.2 -1,-0 -1,-0.1 -1,-0.3 -1,-0.1 -1,-0 -1,-0 -1,0.3 -1,0.3 -1,-0.2 -1,-0.5 -1,-0.2 -1,0.3 -1,0.2 -1,-0 -1,-0.2 -1,-0.1 -1,0.2 -1,0.2 -1,0.1 -1,0.1 -1,-0.1 -1,-0 -1,-0.1 -1,-0.2 -1,-0 -1,0.1 -1,-0 -1,-0.2 -1,-0.2 -1,0.1 -1,0.1 -1,-0.1 -1,-0 -1,0.4 -1,0.2 -1,-0.1 -1,-0.3 -1,-0.1 -1,0.1 -1,-0 -1,-0.2 -1,-0 -1,-0 -1,-0.1 -1,-0 -1,-0 -1,0.2 -1,0.1 -1,-0.2 -1,-0.3 -1,0.2 -1,0.3 -1,0.2 -1,-0.2 -1,-0.2 -1,-0.2 -1,-0 -1,0.1 -1,0.1 -1,0.2 -1,-0 -1,-0.1 -1,-0 -1,-0.1 -1,-0.3 -1,-0.1 -1,-0 -1,-0.1 -1,0.3 -1,0.5 -1,0.3 -1,0.1 -1,-0.3 -1,-0.4 -1,-0.4 -1,-0.1 -1,0.3 -1,0.3 -1,-0.1 -1,-0 -1,-0.2 -1,-0.2 -1,0.2 -1,0.3 -1,0.1 -1,-0.1 -1,-0.1 -1,-0 -1,-0.1 -1,-0.1 -1,0.2 -1,-0 -1,-0 -1,-0.1 -1,-0.1 -1,-0.2 -1,0.2 -1,0.1 -1,-0 -1,0.1 -1,0.1 -1,0.1 -1,-0.1 -1,-0.1 -1,-0.2 -1,-0 -1,0.3 -1,0.3 -1,0.1 -1,-0 -1,-0.1 -1,-0.3 -1,-0.1 -1,0.1 -1,-0.1 -1,-0.2 -1,-0.1 -1,-0.2 -1,-0 -1,0.2 -1,0.4 -1,0.5 -1,-0.1 -1,-0.3 -1,-0.3 -1,-0.2 -1,-0.1 -1,-0.1 -1,-0.1 -1,0.1 -1,0.2 -1,-0 -1,-0.1 -1,-0 -1,-0 -1,-0 -1,0.2 -1,0.1 -1,-0.1 -1,-0 -1,-0 -1,-0.2 -1,-0 -1,0.4 -1,0.4 -1,0.3 -1,0.1 -1,-0.2 -1,-0.6 -1,-0.1 -1,-0 -1,0.1 -1,-0 -1,-0.3 -1,-0.2 -1,-0.4 -1,-0.5 -1,-0.9 -1,-1.3 -1,-1.9 -1,-2.5 -1,-2.7 -1,-2.5 -1,-1.7 -1,-0.4 -1,1 -1,1.9 -1,2.2 -1,2.3 -1,2.3 -1,2 -1,1.3 -1,0.9 -1,0.4 -1,0.2 -1,0.1 -1,0.3 -1,0.1 -1,0.2 -1,0.1 -1,-0.1 -1,-0.1 -1,-0 -1,0.1 -1,0.1 -1,0.1 -1,-0 -1,0.1 -1,-0.1 -1,-0.3 -1,-0.2 -1,-0 -1,-0.2 -1,-0.1 -1,0.1 -1,0.1 -1,0.3 -1,0.5 -1,0.2 -1,-0.2 -1,-0.1 -1,-0 -1,-0.2 -1,-0 -1,0.3 -1,0.1 -1,-0.1 -1,-0 -1,0.1 -1,-0 -1,-0 -1,-0.1 -1,0.2 -1,-0.1 -1,-0.4 -1,-0.3 -1,-0.2 -1,-0 -1,0.1 -1,0.2 -1,0.1 -1,0.1 -1,0.1 -1,-0 -1,-0.3 -1,-0 -1,0.1 -1,0.1 -1,-0.1 -1,-0.1 -1,-0 -1,-0.1 -1,-0.1 -1,0.1 -1,0.3 -1,0.4 -1,-0.1 -1,-0.3 -1,-0.2 -1,-0.1 -1,-0.1 -1,-0 -1,0.1 -1,0.2 -1,0.2 -1,-0.1 -1,0.1 -1,-0.1 -1,-0.3 -1,-0 -1,0.2 -1,0.3 -1,0.3 -1,-0 -1,-0.1 -1,-0.2 -1,-0 -1,0.1 -1,-0 -1,-0 -1,-0.2 -1,-0.3 -1,-0 -1,0.2 -1,-0 -1,-0 -1,-0.2 -1,-0 -1,0.1 -1,0.1 -1,0.2 -1,0.1 -1,-0.2 -1,-0.2 -1,-0.1 -1,-0.3 -1,-0 -1,0.2 -1,0.2 -1,-0.1 -1,-0.1 -1,0.4 -1,0.1 -1,-0.4 -1,-0.4 -1,0.1 -1,0.2 -1,0.1 -1,0.3 -1,0.2 -1,0.3 -1,0.2 -1,-0.2 -1,-0.3 -1,-0.4 -1,-0.3 -1,-0.2 -1,0.1 -1,0.2 -1,0.2 -1,0.2 -1,0.1 -1,-0.2 -1,-0.3 -1,-0.4 -1,-0.1 -1,0.1 -1,-0 -1,-0 -1,0.1 -1,0.1 -1,0.1 -1,-0 -1,-0 -1,-0 -1,-0 -1,-0 -1,0.1 -1,0.3 -1,-0 -1,-0.3 -1,-0.2 -1,-0 -1,-0.1 -1,-0.1 -1,-0 -1,-0 -1,-0.1 -1,-0.2 -1,-0 -1,0.2 -1,0.1 -1,0.1 -1,0.5 -1,0.4 -1,-0.2 -1,-0.5 -1,-0.3 -1,0.1 -1,-0.1 -1,-0.1 -1,-0.2 -1,-0.1 -1,0.1 -1,-0.1 -1,-0 -1,0.2 -1,-0 -1,-0 -1,0.1 -1,0.4 -1,0.4 -1,0.2 -1,0.4 -1,0.2 -1,-0.2 -1,-0.2 -1,-0.1 -1,-0.2 -1,0.1 -1,0.4 -1,0.2 -1,-0 -1,-0.1 -1,-0 -1,-0 -1,-0.2 -1,-0.1 -1,0.1 -1,0.3 -1,0.2 -1,-0.2 -1,-0.4 -1,-0.2 -1,-0.1 -1,-0.2 -1,-0.1 -1,0.2 -1,0.3 -1,0.2 -1,0.1 -1,-0.3 -1,-0.3 -1,0.2 -1,0.4 -1,0.2 -1,-0.4 -1,-0.4 -1,-0.1 -1,0.2 -1,0.2 -1,0.1 -1,-0.3 -1,-0.4 -1,-0 -1,0.2 -1,0.1 -1,-0 -1,-0.3 -1,-0.3 -1,-0.2 -1,0.1 -1,0.3 -1,0.1 -1,-0 -1,0.1 -1,-0.1 -1,-0.2 -1,-0.4 -1,-0.1 -1,0.3 -1,0.2 -1,0.2 -1,0.2 -1,-0.1 -1,-0.3 -1,-0.3 -1,-0.1 -1,0.1 -1,-0 -1,0.2 -1,0.1 -1,-0.1 -1,-0.3 -1,-0.2 -1,0.1 -1,0.2 -1,0.1 -1,-0 -1,0.1 -1,0.3 -1,0.2 -1,-0.1 -1,-0.2 -1,-0.2 -1,-0.1 -1,-0.1 -1,-0 -1,-0.2 -1,-0.1 -1,0.1 -1,0.1 -1,-0.2 -1,-0 -1,0.2 -1,0.4 -1,0.3 -1,0.1 -1,-0.2 -1,-0.1 -1,-0.1 -1,0.1 -1,0.1 -1,-0.3 -1,-0.2 -1,0.1 -1,0.1 -1,-0 -1,-0.1 -1,-0.2 -1,-0.2 -1,-0.2 -1,-0 -1,0.3 -1,0.6 -1,0.4 -1,-0 -1,-0.3 -1,-0.2 -1,-0.2 -1,-0.3 -1,-0.3 -1,0.3 -1,0.5 -1,-0.9 -1,-1.4 -1,-0.4 -1,-0.4 -1,-0.5 -1,-0.2 -1,0.9 -1,0.2 -1,-0.5 -1,-0.9 -1,-0.6 -1,-0 -1,0.3 -1,-0 -1,-1.1 -1,-1.4 -1,-1.1 -1,-0.8 -1,-0.4 -1,-0.3 -1,-0.5 -1,-0.1 -1,0.7 -1,0.7 -1,0.2 -1,-0.4 -1,-0.1 -1,0.2 -1,-0.1 -1,-0.6 -1,-0.2 -1,0.2 -1,0.4 -1,0.6 -1,0.5 -1,0.2 -1,0.1 -1,0.3 -1,0.2 -1,-0.9 -1,-1.1 -1,0.2 -1,1 -1,0.6 -1,0.2 -1,-0 -1,0.1 -1,-0 -1,0.2 -1,-0 -1,-1 -1,-0.8 -1,-0.3 -1,0.4 -1,0.4 -1,-0.1 -1,-0 -1,-0 -1,0.1 -1,-0.5 -1,-0.8 -1,-0.4 -1,-0.4 -1,-0.3 -1,-0.1 -1,-0.1 -1,-0.7 -1,-1.4 -1,-0.4 -1,0.4 -1,0.4 -1,-0.5 -1,-1 -1,-0.5 -1,-0.3 -1,-1.1 -1,-1.3 -1,-1 -1,-0.8 -1,-0.2 -1,-0.4 -1,-1.1 -1,-1.7 -1,-2.2 -1,-2.5 -1,-2.4 -1,-2.2 -1,-3.1 -1,-3.3 -1,-2.1 -1,-1.1 -1,-1.1 -1,-1.9 -1,-2.1 -1,-1.5 -1,-0.5 -1,0.1 -1,0.6 -1,1 -1,1.4 -1,1.4 -1,1.7 -1,2.5 -1,3.1 -1,2.9 -1,2.8 -1,2.5 -1,1.8 -1,1.5 -1,1.5 -1,1.3 -1,1.2 -1,1 -1,1.3 -1,1.3 -1,0.8 -1,0.5 -1,0.4 -1,0.1 -1,-0.3 -1,0.2 -1,0.3 -1,0.1 -1,0.5 -1,1.1 -1,0.5 -1,-0.1 -1,0.2 -1,0.3 -1,-0.3 -1,-0.4 -1,-0 -1,-0.5 -1,-0.5 -1,0.9 -1,1.2 -1,-0 -1,-0.2 -1,0.6 -1,0.9 -1,0.4 -1,0.4 -1,0.2 -1,-0.4 -1,-0.2 -1,-0.3 -1,-0.7 -1,-0.3 -1,0.7 -1,0.7 -1,0.4 -1,0.3 -1,0.3 -1,-0 -1,0.1 -1,0.3 -1,0.2 -1,0.5 -1,0.3 -1,-0.1 -1,0.1 -1,0.8 -1,0.4 -1,0.3 -1,-0.3 -1,-0.9 -1,0.1 -1,0.9 -1,1.3 -1,0.7 -1,-0.4 -1,-0.6 -1,-0.3 -1,-0.5 -1,0.1 -1,0.8 -1,0.4 -1,0.1 -1,-0.1 -1,-0.1 -1,0.5 -1,0.5 -1,0.3 -1,-0.3 -1,-1.1 -1,-1.1 -1,-0 -1,0.6 -1,0.5 -1,0.8 -1,0.3 -1,-0.2 -1,-0.7 -1,-0.8 -1,-0.3 -1,-0.1 -1,-0.2 -1,-0.2 -1,-0.9 -1,-1.1 -1,-0 -1,0.2 -1,0.8 -1,0.7 -1,0.1 -1,0.1 -1,0.3 -1,-0.3 -1,0.1 -1,0.7 -1,0.1 -1,-0.6 -1,-1.3 -1,-0.5 -1,0.5 -1,-0 -1,-0.5 -1,-0.3 -1,-0.3 -1,-0.3 -1,-0.1 -1,-0 -1,0.5 -1,0.9 -1,0.5 -1,0.1 -1,-0 -1,-0.2 -1,-0.3 -1,-0.3 -1,-0.1 -1,-0.1 -1,-0.3 -1,-0.3 -1,-0.4 -1,-0.1 -1,0.5 -1,0.1 -1,-0.6 -1,0.3 -1,1.1 -1,0.6 -1,0.5 -1,0.7 -1,0.1 -1,-0.2 -1,-0 -1,0.7 -1,0.7 -1,0.1 -1,-0.1 -1,0.1 -1,0.3 -1,0.6 -1,0.6 -1,-0.2 -1,-0.8 -1,-0.9 -1,-0.4 -1,0.5 -1,0.2 -1,-0.3 -1,-0.3 -1,-0 -1,0.1 -1,-0.1 -1,-0.1 -1,-0.2 -1,-0.6 -1,-0.3 -1,0.4 -1,-0 -1,0.2 -1,0.5 -1,0.3 -1,0.6 -1,1 -1,0.4 -1,-0 -1,-0.2 -1,-0.2 -1,-0.1 -1,-0.4 -1,-0.2 -1,-0 -1,0.7 -1,0.7 -1,-0.1 -1,-0.1 -1,-0.2 -1,-0.4 -1,0.5 -1,0.4 -1,0.3 -1,0.1 -1,-0.6 -1,-0.3 -1,0.2 -1,0.5 -1,0.3 -1,-0.2 -1,-0.2 -1,-0.1 -1,-0.3 -1,-0.5 -1,-0.6 -1,-0.4 -1,0.1 -1,0.8 -1,0.8 -1,0.6 -1,0.4 -1,0.3 -1,0.5 -1,-0.3 -1,-0.5 -1,-0 -1,0.3 -1,0.4 -1,0.1 -1,-1.4 -1,-1.1 -1,-0.2 -1,0.1 -1,0.6 -1,0.3 -1,0.2 -1,0.3 -1,0.1 -1,0.2 -1,0.1 -1,0.1 -1,-0.1 -1,-0.1 -1,0.1 -1,-0 -1,-0.9 -1,-1 -1,-0.4 -1,-0.1 -1,0.7 -1,0.7 -1,-0.7 -1,-1 -1,-0 -1,0.6 -1,0.9 -1,1.1 -1,0.3 -1,-0.9 -1,-0.8 -1,-0.5 -1,-1.1 -1,-1.3 -1,-0.4 -1,0.5 -1,0.5 -1,0.3 -1,-0 -1,-0.5 -1,-0.3 -1,-0 -1,-0.5 -1,-0.2 -1,0.7 -1,0.2 -1,-0.4 -1,-0.3 -1,-0.1 -1,0.5 -1,0.7 -1,0.7 -1,-0 -1,-0.8 -1,-0.3 -1,0.5 -1,0.8 -1,0.8 -1,0.4 -1,-0.3 -1,-0.5 -1,0.1 -1,0.5 -1,0.4 -1,0.2 -1,-0 -1,-0.2 -1,-0.1 -1,0.8 -1,0.7 -1,-0 -1,-0.2 -1,0.1 -1,-0.1 -1,-0.5 -1,-0.1 -1,0.1 -1,0.3 -1,-0.1 -1,-1.2 -1,-0.4 -1,1.9 -1,1.5 -1,-0.1 -1,-0.5 -1,-0.4 -1,-0.9 -1,0.2 -1,1.3 -1,1 -1,0.2 -1,-0 -1,0.1 -1,-0.1 -1,-0.4 -1,-0.1 -1,0.2 -1,-0.2 -1,-0.5 -1,-0.2 -1,-0 -1,-0 -1,0.2 -1,0.2 -1,-0.2 -1,-0.3 -1,-0.4 -1,-0.3 -1,-0.3 -1,-0 -1,-0 -1,-0.1 -1,-0.4 -1,-0.2 -1,0.5 -1,0.9 -1,-0.1 -1,-1.1 -1,-0.6 -1,0.1 -1,0.3 -1,-0 -1,-0.3 -1,-0 -1,-0.5 -1,-0.7 -1,0.1 -1,0.1 -1,-0.1 -1,-0.1 -1,-0.6 -1,-0.9 -1,-0.8 -1,-0.2 -1,0.2 -1,0.1 -1,0.3 -1,-0.1 -1,-0.8 -1,-0.9 -1,-0.4 -1,-0.5 -1,-0.8 -1,-0.9 -1,-0.8 -1,-0.1 -1,-0 -1,-0.3 -1,0.2 -1,0.8 -1,0.4 -1,-0.7 -1,-0.2 -1,-0 -1,0.9 -1,0.7 -1,1.2 -1,0.3 -1,0.2 -1,0.6 -1,0.5 -1,0.4 -1,0.6 -1,0.5 -1,0.5 -1,0.8 -1,1 -1,0.9 -1,0.5 -1,0.5 -1,0.5 -1,0.5 -1,0.1 -1,-0.7 -1,-0.6 -1,0.2 -1,0.5 -1,-0 -1,-0 -1,0.2 -1,-0 -1,-0.5 -1,-0.5 -1,-0.1 -1,0.5 -1,0.9 -1,0.7 -1,0.1 -1,-0.2 -1,-0.1 -1,-0.3 -1,-0 -1,0.7 -1,0.6 -1,-0 -1,-0.3 -1,-0.5 -1,-0.5 -1,-0.3 -1,-0.2 -1,0.5 -1,0.5 -1,0.2 -1,-0.3 -1,-0.1 -1,-0 -1,-0.2 -1,-0.1 -1,0.4 -1,0.3 -1,-0.4 -1,-0 -1,0.4 -1,0.2 -1,0.3 -1,0.7z"/>
<path stroke-width="9.4" d="M145.5,1750.0l1,0 1,0.1 1,0.2 1,0 1,0 1,-0.1 1,0 1,0 1,0.1 1,0 1,-0.2 1,-0.4 1,-0.4 1,-0.2 1,-0.1 1,0.1 1,0.1 1,0.1 1,0 1,-0.2 1,-0.2 1,-0.1 1,0 1,0.1 1,0.1 1,0 1,-0.1 1,-0.1 1,0 1,0.1 1,0.1 1,-0.1 1,-0.1 1,-0.1 1,-0.1 1,0 1,0 1,0 1,-0.1 1,0 1,-0.2 1,-0.1 1,-0.2 1,-0.2 1,-0.3 1,-0.3 1,-0.2 1,-0.2 1,-0.1 1,-0.2 1,-0.1 1,-0.1 1,0.1 1,0.1 1,0 1,-0.1 1,-0.2 1,-0.4 1,-0.6 1,-0.6 1,-0.6 1,-0.4 1,-0.3 1,-0.2 1,-0.2 1,-0.2 1,-0.3 1,-0.2 1,0 1,0.1 1,0.3 1,0.2 1,0.1 1,0.2 1,0.3 1,0.6 1,0.7 1,0.6 1,0.4 1,0.1 1,0 1,0 1,0.3 1,0.3 1,0.2 1,0.2 1,0.2 1,0.1 1,0.2 1,0.2 1,0.1 1,-0.1 1,-0.2 1,-0.3 1,-0.1 1,0.1 1,0.3 1,0.4 1,0.4 1,0.1 1,-0.2 1,-0.3 1,-0.3 1,-0.2 1,0 1,0 1,0.2 1,0.2 1,0.1 1,0.1 1,-0.1 1,-0.1 1,-0.1 1,0.2 1,0.2 1,0.3 1,0.1 1,0.1 1,-0.1 1,-0.2 1,-0.2 1,-0.2 1,-0.1 1,0.1 1,0.2 1,0.3 1,0.2 1,0.1 1,0 1,0 1,0 1,0 1,-0.1 1,-0.1 1,0 1,0 1,0 1,-0.1 1,-0.2 1,-0.1 1,0 1,0.1 1,0 1,-0.2 1,-0.3 1,-0.3 1,-0.1 1,-0.2 1,-0.2 1,-0.2 1,-0.5 1,-0.5 1,-0.3 1,-0.2 1,0.1 1,0.2 1,0.1 1,0.1 1,-0.1 1,-0.1 1,-0.2 1,-0.2 1,-0.1 1,-0.1 1,0 1,0.1 1,0 1,0 1,-0.2 1,-0.2 1,-0.2 1,0 1,0.1 1,0.1 1,0.3 1,0.2 1,0.2 1,0.1 1,-0.2 1,-0.2 1,-0.3 1,-0.1 1,0 1,0.1 1,0.2 1,0.2 1,0.2 1,0.1 1,0 1,0 1,0 1,0.2 1,0.3 1,0.3 1,0.1 1,0.1 1,0 1,0 1,0 1,0.2 1,0.1 1,0 1,-0.1 1,0 1,0.3 1,0.3 1,0.3 1,0.2 1,0.1 1,0.3 1,0.4 1,0.4 1,0.4 1,0.2 1,-0.1 1,-0.3 1,-0.3 1,-0.3 1,-0.2 1,0.1 1,0.1 1,0 1,-0.2 1,-0.1 1,-0.1 1,0 1,0.2 1,0.2 1,0.3 1,0 1,-0.1 1,-0.3 1,-0.3 1,-0.1 1,0.1 1,0.1 1,0 1,0 1,-0.1 1,-0.2 1,-0.2 1,-0.1 1,-0.1 1,0 1,0.1 1,0.2 1,0.2 1,0.1 1,-0.1 1,-0.3 1,-0.3 1,-0.3 1,-0.1 1,0 1,0 1,0.1 1,0 1,0 1,-0.1 1,-0.1 1,-0.2 1,-0.1 1,-0.2 1,-0.1 1,-0.2 1,-0.1 1,-0.3 1,-0.2 1,-0.4 1,-0.3 1,-0.3 1,-0.2 1,0.1 1,0 1,0.1 1,0 1,0.2 1,0.1 1,0 1,-0.2 1,-0.1 1,-0.1 1,0 1,0.1 1,0 1,-0.2 1,-0.1 1,-0.1 1,-0.1 1,-0.1 1,-0.1 1,-0 1,0.1 1,-0 1,0.1 1,-0 1,-0 1,-0 1,-0.1 1,-0.1 1,-0 1,0.1 1,0.2 1,0.1 1,-0 1,-0 1,-0.1 1,-0.1 1,-0 1,-0 1,-0 1,-0 1,0.1 1,0.3 1,0.2 1,0.2 1,0.2 1,0.2 1,0.4 1,0.4 1,0.2 1,-0 1,-0.1 1,-0.2 1,-0.1 1,-0 1,0.2 1,0.3 1,0.4 1,0.2 1,0.1 1,-0.1 1,-0.2 1,-0.1 1,-0 1,-0 1,0.2 1,0.2 1,0.2 1,0.3 1,0.1 1,0.2 1,-0 1,-0 1,-0.2 1,-0.2 1,-0.2 1,-0.1 1,-0 1,-0 1,-0.1 1,-0.1 1,-0 1,-0.1 1,-0 1,-0.1 1,-0.1 1,-0 1,-0 1,-0 1,-0 1,-0.1 1,-0.1 1,-0.1 1,-0.1 1,-0.1 1,-0.1 1,-0.1 1,-0.1 1,-0.1 1,-0 1,-0 1,-0.1 1,-0.2 1,-0.1 1,-0.1 1,-0.1 1,-0.3 1,-0.4 1,-0.3 1,-0.3 1,-0.1 1,-0.1 1,-0.2 1,-0.1 1,-0 1,-0 1,0.1 1,-0.1 1,-0.1 1,-0.3 1,-0.2 1,-0.1 1,0.1 1,0.1 1,0.1 1,-0.1 1,-0.3 1,-0.4 1,-0.4 1,-0.3 1,-0.1 1,-0.1 1,0.1 1,-0 1,-0 1,-0.1 1,-0.2 1,-0.3 1,-0.5 1,-0.5 1,-0.6 1,-0.5 1,-0.6 1,-0.7 1,-0.8 1,-0.6 1,-0.4 1,-0.2 1,-0.2 1,-0.3 1,-0.6 1,-0.8 1,-0.9 1,-1 1,-1 1,-1 1,-0.9 1,-0.7 1,-0.6 1,-0.6 1,-0.8 1,-0.9 1,-1 1,-0.9 1,-0.7 1,-0.4 1,-0.2 1,-0 1,0.3 1,0.5 1,0.7 1,0.6 1,0.6 1,0.5 1,0.7 1,0.8 1,1.2 1,1.5 1,1.7 1,1.8 1,1.8 1,1.6 1,1.2 1,0.8 1,0.6 1,0.4 1,0.2 1,-0 1,-0 1,0.1 1,0.4 1,0.5 1,0.7 1,0.6 1,0.4 1,0.2 1,-0 1,-0 1,-0.1 1,0.1 1,0.2 1,0.3 1,0.2 1,0.2 1,-0 1,-0 1,-0 1,-0 1,-0.2 1,-0.1 1,-0.1 1,0.1 1,0.3 1,0.1 1,-0 1,-0.2 1,-0.2 1,-0.3 1,-0.2 1,-0.2 1,0.1 1,0.1 1,0.2 1,0.3 1,0.1 1,-0.1 1,-0.2 1,-0.2 1,-0.1 1,-0.1 1,-0.1 1,-0.1 1,-0.1 1,-0.1 1,-0 1,0.2 1,0.1 1,-0 1,-0 1,-0 1,-0 1,0.1 1,-0 1,-0 1,-0 1,0.2 1,0.2 1,0.3 1,0.4 1,0.5 1,0.6 1,0.7 1,0.7 1,0.5 1,0.4 1,0.4 1,0.2 1,0.1 1,-0.1 1,-0 1,0.1 1,0.4 1,0.5 1,0.5 1,0.3 1,0.1 1,0.1 1,-0 1,-0 1,-0 1,-0 1,-0 1,0.1 1,0.2 1,0.1 1,0.1 1,0.1 1,-0 1,-0 1,0.1 1,0.1 1,0.2 1,0.2 1,0.1 1,0.1 1,-0.1 1,-0.2 1,-0.2 1,-0.1 1,-0 1,-0 1,0.1 1,0.1 1,0.1 1,0.1 1,-0 1,-0 1,-0.1 1,-0.1 1,-0 1,-0 1,-0.1 1,-0 1,-0 1,-0 1,0.2 1,0.1 1,0.1 1,0.1 1,-0 1,-0.1 1,-0 1,-0 1,-0 1,-0 1,-0.1 1,-0 1,-0 1,0.1 1,-0 1,-0 1,-0 1,-0 1,-0.1 1,-0 1,-0 1,-0.1 1,-0 1,-0 1,-0 1,0.1 1,0.1 1,0.1 1,0.1 1,0.1 1,-0 1,-0 1,0.1 1,-0 1,0.1 1,-0 1,-0.1 1,-0.1 1,-0.1 1,-0.1 1,-0.1 1,-0.1 1,-0.1 1,-0.1 1,-0.1 1,-0.1 1,-0.1 1,-0 1,0.1 1,0.1 1,0.2 1,0.1 1,0.1 1,-0 1,-0 1,-0 1,0.1 1,0.1 1,0.1 1,0.1 1,-0 1,-0.1 1,-0.2 1,-0.1 1,-0 1,0.1 1,-0 1,-0 1,-0 1,-0.1 1,-0 1,-0 1,0.1 1,-0 1,0.1 1,-0.1 1,-0.1 1,-0.2 1,-0 1,-0 1,-0 1,0.1 1,-0.1 1,-0 1,-0.1 1,-0 1,-0 1,-0.1 1,-0.1 1,-0.1 1,-0.1 1,-0.1 1,0.1 1,0.1 1,0.1 1,0.1 1,-0 1,-0 1,-0 1,-0 1,-0 1,-0 1,-0 1,-0.1 1,0.1 1,-0 1,0.1 1,0.1 1,-0 1,-0 1,0.1 1,0.1 1,-0 1,-0 1,-0.2 1,-0.1 1,-0.1 1,-0.1 1,-0.2 1,-0.1 1,-0.2 1,-0 1,-0 1,0.1 1,-0 1,-0 1,-0.1 1,-0.1 1,-0.1 1,0.1 1,0.1 1,0.1 1,0.1 1,0.1 1,-0 1,0.1 1,-0 1,-0 1,-0 1,-0 1,0.2 1,0.2 1,0.1 1,0.1 1,-0 1,-0.1 1,-0.1 1,-0 1,-0 1,-0.2 1,-0.1 1,-0.1 1,-0.1 1,-0 1,-0.1 1,-0.1 1,-0.1 1,-0 1,-0 1,0.1 1,0.1 1,0.2 1,0.2 1,0.1 1,-0 1,-0.2 1,-0.1 1,-0.1 1,-0 1,0.1 1,0.1 1,0.1 1,-0 1,0.1 1,-0 1,0.1 1,-0 1,-0 1,-0.1 1,-0 1,-0 1,-0 1,0.1 1,0.1 1,0.1 1,-0.1 1,-0.1 1,-0.1 1,-0.2 1,-0.2 1,-0.1 1,-0 1,-0 1,0.2 1,0.2 1,0.2 1,-0 1,-0 1,-0 1,-0.1 1,-0.1 1,-0.1 1,-0 1,-0 1,-0 1,0.1 1,0.1 1,-0 1,-0.1 1,-0 1,-0.1 1,-0 1,-0.1 1,-0 1,-0.1 1,-0 1,-0 1,-0 1,-0 1,0.1 1,0.1 1,-0 1,-0 1,0.1 1,-0 1,0.1 1,-0.1 1,-0 1,-0 1,-0 1,0.1 1,-0 1,-0 1,-0.1 1,-0.1 1,-0.1 1,0.1 1,0.1 1,-0 1,-0.1 1,-0.1 1,-0 1,0.2 1,0.2 1,0.1 1,-0.1 1,-0.1 1,-0.1 1,-0.2 1,-0 1,-0.1 1,0.1 1,0.1 1,0.1 1,0.2 1,0.1 1,0.1 1,-0 1,-0.1 1,-0.4 1,-0.7 1,-0.8 1,-0.8 1,-1.1 1,-1.3 1,-1.4 1,-1.2 1,-0.8 1,-0.3 1,0.3 1,0.8 1,1.2 1,1.4 1,1.3 1,1.1 1,0.8 1,0.6 1,0.6 1,0.3 1,0.1 1,-0 1,-0.1 1,-0.1 1,-0.1 1,-0 1,-0 1,-0 1,-0 1,0.1 1,-0 1,-0 1,-0.1 1,-0 1,-0 1,0.1 1,-0 1,0.1 1,0.1 1,-0 1,-0 1,-0 1,-0 1,-0 1,-0 1,-0 1,-0 1,-0 1,0.1 1,-0 1,-0 1,-0.1 1,-0 1,0.1 1,0.1 1,0.1 1,-0 1,-0.1 1,-0.2 1,-0.1 1,-0 1,-0 1,-0 1,0.1 1,0.1 1,0.2 1,-0 1,0.1 1,0.1 1,-0 1,-0.1 1,-0.1 1,-0.1 1,-0 1,-0.1 1,-0 1,-0.1 1,-0 1,-0 1,-0 1,0.1 1,0.1 1,-0 1,0.1 1,-0.1 1,-0 1,-0.1 1,-0.1 1,-0.1 1,-0.2 1,-0.1 1,-0 1,0.1 1,0.2 1,0.1 1,-0 1,-0 1,-0 1,-0.1 1,-0 1,-0.1 1,-0 1,-0 1,-0 1,0.1 1,-0 1,0.1 1,-0.1 1,-0.1 1,-0.1 1,-0.1 1,-0 1,0.1 1,0.1 1,0.1 1,0.1 1,0.1 1,0.1 1,0.1 1,-0.1 1,-0 1,-0.1 1,-0.1 1,-0.1 1,-0 1,-0.1 1,-0 1,-0 1,-0 1,0.1 1,-0 1,-0 1,-0 1,-0.1 1,-0 1,-0.1 1,-0 1,0.1 1,0.1 1,0.1 1,0.1 1,0.1 1,-0 1,-0.1 1,-0.1 1,-0.1 1,-0 1,-0.1 1,-0 1,-0 1,0.1 1,-0 1,-0 1,-0 1,-0 1,-0.1 1,-0 1,0.1 1,0.1 1,-0 1,-0 1,-0 1,-0 1,-0 1,-0 1,-0 1,-0.1 1,-0.1 1,-0.1 1,-0.1 1,0.1 1,0.2 1,0.2 1,0.1 1,-0 1,-0.1 1,-0.2 1,-0.1 1,-0 1,-0 1,0.1 1,0.1 1,-0 1,-0.1 1,-0.1 1,-0.1 1,-0.1 1,-0.1 1,-0 1,0.1 1,0.2 1,0.1 1,-0 1,-0.1 1,-0.2 1,-0.1 1,-0.1 1,-0 1,0.1 1,0.2 1,0.1 1,0.1 1,-0 1,-0 1,-0.1 1,-0.1 1,-0.1 1,-0 1,0.1 1,0.1 1,0.1 1,0.1 1,-0 1,-0 1,-0 1,-0.1 1,-0.1 1,-0.1 1,-0.1 1,-0.1 1,-0 1,0.1 1,-0 1,0.1 1,-0 1,-0 1,-0 1,-0 1,-0 1,0.1 1,-0 1,-0 1,-0 1,-0 1,-0 1,-0 1,-0 1,-0 1,-0 1,0.1 1,-0 1,-0 1,-0.1 1,-0.1 1,-0.1 1,-0.1 1,-0.1 1,-0 1,0.1 1,0.1 1,0.2 1,0.1 1,-0 1,-0 1,-0 1,-0 1,-0.1 1,-0 1,-0 1,-0.1 1,-0 1,-0.1 1,-0.1 1,-0 1,-0.1 1,-0.1 1,-0.1 1,0.1 1,0.1 1,0.1 1,-0 1,-0 1,-0 1,-0 1,-0.2 1,-0.1 1,-0.1 1,-0 1,-0 1,0.1 1,0.1 1,0.1 1,0.1 1,0.2 1,0.1 1,-0 1,-0 1,-0.1 1,-0.1 1,-0 1,-0.1 1,-0.1 1,-0 1,-0.1 1,-0 1,0.1 1,-0 1,-0 1,0.1 1,-0 1,0.1 1,-0 1,-0.2 1,-0.2 1,-0.3 1,-0.2 1,-0.4 1,-0.6 1,-0.8 1,-0.8 1,-0.7 1,-0.6 1,-0.4 1,-0.3 1,-0.5 1,-0.7 1,-0.9 1,-0.8 1,-0.9 1,-0.9 1,-1 1,-1.1 1,-1.2 1,-1.4 1,-1.3 1,-1.3 1,-1.5 1,-1.7 1,-1.8 1,-1.7 1,-1.6 1,-1.2 1,-0.6 1,-0.5 1,-0.4 1,-0.4 1,-0.3 1,-0.4 1,-0.3 1,-0.3 1,-0.2 1,-0 1,0.4 1,0.8 1,1 1,1 1,1 1,0.9 1,0.7 1,0.4 1,0.1 1,-0 1,0.1 1,0.2 1,0.1 1,-0 1,-0.1 1,-0.1 1,-0.1 1,-0 1,-0 1,-0 1,-0.2 1,-0.4 1,-0.3 1,-0.3 1,-0.4 1,-0.2 1,-0.1 1,0.1 1,0.2 1,0.3 1,0.2 1,0.1 1,-0.1 1,-0.3 1,-0.4 1,-0.5 1,-0.6 1,-0.6 1,-0.5 1,-0.4 1,-0.2 1,-0.2 1,-0.2 1,-0.3 1,-0.4 1,-0.5 1,-0.5 1,-0.7 1,-0.6 1,-0.7 1,-0.7 1,-0.9 1,-1.3 1,-1.5 1,-1.6 1,-1.5 1,-1.3 1,-1.2 1,-1.3 1,-1.4 1,-1.6 1,-1.7 1,-1.9 1,-2.1 1,-2.6 1,-3.3 1,-5 1,-6 1,-5.7 1,-4.6 1,-3.6 1,-3.7 1,-3.7 1,-3.2 1,-2.3 1,-1 1,0.3 1,1.3 1,2.1 1,2.8 1,3.2 1,3.2 1,3.7 1,4.8 1,5.3 1,5.2 1,4.8 1,3.7 1,2.2 1,1.2 1,1.1 1,1 1,1 1,1 1,0.9 1,0.9 1,0.6 1,0.4 1,0.2 1,-0 1,0.1 1,0.2 1,0.6 1,0.7 1,0.8 1,0.7 1,0.5 1,0.4 1,0.4 1,0.3 1,0.3 1,0.3 1,0.2 1,0.3 1,0.3 1,0.4 1,0.4 1,0.4 1,0.4 1,0.4 1,0.5 1,0.5 1,0.4 1,0.3 1,0.1 1,0.2 1,0.3 1,0.7 1,0.8 1,0.7 1,0.7 1,0.5 1,0.5 1,0.6 1,0.5 1,0.5 1,0.2 1,0.2 1,0.1 1,0.1 1,0.2 1,0.2 1,0.3 1,0.3 1,0.2 1,0.3 1,0.1 1,-0 1,-0.1 1,-0.3 1,-0.1 1,-0 1,0.2 1,0.3 1,0.2 1,0.3 1,0.1 1,0.1 1,0.1 1,0.1 1,0.2 1,0.1 1,-0 1,-0.1 1,-0.2 1,-0.2 1,-0.1 1,-0 1,0.2 1,0.1 1,-0 1,-0.2 1,-0.2 1,-0.3 1,-0.2 1,-0.2 1,-0.2 1,-0 1,-0.2 1,-0.2 1,-0.3 1,-0.4 1,-0.3 1,-0.1 1,-0.3 1,-0.3 1,-0.5 1,-0.5 1,-0.3 1,-0.2 1,-0.2 1,-0.3 1,-0.4 1,-0.5 1,-0.7 1,-0.6 1,-0.5 1,-0.5 1,-0.4 1,-0.5 1,-0.4 1,-0.3 1,-0.1 1,-0.2 1,-0.1 1,-0.3 1,-0.4 1,-0.3 1,-0.3 1,-0.2 1,-0.3 1,-0.4 1,-0.4 1,-0.5 1,-0.5 1,-0.5 1,-0.5 1,-0.5 1,-0.5 1,-0.3 1,-0.2 1,0.2 1,0.6 1,1 1,1.1 1,1.2 1,1.1 1,1.1 1,1 1,0.7 1,0.6 1,0.2 1,-0 1,-0.1 1,-0 1,-0 1,-0.2 1,-0.2 1,-0.2 1,-0.1 1,0.1 1,0.2 1,0.3 1,0.2 1,-0.1 1,-0.1 1,-0.2 1,-0.1 1,-0.1 1,-0 1,-0 1,-0 1,-0 1,-0.1 1,-0.2 1,-0.3 1,-0.3 1,-0.3 1,-0.3 1,-0.1 1,-0.2 1,-0 1,-0 1,0.1 1,-0 1,0.1 1,-0.1 1,-0.1 1,-0 1,-0.1 1,-0 1,-0 1,-0.1 1,-0 1,0.1 1,0.1 1,0.1 1,0.1 1,-0 1,-0.1 1,-0.1 1,-0.2 1,-0.2 1,-0.2 1,-0.1 1,-0 1,-0 1,-0 1,-0.1 1,-0.2 1,-0.2 1,-0.1 1,-0.2 1,-0.2 1,-0.4 1,-0.3 1,-0.4 1,-0.2 1,-0.2 1,-0.2 1,-0.1 1,-0.1 1,-0.2 1,-0.2 1,-0.2 1,-0.3 1,-0.4 1,-0.4 1,-0.5 1,-0.4 1,-0.3 1,-0.3 1,-0.2 1,-0.2 1,-0.3 1,-0.4 1,-0.5 1,-0.5 1,-0.5 1,-0.5 1,-0.5 1,-0.6 1,-0.6 1,-0.8 1,-0.8 1,-1.1 1,-1.3 1,-1.4 1,-1.6 1,-1.6 1,-1.6 1,-1.6 1,-1.7 1,-1.7 1,-1.8 1,-1.9 1,-1.7 1,-1.6 1,-1.6 1,-1.7 1,-1.8 1,-1.9 1,-2 1,-2 1,-1.9 1,-1.7 1,-1.3 1,-0.6 1,0.1 1,0.7 1,1 1,1.2 1,1.2 1,1.3 1,1.4 1,1.5 1,1.7 1,2.2 1,2.7 1,2.9 1,2.8 1,2.5 1,2.3 1,2 1,1.6 1,1.4 1,1 1,1 1,0.9 1,0.9 1,0.6 1,0.6 1,0.3 1,0.3 1,0.1 1,0.3 1,0.3 1,0.4 1,0.3 1,-0 1,-0.1 1,-0.2 1,-0.1 1,0.1 1,0.2 1,0.4 1,0.2 1,0.1 1,-0.2 1,-0.3 1,-0.6 1,-0.7 1,-0.6 1,-0.4 1,-0.3 1,-0.2 1,-0.2 1,-0.3 1,-0.4 1,-0.5 1,-0.6 1,-0.7 1,-0.7 1,-0.7 1,-0.8 1,-0.7 1,-0.9 1,-0.8 1,-0.9 1,-1.1 1,-1.1 1,-1.2 1,-1.3 1,-1.4 1,-1.4 1,-1.5 1,-1.5 1,-1.6 1,-1.7 1,-1.8 1,-2.1 1,-2.3 1,-2.4 1,-2.6 1,-2.6 1,-3.1 1,-3.9 1,-4.9 1,-5.6 1,-6 1,-6.4 1,-7.5 1,-8.4 1,-9.1 1,-9.2 1,-9.6 1,-10.1 1,-10.1 1,-10.3 1,-11.2 1,-11.4 1,-9.9 1,-7.1 1,-6.1 1,-5.4 1,-4.1 1,-2 1,0.6 1,2.9 1,4.7 1,6 1,6.9 1,12.3 1,17.5 1,16 1,15.7 1,14.5 1,12.2 1,11.2 1,9.9 1,8.3 1,6.6 1,6.1 1,5.3 1,4.5 1,3.6 1,2.7 1,2.3 1,2.2 1,2 1,1.8 1,1.7 1,1.6 1,1.6 1,1.4 1,1.3 1,1.1 1,1 1,0.9 1,1 1,0.9 1,0.8 1,0.6 1,0.5 1,0.4 1,0.4 1,0.5 1,0.6 1,0.7 1,0.5 1,0.3 1,0.2 1,0.2 1,0.2 1,0.3 1,0.3 1,0.2 1,0.2 1,-0.1 1,-0.1 1,-0.2 1,-0 1,-0 1,-0 1,-0 1,-0 1,-0.2 1,-0.2 1,-0.2 1,-0.2 1,-0.1 1,-0 1,0.1 1,0.1 1,0.1 1,-0.1 1,-0.2 1,-0.1 1,-0.3 1,-0.2 1,-0.2 1,-0.2 1,-0 1,0.1 1,0.2 1,0.2 1,-0 1,-0.1 1,-0.2 1,-0.2 1,-0.3 1,-0.3 1,-0.2 1,-0 1,-0.1 1,-0 1,-0 1,-0 1,-0 1,-0 1,-0.1 1,-0.1 1,-0.1 1,-0.3 1,-0.3 1,-0.3 1,-0.2 1,-0.1 1,0.1 1,-0 1,-0 1,-0 1,-0.2 1,-0.1 1,-0.1 1,-0 1,-0.1 1,-0.1 1,-0.1 1,-0 1,0.1 1,0.2 1,0.1 1,-0 1,-0 1,0.1 1,-0 1,0.1 1,0.2 1,0.1 1,0.1 1,0.2 1,0.2 1,0.4 1,0.3 1,0.3 1,0.3 1,0.4 1,0.2 1,-0 1,-0.1 1,-0.3 1,-0 1,0.1 1,0.3 1,0.2 1,0.2 1,0.1 1,0.2 1,0.1 1,0.1 1,0.2 1,0.2 1,0.2 1,0.1 1,-0.1 1,-0.4 1,-0.6 1,-0.5 1,-0.3 1,-0.2 1,-0 1,-0.1 1,-0.1 1,-0.2 1,-0 1,-0.1 1,-0.1 1,-0.2 1,-0.3 1,-0.2 1,-0.1 1,0.1 1,0.2 1,0.1 1,-0 1,-0.1 1,-0.1 1,-0.2 1,-0 1,-0 1,-0 1,-0 1,0.1 1,0.1 1,0.1 1,-0 1,-0 1,-0.1 1,-0.1 1,-0.2 1,-0.2 1,-0.1 1,0.1 1,0.1 1,0.3 1,0.1 1,-0 1,-0.2 1,-0.2 1,-0 1,-0.1 1,-0.1 1,-0.3 1,-0.4 1,-0.4 1,-0.4 1,-0.3 1,-0.2 1,-0.1 1,-0.1 1,-0 1,-0 1,-0.1 1,-0.3 1,-0.4 1,-0.5 1,-0.6 1,-0.4 1,-0.3 1,-0 1,0.1 1,0.2 1,0.2 1,0.1 1,-0.1 0.5,-0"/>
<path stroke="none" fill="#000" d="M145.5,1743.4l1,1.1 1,0.5 1,0.4 1,0.6 1,0 1,-0.7 1,-0.5 1,0 1,-0.5 1,-1 1,-0.3 1,-0.1 1,-0.3 1,-0.2 1,0.3 1,0.5 1,0.3 1,0.5 1,-0.2 1,-0.5 1,0.2 1,0.3 1,-0.3 1,0.3 1,0.7 1,-0.7 1,-1 1,-0.4 1,0 1,0.5 1,0.3 1,0.4 1,0.2 1,0.1 1,-0.3 1,-0.3 1,-0.6 1,-0.5 1,-0.2 1,0.2 1,0.4 1,0.1 1,-0.6 1,-1 1,-0.3 1,0.6 1,0.1 1,-0.8 1,-0.4 1,0 1,-0.3 1,-0.3 1,0 1,0.4 1,0.5 1,0.2 1,-0.3 1,-0.9 1,-1.7 1,-1 1,1 1,0.9 1,0.1 1,-0.7 1,-0.8 1,0 1,0.6 1,0.3 1,-0.3 1,-0.5 1,0.1 1,0.1 1,-0.6 1,-0.8 1,0.4 1,1.3 1,0.8 1,0.7 1,0.6 1,0.1 1,0.2 1,0.8 1,0.2 1,-0.6 1,-0.3 1,0.5 1,0.3 1,0.1 1,0.8 1,0.6 1,-0.2 1,-0.7 1,-0.7 1,-0.8 1,-0.2 1,0.8 1,0.8 1,0.4 1,0.4 1,-0.1 1,-0.8 1,-0.5 1,-0.1 1,0 1,0.1 1,0.7 1,0.7 1,0.4 1,0.1 1,-0.1 1,-0.3 1,-0.1 1,0.2 1,0.2 1,-0.9 1,-0.6 1,0.1 1,-0.1 1,-0.6 1,0.4 1,0.5 1,-0.2 1,-0.4 1,-0.4 1,0.3 1,0.8 1,0.5 1,0.2 1,0.3 1,0.2 1,-0 1,-0 1,-0.3 1,-0.2 1,0.3 1,0.3 1,-0.2 1,-0.7 1,0 1,0.5 1,0 1,-0.7 1,-0.4 1,0.1 1,0 1,-0.2 1,-0.3 1,-0.4 1,-0.1 1,0.8 1,0.9 1,-0.7 1,-0.6 1,-0.5 1,-0.5 1,0.1 1,0.4 1,-0.3 1,-0.6 1,-0.4 1,-0.1 1,0.1 1,0 1,-0.6 1,-0.4 1,0.4 1,0.5 1,0.3 1,0.1 1,-0.2 1,-0.6 1,-0.4 1,-0.1 1,0.4 1,0.4 1,0.2 1,0.1 1,0 1,-0.2 1,-0.1 1,0 1,0.1 1,0.6 1,0.2 1,-0.9 1,-1 1,0.2 1,0.1 1,0.2 1,1 1,0.6 1,-0.1 1,0.2 1,0.3 1,0.2 1,0.2 1,0.4 1,0.6 1,0 1,-0.7 1,-0.7 1,-0.4 1,-0.7 1,0.1 1,1.1 1,0.8 1,0.5 1,0 1,-0.2 1,0.2 1,0.5 1,1.2 1,0.9 1,-0.5 1,-1.3 1,-0.9 1,-0.3 1,0 1,0.4 1,0.1 1,-0.1 1,0.3 1,0.6 1,0.3 1,-0.4 1,-0.4 1,0 1,0.5 1,0.5 1,-0.1 1,-0.8 1,-0.3 1,0.6 1,0.4 1,0.2 1,-0.7 1,-0.9 1,0.1 1,0 1,-0.5 1,0.5 1,0.8 1,0.2 1,0.2 1,0.2 1,0 1,-0.4 1,-0.3 1,0.2 1,-0.1 1,-1.1 1,-0.9 1,-0.6 1,-0.4 1,0.3 1,0.6 1,0.5 1,0 1,-0.1 1,0.1 1,0.2 1,-0.4 1,-0.5 1,-0.2 1,0 1,0 1,-0.3 1,-0.3 1,-0.8 1,-0.5 1,0.3 1,0.8 1,-0.3 1,-1.1 1,-0.3 1,0.6 1,0.8 1,0.6 1,-0.2 1,-0.2 1,0.2 1,-0.2 1,-0.7 1,-0.4 1,0.7 1,0.5 1,0 1,-0.7 1,-1.1 1,-0.9 1,0.3 1,1.2 1,1 1,0.1 1,-1 1,-1 1,-0.6 1,0.3 1,0.8 1,0.4 1,-0.1 1,-0.4 1,-0.4 1,-0.4 1,-0.1 1,0.4 1,0.1 1,-0.1 1,0.6 1,0.6 1,0.5 1,0.6 1,-0.5 1,-1.2 1,-0.3 1,0.7 1,0.5 1,0.4 1,0.5 1,0.5 1,0.8 1,0.4 1,-0.3 1,-0.8 1,-0.5 1,0.4 1,0.5 1,0 1,-0.3 1,-0.1 1,0.7 1,0.6 1,0.2 1,-0.6 1,-0.6 1,-0.1 1,0.4 1,0 1,0.1 1,0.4 1,-0.1 1,-0.2 1,0.5 1,0.6 1,0.2 1,-0.3 1,-0.8 1,-0.1 1,0.3 1,0.2 1,0.2 1,0 1,-0.6 1,-0.7 1,0 1,0.2 1,-0.7 1,-0.5 1,0.6 1,1 1,0.6 1,-0.1 1,-0.4 1,-0.5 1,-1.1 1,-0.5 1,0.6 1,0.9 1,0 1,-0.8 1,-0.7 1,-0.1 1,-0.5 1,-0.6 1,0 1,0.8 1,0.5 1,0 1,-0.3 1,-0.3 1,0.3 1,0.3 1,-0.9 1,-1.2 1,-0.2 1,0.7 1,1.1 1,-0.2 1,-1 1,-0.9 1,-0.9 1,-0.1 1,0.7 1,0.4 1,0.1 1,0.1 1,-0.5 1,-0.9 1,-0.3 1,0.3 1,0.5 1,0 1,-0.3 1,-0.5 1,-0.1 1,0.3 1,-0.1 1,-0.8 1,-0.9 1,-0.6 1,0.1 1,-0.5 1,-1.2 1,-0.4 1,0.1 1,-0.4 1,-0.6 1,0.2 1,0.6 1,0 1,-0.4 1,-1 1,-1.3 1,-1.4 1,-1.1 1,-0.8 1,-0.9 1,-0.9 1,-1.5 1,-1.1 1,-0.1 1,0.2 1,-0.3 1,-0.8 1,-1.5 1,-1.8 1,-1.4 1,-0.8 1,0 1,0.4 1,0.6 1,0.7 1,0.9 1,1.5 1,1.4 1,0.5 1,0.4 1,0.8 1,1.3 1,1.7 1,2.1 1,1.7 1,1 1,0.9 1,1.1 1,1.4 1,0.7 1,-0.2 1,-0.5 1,0.2 1,0.5 1,0.5 1,0.8 1,0.6 1,0.3 1,0.3 1,0.2 1,0.3 1,1 1,0.3 1,-0.8 1,-0.2 1,0.4 1,0.3 1,0.2 1,-0.1 1,0 1,0.3 1,0 1,-1 1,-0.5 1,0.4 1,0.4 1,0.2 1,0.5 1,0 1,-0.7 1,-0.8 1,-0.7 1,-0.5 1,-0.1 1,0.6 1,0.3 1,0 1,0 1,0.2 1,0.7 1,0.8 1,0.1 1,-0.9 1,-0.6 1,0.6 1,0.4 1,-0.9 1,-0.9 1,0.5 1,0.9 1,0 1,-0.5 1,-0.6 1,-0.6 1,0.2 1,0.8 1,-0.1 1,0 1,0.7 1,-0.1 1,-0.2 1,0.2 1,0.2 1,0.2 1,0.4 1,0.8 1,1 1,0.2 1,-0.1 1,0.6 1,0.9 1,0.8 1,0.6 1,0.3 1,-0.1 1,0.1 1,0.6 1,0.2 1,-0.5 1,-0.2 1,-0.2 1,-0.1 1,-0 1,0.6 1,0.8 1,0.8 1,0.4 1,0.2 1,0.2 1,-0 1,-0.1 1,-0.3 1,-0.1 1,0.4 1,0.6 1,0.3 1,0.3 1,-0.1 1,-0.3 1,-0.2 1,-0 1,0.1 1,-0 1,-0 1,0.1 1,0.1 1,-0.2 1,0.1 1,0.3 1,0 1,0 1,-0.1 1,-0.2 1,0.1 1,-0.1 1,-0.2 1,-0.4 1,-0.2 1,0.2 1,0.2 1,0.3 1,0.3 1,0.1 1,-0.1 1,-0.3 1,-0.2 1,0.2 1,0.3 1,-0.1 1,-0.3 1,-0.1 1,0.3 1,0.4 1,0 1,-0.2 1,-0.2 1,-0.1 1,-0.1 1,-0.2 1,-0.1 1,-0 1,0.1 1,0.3 1,0.3 1,-0.2 1,-0.2 1,-0.1 1,0.3 1,0.7 1,0.5 1,-0.1 1,-0.2 1,-0.1 1,-0.1 1,-0 1,0.2 1,-0 1,-0.4 1,-0.3 1,-0.3 1,-0.1 1,-0.2 1,-0.2 1,-0.2 1,0.2 1,0.4 1,0.2 1,-0 1,0.1 1,-0.1 1,-0.2 1,0.1 1,0.2 1,0.2 1,0.5 1,0.4 1,-0 1,0.1 1,-0 1,-0.4 1,-0.3 1,-0.2 1,-0.1 1,-0.1 1,-0.1 1,-0.1 1,-0 1,-0.1 1,-0 1,0.1 1,0.1 1,0.1 1,0.1 1,0.1 1,-0 1,-0.2 1,-0.2 1,-0.5 1,-0.1 1,0.2 1,0.2 1,0.2 1,0.2 1,0.2 1,-0.2 1,-0.4 1,-0.3 1,-0 1,-0 1,-0.2 1,-0.1 1,0.1 1,0.3 1,0.2 1,-0 1,-0.2 1,-0.1 1,-0.1 1,0.3 1,0.2 1,0.1 1,-0.2 1,-0.2 1,-0 1,-0 1,-0 1,0.1 1,0.2 1,0.1 1,-0.1 1,-0.2 1,-0 1,0.1 1,-0.1 1,-0 1,-0 1,-0.1 1,-0.2 1,-0.1 1,-0.2 1,-0.1 1,0.1 1,0.3 1,0.2 1,-0.1 1,-0.3 1,-0.2 1,-0.1 1,-0 1,0.1 1,-0 1,0.1 1,0.1 1,0.2 1,0.1 1,0.1 1,0 1,0 1,0 1,0 1,0.2 1,-0 1,-0.1 1,-0.2 1,-0.1 1,0.2 1,0.2 1,-0.1 1,-0.2 1,-0.4 1,-0.2 1,-0 1,-0 1,-0 1,0.1 1,0.1 1,0 1,-0.1 1,-0.1 1,0.2 1,0.2 1,0.2 1,0.2 1,-0.1 1,-0.2 1,-0.1 1,-0 1,0.1 1,0.1 1,-0.1 1,-0 1,0.1 1,0.3 1,0.3 1,0.1 1,0.1 1,-0.1 1,-0.3 1,-0.1 1,-0 1,-0 1,-0 1,-0 1,-0.2 1,-0.3 1,-0.1 1,-0 1,-0 1,-0.2 1,-0.1 1,-0 1,0.1 1,0.3 1,0.3 1,0.2 1,-0.1 1,-0.1 1,-0.2 1,-0.1 1,-0.2 1,-0 1,0.2 1,0.1 1,-0 1,0.2 1,0.2 1,0.2 1,-0.1 1,-0.1 1,-0.1 1,-0.2 1,-0 1,-0 1,0.1 1,-0 1,-0.3 1,-0 1,0.3 1,0.4 1,-0 1,-0.3 1,-0.2 1,-0 1,-0 1,-0 1,0.1 1,0.1 1,0.1 1,0.2 1,-0 1,-0 1,-0.1 1,-0.3 1,-0.2 1,-0 1,-0 1,-0 1,-0.1 1,0.1 1,0.1 1,0.2 1,0.1 1,-0.1 1,-0.2 1,0.1 1,0.4 1,0.1 1,-0.2 1,-0.3 1,-0.3 1,0.1 1,0.3 1,0.1 1,0.3 1,0.3 1,-0.1 1,-0.3 1,-0.1 1,-0.4 1,-0.8 1,-1 1,-0.8 1,-1.2 1,-1.6 1,-1.4 1,-1 1,-0.7 1,-0.3 1,0.5 1,0.9 1,1.1 1,1.4 1,1.5 1,1.1 1,0.7 1,0.5 1,0.4 1,0.4 1,0.2 1,-0 1,-0.2 1,-0.1 1,-0.1 1,-0.1 1,-0 1,-0 1,0.2 1,0.3 1,-0 1,-0.2 1,-0.3 1,-0.2 1,0.1 1,0.3 1,0.4 1,0.2 1,-0.2 1,-0.1 1,-0.1 1,-0.2 1,-0 1,0.3 1,0.2 1,0.1 1,-0 1,0.1 1,-0.1 1,-0 1,-0.1 1,-0 1,0.1 1,0.1 1,-0 1,-0.1 1,-0 1,0.1 1,-0.1 1,-0 1,-0.1 1,-0.1 1,-0 1,-0 1,-0 1,-0.1 1,-0 1,0.4 1,0.3 1,0.1 1,-0 1,-0.3 1,-0.3 1,-0 1,-0 1,-0.2 1,-0 1,-0.1 1,-0.1 1,-0 1,0.2 1,-0.1 1,-0 1,-0.1 1,0.1 1,0.1 1,-0.1 1,-0.2 1,-0.2 1,0.2 1,0.2 1,0.1 1,0.1 1,0.2 1,0.1 1,0.1 1,0.2 1,-0.1 1,-0.2 1,-0.1 1,-0 1,-0.2 1,-0.2 1,0.3 1,0.2 1,-0.2 1,-0.3 1,-0.4 1,-0.2 1,0.3 1,0.4 1,-0 1,-0.3 1,0.2 1,0.4 1,0.2 1,-0 1,0.1 1,-0.1 1,-0.2 1,-0.4 1,-0 1,0.1 1,-0 1,0.1 1,0.2 1,0.2 1,0.1 1,-0 1,-0.3 1,-0.2 1,-0.2 1,-0 1,0.3 1,0.2 1,-0.1 1,0.2 1,-0.1 1,-0.3 1,-0.3 1,-0 1,0.2 1,0.2 1,-0 1,-0.1 1,-0 1,-0.1 1,-0 1,0.1 1,-0.1 1,-0.1 1,0.1 1,0.3 1,0.2 1,-0.1 1,-0.3 1,-0.3 1,-0.1 1,0.2 1,0.3 1,0.1 1,0.1 1,-0 1,-0 1,-0.1 1,0.2 1,0.2 1,-0.1 1,-0.3 1,-0.4 1,-0.3 1,0.2 1,0.5 1,0.4 1,-0.2 1,-0.4 1,-0.1 1,0.2 1,0.2 1,-0 1,-0.2 1,-0.2 1,0.1 1,-0 1,-0.2 1,-0.1 1,0.1 1,-0 1,0.1 1,-0 1,0.1 1,0.2 1,0.1 1,-0 1,-0.3 1,-0.6 1,-0.3 1,0.2 1,0.4 1,0.3 1,-0 1,0.2 1,0.2 1,-0 1,-0.2 1,-0.1 1,-0.2 1,-0.2 1,-0 1,0.2 1,0.1 1,-0 1,-0 1,0.1 1,-0.1 1,-0.1 1,0.1 1,0.1 1,-0.4 1,-0.4 1,-0 1,0.2 1,0.1 1,-0.2 1,0.2 1,0.1 1,0.1 1,0.2 1,-0.2 1,-0.1 1,0.1 1,0.2 1,0.1 1,-0 1,-0.2 1,-0.1 1,-0 1,-0 1,0.2 1,0.2 1,-0.2 1,-0.4 1,-0.3 1,-0 1,-0 1,-0 1,-0 1,-0 1,0.1 1,0.2 1,0.2 1,0.1 1,0.1 1,0.1 1,-0.1 1,-0.2 1,-0.1 1,-0 1,0.1 1,0.1 1,-0.1 1,-0 1,0.1 1,-0.1 1,-0.2 1,-0.2 1,0.1 1,0.1 1,-0 1,-0.1 1,0.1 1,-0 1,-0.2 1,-0 1,-0 1,-0.1 1,-0 1,0.1 1,0.3 1,0.3 1,-0 1,-0.1 1,-0 1,-0 1,-0.1 1,0.1 1,0.3 1,-0.1 1,-0.4 1,-0.2 1,-0.1 1,-0 1,0.1 1,0.1 1,-0.2 1,-0.1 1,0.1 1,0.2 1,0.1 1,-0.2 1,-0.6 1,-0.5 1,0.5 1,0.5 1,-0.5 1,-0.8 1,-0.7 1,-0.6 1,-0.4 1,-0.4 1,-0.9 1,-1.3 1,-0.8 1,-0.8 1,-0.7 1,-0.1 1,-0.2 1,-1.2 1,-1.5 1,-0.9 1,-1 1,-0.5 1,-1.1 1,-1.8 1,-1.4 1,-1 1,-1.3 1,-2.1 1,-2.1 1,-1.3 1,-1.1 1,-1.4 1,-0.8 1,-0.6 1,-0.2 1,0.1 1,-0 1,-0.2 1,-0.8 1,-0.6 1,-0.3 1,-0.2 1,0.2 1,1.2 1,1.4 1,1.3 1,1.4 1,0.9 1,-0 1,-0.2 1,0.3 1,0.2 1,-0.2 1,-0.3 1,0.1 1,0.4 1,0.5 1,0.1 1,-0.2 1,0.1 1,-0.1 1,-0.3 1,-0.2 1,-0 1,-0.1 1,-0.5 1,-0.2 1,-0 1,-0.3 1,-0.4 1,-0 1,1.1 1,0.4 1,-0.2 1,-0.5 1,-0.7 1,0.1 1,-0.3 1,-1.2 1,-1 1,-0.6 1,-0.4 1,-0.3 1,-0.3 1,-0.2 1,-0.3 1,-0.1 1,0.1 1,-1.3 1,-2 1,-0.7 1,-0.1 1,-0.1 1,-0.1 1,-0.8 1,-1.7 1,-2.4 1,-2.3 1,-1.5 1,-0.7 1,-0.6 1,-0.9 1,-1.1 1,-2 1,-2.3 1,-1.4 1,-1.5 1,-3.4 1,-5.9 1,-6.4 1,-5.7 1,-5 1,-4.5 1,-3.3 1,-2.5 1,-3.1 1,-2.8 1,-1.4 1,0.1 1,1.1 1,2.6 1,3.6 1,2.7 1,2.1 1,3.9 1,5.7 1,5.7 1,5 1,4.2 1,3.6 1,1.9 1,0.4 1,0.7 1,1.4 1,1.2 1,1 1,1.1 1,0.8 1,1.2 1,1.2 1,1.1 1,0.5 1,-0.4 1,-0.2 1,0.6 1,0.6 1,0.6 1,1.3 1,0.9 1,0.2 1,0.2 1,0.4 1,0.3 1,-0 1,-0.4 1,-0.4 1,-0 1,0.4 1,0.9 1,1.2 1,1 1,0.2 1,-0.4 1,-0.1 1,0.1 1,0.1 1,0.8 1,1.1 1,0.8 1,0.7 1,0.3 1,0.6 1,1.3 1,0.6 1,-0.2 1,-0.2 1,-0 1,0.3 1,0.5 1,0 1,0.1 1,0.4 1,0.2 1,0.6 1,1 1,0.3 1,-0.2 1,-0.2 1,0.2 1,0.5 1,0.6 1,0.3 1,-0.5 1,-1.1 1,-0.4 1,1 1,0.8 1,0.1 1,0.3 1,0.3 1,-0.1 1,-0.2 1,0.4 1,0.2 1,-0.4 1,-0.6 1,-0.4 1,-0.8 1,-0.5 1,0.1 1,0.8 1,1 1,0.1 1,-0.8 1,-0.1 1,-0.1 1,-0.7 1,-0.2 1,0 1,-0.6 1,-0.9 1,0.6 1,1 1,-0.6 1,-1.6 1,-0.8 1,0.3 1,0.6 1,-0.1 1,-0.7 1,-0.4 1,0.1 1,0.2 1,-0.2 1,-0.7 1,-0.8 1,-0.8 1,-1 1,-0.7 1,-0.5 1,-0.7 1,-0.2 1,-0.3 1,-1 1,-0.6 1,0.2 1,0.2 1,-0.3 1,-0.6 1,-0.1 1,0.2 1,-0.3 1,-0.9 1,-0.4 1,-0.3 1,-0.7 1,-0.7 1,0.2 1,-0.1 1,-0.4 1,-0.3 1,0.3 1,-0.4 1,-0.5 1,0.3 1,0.7 1,0.9 1,1.5 1,1.3 1,1.2 1,1.3 1,0.3 1,-0.3 1,0.7 1,1.1 1,0.1 1,-0.9 1,-0.6 1,0.2 1,0.3 1,-0.4 1,-0.8 1,-0.3 1,0.5 1,0.7 1,0.3 1,0.1 1,0.2 1,0.2 1,0 1,-0.2 1,-0.1 1,0.1 1,0 1,0.4 1,0 1,-0.5 1,-0.3 1,-0.6 1,-0.6 1,0 1,-0.4 1,-0.3 1,0.3 1,1.2 1,0.9 1,-0.5 1,-1.3 1,-1 1,-0.5 1,0 1,0.9 1,0.8 1,-0.2 1,-1 1,-0.3 1,1.1 1,1.1 1,0 1,-0.5 1,-0.5 1,-0.7 1,-0.2 1,0.6 1,0.4 1,-0.4 1,-0.9 1,-0.3 1,-0.3 1,-0.4 1,0.8 1,1 1,0.3 1,-0.5 1,-0.9 1,-0.7 1,-0.5 1,0.1 1,0 1,-0.4 1,0.1 1,1.1 1,0.1 1,-0.6 1,-0.7 1,-0.7 1,-0.5 1,-0.3 1,-0.8 1,-1 1,-0.5 1,-0.4 1,-0.1 1,0 1,-0.5 1,-0.5 1,-0.2 1,-0.4 1,-0.7 1,-0.5 1,-0.5 1,-0.5 1,-0.2 1,0.2 1,-0.5 1,-0.7 1,-1.1 1,-2 1,-1.7 1,-1.1 1,-1 1,-0.9 1,-1.4 1,-1.8 1,-2.6 1,-2 1,-1.3 1,-1.3 1,-0.4 1,-0.5 1,-2 1,-3.2 1,-3.4 1,-2.5 1,-1.3 1,-1.3 1,-1.9 1,-1.8 1,-0.8 1,0.3 1,0.6 1,0.2 1,0 1,0.8 1,1.2 1,1.8 1,2 1,1.8 1,2 1,2.4 1,2.5 1,2 1,2 1,1.8 1,1.7 1,2 1,2.5 1,1.8 1,1.4 1,0.9 1,0.2 1,0.3 1,1.1 1,1.3 1,0.2 1,-0.2 1,0.5 1,0.7 1,0.5 1,0.5 1,0.5 1,0.3 1,-0.5 1,-0.7 1,0.1 1,0.1 1,-0.2 1,0.3 1,0.5 1,0.3 1,-0.2 1,-0.8 1,-0.7 1,-0.9 1,-0.7 1,0 1,0 1,-0.3 1,-0.4 1,-0.6 1,-0.4 1,0 1,-0.1 1,-0.5 1,-1 1,-1.2 1,-1.4 1,-1.2 1,-0.7 1,-0.5 1,-1 1,-1.1 1,-0.5 1,-0.6 1,-1.8 1,-1.8 1,-1 1,-1 1,-1.2 1,-1.4 1,-1.8 1,-2.1 1,-1.7 1,-1.9 1,-3 1,-3.4 1,-3.4 1,-3.5 1,-3.8 1,-4.5 1,-5.1 1,-6 1,-6.4 1,-6.6 1,-7.9 1,-8.9 1,-9.7 1,-10.9 1,-10.3 1,-8.9 1,-9.3 1,-11.7 1,-12.2 1,-10.7 1,-7.1 1,-5.3 1,-5.5 1,-4.8 1,-2.2 1,0.8 1,3.2 1,5 1,6.2 1,7.4 1,12.6 1,17.2 1,15.6 1,15.9 1,14.9 1,12.2 1,11.4 1,10.2 1,8 1,6.1 1,5.9 1,5.8 1,5.2 1,3.7 1,2.1 1,1.4 1,1.5 1,1.5 1,1 1,1.8 1,2.4 1,2.4 1,1.7 1,1.5 1,1 1,-0.2 1,-0.3 1,1.2 1,1.5 1,1.1 1,0.8 1,0.1 1,0.4 1,0.7 1,1.1 1,1.2 1,0.8 1,0.3 1,0.3 1,0.5 1,0.1 1,0.5 1,0.9 1,0.1 1,-1.2 1,-1.5 1,0.2 1,0.7 1,0.8 1,0.9 1,0.4 1,-0.5 1,-0.4 1,0.1 1,0.2 1,-0.3 1,-0.9 1,-0.7 1,0.3 1,0.4 1,0.1 1,0.1 1,0.3 1,-0.5 1,-0.5 1,0.1 1,0 1,-1.1 1,-1.1 1,0 1,0.1 1,-0.7 1,0.3 1,0.8 1,1 1,1.2 1,0.4 1,-1.1 1,-1.6 1,-0.9 1,0.2 1,0.6 1,0.3 1,0.1 1,0.5 1,0.2 1,-0.5 1,-0.2 1,0.3 1,0.1 1,-0.4 1,-1.2 1,-1 1,0.2 1,0.2 1,0 1,-0.1 1,0 1,0.1 1,0.6 1,0.5 1,-0.5 1,-0.7 1,-0.1 1,0.1 1,-0.5 1,-0.3 1,-0.4 1,0 1,0.5 1,0.4 1,0.6 1,0.1 1,-0.3 1,-0.3 1,-0.4 1,-0.3 1,-0.3 1,0 1,0.5 1,0.7 1,1.1 1,0.7 1,0.5 1,0.7 1,0.6 1,0.1 1,-0.1 1,-0.6 1,-0.8 1,-0.5 1,-0.2 1,0.4 1,0.4 1,0.4 1,0.5 1,0.8 1,0.1 1,-0.6 1,-0.3 1,0.2 1,-0.3 1,0.3 1,0.8 1,0 1,-1 1,-0.9 1,-0.6 1,-0.9 1,-0.8 1,0.2 1,0.8 1,0.8 1,1 1,0.7 1,0 1,-0.7 1,-1.9 1,-1.4 1,0.1 1,0.6 1,0.7 1,0.9 1,0.1 1,-0.6 1,-0.6 1,-0.6 1,0 1,0.3 1,0.7 1,0.7 1,0.3 1,-0.5 1,-0.5 1,0 1,0 1,-0.5 1,-0.4 1,0 1,0.5 1,-0.2 1,-0.2 1,0.5 1,0.6 1,0 1,-0.6 1,-0.6 1,-0.5 1,-0.3 1,0.2 1,0.5 1,0.1 1,-1 1,-0.9 1,0.2 1,0.9 1,0.6 1,-0.2 1,-0.6 1,-0.5 1,-0.8 1,-1 1,-0.4 1,-0.2 1,0.3 1,-0.1 1,-0.3 1,-0.5 1,-0.2 1,0.4 1,0.4 1,-0.1 1,-0.1 1,0.3 0.5,0.4 0,12.3 -0.5,-0.3 -1,-0.4 -1,-0.2 -1,-0.1 -1,0 -1,-0.2 -1,-0.2 -1,0.1 -1,0.7 -1,0.9 -1,0.4 -1,0 -1,0 -1,-0.2 -1,-0.2 -1,-0.2 -1,0.2 -1,0.7 -1,0.7 -1,0 -1,0.1 -1,0.6 -1,0.6 -1,0.2 -1,0.1 -1,0.4 -1,0.4 -1,0.1 -1,0.1 -1,-0.2 -1,-0.8 -1,-0.3 -1,0.7 -1,0.6 -1,0.4 -1,-0.1 -1,-0.7 -1,-0.6 -1,0 -1,0.1 -1,0 -1,0.1 -1,0.8 -1,0.9 -1,0.1 -1,-0.3 -1,-0.7 -1,-0.2 -1,0.1 -1,-0.4 -1,-0.7 -1,-0.2 -1,0.9 -1,0.6 -1,-0.1 -1,-0.1 -1,0.7 -1,0.6 -1,-0.3 -1,-0.4 -1,0.2 -1,-0.4 -1,-0.6 -1,-0.5 -1,-0.2 -1,0.2 -1,0.6 -1,0.9 -1,0.4 -1,0.3 -1,0.6 -1,0.7 -1,0.2 -1,0.2 -1,0.6 -1,-0.4 -1,-1 -1,-0.7 -1,-0.7 -1,-0.5 -1,0.1 -1,0 -1,-0.6 -1,-0.1 -1,0.1 -1,0.2 -1,0.5 -1,0.7 -1,0.4 -1,-0.4 -1,-0.9 -1,-0.5 -1,-0.3 -1,-1 -1,-0.7 -1,0.9 -1,0.4 -1,-0.3 -1,-0.2 -1,-0.2 -1,-0.1 -1,0.2 -1,0.2 -1,-0.1 -1,-0.2 -1,-0.4 -1,0 -1,-0.2 -1,-0.1 -1,0.6 -1,0.3 -1,-0.1 -1,0.4 -1,0.5 -1,0.1 -1,0.1 -1,-0.3 -1,-0.5 -1,-0.3 -1,0.5 -1,0.3 -1,-0.5 -1,0.1 -1,1.3 -1,0.2 -1,-0.6 -1,0 -1,0.1 -1,-0.4 -1,-0.5 -1,-0.3 -1,0 -1,1 -1,0.7 -1,-0.7 -1,-0.3 -1,0.2 -1,0.3 -1,0.2 -1,0.1 -1,-0.5 -1,-1.3 -1,0 -1,1.4 -1,0.5 -1,-0.1 -1,0.5 -1,0.3 -1,-0.3 -1,0.1 -1,1 -1,0.5 -1,-0.9 -1,-1.1 -1,0.1 -1,0.8 -1,0.5 -1,-0.1 -1,0.5 -1,0.9 -1,0.4 -1,0 -1,0.1 -1,-0.8 -1,-1.2 -1,-0.3 -1,0.1 -1,0.6 -1,0.8 -1,0.4 -1,-0.1 -1,-0.5 -1,-0.6 -1,-0.5 -1,-0.3 -1,0 -1,0.4 -1,0.1 -1,-0.6 -1,-0.8 -1,-0.9 -1,-0.7 -1,-0.5 -1,-0.4 -1,-0.8 -1,-1.6 -1,-1.2 -1,-0.5 -1,-0.2 -1,-0.7 -1,-1.4 -1,-1.1 -1,-0.9 -1,-1.9 -1,-2.7 -1,-2.6 -1,-1.4 -1,-0.7 -1,-1.7 -1,-3.1 -1,-3.3 -1,-3.7 -1,-4.7 -1,-4.9 -1,-4.9 -1,-6 -1,-8.2 -1,-10.1 -1,-11.8 -1,-12.8 -1,-14.6 -1,-15 -1,-15 -1,-17.5 -1,-13.3 -1,-7.6 -1,-6.3 -1,-5.2 -1,-3.5 -1,-1 -1,2.5 -1,4.7 -1,5.9 -1,6.4 -1,7.8 -1,10.5 -1,11.1 -1,10.9 -1,10.2 -1,9.7 -1,9.7 -1,9.7 -1,8.9 -1,8.7 -1,8.7 -1,8.1 -1,6.8 -1,6.1 -1,5.4 -1,4.4 -1,3.4 -1,3 -1,2.8 -1,2.2 -1,1.8 -1,1.9 -1,2.2 -1,2.8 -1,2.8 -1,2.1 -1,1.3 -1,0.4 -1,0.5 -1,1.6 -1,1.9 -1,1.2 -1,1 -1,1.3 -1,1.3 -1,0.8 -1,0 -1,0 -1,1.3 -1,1.8 -1,1.2 -1,0.2 -1,-0.2 -1,-0.1 -1,0.6 -1,1.3 -1,0.6 -1,-0.3 -1,0.1 -1,1.1 -1,0.9 -1,0.2 -1,0 -1,0.4 -1,0.9 -1,0.5 -1,-0.1 -1,-0.2 -1,-0.4 -1,0.1 -1,0.2 -1,0 -1,-0.1 -1,-0.7 -1,-1.5 -1,-0.9 -1,-0.1 -1,0.6 -1,0.4 -1,0 -1,-0.4 -1,-0.5 -1,-0.7 -1,-0.8 -1,-0.7 -1,-0.5 -1,-0.8 -1,-1.7 -1,-2.2 -1,-2.4 -1,-2.4 -1,-2.6 -1,-3 -1,-2.8 -1,-2.7 -1,-2.3 -1,-1.4 -1,-1.2 -1,-1 -1,-0.7 -1,-1.4 -1,-1.8 -1,-1.7 -1,-0.1 -1,0.2 -1,0.6 -1,1.7 -1,1.9 -1,1.3 -1,0.9 -1,1.6 -1,2.2 -1,2.7 -1,2.7 -1,1.9 -1,1.6 -1,1.5 -1,1.5 -1,1.1 -1,1.2 -1,1.7 -1,2 -1,1.9 -1,1.8 -1,1.3 -1,1.1 -1,1.2 -1,1.5 -1,1.3 -1,0.4 -1,0.2 -1,0.4 -1,0.5 -1,0.5 -1,0.5 -1,0.5 -1,0.2 -1,0.2 -1,0.3 -1,0.7 -1,0.5 -1,-0.1 -1,-0.3 -1,0 -1,0.8 -1,0.8 -1,0.7 -1,0.9 -1,0.4 -1,-0.1 -1,0.4 -1,0.4 -1,0.2 -1,0.3 -1,0.4 -1,0 -1,-0.4 -1,0.3 -1,0.9 -1,0.7 -1,-0.2 -1,-0.5 -1,-0.4 -1,-0.4 -1,0 -1,0.6 -1,0.8 -1,-0.3 -1,-0.8 -1,0 -1,0.7 -1,0.5 -1,0.6 -1,0.6 -1,-0.4 -1,-1.2 -1,-1 -1,0.2 -1,0.5 -1,-0.3 -1,-0.3 -1,-0.1 -1,0.4 -1,0.6 -1,0.2 -1,-0.2 -1,0.4 -1,0.7 -1,0.2 -1,-0.7 -1,-1 -1,-0.3 -1,0.5 -1,0.8 -1,0.5 -1,-0.1 -1,0.3 -1,0.1 -1,-0.1 -1,0.6 -1,0.7 -1,0.5 -1,0 -1,-0.3 -1,0.2 -1,0.2 -1,0 -1,0 -1,-0.1 -1,-0.2 -1,-0.3 -1,-0.4 -1,-0.6 -1,0 -1,0.5 -1,0.6 -1,0.6 -1,0.6 -1,0 -1,-0.8 -1,-0.5 -1,-0.4 -1,-0.8 -1,-0.7 -1,-0.4 -1,-0.8 -1,-1.2 -1,-1.2 -1,-1.5 -1,-1.3 -1,-0.2 -1,0.5 -1,-0.1 -1,-0.8 -1,-0.2 -1,1.4 -1,1.5 -1,1 -1,0.6 -1,0.5 -1,0.6 -1,0.4 -1,0.1 -1,-0.3 -1,-0.5 -1,-0.2 -1,0.3 -1,0.3 -1,-0.1 -1,-0.1 -1,0.1 -1,0.8 -1,1.4 -1,1.3 -1,0.7 -1,0.2 -1,0.2 -1,0.2 -1,1.2 -1,1.4 -1,0.3 -1,-0.4 -1,-0.4 -1,0 -1,0.4 -1,0.9 -1,1.3 -1,0.5 -1,-0.5 -1,-0.6 -1,-0.1 -1,-0.1 -1,0.3 -1,0.8 -1,0.6 -1,0.1 -1,0 -1,-0.3 -1,-0.1 -1,0.7 -1,0.5 -1,0.1 -1,-0.3 -1,-0.1 -1,0.3 -1,0.1 -1,0.5 -1,0.6 -1,0.4 -1,0.1 -1,0.1 -1,-0.6 -1,-1 -1,-0.6 -1,0.2 -1,0.7 -1,0.3 -1,-0.1 -1,-0.9 -1,-1 -1,0.1 -1,0.7 -1,0.4 -1,0.3 -1,0.6 -1,0.2 -1,-1.1 -1,-1.3 -1,-0.6 -1,-0.4 -1,-0.5 -1,0.2 -1,0.7 -1,0.6 -1,0.6 -1,0.1 -1,-0.7 -1,-1.3 -1,-0.7 -1,-0.7 -1,-1.3 -1,-0.6 -1,0 -1,-0.6 -1,-0.7 -1,-0.8 -1,-0.8 -1,-0.3 -1,0.5 -1,0.7 -1,0.1 -1,-0.4 -1,-1.4 -1,-1.4 -1,-0.4 -1,-0.2 -1,-0.4 -1,-0.2 -1,0.3 -1,0 -1,-0.1 -1,0.1 -1,-0.8 -1,-0.6 -1,0 -1,-0.3 -1,-1.2 -1,-1.8 -1,-1.5 -1,-0.9 -1,-0.5 -1,0.3 -1,0.7 -1,0.7 -1,-0.5 -1,-1.3 -1,-0.7 -1,-0.4 -1,-1.1 -1,-1.6 -1,-1.3 -1,-0.5 -1,-0.5 -1,-1.3 -1,-2.1 -1,-3.6 -1,-5.3 -1,-5.6 -1,-5.2 -1,-4.4 -1,-3.2 -1,-3 -1,-3.4 -1,-2.8 -1,-1.9 -1,-1 -1,-0.6 -1,0.8 -1,2.4 -1,2.7 -1,3.3 -1,4.1 -1,3.9 -1,4.4 -1,5.7 -1,6.5 -1,6.1 -1,3.9 -1,2.5 -1,1.6 -1,1.3 -1,1 -1,0.6 -1,1 -1,1.3 -1,1.1 -1,1.7 -1,2.4 -1,1.6 -1,1.1 -1,1.4 -1,1.6 -1,1.1 -1,0.5 -1,-0.2 -1,-0.1 -1,0.9 -1,0.9 -1,0.3 -1,-0.1 -1,0.4 -1,0.5 -1,0.2 -1,0.3 -1,0.7 -1,1.3 -1,1 -1,0.3 -1,0 -1,0 -1,-0.2 -1,-0.3 -1,0.1 -1,0.4 -1,-0.2 -1,-0.3 -1,-0.1 -1,0.2 -1,0.4 -1,0.1 -1,0.1 -1,1 -1,1.2 -1,0.5 -1,-0.6 -1,-1 -1,-0.6 -1,-0.1 -1,0 -1,0 -1,-0.6 -1,-0.1 -1,0.8 -1,0.3 -1,0.2 -1,0.1 -1,-0.3 -1,-1 -1,-1.5 -1,-1.4 -1,-0.7 -1,-1 -1,-0.7 -1,-0.1 -1,-0.2 -1,-0.1 -1,0.4 -1,0.8 -1,0.5 -1,0.6 -1,0.6 -1,0.4 -1,0.7 -1,1.2 -1,1.7 -1,1.9 -1,1.7 -1,1.5 -1,1.8 -1,2 -1,1.1 -1,0.8 -1,1.1 -1,0.8 -1,0.6 -1,0.8 -1,1.4 -1,1.8 -1,1.5 -1,0.4 -1,-0.4 -1,0.2 -1,0.5 -1,1.1 -1,1.5 -1,0.7 -1,0.6 -1,0.6 -1,-0.1 -1,-1.1 -1,-0.5 -1,0.1 -1,0.2 -1,0.4 -1,0.4 -1,-0.3 -1,-0.5 -1,-0.2 -1,-0.2 -1,-0.1 -1,-0.1 -1,0.1 -1,0.2 -1,0.3 -1,0.2 -1,-0.1 -1,0.1 -1,0.2 -1,0.2 -1,0 -1,-0.1 -1,-0.1 -1,-0.2 -1,-0.3 -1,0.1 -1,0.1 -1,-0.1 -1,-0.3 -1,0 -1,0 -1,0.3 -1,0.3 -1,0 -1,-0.3 -1,-0.3 -1,-0.2 -1,-0.1 -1,0 -1,0.5 -1,0.6 -1,0.2 -1,-0.1 -1,-0.1 -1,-0.1 -1,0 -1,0 -1,0 -1,0.1 -1,-0.1 -1,-0.3 -1,-0.2 -1,0.1 -1,0 -1,0 -1,0 -1,-0.1 -1,0 -1,0.3 -1,0.1 -1,-0.1 -1,0 -1,0.3 -1,0.2 -1,0.2 -1,-0.1 -1,-0.3 -1,0.1 -1,0.1 -1,0.1 -1,0 -1,-0.3 -1,-0.3 -1,0 -1,-0.1 -1,0 -1,-0.1 -1,0 -1,-0.1 -1,0 -1,0 -1,0.1 -1,0 -1,0.1 -1,0.2 -1,0.1 -1,0 -1,-0.1 -1,0 -1,0.1 -1,-0.1 -1,0 -1,0.1 -1,0.1 -1,-0.2 -1,-0.2 -1,0 -1,0.1 -1,-0.2 -1,-0.1 -1,0.5 -1,0.5 -1,0 -1,-0.3 -1,-0.3 -1,-0.5 -1,-0.3 -1,0 -1,0.2 -1,0.4 -1,0.4 -1,0.2 -1,-0.1 -1,-0.1 -1,-0.3 -1,-0.3 -1,-0.2 -1,0.1 -1,0.3 -1,0.2 -1,-0.1 -1,0 -1,0.2 -1,0 -1,-0.1 -1,0 -1,0.1 -1,0 -1,0 -1,0.2 -1,0.3 -1,-0.1 -1,-0.4 -1,-0.2 -1,0 -1,0.1 -1,0 -1,-0.1 -1,0.1 -1,-0.1 -1,0 -1,0.4 -1,0.2 -1,-0.2 -1,-0.2 -1,-0.1 -1,0 -1,-0.1 -1,-0.2 -1,0.1 -1,0.2 -1,0.1 -1,0 -1,-0.2 -1,0 -1,0.3 -1,0.2 -1,0 -1,0 -1,0 -1,0 -1,0.1 -1,-0.1 -1,-0.2 -1,-0.2 -1,0.2 -1,0 -1,-0.4 -1,-0.1 -1,0.2 -1,0.4 -1,0.1 -1,-0.1 -1,0 -1,0.1 -1,-0.1 -1,-0.2 -1,-0.1 -1,0.2 -1,0.1 -1,0.1 -1,0.2 -1,0 -1,0 -1,0.1 -1,0.1 -1,-0.3 -1,-0.3 -1,0.1 -1,0.2 -1,-0.1 -1,-0.1 -1,0 -1,0.1 -1,0 -1,-0.1 -1,-0.2 -1,0 -1,0.1 -1,0 -1,0 -1,-0.1 -1,-0.1 -1,0 -1,0.4 -1,0.3 -1,-0.1 -1,-0.1 -1,0.1 -1,-0.2 -1,-0.4 -1,-0.3 -1,-0.1 -1,0.1 -1,0.2 -1,0.2 -1,0.2 -1,0.3 -1,0.3 -1,-0.1 -1,-0.3 -1,-0.3 -1,-0.3 -1,0 -1,0.2 -1,0 -1,-0.2 -1,0 -1,0.1 -1,0.1 -1,0.2 -1,0.1 -1,0 -1,0.2 -1,0.2 -1,0.1 -1,-0.1 -1,0 -1,0.1 -1,-0.1 -1,-0.3 -1,0.1 -1,0.1 -1,-0.2 -1,-0.3 -1,-0.1 -1,0.1 -1,0 -1,0.1 -1,0.2 -1,0 -1,0.1 -1,0.1 -1,0.1 -1,0 -1,-0.1 -1,-0.2 -1,-0.4 -1,-0.1 -1,0.1 -1,-0.1 -1,0.1 -1,0.2 -1,0 -1,-0.2 -1,0.1 -1,0 -1,-0.2 -1,-0.2 -1,-0.2 -1,0 -1,0.1 -1,0.1 -1,0.1 -1,0.1 -1,0 -1,-0.2 -1,0.1 -1,0.1 -1,0 -1,-0.2 -1,0 -1,-0.1 -1,-0.1 -1,0.3 -1,0.2 -1,-0.3 -1,-0.4 -1,-0.4 -1,-0.6 -1,-1.5 -1,-1.7 -1,-1.3 -1,-1 -1,-0.9 -1,-0.6 -1,0.2 -1,0.7 -1,1.2 -1,1.6 -1,1.5 -1,1 -1,0.8 -1,1.2 -1,1.1 -1,0.4 -1,0 -1,-0.2 -1,-0.3 -1,-0.2 -1,-0.2 -1,-0.2 -1,0 -1,0.1 -1,0.4 -1,0.2 -1,0.1 -1,-0.1 -1,-0.1 -1,-0.1 -1,0.1 -1,0.1 -1,-0.3 -1,-0.3 -1,-0.2 -1,0 -1,-0.1 -1,0 -1,-0.1 -1,-0.1 -1,0 -1,0.2 -1,0.2 -1,0.2 -1,0 -1,0.1 -1,0.4 -1,-0.1 -1,-0.3 -1,0 -1,-0.2 -1,-0.2 -1,0 -1,0.2 -1,0.1 -1,0 -1,0.1 -1,0.1 -1,-0.1 -1,-0.2 -1,-0.1 -1,0 -1,0.1 -1,0 -1,-0.1 -1,0.2 -1,0.2 -1,0 -1,0.1 -1,0.1 -1,-0.2 -1,-0.2 -1,0.1 -1,0.2 -1,0.1 -1,0.2 -1,0 -1,-0.2 -1,-0.1 -1,-0.1 -1,-0.3 -1,-0.3 -1,-0.1 -1,0.2 -1,0.3 -1,0.1 -1,0.1 -1,0.1 -1,0.1 -1,0.1 -1,0.2 -1,-0.1 -1,-0.3 -1,-0.4 -1,0.2 -1,0.6 -1,0.1 -1,-0.3 -1,-0.3 -1,0 -1,-0.1 -1,-0.1 -1,0.1 -1,0.2 -1,0 -1,-0.2 -1,-0.2 -1,-0.1 -1,0.2 -1,0.2 -1,0 -1,-0.2 -1,-0.4 -1,-0.5 -1,0 -1,0.1 -1,0.3 -1,0.4 -1,0 -1,-0.2 -1,-0.2 -1,0.1 -1,0.3 -1,0.3 -1,0.2 -1,-0.1 -1,-0.5 -1,-0.2 -1,0.1 -1,0.3 -1,0.3 -1,0.4 -1,-0.1 -1,-0.3 -1,-0.1 -1,-0.1 -1,0 -1,0.1 -1,0 -1,-0.2 -1,-0.4 -1,-0.4 -1,0 -1,0.1 -1,0.2 -1,0.2 -1,0.3 -1,0.1 -1,0 -1,-0.3 -1,-0.6 -1,-0.4 -1,0 -1,0.2 -1,0.2 -1,0.2 -1,0.3 -1,0.2 -1,0.1 -1,0.4 -1,0.2 -1,-0.2 -1,-0.2 -1,0.1 -1,0.3 -1,0.1 -1,-0.1 -1,-0.2 -1,0.1 -1,0.1 -1,-0.1 -1,0 -1,0.1 -1,-0.1 -1,-0.3 -1,-0.3 -1,-0.3 -1,-0.1 -1,0 -1,-0.2 -1,0 -1,0 -1,0.1 -1,0.1 -1,0.1 -1,0.2 -1,0.2 -1,0 -1,0.1 -1,0.2 -1,0 -1,0.3 -1,0 -1,-0.5 -1,-0.3 -1,0.2 -1,0.5 -1,0.5 -1,0.2 -1,-0.3 -1,-0.5 -1,-0.4 -1,0 -1,0.1 -1,0 -1,0.2 -1,0.3 -1,0.1 -1,0.2 -1,0.2 -1,0 -1,-0.1 -1,0 -1,0.3 -1,0.1 -1,0 -1,-0.1 -1,-0.1 -1,-0.2 -1,-0.1 -1,0 -1,-0.1 -1,-0.1 -1,-0.2 -1,-0.3 -1,-0.3 -1,-0.4 -1,-0.1 -1,0.3 -1,0.4 -1,0 -1,-0.1 -1,0.1 -1,0.2 -1,0.1 -1,0.3 -1,0.5 -1,0 -1,-0.2 -1,-0.2 -1,0.1 -1,0.2 -1,0.1 -1,0.1 -1,0.1 -1,-0.3 -1,-0.4 -1,-0.4 -1,-0.2 -1,0 -1,0.1 -1,0.2 -1,0 -1,-0.1 -1,0.1 -1,0.2 -1,0.2 -1,0 -1,-0.2 -1,-0.2 -1,-0.1 -1,0.1 -1,0.1 -1,0 -1,-0.1 -1,0.2 -1,0.2 -1,0 -1,-0.1 -1,0.3 -1,0.1 -1,-0.3 -1,-0.4 -1,-0.3 -1,-0.1 -1,0 -1,0 -1,-0.1 -1,0 -1,0.2 -1,0.2 -1,-0.2 -1,0.1 -1,0.4 -1,0.1 -1,-0.3 -1,-0.2 -1,0.1 -1,0.1 -1,-0.2 -1,-0.2 -1,-0.1 -1,0 -1,0.1 -1,0.2 -1,0.1 -1,0 -1,-0.2 -1,-0.4 -1,-0.1 -1,0 -1,0.1 -1,0.1 -1,0 -1,0.1 -1,0.1 -1,0.2 -1,0.3 -1,0 -1,-0.6 -1,-0.8 -1,0 -1,0.4 -1,0.1 -1,0 -1,-0.3 -1,-0.5 -1,-0.3 -1,-0.1 -1,0 -1,0.4 -1,0.2 -1,-0.4 -1,-0.6 -1,-0.4 -1,-0.1 -1,-0.4 -1,-0.9 -1,-1.2 -1,-1.3 -1,-0.9 -1,0 -1,0.5 -1,0.1 -1,-0.4 -1,-0.8 -1,-0.2 -1,-0.1 -1,-0.1 -1,-0.2 -1,0.2 -1,0.4 -1,0 -1,0 -1,0.6 -1,0.6 -1,-0.2 -1,-0.3 -1,-0.2 -1,0.1 -1,1.1 -1,0.7 -1,0.2 -1,-0.1 -1,-0.5 -1,-0.5 -1,-0.2 -1,0.3 -1,0.1 -1,-0.6 -1,-0.1 -1,0.7 -1,0.3 -1,-0.2 -1,0.6 -1,0.2 -1,-1.1 -1,-1 -1,0 -1,0.5 -1,0.2 -1,0 -1,0.2 -1,0.7 -1,0.7 -1,0.2 -1,-0.3 -1,-0.3 -1,-0.1 -1,-0.1 -1,0 -1,-0.3 -1,-0.5 -1,-0.3 -1,-0.7 -1,-0.7 -1,-0.2 -1,0.1 -1,-0.1 -1,-0.8 -1,-1.2 -1,-0.3 -1,0.5 -1,0.1 -1,-0.6 -1,-0.5 -1,-0.3 -1,-0.9 -1,-1.7 -1,-2.5 -1,-2.3 -1,-1.4 -1,-1.3 -1,-1.3 -1,-0.6 -1,-0.4 -1,-1 -1,-1.3 -1,-0.7 -1,-0.7 -1,-1 -1,-0.3 -1,0.4 -1,0.8 -1,0.7 -1,1 -1,1.5 -1,1.4 -1,1 -1,0.6 -1,0.4 -1,0.3 -1,0.2 -1,0.6 -1,1.1 -1,1.4 -1,1.1 -1,0.8 -1,1.2 -1,1 -1,0.2 -1,0 -1,0.1 -1,0.6 -1,1.1 -1,0.8 -1,-0.4 -1,-0.3 -1,1.1 -1,0.9 -1,1 -1,1.2 -1,0.5 -1,-0.6 -1,-0.6 -1,-0.1 -1,-0.4 -1,-0.2 -1,0.3 -1,0.7 -1,0.1 -1,0.2 -1,0.9 -1,0.6 -1,0.1 -1,0.1 -1,0 -1,-0.5 -1,-0.9 -1,0 -1,0.8 -1,1 -1,0.8 -1,-0.1 -1,-0.4 -1,-0.2 -1,-0.1 -1,0 -1,-0.4 -1,-0.4 -1,0.1 -1,0.4 -1,0.2 -1,0.2 -1,0.1 -1,0.7 -1,0.5 -1,0.1 -1,-0.4 -1,-0.9 -1,-0.4 -1,0.3 -1,-0.1 -1,0 -1,0.6 -1,0.9 -1,0.7 -1,0.5 -1,0.1 -1,0 -1,0.5 -1,0 -1,-0.9 -1,-0.6 -1,0.6 -1,1.1 -1,0.4 -1,-0.6 -1,-0.2 -1,0.3 -1,-0.6 -1,-0.4 -1,0.5 -1,1.3 -1,0.9 -1,0 -1,-1 -1,-0.5 -1,-0.1 -1,0.2 -1,0.1 -1,0.5 -1,0.5 -1,-0.5 -1,-0.6 -1,-0.4 -1,-0.4 -1,0 -1,0.2 -1,-0.5 -1,-0.9 -1,0.2 -1,0.9 -1,0.2 -1,-0.4 -1,0 -1,0.2 -1,-0.3 -1,-0.2 -1,-0.2 -1,-0.7 -1,-0.5 -1,-0.1 -1,-0.2 -1,-0.8 -1,-0.4 -1,0.3 -1,0.2 -1,0 -1,0.2 -1,0.2 -1,-0.3 -1,-0.5 -1,0.4 -1,0.4 -1,0.1 -1,0.3 -1,0.1 -1,-0.2 -1,-0.5 -1,-0.7 -1,-0.6 -1,-0.2 -1,0.4 -1,0.5 -1,1.2 -1,1.3 -1,-0.2 -1,-1 -1,-0.9 -1,0.2 -1,0.5 -1,0.7 -1,0.4 -1,-1.1 -1,-1 -1,0.4 -1,1 -1,0.2 -1,0.2 -1,0.3 -1,0.2 -1,-0.2 -1,-0.6 -1,-0.5 -1,-0.4 -1,-0.5 -1,-0.4 -1,0.2 -1,0.7 -1,0.6 -1,0.4 -1,0.7 -1,0.9 -1,0.5 -1,-0.3 -1,-0.3 -1,0 -1,0 -1,0 -1,-0.3 -1,-0.5 -1,0 -1,0.9 -1,0.7 -1,-0.4 -1,-0.5 -1,-0.1 -1,0.3 -1,0.3 -1,0.7 -1,0.8 -1,0.7 -1,0.3 -1,-0.3 -1,0.3 -1,0.3 -1,-0.6 -1,-0.7 -1,-0.6 -1,-0.4 -1,0.1 -1,0 -1,-0.3 -1,0.6 -1,0.8 -1,-0.1 -1,-0.8 -1,-0.1 -1,0.4 -1,0.3 -1,0.2 -1,0 -1,-0.2 -1,-0.1 -1,-0.5 -1,-0.1 -1,0.6 -1,-0.3 -1,-1.2 -1,-0.4 -1,0 -1,0.4 -1,0.1 -1,0.3 -1,1 -1,1.1 -1,0.2 -1,-0.6 -1,-0.4 -1,0 -1,0.1 -1,-0.5 -1,-1.1 -1,-1 -1,-0.4 -1,0.4 -1,0.2 -1,0.1 -1,0.7 -1,0.2 -1,-0.8 -1,-0.4 -1,0.2 -1,0 -1,0.1 -1,0.4 -1,-0.1 -1,-0.8 -1,-0.7 -1,-0.1 -1,0.3 -1,-0.2 -1,-0.3 -1,0.1 -1,-0.4 -1,-0.1 -1,0.4 -1,0 -1,-0.2 -1,-0.1 -1,0.2 -1,0.8 -1,0.6 -1,-0.3 -1,-0.6 -1,-0.8 -1,-0.5 -1,-0.3 -1,0 -1,0.1 -1,0 -1,0.6 -1,0.7 -1,-0.1 -1,-0.5 -1,-0.2 -1,0.6 -1,1 -1,0.4 -1,0 -1,-0.7 -1,-1 -1,-0.1 -1,0.9 -1,0.7 -1,-0.2 -1,-0.3 -1,0.4 -1,1.1 -1,0.2 -1,-0.9 -1,-0.1 -1,0.6 -1,0.7 -1,0.5 -1,0.1 -1,0 -1,0.3 -1,0.5 -1,0.6 -1,0.2 -1,-0.5 -1,-0.2 -1,0 -1,0 -1,0 -1,-0.1 -1,-0.8 -1,-0.9 -1,0.1 -1,0.4 -1,0 -1,-0.1 -1,-0.4 -1,-0.8 -1,-0.6 -1,0.3 -1,0.6 -1,0 -1,-0.1 -1,0.5 -1,0.9 -1,0.8 -1,0.5 -1,-0.5 -1,-1.2 -1,-0.7 -1,0.4 -1,0.3 -1,0.2 -1,0.4 -1,0.1 -1,-0.4 -1,-0.3 -1,0.1 -1,0.1 -1,-0.2 -1,-0.5 -1,-0.1 -1,0.4 -1,0.8 -1,0.8 -1,-0.2 -1,-0.8 -1,-1.1 -1,-0.8 -1,0.1 -1,0.7 -1,0.6 -1,0.5 -1,0.4 -1,0.2 -1,-0.9 -1,-1.2 -1,0 -1,0.8 -1,0.4 -1,-0.3 -1,-0.8 -1,-0.5 -1,-0.4 -1,-0.3 -1,-0.5 -1,-0.9 -1,-0.8 -1,-0.6 -1,-0.6 -1,-0.4 -1,0.2 -1,1 -1,0.6 -1,-0.1 -1,0.3 -1,0.3 -1,-0.2 -1,0.1 -1,0.2 -1,-0.3 -1,-0.7 -1,0.4 -1,1.2 -1,1.1 -1,0.9 -1,0.2 -1,-0.5 -1,-0.6 -1,0.2 -1,0.2 -1,-0.3 -1,-0.3 -1,0.4 -1,0.5 -1,0.1 -1,-0.3 -1,-0.5 -1,0.3 -1,1 -1,1.1 -1,0 -1,-0.7 -1,-0.7 -1,0.1 -1,0.4 -1,0.9 -1,-0.1 -1,-0.5 -1,0.1 -1,0.5 -1,0.1 -1,-0.1 -1,-0.1 -1,0.4 -1,0.5 -1,0.2 -1,0 -1,-0.2 -1,-0.2 -1,0.5 -1,0.5 -1,0.3 -1,0.2 -1,-0.3 -1,-0.8 -1,-0.5 -1,0.7 -1,0.6 -1,0.2 -1,0.4 -1,-0.1 -1,-0.2 -1,0.2 -1,0.4 -1,0.1 -1,0.2 -1,0.3 -1,0.1 -1,0.3 -1,-0.2 -1,-0.5 -1,-0.4z"/>
</g>
<g stroke="#000" stroke-width="8.2" stroke-linecap="round" stroke-linejoin="round" fill="none">
<path d="M142,23 L142,1830.5 L2270.1,1830.5"/>
<path d="M284.1,1830.5 L284.1,1808.5"/>
<path d="M426.0,1830.5 L426.0,1788.5"/>
<path d="M567.8,1830.5 L567.8,1808.5"/>
<path d="M709.7,1830.5 L709.7,1788.5"/>
<path d="M851.5,1830.5 L851.5,1808.5"/>
<path d="M993.4,1830.5 L993.4,1788.5"/>
<path d="M1135.3,1830.5 L1135.3,1808.5"/>
<path d="M1277.1,1830.5 L1277.1,1788.5"/>
<path d="M1419.0,1830.5 L1419.0,1808.5"/>
<path d="M1560.8,1830.5 L1560.8,1788.5"/>
<path d="M1702.7,1830.5 L1702.7,1808.5"/>
<path d="M1844.5,1830.5 L1844.5,1788.5"/>
<path d="M1986.4,1830.5 L1986.4,1808.5"/>
<path d="M2128.3,1830.5 L2128.3,1788.5"/>
<path d="M2270.1,1830.5 L2270.1,1808.5"/>
</g>
<text id="t-600" font-family="Liberation Sans, Arial, sans-serif" font-size="90" fill="#000" transform="translate(50.8,1945.0) scale(1,1.03)">-600</text>
<text id="t-400" font-family="Liberation Sans, Arial, sans-serif" font-size="90" fill="#000" transform="translate(334.8,1945.0) scale(1,1.03)">-400</text>
<text id="t-200" font-family="Liberation Sans, Arial, sans-serif" font-size="90" fill="#000" transform="translate(618.3,1945.0) scale(1,1.03)">-200</text>
<text id="t0" font-family="Liberation Sans, Arial, sans-serif" font-size="90" fill="#000" transform="translate(966.8,1945.0) scale(1,1.03)">0</text>
<text id="t200" font-family="Liberation Sans, Arial, sans-serif" font-size="90" fill="#000" transform="translate(1200.8,1945.0) scale(1,1.03)">200</text>
<text id="t400" font-family="Liberation Sans, Arial, sans-serif" font-size="90" fill="#000" transform="translate(1485.3,1945.0) scale(1,1.03)">400</text>
<text id="t600" font-family="Liberation Sans, Arial, sans-serif" font-size="90" fill="#000" transform="translate(1767.8,1945.0) scale(1,1.03)">600</text>
<text id="t800" font-family="Liberation Sans, Arial, sans-serif" font-size="90" fill="#000" transform="translate(2051.8,1945.0) scale(1,1.03)">800</text>
<text id="p0" font-family="Liberation Serif, Times New Roman, serif" font-size="71" fill="#000" transform="translate(1305.4,226.6) scale(1,1.04)">272.2</text>
<text id="p1" font-family="Liberation Serif, Times New Roman, serif" font-size="71" fill="#000" transform="translate(499.8,357.0) scale(1,1.04)">–274.2</text>
<text id="p2" font-family="Liberation Serif, Times New Roman, serif" font-size="71" fill="#000" transform="translate(1331.4,497.2) scale(1,1.04)">273.6</text>
<text id="p3" font-family="Liberation Serif, Times New Roman, serif" font-size="71" fill="#000" transform="translate(468.8,570.8) scale(1,1.04)">–274.7</text>
<text id="p4" font-family="Liberation Serif, Times New Roman, serif" font-size="71" fill="#000" transform="translate(1353.4,698.4) scale(1,1.04)">273.1</text>
<text id="p5" font-family="Liberation Serif, Times New Roman, serif" font-size="71" fill="#000" transform="translate(468.2,783.0) scale(1,1.04)">–275.7</text>
<text id="p6" font-family="Liberation Serif, Times New Roman, serif" font-size="71" fill="#000" transform="translate(1398.8,906.0) scale(1,1.04)">279.5</text>
<text id="p7" font-family="Liberation Serif, Times New Roman, serif" font-size="71" fill="#000" transform="translate(444.8,973.4) scale(1,1.04)">–282.6</text>
<text id="p8" font-family="Liberation Serif, Times New Roman, serif" font-size="71" fill="#000" transform="translate(1417.2,1134.8) scale(1,1.04)">282.6</text>
<text id="p9" font-family="Liberation Serif, Times New Roman, serif" font-size="71" fill="#000" transform="translate(474.6,1201.4) scale(1,1.04)">–284.2</text>
<text id="p10" font-family="Liberation Serif, Times New Roman, serif" font-size="71" fill="#000" transform="translate(1353.4,1382.8) scale(1,1.04)">285.2</text>
<text id="p11" font-family="Liberation Serif, Times New Roman, serif" font-size="71" fill="#000" transform="translate(472.0,1464.8) scale(1,1.04)">–287.8</text>
<text id="p12" font-family="Liberation Serif, Times New Roman, serif" font-size="71" fill="#000" transform="translate(1331.6,1611.2) scale(1,1.04)">286.8</text>
<text id="p13" font-family="Liberation Serif, Times New Roman, serif" font-size="71" fill="#000" transform="translate(475.8,1695.8) scale(1,1.04)">–289.1</text>
<text id="w0" font-family="Liberation Serif, Times New Roman, serif" font-size="70" fill="#000" transform="translate(1972.4,439.2) scale(1,1.04)">5.1×10<tspan font-size="38" dy="-33.2">4</tspan><tspan dy="33.2">W/cm</tspan><tspan font-size="38" dy="-33.2">2</tspan></text>
<text id="w1" font-family="Liberation Serif, Times New Roman, serif" font-size="70" fill="#000" transform="translate(1975.4,600.4) scale(1,1.04)">4.8×10<tspan font-size="38" dy="-33.2">4</tspan><tspan dy="33.2">W/cm</tspan><tspan font-size="38" dy="-33.2">2</tspan></text>
<text id="w2" font-family="Liberation Serif, Times New Roman, serif" font-size="70" fill="#000" transform="translate(1975.4,818.6) scale(1,1.04)">4.2×10<tspan font-size="38" dy="-33.2">4</tspan><tspan dy="33.2">W/cm</tspan><tspan font-size="38" dy="-33.2">2</tspan></text>
<text id="w3" font-family="Liberation Serif, Times New Roman, serif" font-size="70" fill="#000" transform="translate(1973.4,1032.4) scale(1,1.04)">3.6×10<tspan font-size="38" dy="-33.2">4</tspan><tspan dy="33.2">W/cm</tspan><tspan font-size="38" dy="-33.2">2</tspan></text>
<text id="w4" font-family="Liberation Serif, Times New Roman, serif" font-size="70" fill="#000" transform="translate(1973.4,1241.2) scale(1,1.04)">2.5×10<tspan font-size="38" dy="-33.2">4</tspan><tspan dy="33.2">W/cm</tspan><tspan font-size="38" dy="-33.2">2</tspan></text>
<text id="w5" font-family="Liberation Serif, Times New Roman, serif" font-size="70" fill="#000" transform="translate(1970.4,1427.6) scale(1,1.04)">1.5×10<tspan font-size="38" dy="-33.2">4</tspan><tspan dy="33.2">W/cm</tspan><tspan font-size="38" dy="-33.2">2</tspan></text>
<text id="w6" font-family="Liberation Serif, Times New Roman, serif" font-size="70" fill="#000" transform="translate(1974.4,1629.2) scale(1,1.04)">0.8×10<tspan font-size="38" dy="-33.2">4</tspan><tspan dy="33.2">W/cm</tspan><tspan font-size="38" dy="-33.2">2</tspan></text>
<text id="xt" font-family="Liberation Serif, Times New Roman, serif" font-size="111" fill="#000" transform="translate(782.0,2111.0) scale(1,1.0)">Wavenumber /cm<tspan font-size="65" dy="-55">–1</tspan></text>
<text id="yt" font-family="Liberation Serif, Times New Roman, serif" font-size="111" fill="#000" transform="translate(99.9,1196.0) rotate(-90)">Intensity</text>
</svg>
</body></html>
